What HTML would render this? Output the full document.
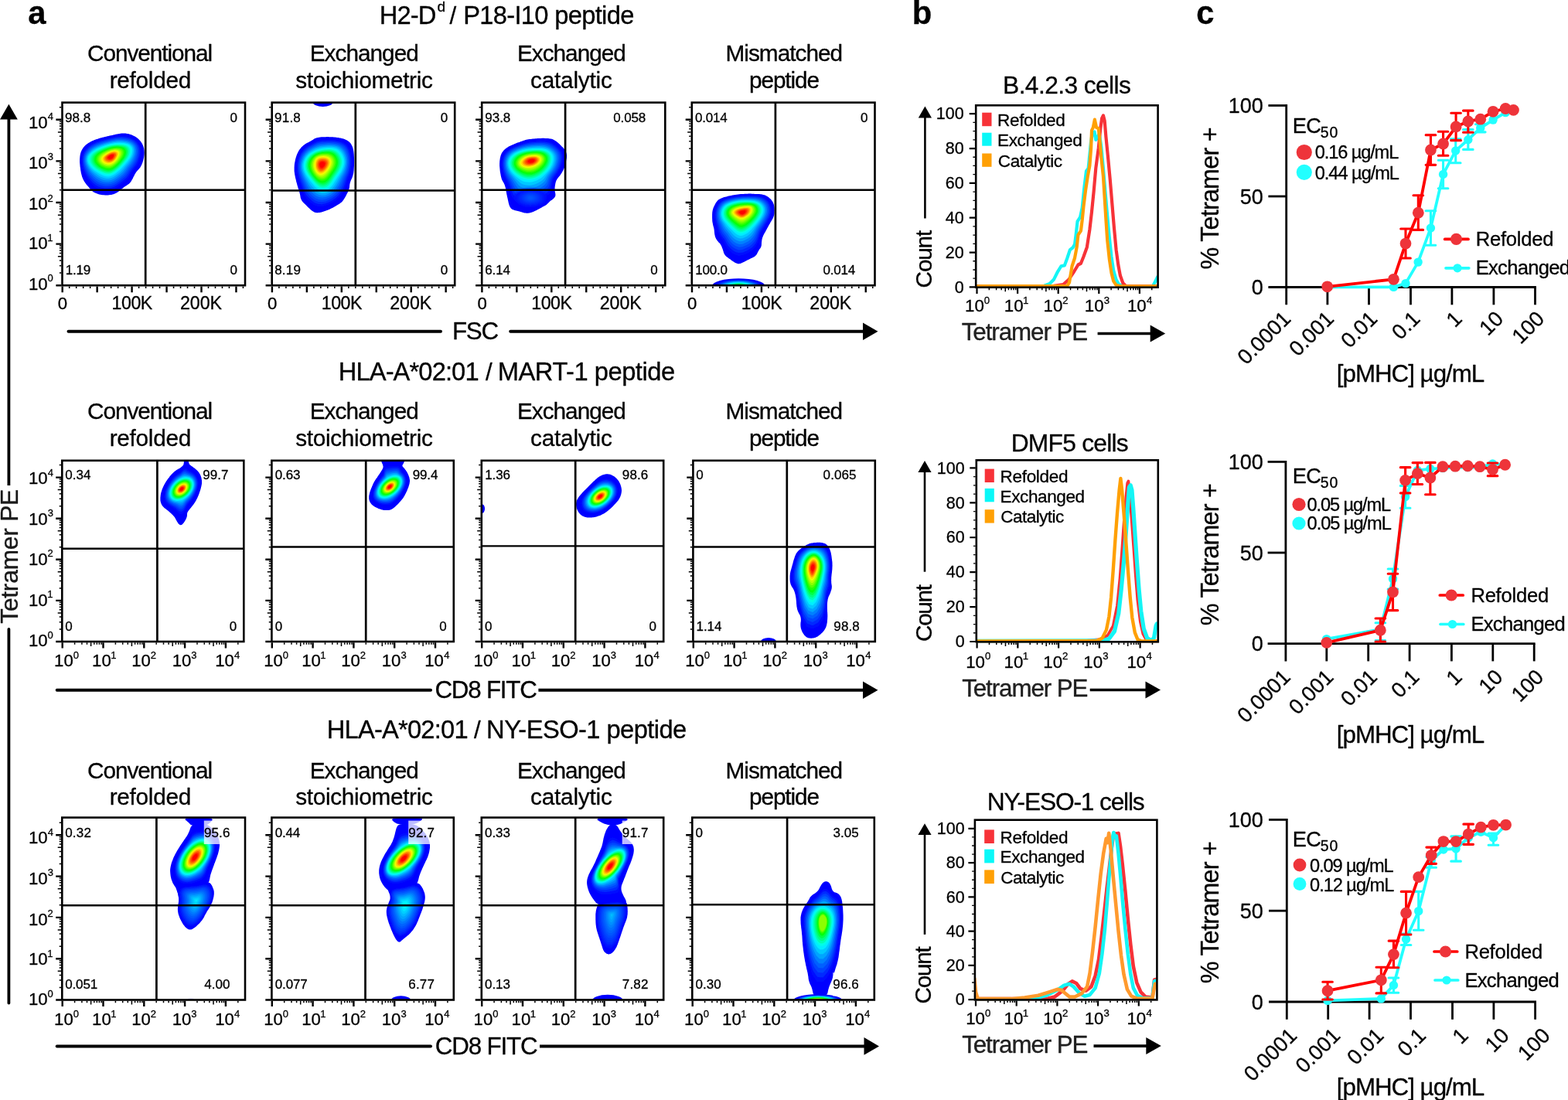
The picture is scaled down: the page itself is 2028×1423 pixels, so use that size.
<!DOCTYPE html>
<html lang="en"><head><meta charset="utf-8"><title>Figure</title>
<style>
html,body{margin:0;padding:0;background:#fff}
body{width:2028px;height:1423px;overflow:hidden}
svg{display:block;font-family:"Liberation Sans",Arial,Helvetica,sans-serif}
svg text{white-space:pre;stroke:#000;stroke-width:.3px;stroke-linejoin:round}
</style></head><body>
<svg width="2028" height="1423" viewBox="0 0 2028 1423" fill="#000">
<defs><filter id="bl" x="-10%" y="-10%" width="120%" height="120%"><feGaussianBlur stdDeviation="0.7"/></filter><filter id="bl2" x="-20%" y="-20%" width="140%" height="140%"><feGaussianBlur stdDeviation="1.6"/></filter></defs>
<g>
<!-- plot a1.1 -->
<clipPath id="cp00"><rect x="80.5" y="132.65" width="236.5" height="236.55"/></clipPath>
<g clip-path="url(#cp00)">
<path d="M161.1 172.5l1.2 0.1 1.1 0.1 1.2 0.2 1.2 0.2 1.2 0.3 1.2 0.4 1.2 0.4 1.2 0.4 1.2 0.6 1.1 0.5 1.1 0.6 1 0.5 1 0.7 0.9 0.6 0.9 0.7 0.9 0.6 0.8 0.8 0.7 0.7 0.7 0.8 0.7 0.8 0.6 0.8 0.6 0.9 0.6 0.9 0.5 0.9 0.5 0.9 0.4 1 0.4 0.9 0.3 1 0.3 1 0.3 1 0.2 1 0.1 1 0.2 1.1 0 1 0.1 1.1 0 1.1 -0.1 1.1 0 1.1 -0.2 1.1 -0.1 1.2 -0.2 1.2 -0.3 1.2 -0.2 1.1 -0.3 1.2 -0.4 1.1 -0.3 1.2 -0.4 1.1 -0.5 1.1 -0.4 1.1 -0.5 1.1 -0.6 1 -0.5 1 -0.6 0.9 -0.7 0.8 -0.6 0.8 -0.7 0.8 -0.7 0.7 -0.7 0.7 -0.6 0.8 -0.7 0.8 -0.6 0.9 -0.5 0.8 -0.6 0.9 -0.5 0.9 -0.4 1 -0.5 0.9 -0.5 0.9 -0.5 1 -0.4 0.9 -0.5 0.9 -0.5 0.9 -0.5 0.8 -0.4 0.9 -0.6 0.8 -0.6 0.9 -0.7 0.7 -0.7 0.8 -0.8 0.7 -0.9 0.7 -1 0.7 -1 0.6 -1 0.6 -1 0.7 -0.9 0.6 -0.9 0.7 -0.9 0.7 -0.9 0.7 -0.8 0.7 -0.8 0.7 -0.8 0.7 -0.8 0.7 -0.9 0.6 -0.9 0.7 -1 0.6 -0.9 0.6 -1 0.5 -1.1 0.6 -1.1 0.5 -1.2 0.4 -1.3 0.4 -1.4 0.3 -1.4 0.2 -1.6 0.2 -1.6 0.1 -1.8 0 -1.7 0 -1.6 -0.1 -1.6 -0.1 -1.6 -0.2 -1.4 -0.3 -1.5 -0.3 -1.4 -0.4 -1.3 -0.4 -1.3 -0.5 -1.2 -0.5 -1.1 -0.6 -1 -0.6 -1 -0.7 -0.8 -0.7 -0.8 -0.7 -0.7 -0.8 -0.8 -0.8 -0.7 -0.8 -0.7 -0.9 -0.8 -0.9 -0.7 -0.8 -0.8 -1 -0.8 -0.9 -0.8 -0.9 -0.7 -1 -0.7 -1 -0.7 -0.9 -0.6 -1 -0.6 -1 -0.5 -1 -0.5 -1 -0.4 -1.1 -0.4 -1 -0.4 -1.1 -0.3 -1.1 -0.3 -1.1 -0.3 -1.1 -0.3 -1.2 -0.2 -1.1 -0.2 -1.2 -0.2 -1.2 -0.2 -1.2 -0.1 -1.2 -0.2 -1.2 -0.2 -1.1 -0.1 -1.2 -0.1 -1.2 -0.1 -1.2 -0.1 -1.2 -0.1 -1.2 0 -1.2 0 -1.1 0 -1.2 0.1 -1.2 0.1 -1.2 0.1 -1.2 0.1 -1.1 0.2 -1.1 0.2 -1.1 0.3 -1 0.3 -1 0.3 -1 0.4 -0.9 0.4 -0.9 0.4 -0.8 0.5 -0.8 0.5 -0.8 0.6 -0.8 0.5 -0.8 0.7 -0.8 0.6 -0.7 0.8 -0.7 0.7 -0.7 0.8 -0.7 0.8 -0.6 0.9 -0.6 0.9 -0.7 1 -0.6 0.9 -0.5 1.1 -0.6 1 -0.5 1.1 -0.5 1.2 -0.5 1.2 -0.5 1.2 -0.5 1.3 -0.5 1.3 -0.4 1.3 -0.5 1.4 -0.4 1.4 -0.4 1.4 -0.4 1.5 -0.4 1.5 -0.4 1.5 -0.4 1.6 -0.3 1.5 -0.4 1.6 -0.4 1.6 -0.3 1.6 -0.4 1.6 -0.3 1.5 -0.4 1.6 -0.3 1.6 -0.4 1.6 -0.3 1.5 -0.3 1.5 -0.3 1.4 -0.2 1.4 -0.1 1.4 -0.1 1.2 0z" fill="#0000ff"/>
<g filter="url(#bl)">
<path d="M181.8 202.6l-1 3.6 -1.3 3.5 -1.6 3.3 -2 2.9 -2.2 2.7 -2 2.7 -1.8 2.8 -1.7 3 -2 3 -2.4 2.7 -2.8 2.3 -3 2.2 -3.1 2.4 -3.4 2.5 -3.8 2 -4.1 1.3 -4.2 0.6 -4.4 -0.1 -4.3 -0.8 -4.2 -1.3 -3.8 -2.2 -3.3 -2.9 -3 -3.1 -2.7 -3.2 -2.3 -3.5 -1.8 -3.6 -1.4 -3.9 -1.1 -3.8 -0.8 -3.8 -0.5 -3.8 0 -3.8 0.4 -3.7 0.9 -3.6 1.6 -3.4 2.1 -3 2.5 -2.6 2.7 -2.2 2.9 -1.8 2.8 -1.4 2.8 -1.2 2.6 -1 2.5 -0.8 2.4 -0.7 2.4 -0.7 2.3 -0.6 2.3 -0.5 2.3 -0.6 2.3 -0.5 2.5 -0.6 2.7 -0.5 2.8 -0.6 3.1 -0.4 3.3 -0.2 3.4 0.2 3.6 0.7 3.5 1.1 3.6 1.5 3.3 2.2 2.8 2.7 2.2 3.3 1.3 3.6 0.7 3.9 0 3.9z" fill="#000eff"/>
<path d="M180 202.6l-1 3.5 -1.4 3.2 -1.6 3.1 -1.9 2.8 -2.1 2.5 -1.9 2.5 -1.7 2.7 -1.7 2.8 -1.8 2.7 -2.3 2.5 -2.6 2.2 -2.8 2.1 -3 2.3 -3.2 2.3 -3.5 1.9 -3.9 1.3 -4 0.5 -4.1 -0.1 -4.1 -0.6 -3.9 -1.3 -3.6 -2 -3.2 -2.6 -2.8 -2.9 -2.7 -3 -2.3 -3.2 -1.9 -3.4 -1.5 -3.6 -1.1 -3.6 -0.9 -3.7 -0.6 -3.6 -0.1 -3.7 0.5 -3.6 1 -3.5 1.7 -3.2 2.1 -2.9 2.5 -2.4 2.7 -2.1 2.8 -1.7 2.7 -1.3 2.6 -1.2 2.5 -0.9 2.4 -0.8 2.3 -0.7 2.2 -0.6 2.2 -0.6 2.2 -0.5 2.2 -0.6 2.2 -0.5 2.4 -0.5 2.5 -0.5 2.7 -0.5 3 -0.4 3.1 -0.2 3.3 0.2 3.4 0.6 3.5 1 3.4 1.4 3.3 2 2.7 2.6 2.1 3.1 1.3 3.6 0.5 3.7 -0.1 3.7z" fill="#0029ff"/>
<path d="M178.2 202.6l-1.1 3.3 -1.4 3.1 -1.6 2.8 -1.8 2.6 -1.9 2.5 -1.9 2.3 -1.6 2.4 -1.6 2.6 -1.8 2.6 -2.1 2.3 -2.5 2 -2.6 2 -2.7 2.1 -3 2.2 -3.3 1.8 -3.7 1.3 -3.7 0.5 -3.9 -0.1 -3.8 -0.6 -3.7 -1.2 -3.4 -1.9 -3 -2.3 -2.8 -2.6 -2.6 -2.8 -2.3 -2.9 -1.9 -3.2 -1.6 -3.3 -1.3 -3.4 -1 -3.5 -0.6 -3.5 -0.1 -3.6 0.5 -3.5 1.1 -3.4 1.8 -3.1 2.2 -2.7 2.5 -2.3 2.6 -1.9 2.7 -1.6 2.6 -1.3 2.5 -1 2.3 -0.9 2.3 -0.8 2.2 -0.6 2.1 -0.7 2 -0.5 2.1 -0.5 2.1 -0.5 2.1 -0.5 2.3 -0.5 2.4 -0.5 2.5 -0.5 2.8 -0.3 3 -0.2 3.2 0.2 3.2 0.5 3.4 0.8 3.4 1.3 3.1 1.9 2.7 2.5 2 3 1.2 3.4 0.4 3.6 -0.3 3.6z" fill="#0045ff"/>
<path d="M176.4 202.6l-1.1 3.1 -1.4 2.9 -1.6 2.7 -1.8 2.4 -1.8 2.3 -1.7 2.1 -1.6 2.3 -1.6 2.4 -1.7 2.3 -2 2.1 -2.3 1.9 -2.4 1.9 -2.5 2 -2.8 2 -3.1 1.7 -3.4 1.2 -3.5 0.6 -3.6 -0.1 -3.6 -0.6 -3.4 -1.1 -3.2 -1.7 -2.9 -2.1 -2.7 -2.4 -2.5 -2.4 -2.3 -2.7 -2 -3 -1.7 -3 -1.3 -3.3 -1.1 -3.3 -0.7 -3.4 -0.1 -3.4 0.5 -3.4 1.3 -3.3 1.8 -2.9 2.2 -2.6 2.5 -2.1 2.6 -1.8 2.6 -1.5 2.4 -1.2 2.4 -1 2.2 -0.8 2.2 -0.8 2 -0.6 2 -0.6 2 -0.5 1.9 -0.5 2 -0.5 2 -0.5 2.2 -0.4 2.2 -0.5 2.5 -0.4 2.6 -0.3 2.8 -0.2 3 0.1 3.1 0.5 3.3 0.7 3.3 1.2 3.1 1.7 2.7 2.4 1.9 2.9 1 3.3 0.3 3.4 -0.4 3.5z" fill="#0060ff"/>
<path d="M174.6 202.6l-1.2 2.9 -1.4 2.7 -1.6 2.5 -1.6 2.3 -1.8 2.1 -1.6 2 -1.5 2.1 -1.5 2.1 -1.6 2.1 -1.9 2 -2.1 1.8 -2.2 1.7 -2.4 1.9 -2.6 1.8 -2.8 1.6 -3.2 1.2 -3.2 0.6 -3.4 -0.1 -3.3 -0.5 -3.2 -1.1 -3 -1.5 -2.8 -1.9 -2.6 -2.1 -2.4 -2.2 -2.3 -2.5 -2.1 -2.6 -1.7 -2.9 -1.5 -3 -1.2 -3.1 -0.7 -3.3 -0.2 -3.3 0.6 -3.3 1.4 -3.1 1.9 -2.8 2.3 -2.5 2.5 -2 2.5 -1.6 2.4 -1.4 2.4 -1.1 2.2 -0.9 2.1 -0.8 2 -0.7 2 -0.7 1.8 -0.5 1.9 -0.6 1.8 -0.4 1.9 -0.5 1.9 -0.4 2.1 -0.5 2.1 -0.4 2.3 -0.4 2.5 -0.2 2.6 -0.2 2.9 0.1 3 0.4 3.1 0.6 3.2 1 3.1 1.6 2.6 2.2 1.8 2.8 0.9 3.2 0.2 3.3 -0.5 3.3z" fill="#0080ff"/>
<path d="M172.8 202.6l-1.2 2.7 -1.5 2.5 -1.5 2.3 -1.6 2.1 -1.7 2 -1.5 1.8 -1.4 1.9 -1.5 1.9 -1.5 1.9 -1.8 1.8 -1.9 1.7 -2 1.6 -2.2 1.7 -2.4 1.7 -2.6 1.5 -2.9 1.2 -3 0.5 -3.1 0 -3.1 -0.5 -2.9 -1 -2.8 -1.3 -2.7 -1.7 -2.5 -1.8 -2.4 -2 -2.2 -2.2 -2.1 -2.4 -1.8 -2.6 -1.6 -2.8 -1.3 -3 -0.8 -3.1 -0.2 -3.2 0.6 -3.2 1.5 -3 2 -2.7 2.4 -2.2 2.4 -1.9 2.5 -1.5 2.3 -1.3 2.3 -1 2.1 -0.9 1.9 -0.8 1.9 -0.6 1.8 -0.6 1.8 -0.6 1.7 -0.5 1.8 -0.4 1.7 -0.5 1.8 -0.4 1.9 -0.4 2 -0.4 2.2 -0.3 2.3 -0.3 2.5 -0.1 2.7 0.1 2.9 0.3 3 0.5 3.2 0.9 3 1.4 2.5 2.1 1.7 2.7 0.9 3.1 0 3.2 -0.6 3.1z" fill="#00a4ff"/>
<path d="M171.1 202.6l-1.4 2.5 -1.5 2.4 -1.5 2.1 -1.5 1.9 -1.5 1.8 -1.5 1.7 -1.4 1.7 -1.3 1.7 -1.5 1.7 -1.6 1.6 -1.7 1.5 -1.9 1.5 -2 1.6 -2.1 1.5 -2.4 1.4 -2.7 1.1 -2.7 0.6 -2.9 0 -2.8 -0.5 -2.7 -0.9 -2.6 -1.1 -2.5 -1.5 -2.4 -1.6 -2.4 -1.7 -2.2 -1.9 -2.2 -2.2 -1.9 -2.3 -1.7 -2.6 -1.4 -2.8 -0.8 -3 -0.2 -3.1 0.6 -3.1 1.6 -2.9 2.1 -2.5 2.4 -2.1 2.5 -1.8 2.4 -1.4 2.2 -1.1 2.1 -1 2 -0.8 1.8 -0.7 1.8 -0.6 1.7 -0.6 1.6 -0.5 1.6 -0.5 1.7 -0.4 1.6 -0.5 1.7 -0.3 1.8 -0.4 1.9 -0.4 2 -0.2 2.2 -0.3 2.3 -0.1 2.6 0 2.7 0.3 2.9 0.4 3.1 0.8 3 1.3 2.4 1.9 1.7 2.6 0.7 2.9 -0.1 3.1 -0.7 3z" fill="#00c9ff"/>
<path d="M169.3 202.6l-1.4 2.4 -1.5 2.1 -1.5 1.9 -1.5 1.8 -1.4 1.6 -1.3 1.5 -1.4 1.6 -1.3 1.4 -1.4 1.5 -1.4 1.4 -1.6 1.4 -1.7 1.4 -1.7 1.4 -2 1.4 -2.2 1.3 -2.4 1.1 -2.5 0.6 -2.6 0 -2.6 -0.5 -2.4 -0.7 -2.5 -1.1 -2.3 -1.2 -2.3 -1.3 -2.3 -1.5 -2.2 -1.6 -2.2 -1.9 -2 -2.1 -1.8 -2.4 -1.5 -2.7 -1 -2.8 -0.2 -3 0.7 -3 1.7 -2.8 2.2 -2.4 2.5 -1.9 2.4 -1.6 2.3 -1.3 2.2 -1 2 -0.9 1.8 -0.7 1.7 -0.7 1.7 -0.6 1.5 -0.5 1.6 -0.5 1.5 -0.5 1.5 -0.4 1.5 -0.4 1.6 -0.4 1.7 -0.3 1.8 -0.3 1.8 -0.3 2.1 -0.2 2.1 -0.1 2.4 0 2.6 0.2 2.9 0.3 3 0.6 2.9 1.2 2.3 1.8 1.6 2.4 0.6 2.9 -0.2 2.9 -0.8 2.8z" fill="#00edff"/>
<path d="M167.6 202.6l-1.4 2.2 -1.5 2 -1.4 1.7 -1.4 1.6 -1.3 1.6 -1.2 1.4 -1.3 1.4 -1.2 1.3 -1.3 1.3 -1.4 1.3 -1.4 1.3 -1.5 1.3 -1.7 1.3 -1.8 1.3 -2 1.2 -2.2 1 -2.3 0.5 -2.4 0.1 -2.4 -0.4 -2.3 -0.7 -2.2 -0.9 -2.2 -1.1 -2.2 -1.1 -2.2 -1.4 -2.2 -1.4 -2.1 -1.7 -2 -2 -1.8 -2.2 -1.5 -2.5 -0.9 -2.7 -0.2 -2.9 0.7 -2.8 1.7 -2.6 2.2 -2.3 2.4 -1.8 2.4 -1.4 2.2 -1.2 2 -1 1.9 -0.8 1.7 -0.7 1.6 -0.6 1.5 -0.6 1.4 -0.5 1.5 -0.5 1.4 -0.4 1.4 -0.4 1.4 -0.4 1.5 -0.4 1.6 -0.3 1.7 -0.3 1.7 -0.2 1.9 -0.2 2 -0.1 2.3 0 2.4 0.1 2.7 0.3 2.9 0.5 2.8 1.1 2.2 1.7 1.5 2.4 0.5 2.6 -0.3 2.8 -0.8 2.7z" fill="#00ffe6"/>
<path d="M166 202.6l-1.3 2 -1.4 1.9 -1.3 1.6 -1.3 1.6 -1.2 1.4 -1.2 1.3 -1.1 1.3 -1.2 1.2 -1.2 1.3 -1.3 1.2 -1.3 1.2 -1.4 1.2 -1.6 1.2 -1.7 1.2 -1.8 1.1 -2.1 0.9 -2.1 0.6 -2.3 0 -2.2 -0.3 -2.2 -0.7 -2.1 -0.8 -2.1 -0.9 -2.1 -1.1 -2 -1.2 -2.1 -1.4 -2 -1.6 -1.9 -1.9 -1.6 -2.1 -1.4 -2.3 -0.8 -2.6 -0.1 -2.7 0.7 -2.6 1.6 -2.5 2 -2 2.3 -1.7 2.2 -1.4 2 -1.1 1.9 -0.9 1.8 -0.7 1.6 -0.7 1.4 -0.6 1.4 -0.5 1.4 -0.5 1.3 -0.5 1.4 -0.4 1.3 -0.4 1.3 -0.4 1.4 -0.3 1.5 -0.3 1.6 -0.3 1.6 -0.2 1.8 -0.2 1.9 -0.1 2.1 0 2.3 0.1 2.6 0.2 2.7 0.6 2.5 1 2.1 1.7 1.3 2.1 0.5 2.6 -0.3 2.6 -0.8 2.5z" fill="#00ffb3"/>
<path d="M164.4 202.6l-1.2 1.9 -1.3 1.7 -1.2 1.5 -1.2 1.5 -1.1 1.3 -1.1 1.2 -1 1.2 -1.1 1.2 -1.2 1.1 -1.1 1.2 -1.3 1.1 -1.3 1.1 -1.5 1.1 -1.5 1.1 -1.8 1 -1.9 0.9 -2 0.5 -2.1 0.1 -2 -0.3 -2.1 -0.6 -2 -0.7 -2 -0.9 -1.9 -1 -2 -1.1 -1.9 -1.3 -1.9 -1.5 -1.7 -1.7 -1.6 -2 -1.2 -2.2 -0.7 -2.4 0 -2.5 0.7 -2.5 1.5 -2.3 1.9 -1.9 2.1 -1.6 2 -1.2 1.9 -1.1 1.8 -0.8 1.6 -0.7 1.4 -0.6 1.4 -0.6 1.3 -0.5 1.3 -0.5 1.2 -0.4 1.2 -0.4 1.3 -0.4 1.2 -0.3 1.3 -0.4 1.4 -0.3 1.5 -0.2 1.5 -0.3 1.7 -0.1 1.8 -0.1 2 0 2.1 0 2.4 0.3 2.5 0.5 2.4 1 1.9 1.6 1.1 2 0.4 2.4 -0.2 2.4 -0.7 2.3z" fill="#00ff80"/>
<path d="M162.7 202.6l-1 1.7 -1.2 1.6 -1.1 1.5 -1.1 1.3 -1 1.2 -1 1.1 -1 1.2 -1 1 -1 1.1 -1.1 1.1 -1.2 1 -1.2 1 -1.3 1 -1.5 1 -1.6 1 -1.8 0.8 -1.8 0.4 -2 0.1 -1.9 -0.2 -1.9 -0.5 -1.9 -0.6 -1.8 -0.8 -1.9 -0.9 -1.8 -1.1 -1.8 -1.2 -1.8 -1.4 -1.6 -1.6 -1.4 -1.9 -1.1 -2 -0.6 -2.3 0.1 -2.3 0.7 -2.3 1.4 -2.1 1.8 -1.8 1.9 -1.4 1.9 -1.2 1.7 -0.9 1.6 -0.8 1.4 -0.7 1.4 -0.6 1.3 -0.5 1.2 -0.5 1.1 -0.4 1.2 -0.4 1.1 -0.4 1.1 -0.4 1.2 -0.3 1.2 -0.3 1.3 -0.3 1.4 -0.3 1.4 -0.2 1.6 -0.2 1.7 -0.1 1.8 0 2.1 0.1 2.2 0.3 2.3 0.5 2.1 0.9 1.7 1.5 1.1 1.9 0.3 2.2 -0.3 2.3 -0.6 2.1z" fill="#00ff47"/>
<path d="M161.1 202.6l-0.9 1.6 -1.1 1.5 -1 1.3 -0.9 1.2 -1 1.1 -0.9 1.1 -0.9 1 -0.9 1 -1 1 -1 0.9 -1.1 1 -1.1 0.9 -1.2 0.9 -1.4 1 -1.4 0.8 -1.7 0.7 -1.7 0.5 -1.8 0.1 -1.7 -0.2 -1.8 -0.4 -1.7 -0.6 -1.8 -0.7 -1.7 -0.8 -1.7 -1 -1.7 -1.1 -1.6 -1.3 -1.5 -1.5 -1.3 -1.7 -1 -2 -0.5 -2 0.2 -2.2 0.7 -2.1 1.3 -1.9 1.7 -1.6 1.7 -1.4 1.7 -1 1.6 -0.9 1.4 -0.7 1.3 -0.7 1.3 -0.5 1.1 -0.5 1.1 -0.4 1.1 -0.5 1 -0.3 1.1 -0.4 1 -0.4 1.1 -0.3 1.1 -0.3 1.2 -0.3 1.3 -0.2 1.3 -0.2 1.5 -0.2 1.6 -0.1 1.7 0 1.9 0.1 2 0.2 2.1 0.5 2 0.9 1.5 1.4 0.9 1.8 0.3 2 -0.3 2.1 -0.6 2z" fill="#00ff0e"/>
<path d="M159.5 202.6l-0.8 1.5 -1 1.3 -0.9 1.2 -0.8 1.1 -0.9 1 -0.8 1 -0.8 0.9 -0.9 1 -0.9 0.8 -0.9 0.9 -1 0.9 -1 0.8 -1.1 0.9 -1.3 0.8 -1.3 0.7 -1.5 0.7 -1.5 0.4 -1.7 0.1 -1.6 -0.1 -1.6 -0.3 -1.6 -0.5 -1.6 -0.6 -1.7 -0.8 -1.6 -0.8 -1.5 -1.1 -1.5 -1.2 -1.4 -1.4 -1.1 -1.6 -0.9 -1.8 -0.3 -1.9 0.2 -2 0.7 -1.9 1.3 -1.7 1.5 -1.5 1.5 -1.2 1.5 -1 1.4 -0.8 1.3 -0.6 1.2 -0.6 1.1 -0.5 1.1 -0.5 1 -0.4 0.9 -0.4 1 -0.4 0.9 -0.3 1 -0.3 1 -0.3 1 -0.3 1.1 -0.3 1.2 -0.3 1.2 -0.2 1.4 -0.1 1.5 -0.1 1.6 -0.1 1.7 0.1 1.8 0.3 2 0.5 1.7 0.8 1.4 1.3 0.7 1.7 0.2 1.9 -0.2 1.8 -0.6 1.8z" fill="#26ff00"/>
<path d="M157.9 202.6l-0.8 1.3 -0.8 1.2 -0.8 1.1 -0.7 1 -0.8 0.9 -0.7 0.9 -0.8 0.9 -0.7 0.8 -0.8 0.8 -0.9 0.8 -0.8 0.8 -1 0.7 -1 0.8 -1.1 0.7 -1.2 0.7 -1.4 0.6 -1.4 0.3 -1.4 0.2 -1.5 -0.1 -1.5 -0.3 -1.5 -0.3 -1.5 -0.6 -1.5 -0.6 -1.5 -0.8 -1.4 -0.9 -1.4 -1.2 -1.2 -1.2 -1 -1.5 -0.8 -1.7 -0.2 -1.8 0.2 -1.8 0.8 -1.7 1.2 -1.6 1.3 -1.3 1.4 -1 1.4 -0.9 1.2 -0.7 1.2 -0.7 1 -0.5 1 -0.5 0.9 -0.4 0.9 -0.4 0.9 -0.3 0.9 -0.4 0.8 -0.3 0.9 -0.3 0.9 -0.3 0.9 -0.3 1 -0.3 1.1 -0.2 1.2 -0.2 1.2 -0.2 1.3 -0.1 1.5 0 1.6 0.1 1.7 0.2 1.7 0.5 1.6 0.8 1.1 1.3 0.7 1.5 0.1 1.7 -0.3 1.7 -0.5 1.6z" fill="#59ff00"/>
<path d="M156.3 202.6l-0.7 1.2 -0.7 1 -0.7 1 -0.6 0.9 -0.7 0.8 -0.6 0.8 -0.7 0.8 -0.7 0.8 -0.7 0.7 -0.7 0.7 -0.8 0.7 -0.9 0.6 -0.9 0.7 -1 0.6 -1.1 0.6 -1.2 0.5 -1.2 0.4 -1.3 0.1 -1.4 0 -1.3 -0.2 -1.4 -0.3 -1.4 -0.4 -1.3 -0.6 -1.4 -0.7 -1.3 -0.8 -1.3 -1 -1.1 -1.2 -0.9 -1.4 -0.6 -1.5 -0.1 -1.6 0.3 -1.7 0.8 -1.5 1.1 -1.4 1.2 -1.1 1.2 -1 1.2 -0.8 1.1 -0.6 1 -0.6 0.9 -0.5 0.9 -0.4 0.8 -0.4 0.8 -0.3 0.8 -0.4 0.7 -0.3 0.8 -0.3 0.8 -0.3 0.8 -0.3 0.8 -0.3 0.9 -0.2 1 -0.2 1.1 -0.3 1.1 -0.1 1.2 -0.1 1.4 -0.1 1.4 0.1 1.5 0.3 1.6 0.5 1.3 0.8 1 1.1 0.5 1.4 0.1 1.5 -0.3 1.5 -0.5 1.5z" fill="#8cff00"/>
<path d="M154.7 202.6l-0.6 1 -0.6 0.9 -0.5 0.9 -0.6 0.8 -0.6 0.7 -0.5 0.8 -0.6 0.6 -0.6 0.7 -0.7 0.6 -0.6 0.7 -0.7 0.6 -0.8 0.6 -0.8 0.5 -0.9 0.6 -0.9 0.5 -1.1 0.4 -1.1 0.3 -1.1 0.2 -1.2 0 -1.3 -0.1 -1.2 -0.2 -1.2 -0.4 -1.3 -0.4 -1.2 -0.6 -1.2 -0.8 -1.1 -0.9 -1 -1.1 -0.8 -1.2 -0.5 -1.4 0 -1.5 0.4 -1.5 0.8 -1.3 1 -1.2 1.1 -1 1 -0.8 1 -0.7 1 -0.6 0.8 -0.5 0.8 -0.4 0.7 -0.4 0.8 -0.4 0.6 -0.3 0.7 -0.3 0.7 -0.3 0.7 -0.3 0.7 -0.3 0.7 -0.3 0.7 -0.2 0.9 -0.3 0.8 -0.2 1 -0.2 1 -0.2 1.1 -0.1 1.2 0 1.3 0.1 1.4 0.2 1.3 0.5 1.1 0.8 0.9 1 0.3 1.3 0 1.3 -0.2 1.4 -0.5 1.2z" fill="#bfff00"/>
<path d="M153.1 202.6l-0.5 0.9 -0.5 0.8 -0.4 0.7 -0.5 0.7 -0.5 0.7 -0.5 0.6 -0.5 0.6 -0.5 0.6 -0.5 0.5 -0.6 0.5 -0.6 0.6 -0.7 0.5 -0.7 0.4 -0.7 0.5 -0.9 0.4 -0.9 0.4 -0.9 0.2 -1 0.2 -1.1 0.1 -1.1 0 -1.1 -0.2 -1.1 -0.2 -1.1 -0.4 -1.2 -0.5 -1 -0.7 -1 -0.8 -0.9 -1 -0.6 -1.1 -0.3 -1.2 0 -1.4 0.5 -1.3 0.8 -1.1 0.9 -1 1 -0.9 0.9 -0.7 0.8 -0.6 0.7 -0.5 0.7 -0.4 0.7 -0.4 0.6 -0.3 0.6 -0.4 0.6 -0.3 0.6 -0.3 0.6 -0.2 0.5 -0.3 0.6 -0.3 0.7 -0.2 0.6 -0.3 0.8 -0.2 0.7 -0.2 0.9 -0.2 0.9 -0.2 1 -0.1 1.1 0 1.1 0.1 1.2 0.2 1.1 0.4 1 0.8 0.6 0.9 0.3 1.2 -0.1 1.2 -0.3 1.1 -0.3 1.1z" fill="#f2ff00"/>
<path d="M151.9 202.6l-0.4 0.7 -0.4 0.7 -0.4 0.7 -0.5 0.6 -0.4 0.6 -0.4 0.5 -0.4 0.6 -0.5 0.5 -0.4 0.5 -0.5 0.4 -0.6 0.5 -0.6 0.4 -0.6 0.4 -0.7 0.4 -0.7 0.4 -0.8 0.3 -0.8 0.2 -0.9 0.2 -0.9 0.1 -1 0 -1 -0.1 -1 -0.2 -1 -0.3 -1 -0.5 -1 -0.5 -0.9 -0.8 -0.7 -0.9 -0.6 -1 -0.2 -1.1 0.1 -1.1 0.5 -1.2 0.8 -1 0.8 -0.9 0.8 -0.7 0.8 -0.6 0.7 -0.5 0.6 -0.5 0.6 -0.4 0.6 -0.3 0.5 -0.3 0.5 -0.3 0.5 -0.3 0.5 -0.3 0.5 -0.2 0.6 -0.3 0.5 -0.2 0.6 -0.2 0.5 -0.3 0.7 -0.2 0.7 -0.2 0.7 -0.2 0.8 -0.1 1 -0.2 0.9 0 1 0.1 1.1 0.2 1 0.5 0.8 0.6 0.5 0.9 0.2 1 -0.1 1.1 -0.3 1 -0.3 0.9z" fill="#ffd600"/>
<path d="M150.6 202.6l-0.4 0.6 -0.3 0.6 -0.4 0.6 -0.3 0.5 -0.3 0.5 -0.4 0.4 -0.3 0.5 -0.4 0.4 -0.4 0.4 -0.5 0.4 -0.4 0.4 -0.5 0.4 -0.5 0.3 -0.6 0.3 -0.6 0.3 -0.7 0.3 -0.7 0.2 -0.7 0.1 -0.8 0.1 -0.8 0 -0.8 0 -0.9 -0.2 -0.9 -0.3 -0.8 -0.4 -0.8 -0.5 -0.8 -0.6 -0.6 -0.7 -0.4 -0.9 -0.3 -0.9 0.1 -1 0.5 -1 0.6 -0.8 0.7 -0.8 0.7 -0.6 0.6 -0.5 0.6 -0.4 0.6 -0.4 0.5 -0.3 0.4 -0.3 0.5 -0.3 0.4 -0.2 0.5 -0.3 0.4 -0.2 0.4 -0.2 0.4 -0.2 0.5 -0.2 0.4 -0.2 0.5 -0.2 0.6 -0.2 0.6 -0.1 0.6 -0.2 0.7 -0.1 0.8 -0.1 0.8 -0.1 0.8 0.1 0.9 0.2 0.8 0.4 0.7 0.5 0.4 0.8 0.2 0.8 -0.1 0.9 -0.2 0.9 -0.3 0.8z" fill="#ff9700"/>
<path d="M149.3 202.6l-0.3 0.5 -0.3 0.5 -0.3 0.4 -0.2 0.4 -0.3 0.4 -0.3 0.4 -0.3 0.4 -0.3 0.3 -0.3 0.4 -0.4 0.3 -0.3 0.3 -0.4 0.3 -0.5 0.3 -0.4 0.2 -0.5 0.3 -0.6 0.2 -0.5 0.1 -0.6 0.2 -0.7 0.1 -0.6 0 -0.7 -0.1 -0.7 -0.2 -0.7 -0.2 -0.7 -0.3 -0.7 -0.4 -0.6 -0.5 -0.5 -0.6 -0.3 -0.7 -0.2 -0.7 0.1 -0.8 0.3 -0.8 0.5 -0.7 0.6 -0.6 0.6 -0.5 0.5 -0.4 0.5 -0.4 0.4 -0.3 0.4 -0.3 0.4 -0.2 0.4 -0.2 0.3 -0.2 0.4 -0.2 0.3 -0.2 0.3 -0.2 0.4 -0.1 0.4 -0.2 0.3 -0.1 0.4 -0.2 0.5 -0.1 0.5 -0.2 0.5 -0.1 0.5 -0.1 0.6 -0.1 0.7 0 0.7 0 0.7 0.2 0.7 0.3 0.5 0.4 0.4 0.6 0.1 0.7 0 0.8 -0.2 0.7 -0.3 0.6z" fill="#ff5e00"/>
<path d="M148 202.6l-0.2 0.4 -0.3 0.4 -0.2 0.3 -0.2 0.3 -0.2 0.3 -0.2 0.3 -0.2 0.3 -0.3 0.3 -0.2 0.2 -0.3 0.3 -0.3 0.2 -0.3 0.2 -0.3 0.2 -0.4 0.2 -0.3 0.2 -0.5 0.2 -0.4 0.1 -0.5 0.1 -0.5 0.1 -0.5 0 -0.5 -0.1 -0.5 -0.1 -0.6 -0.2 -0.5 -0.2 -0.5 -0.3 -0.5 -0.4 -0.3 -0.4 -0.3 -0.6 -0.2 -0.6 0.1 -0.6 0.3 -0.6 0.4 -0.5 0.4 -0.5 0.4 -0.4 0.4 -0.3 0.4 -0.3 0.3 -0.2 0.3 -0.2 0.3 -0.2 0.3 -0.1 0.3 -0.2 0.3 -0.1 0.2 -0.2 0.3 -0.1 0.3 -0.1 0.2 -0.2 0.3 -0.1 0.3 -0.1 0.4 -0.1 0.3 -0.1 0.4 -0.1 0.5 -0.1 0.4 -0.1 0.6 0 0.5 0.1 0.5 0.1 0.6 0.2 0.4 0.3 0.2 0.5 0.1 0.5 0 0.6 -0.1 0.5 -0.2 0.5z" fill="#ff2f00"/>
<path d="M146.7 202.6l-0.2 0.3 -0.1 0.2 -0.2 0.3 -0.1 0.2 -0.2 0.2 -0.1 0.2 -0.2 0.2 -0.2 0.2 -0.1 0.2 -0.2 0.1 -0.2 0.2 -0.2 0.2 -0.3 0.1 -0.2 0.1 -0.3 0.2 -0.3 0.1 -0.3 0.1 -0.3 0.1 -0.3 0 -0.4 0 -0.4 0 -0.3 -0.1 -0.4 -0.1 -0.4 -0.2 -0.3 -0.2 -0.4 -0.3 -0.2 -0.3 -0.2 -0.4 -0.1 -0.4 0 -0.4 0.2 -0.4 0.3 -0.4 0.3 -0.3 0.3 -0.3 0.3 -0.2 0.2 -0.2 0.3 -0.2 0.2 -0.1 0.2 -0.2 0.2 -0.1 0.2 -0.1 0.2 -0.1 0.1 -0.1 0.2 -0.1 0.2 -0.1 0.2 -0.1 0.2 0 0.2 -0.1 0.3 -0.1 0.2 -0.1 0.3 -0.1 0.3 0 0.3 -0.1 0.4 0 0.4 0.1 0.4 0.1 0.3 0.1 0.3 0.3 0.2 0.3 0.1 0.4 -0.1 0.3 -0.1 0.4 -0.1 0.4z" fill="#ff0000"/>
</g>
</g>
<line x1="188.2" y1="132.65" x2="188.2" y2="369.2" stroke="#000" stroke-width="2.7"/>
<line x1="80.5" y1="245.8" x2="317" y2="245.8" stroke="#000" stroke-width="2.4"/>
<rect x="80.5" y="132.65" width="236.5" height="236.55" fill="none" stroke="#000" stroke-width="2.6"/>
<path d="M72.4 369.2L79.3 369.2M72.4 315.6L79.3 315.6M72.4 262L79.3 262M72.4 208.4L79.3 208.4M72.4 154.8L79.3 154.8" stroke="#000" stroke-width="2.4" fill="none"/>
<path d="M74.9 331.74L79.3 331.74M74.9 278.14L79.3 278.14M74.9 224.54L79.3 224.54M74.9 170.94L79.3 170.94" stroke="#000" stroke-width="1.5" fill="none"/>
<path d="M76.9 353.06L79.3 353.06M76.9 343.63L79.3 343.63M76.9 336.93L79.3 336.93M76.9 327.49L79.3 327.49M76.9 323.9L79.3 323.9M76.9 320.79L79.3 320.79M76.9 318.05L79.3 318.05M76.9 299.46L79.3 299.46M76.9 290.03L79.3 290.03M76.9 283.33L79.3 283.33M76.9 273.89L79.3 273.89M76.9 270.3L79.3 270.3M76.9 267.19L79.3 267.19M76.9 264.45L79.3 264.45M76.9 245.86L79.3 245.86M76.9 236.43L79.3 236.43M76.9 229.73L79.3 229.73M76.9 220.29L79.3 220.29M76.9 216.7L79.3 216.7M76.9 213.59L79.3 213.59M76.9 210.85L79.3 210.85M76.9 192.26L79.3 192.26M76.9 182.83L79.3 182.83M76.9 176.13L79.3 176.13M76.9 166.69L79.3 166.69M76.9 163.1L79.3 163.1M76.9 159.99L79.3 159.99M76.9 157.25L79.3 157.25M76.9 138.66L79.3 138.66" stroke="#000" stroke-width="1.5" fill="none"/>
<path d="M80.7 370.4L80.7 378.2M125.65 370.4L125.65 378.2M170.6 370.4L170.6 378.2M215.55 370.4L215.55 378.2M260.5 370.4L260.5 378.2M305.45 370.4L305.45 378.2" stroke="#000" stroke-width="2.4" fill="none"/>
<path d="M89.69 370.4L89.69 373M98.68 370.4L98.68 373M107.67 370.4L107.67 373M116.66 370.4L116.66 373M134.64 370.4L134.64 373M143.63 370.4L143.63 373M152.62 370.4L152.62 373M161.61 370.4L161.61 373M179.59 370.4L179.59 373M188.58 370.4L188.58 373M197.57 370.4L197.57 373M206.56 370.4L206.56 373M224.54 370.4L224.54 373M233.53 370.4L233.53 373M242.52 370.4L242.52 373M251.51 370.4L251.51 373M269.49 370.4L269.49 373M278.48 370.4L278.48 373M287.47 370.4L287.47 373M296.46 370.4L296.46 373M314.44 370.4L314.44 373" stroke="#000" stroke-width="1.6" fill="none"/>
<text x="74.71" y="400.4" font-size="22.2">0</text>
<text x="144.56" y="400.4" font-size="23.2" textLength="52.74" lengthAdjust="spacing">100K</text>
<text x="233.04" y="400.4" font-size="23.2" textLength="53.96" lengthAdjust="spacing">200K</text>
<text x="36.94" y="375" font-size="22.2" textLength="24.69" lengthAdjust="spacing">10</text>
<text x="61.62" y="364.45" font-size="13">0</text>
<text x="36.94" y="322.4" font-size="22.2" textLength="24.69" lengthAdjust="spacing">10</text>
<text x="61.17" y="311.85" font-size="13">1</text>
<text x="36.94" y="271.3" font-size="22.2" textLength="24.69" lengthAdjust="spacing">10</text>
<text x="61.49" y="260.75" font-size="13">2</text>
<text x="36.94" y="218" font-size="22.2" textLength="24.69" lengthAdjust="spacing">10</text>
<text x="61.66" y="207.46" font-size="13">3</text>
<text x="36.94" y="165.7" font-size="22.2" textLength="24.69" lengthAdjust="spacing">10</text>
<text x="61.85" y="155.16" font-size="13">4</text>
<text x="84.09" y="158.1" font-size="17" textLength="33.15" lengthAdjust="spacing">98.8</text>
<text x="297.52" y="158.1" font-size="17">0</text>
<text x="84.72" y="354.8" font-size="17" textLength="32.56" lengthAdjust="spacing">1.19</text>
<text x="297.52" y="354.8" font-size="17">0</text>
<!-- plot a1.2 -->
<clipPath id="cp01"><rect x="351.7" y="132.65" width="236.5" height="236.55"/></clipPath>
<g clip-path="url(#cp01)">
<ellipse cx="417.57" cy="132.17" rx="12.91" ry="5.74" fill="#0000ff"/>
<path d="M415.7 177.3l1.8 0 1.8 -0.1 1.7 0 1.7 -0.1 1.6 0 1.6 0.1 1.6 0 1.5 0.1 1.5 0 1.5 0.1 1.4 0.2 1.5 0.1 1.4 0.2 1.4 0.2 1.4 0.3 1.3 0.2 1.4 0.3 1.3 0.4 1.2 0.3 1.2 0.5 1.1 0.4 1.1 0.5 1 0.5 0.9 0.6 0.9 0.6 0.9 0.6 0.7 0.7 0.8 0.8 0.6 0.8 0.7 0.9 0.5 0.9 0.5 1 0.5 1.1 0.4 1.1 0.4 1.2 0.3 1.3 0.3 1.3 0.2 1.4 0.2 1.5 0.2 1.6 0.1 1.6 0.1 1.7 0.1 1.7 0 1.7 0.1 1.7 0 1.7 0 1.8 -0.1 1.7 0 1.8 -0.1 1.7 -0.1 1.6 -0.1 1.6 -0.1 1.4 -0.2 1.3 -0.1 1.2 -0.2 1.2 -0.3 1 -0.2 1 -0.3 1.1 -0.3 0.9 -0.3 1 -0.4 1 -0.4 0.9 -0.4 0.9 -0.5 0.9 -0.4 0.9 -0.3 1 -0.3 0.9 -0.3 1 -0.2 1 -0.2 1 -0.1 1 -0.1 1.1 -0.1 1 -0.2 1 -0.2 1.1 -0.3 1 -0.4 1.1 -0.4 1 -0.5 1.1 -0.5 1 -0.5 1.1 -0.6 1 -0.5 1.1 -0.6 1 -0.5 1.1 -0.6 1 -0.6 1 -0.6 1.1 -0.7 1 -0.7 1 -0.8 0.9 -0.9 0.9 -1 0.9 -1.1 0.8 -1.1 0.8 -1.2 0.7 -1.2 0.7 -1.2 0.8 -1.3 0.7 -1.2 0.7 -1.3 0.7 -1.3 0.7 -1.4 0.7 -1.3 0.7 -1.4 0.6 -1.4 0.6 -1.4 0.6 -1.4 0.5 -1.4 0.5 -1.5 0.5 -1.4 0.4 -1.5 0.4 -1.4 0.3 -1.3 0.3 -1.3 0.1 -1.1 0.1 -1 0 -0.9 -0.1 -0.9 -0.2 -0.7 -0.2 -0.8 -0.3 -0.8 -0.4 -0.8 -0.5 -0.8 -0.5 -0.8 -0.6 -0.9 -0.7 -0.9 -0.8 -0.9 -0.8 -0.9 -0.8 -0.9 -0.9 -1 -0.9 -0.9 -1 -1 -0.9 -1 -1 -1.1 -1 -1 -1.1 -1 -1 -0.8 -1.1 -0.7 -1 -0.6 -1.1 -0.5 -1 -0.3 -1.1 -0.3 -1 -0.1 -1 -0.2 -1.1 -0.2 -1 -0.2 -1 -0.2 -0.9 -0.3 -1 -0.2 -0.9 -0.3 -0.9 -0.3 -0.9 -0.3 -1 -0.3 -1 -0.4 -1.1 -0.3 -1.1 -0.4 -1.2 -0.3 -1.2 -0.4 -1.3 -0.3 -1.3 -0.4 -1.4 -0.4 -1.4 -0.3 -1.4 -0.3 -1.4 -0.4 -1.4 -0.3 -1.5 -0.3 -1.5 -0.3 -1.5 -0.2 -1.5 -0.2 -1.5 -0.2 -1.6 0 -1.5 0 -1.6 0 -1.6 0.1 -1.6 0.1 -1.7 0.2 -1.6 0.3 -1.6 0.3 -1.6 0.3 -1.6 0.4 -1.5 0.4 -1.5 0.5 -1.6 0.5 -1.5 0.6 -1.4 0.6 -1.4 0.7 -1.3 0.7 -1.3 0.7 -1.2 0.8 -1.1 0.9 -1.1 0.9 -1.1 0.9 -1 1 -0.9 1 -0.9 1 -0.8 1.1 -0.8 1.1 -0.7 1.2 -0.6 1.2 -0.6 1.1 -0.6 1.2 -0.6 1 -0.6 1.1 -0.6 1 -0.6 1 -0.6 0.9 -0.6 0.9 -0.6 1 -0.6 1.1 -0.4 1.3 -0.4 1.3 -0.4 1.5 -0.2 1.5 -0.2z" fill="#0000ff"/>
<g filter="url(#bl)">
<path d="M454.7 212.8l-0.4 3.8 -0.5 3.6 -0.8 3.7 -1.2 3.5 -1.4 3.5 -1.3 3.6 -1.1 4.1 -1.5 4.2 -1.9 4.1 -2.4 4.2 -3.1 3.9 -3.6 3.3 -4.2 2.9 -4.6 2.5 -4.9 2 -5.2 1.3 -5.3 0.1 -5.1 -1.8 -4.5 -3.3 -3.9 -3.8 -3.3 -4 -2.4 -4.7 -1.6 -4.8 -1.4 -4.3 -1.3 -3.9 -1.2 -3.6 -1 -3.5 -0.8 -3.4 -0.7 -3.3 -0.3 -3.3 -0.1 -3.3 0.2 -3.3 0.5 -3.1 0.7 -3.1 0.9 -3 1.2 -2.9 1.4 -2.8 1.8 -2.6 2 -2.4 2.2 -2.1 2.5 -1.8 2.6 -1.5 2.6 -1.4 2.6 -1.5 2.7 -1.4 2.9 -1.1 3 -0.7 3.1 -0.3 3.2 -0.2 3.2 -0.1 3.3 0 3.5 0.1 3.7 0.3 3.9 0.6 3.8 1 3.8 1.6 3.3 2.4 2.6 3.1 1.7 3.7 1.1 3.9 0.6 3.9 0.4 3.9 0.1 3.8z" fill="#000eff"/>
<path d="M453.3 212.8l-0.4 3.6 -0.6 3.5 -0.9 3.5 -1.2 3.4 -1.4 3.3 -1.3 3.4 -1.2 3.7 -1.4 4 -1.9 3.8 -2.3 4 -2.8 3.7 -3.4 3.3 -4 2.7 -4.3 2.5 -4.6 1.8 -5 1.2 -5 -0.1 -4.8 -1.8 -4.2 -3.2 -3.7 -3.6 -3.1 -3.8 -2.3 -4.3 -1.6 -4.4 -1.4 -4 -1.4 -3.6 -1.1 -3.4 -1 -3.3 -0.9 -3.2 -0.7 -3.2 -0.4 -3.2 -0.1 -3.1 0.2 -3.2 0.5 -3 0.7 -3 0.9 -2.9 1.2 -2.7 1.4 -2.7 1.7 -2.4 1.9 -2.3 2.2 -2 2.4 -1.7 2.5 -1.4 2.5 -1.4 2.5 -1.3 2.6 -1.3 2.7 -1.1 2.9 -0.6 2.9 -0.4 3 -0.2 3.1 -0.1 3.2 -0.1 3.4 0.1 3.5 0.3 3.6 0.6 3.8 0.9 3.6 1.6 3.1 2.3 2.5 2.9 1.7 3.5 1.2 3.7 0.7 3.7 0.3 3.7 0.1 3.7z" fill="#0029ff"/>
<path d="M451.9 212.8l-0.5 3.5 -0.6 3.3 -0.9 3.3 -1.2 3.2 -1.4 3.1 -1.4 3.2 -1.2 3.5 -1.4 3.6 -1.8 3.7 -2.2 3.7 -2.6 3.5 -3.2 3.2 -3.7 2.7 -4.1 2.3 -4.4 1.8 -4.7 0.9 -4.7 -0.2 -4.5 -1.8 -4 -3.1 -3.4 -3.4 -2.9 -3.5 -2.2 -4 -1.6 -4 -1.4 -3.7 -1.4 -3.3 -1.2 -3.2 -1 -3.1 -0.9 -3.1 -0.7 -3 -0.4 -3 -0.1 -3.1 0.1 -3 0.5 -2.9 0.7 -2.8 0.9 -2.8 1.2 -2.7 1.4 -2.5 1.6 -2.3 1.9 -2.1 2.1 -1.9 2.3 -1.6 2.3 -1.4 2.4 -1.2 2.4 -1.3 2.5 -1.2 2.6 -1 2.7 -0.6 2.8 -0.4 2.9 -0.2 2.9 -0.2 3.1 0 3.2 0 3.3 0.3 3.5 0.5 3.6 0.9 3.4 1.5 3.1 2.2 2.4 2.8 1.7 3.3 1.1 3.5 0.8 3.5 0.4 3.6 0.1 3.6z" fill="#0045ff"/>
<path d="M450.5 212.8l-0.5 3.3 -0.7 3.2 -1 3.2 -1.2 3 -1.4 2.9 -1.3 3 -1.3 3.2 -1.4 3.3 -1.7 3.4 -2.1 3.4 -2.4 3.4 -3 3.1 -3.4 2.7 -3.9 2.2 -4.2 1.6 -4.4 0.8 -4.4 -0.4 -4.2 -1.8 -3.7 -2.9 -3.1 -3.2 -2.8 -3.3 -2.1 -3.7 -1.6 -3.7 -1.4 -3.3 -1.4 -3.1 -1.2 -2.9 -1.1 -2.9 -0.9 -2.9 -0.7 -2.9 -0.4 -2.9 -0.2 -2.9 0.2 -2.9 0.4 -2.8 0.7 -2.7 0.9 -2.6 1.2 -2.6 1.3 -2.3 1.7 -2.2 1.8 -2 2 -1.8 2.2 -1.5 2.2 -1.3 2.3 -1.2 2.3 -1.2 2.3 -1.1 2.5 -0.9 2.6 -0.6 2.6 -0.3 2.7 -0.3 2.8 -0.2 2.9 -0.1 3.1 0.1 3.2 0.2 3.3 0.5 3.4 0.8 3.3 1.5 2.9 2 2.3 2.7 1.7 3.1 1.2 3.3 0.8 3.4 0.4 3.4 0.1 3.4z" fill="#0060ff"/>
<path d="M449.1 212.8l-0.5 3.2 -0.8 3 -1 3 -1.2 2.8 -1.4 2.8 -1.4 2.7 -1.3 3 -1.4 3 -1.7 3.1 -1.9 3.2 -2.3 3.2 -2.7 3 -3.2 2.6 -3.6 2.2 -3.9 1.5 -4.2 0.5 -4.1 -0.5 -3.9 -1.9 -3.4 -2.7 -2.9 -3 -2.6 -3.1 -2 -3.3 -1.6 -3.3 -1.4 -3 -1.4 -2.8 -1.2 -2.7 -1.1 -2.8 -0.9 -2.7 -0.8 -2.7 -0.5 -2.7 -0.1 -2.8 0.1 -2.8 0.4 -2.7 0.7 -2.6 0.9 -2.5 1.1 -2.4 1.4 -2.2 1.6 -2.1 1.8 -1.8 1.9 -1.7 2.1 -1.4 2.1 -1.2 2.2 -1.1 2.1 -1.1 2.3 -1 2.3 -0.9 2.4 -0.5 2.5 -0.4 2.6 -0.3 2.6 -0.2 2.8 -0.1 2.9 0 3.1 0.2 3.1 0.4 3.3 0.8 3.1 1.4 2.7 2 2.2 2.5 1.7 2.9 1.2 3.1 0.9 3.2 0.5 3.3 0.1 3.2z" fill="#0080ff"/>
<path d="M447.7 212.8l-0.6 3 -0.8 2.9 -1.1 2.8 -1.2 2.7 -1.4 2.5 -1.4 2.6 -1.3 2.7 -1.4 2.7 -1.6 2.9 -1.8 2.9 -2.1 3 -2.5 2.9 -2.9 2.6 -3.4 2.1 -3.7 1.3 -3.9 0.4 -3.9 -0.7 -3.5 -1.9 -3.1 -2.6 -2.7 -2.8 -2.4 -2.8 -1.9 -2.9 -1.6 -3 -1.5 -2.7 -1.3 -2.5 -1.3 -2.6 -1.1 -2.5 -0.9 -2.5 -0.8 -2.6 -0.5 -2.6 -0.2 -2.6 0.1 -2.7 0.4 -2.5 0.7 -2.5 0.9 -2.4 1.1 -2.3 1.4 -2.1 1.5 -1.9 1.7 -1.7 1.9 -1.6 2 -1.3 2 -1.2 2 -1 2.1 -1 2.1 -0.9 2.2 -0.7 2.3 -0.6 2.3 -0.4 2.4 -0.3 2.5 -0.2 2.6 -0.1 2.8 -0.1 2.9 0.2 3 0.4 3.1 0.7 2.9 1.3 2.6 1.9 2.2 2.3 1.6 2.8 1.3 2.9 0.9 3 0.5 3.1 0.1 3.2z" fill="#00a4ff"/>
<path d="M446.4 212.8l-0.7 2.9 -0.9 2.7 -1.1 2.7 -1.3 2.4 -1.4 2.4 -1.4 2.3 -1.3 2.4 -1.4 2.5 -1.5 2.6 -1.7 2.7 -1.9 2.9 -2.3 2.7 -2.7 2.5 -3.1 2.1 -3.4 1.2 -3.7 0.2 -3.6 -0.9 -3.2 -1.9 -2.9 -2.4 -2.4 -2.7 -2.2 -2.5 -1.8 -2.6 -1.6 -2.6 -1.5 -2.4 -1.4 -2.3 -1.2 -2.3 -1.1 -2.3 -1 -2.3 -0.8 -2.5 -0.5 -2.4 -0.2 -2.5 0 -2.6 0.4 -2.4 0.7 -2.4 0.9 -2.3 1.1 -2.1 1.4 -2 1.5 -1.7 1.6 -1.7 1.8 -1.4 1.9 -1.2 1.9 -1.1 1.9 -1 1.9 -0.9 2 -0.8 2.1 -0.6 2.1 -0.6 2.2 -0.4 2.3 -0.3 2.3 -0.2 2.5 -0.2 2.6 -0.1 2.8 0.1 2.8 0.4 2.9 0.7 2.8 1.3 2.4 1.7 2.1 2.2 1.6 2.5 1.3 2.8 1 2.8 0.5 3 0.2 3z" fill="#00c9ff"/>
<path d="M445 212.8l-0.8 2.8 -0.9 2.5 -1.2 2.5 -1.2 2.3 -1.4 2.2 -1.4 2.1 -1.4 2.1 -1.4 2.2 -1.5 2.3 -1.5 2.5 -1.7 2.7 -2.1 2.6 -2.4 2.5 -2.9 2 -3.2 1 -3.4 0 -3.3 -1 -2.9 -1.9 -2.6 -2.3 -2.2 -2.4 -2 -2.4 -1.7 -2.2 -1.6 -2.2 -1.5 -2.1 -1.4 -2 -1.3 -2.1 -1.1 -2.1 -1 -2.2 -0.8 -2.3 -0.5 -2.3 -0.3 -2.4 0.1 -2.4 0.3 -2.3 0.7 -2.3 0.9 -2.1 1.1 -2 1.3 -1.8 1.5 -1.7 1.6 -1.5 1.7 -1.3 1.8 -1.1 1.7 -1 1.9 -0.9 1.8 -0.8 1.9 -0.7 1.9 -0.6 2 -0.5 2 -0.4 2.1 -0.4 2.2 -0.2 2.3 -0.2 2.5 -0.1 2.6 0 2.7 0.4 2.8 0.6 2.5 1.2 2.4 1.6 1.9 2.1 1.7 2.3 1.3 2.6 1 2.7 0.6 2.8 0.1 2.8z" fill="#00edff"/>
<path d="M443.4 212.8l-0.7 2.6 -1 2.4 -1.1 2.3 -1.3 2.2 -1.3 2 -1.4 1.9 -1.3 2 -1.4 2 -1.4 2.1 -1.4 2.3 -1.6 2.4 -1.8 2.5 -2.3 2.4 -2.6 1.9 -3 1 -3.2 -0.1 -3 -1.1 -2.8 -1.8 -2.3 -2.1 -2.1 -2.3 -1.8 -2.1 -1.6 -2 -1.6 -1.9 -1.4 -1.9 -1.4 -1.9 -1.2 -1.9 -1.1 -2 -1 -2 -0.8 -2.2 -0.5 -2.2 -0.3 -2.2 0.1 -2.3 0.3 -2.2 0.7 -2.1 0.8 -2 1.1 -1.9 1.2 -1.7 1.4 -1.6 1.6 -1.4 1.6 -1.2 1.6 -1.1 1.7 -0.9 1.7 -0.9 1.8 -0.7 1.7 -0.7 1.8 -0.5 1.9 -0.5 1.9 -0.4 2 -0.3 2.1 -0.3 2.2 -0.2 2.3 -0.1 2.4 0.1 2.6 0.3 2.6 0.7 2.4 1.1 2.2 1.5 1.8 1.9 1.6 2.2 1.3 2.4 1 2.5 0.6 2.7 0.1 2.7z" fill="#00ffe6"/>
<path d="M441.7 212.8l-0.7 2.4 -0.9 2.3 -1.1 2.1 -1.1 2.1 -1.3 1.9 -1.2 1.8 -1.3 1.8 -1.3 1.8 -1.3 2 -1.3 2.1 -1.5 2.3 -1.8 2.3 -2.1 2.2 -2.5 1.8 -2.8 0.9 -2.9 0 -2.8 -0.9 -2.6 -1.6 -2.3 -2 -1.9 -2 -1.7 -2 -1.6 -1.9 -1.4 -1.9 -1.4 -1.7 -1.3 -1.8 -1.1 -1.8 -1 -1.9 -0.9 -2 -0.7 -2 -0.5 -2 -0.3 -2.1 0.1 -2.2 0.3 -2 0.6 -2 0.8 -1.9 0.9 -1.8 1.2 -1.7 1.3 -1.5 1.4 -1.3 1.5 -1.2 1.6 -1 1.5 -0.9 1.7 -0.8 1.6 -0.7 1.7 -0.6 1.7 -0.5 1.8 -0.5 1.8 -0.3 1.9 -0.3 2 -0.3 2 -0.1 2.2 -0.1 2.3 0 2.4 0.4 2.4 0.6 2.3 1 2 1.5 1.8 1.8 1.5 2.1 1.1 2.2 0.9 2.4 0.6 2.5 0 2.5z" fill="#00ffb3"/>
<path d="M440 212.8l-0.7 2.3 -0.9 2.1 -0.9 2 -1.1 1.8 -1.1 1.8 -1.2 1.7 -1.2 1.7 -1.2 1.7 -1.2 1.9 -1.3 1.9 -1.4 2.1 -1.6 2.2 -2 2 -2.3 1.6 -2.6 0.9 -2.7 0 -2.6 -0.8 -2.5 -1.4 -2.1 -1.7 -1.8 -1.9 -1.7 -1.9 -1.4 -1.8 -1.4 -1.7 -1.3 -1.7 -1.2 -1.7 -1 -1.7 -1 -1.8 -0.8 -1.8 -0.6 -1.9 -0.4 -1.9 -0.3 -2 0.1 -2 0.3 -1.9 0.5 -1.9 0.7 -1.8 0.9 -1.7 1 -1.5 1.2 -1.4 1.3 -1.3 1.4 -1.1 1.5 -1 1.5 -0.9 1.5 -0.8 1.6 -0.7 1.6 -0.5 1.6 -0.5 1.7 -0.4 1.7 -0.3 1.8 -0.3 1.8 -0.2 2 -0.1 2 -0.1 2.2 0.1 2.3 0.3 2.2 0.6 2.1 1 1.9 1.4 1.7 1.7 1.3 2 1.1 2.1 0.8 2.2 0.5 2.3 0 2.4z" fill="#00ff80"/>
<path d="M438.2 212.8l-0.6 2.1 -0.8 2 -0.9 1.8 -1 1.7 -1 1.7 -1.1 1.6 -1.1 1.5 -1.1 1.6 -1.1 1.7 -1.2 1.8 -1.3 1.9 -1.6 2 -1.8 1.8 -2.1 1.5 -2.4 0.9 -2.5 0.1 -2.4 -0.7 -2.3 -1.2 -2 -1.6 -1.8 -1.7 -1.5 -1.7 -1.4 -1.7 -1.3 -1.6 -1.2 -1.6 -1 -1.6 -1 -1.6 -0.9 -1.7 -0.7 -1.7 -0.6 -1.8 -0.4 -1.8 -0.2 -1.8 0.1 -1.9 0.2 -1.8 0.5 -1.7 0.6 -1.7 0.8 -1.6 1 -1.4 1.1 -1.4 1.2 -1.2 1.3 -1.1 1.3 -1 1.4 -0.8 1.5 -0.8 1.4 -0.6 1.6 -0.5 1.5 -0.4 1.6 -0.4 1.6 -0.3 1.7 -0.2 1.7 -0.2 1.9 -0.1 1.9 -0.1 2 0.1 2.1 0.4 2.1 0.6 2 0.9 1.7 1.3 1.5 1.6 1.3 1.8 1 2 0.7 2.1 0.4 2.2 0 2.2z" fill="#00ff47"/>
<path d="M436.5 212.8l-0.6 1.9 -0.7 1.8 -0.8 1.7 -0.9 1.6 -1 1.5 -1 1.5 -1 1.4 -1 1.5 -1.1 1.5 -1.1 1.7 -1.2 1.7 -1.4 1.8 -1.7 1.7 -1.9 1.3 -2.2 0.9 -2.3 0.1 -2.3 -0.5 -2.1 -1 -1.8 -1.4 -1.7 -1.6 -1.4 -1.5 -1.4 -1.6 -1.1 -1.5 -1.1 -1.5 -1 -1.5 -0.9 -1.6 -0.8 -1.5 -0.6 -1.6 -0.5 -1.7 -0.4 -1.7 -0.2 -1.7 0.1 -1.7 0.2 -1.6 0.4 -1.7 0.6 -1.5 0.7 -1.5 0.9 -1.4 0.9 -1.3 1.1 -1.1 1.2 -1.1 1.3 -0.9 1.3 -0.8 1.3 -0.7 1.4 -0.6 1.4 -0.5 1.5 -0.4 1.5 -0.3 1.5 -0.3 1.6 -0.2 1.6 -0.1 1.7 -0.1 1.8 0 1.9 0.1 1.9 0.3 2 0.6 1.8 0.9 1.6 1.2 1.4 1.5 1.1 1.7 0.9 1.9 0.6 1.9 0.3 2 0 2.1z" fill="#00ff0e"/>
<path d="M434.8 212.8l-0.6 1.8 -0.6 1.6 -0.8 1.6 -0.8 1.4 -0.9 1.4 -0.9 1.3 -0.9 1.4 -0.9 1.3 -1 1.4 -1 1.5 -1.1 1.5 -1.3 1.6 -1.5 1.5 -1.8 1.2 -2 0.8 -2.1 0.2 -2.1 -0.3 -1.9 -0.9 -1.8 -1.2 -1.5 -1.3 -1.4 -1.5 -1.2 -1.4 -1.1 -1.4 -1 -1.4 -0.9 -1.5 -0.8 -1.4 -0.7 -1.5 -0.6 -1.5 -0.4 -1.5 -0.3 -1.5 -0.2 -1.6 0.1 -1.6 0.2 -1.5 0.3 -1.5 0.5 -1.4 0.6 -1.4 0.8 -1.3 0.9 -1.2 1 -1.1 1 -1 1.2 -0.9 1.2 -0.8 1.3 -0.7 1.3 -0.5 1.3 -0.5 1.4 -0.3 1.4 -0.3 1.4 -0.3 1.5 -0.1 1.5 -0.2 1.6 0 1.6 0 1.8 0.1 1.8 0.4 1.7 0.5 1.7 0.9 1.5 1.1 1.3 1.4 1 1.6 0.8 1.7 0.5 1.8 0.2 1.9 0 1.8z" fill="#26ff00"/>
<path d="M433 212.8l-0.5 1.6 -0.6 1.5 -0.6 1.4 -0.8 1.3 -0.7 1.3 -0.9 1.2 -0.8 1.2 -0.8 1.2 -0.9 1.2 -1 1.3 -1 1.4 -1.2 1.4 -1.3 1.3 -1.6 1.2 -1.8 0.7 -1.9 0.3 -1.9 -0.2 -1.8 -0.7 -1.6 -1 -1.5 -1.2 -1.2 -1.3 -1.2 -1.3 -1 -1.4 -0.9 -1.3 -0.8 -1.3 -0.7 -1.3 -0.6 -1.4 -0.5 -1.4 -0.4 -1.4 -0.2 -1.4 -0.2 -1.4 0.1 -1.5 0.1 -1.4 0.3 -1.3 0.5 -1.4 0.5 -1.2 0.7 -1.3 0.7 -1.1 0.9 -1 1 -1 1 -0.8 1.1 -0.8 1.2 -0.6 1.2 -0.5 1.3 -0.5 1.3 -0.3 1.3 -0.3 1.3 -0.2 1.4 -0.1 1.4 -0.1 1.4 0 1.6 0 1.6 0.2 1.6 0.3 1.6 0.5 1.5 0.8 1.4 1.1 1.1 1.3 0.9 1.5 0.7 1.5 0.5 1.7 0.1 1.7 0 1.7z" fill="#59ff00"/>
<path d="M431.3 212.8l-0.4 1.4 -0.6 1.4 -0.6 1.2 -0.6 1.2 -0.7 1.1 -0.7 1.1 -0.8 1.1 -0.8 1.1 -0.8 1.1 -0.8 1.1 -1 1.2 -1 1.2 -1.2 1.2 -1.4 1 -1.6 0.7 -1.7 0.3 -1.7 -0.1 -1.6 -0.5 -1.5 -0.8 -1.4 -1 -1.2 -1.1 -1 -1.2 -0.9 -1.3 -0.9 -1.2 -0.7 -1.2 -0.6 -1.3 -0.5 -1.2 -0.4 -1.3 -0.3 -1.3 -0.3 -1.3 -0.1 -1.3 0 -1.3 0.2 -1.2 0.2 -1.3 0.4 -1.2 0.5 -1.2 0.5 -1.1 0.7 -1.1 0.8 -0.9 0.8 -1 1 -0.8 1 -0.7 1.1 -0.6 1.1 -0.5 1.2 -0.3 1.2 -0.3 1.2 -0.3 1.2 -0.1 1.3 -0.2 1.3 0 1.3 0 1.4 0.1 1.4 0.1 1.5 0.4 1.5 0.5 1.3 0.7 1.3 1 1 1.2 0.8 1.3 0.6 1.5 0.3 1.5 0.1 1.5 -0.1 1.6z" fill="#8cff00"/>
<path d="M429.6 212.8l-0.4 1.3 -0.5 1.1 -0.5 1.1 -0.6 1.1 -0.6 1 -0.6 1 -0.7 0.9 -0.7 1 -0.7 0.9 -0.8 1 -0.8 1 -1 1 -1 1 -1.3 0.9 -1.3 0.7 -1.5 0.4 -1.5 0 -1.5 -0.3 -1.4 -0.6 -1.2 -0.9 -1.1 -1 -1 -1.1 -0.8 -1.1 -0.7 -1.1 -0.7 -1.2 -0.5 -1.1 -0.4 -1.2 -0.4 -1.1 -0.2 -1.2 -0.2 -1.1 -0.1 -1.2 0 -1.2 0.2 -1.1 0.1 -1.1 0.3 -1.1 0.4 -1.1 0.5 -1 0.5 -1 0.7 -1 0.7 -0.8 0.9 -0.8 0.9 -0.7 1 -0.5 1.1 -0.5 1.1 -0.3 1.1 -0.3 1.1 -0.2 1.1 -0.1 1.2 -0.1 1.2 0 1.2 0 1.2 0.1 1.3 0.2 1.3 0.3 1.3 0.5 1.3 0.7 1 0.9 0.9 1.1 0.7 1.2 0.5 1.3 0.3 1.4 0 1.4 -0.1 1.3z" fill="#bfff00"/>
<path d="M427.9 212.8l-0.4 1.1 -0.4 1 -0.5 1 -0.5 0.9 -0.5 0.9 -0.5 0.8 -0.6 0.8 -0.6 0.9 -0.6 0.8 -0.7 0.8 -0.8 0.8 -0.8 0.8 -0.9 0.9 -1.1 0.7 -1.1 0.7 -1.3 0.4 -1.3 0.2 -1.3 -0.1 -1.3 -0.5 -1.1 -0.6 -1.1 -0.9 -0.8 -1 -0.8 -1 -0.6 -1 -0.5 -1.1 -0.5 -1 -0.3 -1.1 -0.3 -1.1 -0.2 -1 -0.1 -1 -0.1 -1 0 -1.1 0.1 -1 0.2 -1 0.2 -0.9 0.3 -1 0.3 -1 0.5 -0.9 0.5 -0.9 0.7 -0.8 0.7 -0.7 0.9 -0.7 0.9 -0.5 0.9 -0.4 1 -0.3 1 -0.2 1.1 -0.2 1 -0.1 1.1 -0.1 1 0 1.1 0.1 1.2 0.1 1.1 0.2 1.2 0.4 1.1 0.4 1.1 0.7 0.9 0.8 0.8 1 0.6 1.1 0.4 1.2 0.2 1.2 -0.1 1.2 -0.1 1.2z" fill="#f2ff00"/>
<path d="M426.5 212.8l-0.4 1 -0.3 0.9 -0.4 0.8 -0.4 0.8 -0.5 0.8 -0.4 0.7 -0.5 0.7 -0.6 0.8 -0.5 0.7 -0.7 0.7 -0.6 0.7 -0.8 0.7 -0.8 0.7 -0.9 0.6 -1 0.6 -1.1 0.5 -1.2 0.2 -1.1 0 -1.2 -0.3 -1 -0.6 -0.9 -0.8 -0.8 -0.8 -0.7 -1 -0.5 -0.9 -0.5 -1 -0.4 -0.9 -0.3 -1 -0.2 -0.9 -0.1 -0.9 -0.1 -1 -0.1 -0.9 0 -0.9 0.1 -0.8 0.1 -0.9 0.2 -0.9 0.2 -0.9 0.3 -0.8 0.4 -0.9 0.4 -0.8 0.6 -0.8 0.7 -0.7 0.7 -0.5 0.8 -0.5 0.9 -0.4 0.9 -0.3 0.9 -0.2 1 -0.1 0.9 -0.1 1 0 0.9 0 1 0.1 1 0.1 1.1 0.2 1 0.3 1 0.5 0.9 0.5 0.9 0.8 0.6 0.8 0.5 1 0.4 1.1 0.1 1.1 -0.1 1.1 -0.1 1z" fill="#ffd600"/>
<path d="M424.9 212.8l-0.3 0.8 -0.3 0.8 -0.3 0.7 -0.4 0.7 -0.3 0.6 -0.4 0.6 -0.4 0.6 -0.5 0.6 -0.5 0.6 -0.5 0.6 -0.6 0.6 -0.6 0.6 -0.7 0.6 -0.7 0.5 -0.9 0.5 -0.9 0.4 -1 0.2 -1 0 -0.9 -0.3 -0.9 -0.4 -0.8 -0.7 -0.6 -0.7 -0.6 -0.8 -0.5 -0.8 -0.4 -0.8 -0.3 -0.8 -0.2 -0.8 -0.2 -0.8 -0.1 -0.8 -0.1 -0.7 0 -0.8 0 -0.8 0 -0.7 0.1 -0.7 0.1 -0.8 0.2 -0.7 0.3 -0.8 0.3 -0.7 0.4 -0.6 0.5 -0.7 0.5 -0.6 0.7 -0.5 0.7 -0.4 0.7 -0.3 0.8 -0.2 0.7 -0.2 0.8 -0.1 0.8 -0.1 0.8 0 0.8 0 0.9 0.1 0.8 0.1 0.9 0.2 0.8 0.2 0.9 0.4 0.8 0.5 0.7 0.6 0.6 0.7 0.4 0.9 0.2 0.9 0.1 0.9 0 0.9 -0.1 0.9z" fill="#ff9700"/>
<path d="M423.4 212.8l-0.3 0.7 -0.2 0.6 -0.3 0.6 -0.3 0.5 -0.3 0.5 -0.3 0.5 -0.3 0.5 -0.4 0.5 -0.4 0.5 -0.4 0.5 -0.5 0.5 -0.5 0.5 -0.5 0.4 -0.6 0.5 -0.7 0.4 -0.8 0.3 -0.8 0.2 -0.8 -0.1 -0.8 -0.2 -0.7 -0.4 -0.6 -0.5 -0.6 -0.6 -0.4 -0.6 -0.4 -0.7 -0.3 -0.6 -0.3 -0.7 -0.2 -0.6 -0.1 -0.7 -0.1 -0.6 -0.1 -0.6 0 -0.6 0 -0.7 0 -0.6 0.1 -0.6 0.1 -0.6 0.2 -0.6 0.2 -0.6 0.3 -0.5 0.3 -0.6 0.4 -0.5 0.4 -0.5 0.5 -0.4 0.6 -0.3 0.6 -0.3 0.6 -0.2 0.6 -0.1 0.7 -0.1 0.6 0 0.7 -0.1 0.6 0 0.7 0.1 0.7 0.1 0.7 0.1 0.7 0.2 0.7 0.3 0.6 0.4 0.6 0.5 0.5 0.6 0.3 0.7 0.2 0.7 0.1 0.8 0 0.7 -0.1 0.8z" fill="#ff5e00"/>
<path d="M421.8 212.8l-0.2 0.5 -0.2 0.5 -0.2 0.4 -0.2 0.5 -0.2 0.4 -0.3 0.4 -0.2 0.3 -0.3 0.4 -0.3 0.4 -0.3 0.4 -0.4 0.3 -0.4 0.4 -0.4 0.4 -0.5 0.3 -0.5 0.3 -0.6 0.3 -0.6 0.1 -0.6 0 -0.6 -0.2 -0.6 -0.3 -0.5 -0.4 -0.4 -0.4 -0.3 -0.5 -0.3 -0.5 -0.3 -0.5 -0.2 -0.5 -0.1 -0.5 -0.1 -0.5 -0.1 -0.5 -0.1 -0.5 0 -0.5 0 -0.5 0.1 -0.4 0 -0.5 0.1 -0.5 0.1 -0.4 0.2 -0.5 0.2 -0.4 0.2 -0.4 0.3 -0.4 0.4 -0.4 0.4 -0.3 0.4 -0.3 0.5 -0.2 0.4 -0.1 0.5 -0.1 0.5 -0.1 0.5 0 0.5 0 0.5 0 0.5 0 0.6 0.1 0.5 0.1 0.6 0.1 0.5 0.3 0.5 0.3 0.4 0.4 0.4 0.4 0.2 0.6 0.2 0.5 0.1 0.6 -0.1 0.6 0 0.5z" fill="#ff2f00"/>
<path d="M420.2 212.8l-0.1 0.4 -0.1 0.3 -0.2 0.3 -0.1 0.3 -0.2 0.3 -0.1 0.3 -0.2 0.2 -0.2 0.3 -0.2 0.3 -0.3 0.2 -0.2 0.3 -0.3 0.2 -0.3 0.3 -0.3 0.2 -0.4 0.3 -0.4 0.1 -0.4 0.1 -0.5 0 -0.4 -0.1 -0.4 -0.2 -0.3 -0.3 -0.3 -0.3 -0.2 -0.4 -0.2 -0.3 -0.2 -0.4 -0.1 -0.3 -0.2 -0.4 0 -0.3 -0.1 -0.4 0 -0.3 0 -0.3 0 -0.4 0 -0.3 0 -0.3 0.1 -0.3 0.1 -0.4 0.1 -0.3 0.1 -0.3 0.2 -0.3 0.2 -0.3 0.2 -0.2 0.3 -0.2 0.3 -0.2 0.3 -0.1 0.4 -0.2 0.3 0 0.4 -0.1 0.3 0 0.4 0 0.3 0 0.4 0 0.4 0.1 0.3 0 0.4 0.2 0.4 0.1 0.3 0.2 0.3 0.3 0.3 0.3 0.2 0.4 0.1 0.4 0 0.4 0 0.4 -0.1 0.4z" fill="#ff0000"/>
</g>
</g>
<line x1="459.8" y1="132.65" x2="459.8" y2="369.2" stroke="#000" stroke-width="2.7"/>
<line x1="351.7" y1="246.5" x2="588.2" y2="246.5" stroke="#000" stroke-width="2.4"/>
<rect x="351.7" y="132.65" width="236.5" height="236.55" fill="none" stroke="#000" stroke-width="2.6"/>
<path d="M343.6 369.2L350.5 369.2M343.6 315.6L350.5 315.6M343.6 262L350.5 262M343.6 208.4L350.5 208.4M343.6 154.8L350.5 154.8" stroke="#000" stroke-width="2.4" fill="none"/>
<path d="M346.1 331.74L350.5 331.74M346.1 278.14L350.5 278.14M346.1 224.54L350.5 224.54M346.1 170.94L350.5 170.94" stroke="#000" stroke-width="1.5" fill="none"/>
<path d="M348.1 353.06L350.5 353.06M348.1 343.63L350.5 343.63M348.1 336.93L350.5 336.93M348.1 327.49L350.5 327.49M348.1 323.9L350.5 323.9M348.1 320.79L350.5 320.79M348.1 318.05L350.5 318.05M348.1 299.46L350.5 299.46M348.1 290.03L350.5 290.03M348.1 283.33L350.5 283.33M348.1 273.89L350.5 273.89M348.1 270.3L350.5 270.3M348.1 267.19L350.5 267.19M348.1 264.45L350.5 264.45M348.1 245.86L350.5 245.86M348.1 236.43L350.5 236.43M348.1 229.73L350.5 229.73M348.1 220.29L350.5 220.29M348.1 216.7L350.5 216.7M348.1 213.59L350.5 213.59M348.1 210.85L350.5 210.85M348.1 192.26L350.5 192.26M348.1 182.83L350.5 182.83M348.1 176.13L350.5 176.13M348.1 166.69L350.5 166.69M348.1 163.1L350.5 163.1M348.1 159.99L350.5 159.99M348.1 157.25L350.5 157.25M348.1 138.66L350.5 138.66" stroke="#000" stroke-width="1.5" fill="none"/>
<path d="M351.9 370.4L351.9 378.2M396.85 370.4L396.85 378.2M441.8 370.4L441.8 378.2M486.75 370.4L486.75 378.2M531.7 370.4L531.7 378.2M576.65 370.4L576.65 378.2" stroke="#000" stroke-width="2.4" fill="none"/>
<path d="M360.89 370.4L360.89 373M369.88 370.4L369.88 373M378.87 370.4L378.87 373M387.86 370.4L387.86 373M405.84 370.4L405.84 373M414.83 370.4L414.83 373M423.82 370.4L423.82 373M432.81 370.4L432.81 373M450.79 370.4L450.79 373M459.78 370.4L459.78 373M468.77 370.4L468.77 373M477.76 370.4L477.76 373M495.74 370.4L495.74 373M504.73 370.4L504.73 373M513.72 370.4L513.72 373M522.71 370.4L522.71 373M540.69 370.4L540.69 373M549.68 370.4L549.68 373M558.67 370.4L558.67 373M567.66 370.4L567.66 373M585.64 370.4L585.64 373" stroke="#000" stroke-width="1.6" fill="none"/>
<text x="345.91" y="400.4" font-size="22.2">0</text>
<text x="415.76" y="400.4" font-size="23.2" textLength="52.74" lengthAdjust="spacing">100K</text>
<text x="504.24" y="400.4" font-size="23.2" textLength="53.96" lengthAdjust="spacing">200K</text>
<text x="355.09" y="158.1" font-size="17" textLength="33.75" lengthAdjust="spacing">91.8</text>
<text x="569.82" y="158.1" font-size="17">0</text>
<text x="355.18" y="354.8" font-size="17" textLength="33.71" lengthAdjust="spacing">8.19</text>
<text x="569.82" y="354.8" font-size="17">0</text>
<!-- plot a1.3 -->
<clipPath id="cp02"><rect x="623.2" y="132.65" width="237.1" height="236.55"/></clipPath>
<g clip-path="url(#cp02)">
<path d="M686.3 179.9l1.6 -0.2 1.5 -0.1 1.6 -0.2 1.5 -0.1 1.5 -0.1 1.4 -0.1 1.5 -0.1 1.4 -0.1 1.3 0 1.4 -0.1 1.3 0 1.4 0 1.3 0.1 1.3 0 1.3 0.1 1.2 0.1 1.3 0.1 1.2 0.2 1.1 0.2 1.1 0.2 1 0.3 1 0.4 0.9 0.4 0.9 0.5 0.8 0.5 0.8 0.5 0.7 0.6 0.8 0.6 0.7 0.6 0.8 0.6 0.7 0.6 0.7 0.7 0.7 0.7 0.6 0.7 0.7 0.6 0.6 0.7 0.7 0.6 0.6 0.6 0.6 0.6 0.6 0.6 0.5 0.6 0.6 0.6 0.5 0.6 0.5 0.7 0.4 0.8 0.5 0.8 0.4 0.8 0.3 0.9 0.4 0.9 0.2 0.9 0.2 0.9 0.2 1 0 1 0 0.9 -0.1 1 -0.1 1.1 -0.3 1 -0.2 1 -0.2 1 -0.2 1.1 -0.3 1 -0.2 1 -0.2 1.1 -0.3 1 -0.2 1 -0.3 1 -0.3 1.1 -0.3 1 -0.4 1 -0.5 1 -0.5 1.1 -0.5 1 -0.6 1 -0.5 1 -0.6 1 -0.7 0.9 -0.6 1 -0.6 0.8 -0.7 0.9 -0.7 0.8 -0.6 0.8 -0.7 0.8 -0.5 0.8 -0.6 0.7 -0.4 0.8 -0.4 0.7 -0.4 0.7 -0.2 0.7 -0.3 0.7 -0.2 0.7 -0.2 0.8 -0.2 0.8 -0.1 0.9 -0.2 0.9 -0.1 0.9 -0.2 1 -0.1 1 0 1 -0.1 1 0 1 0.1 1 0.1 1 0.1 0.9 0.2 0.9 0.2 0.9 0.2 0.9 0 0.8 0 0.8 -0.1 0.8 -0.2 0.7 -0.3 0.6 -0.3 0.6 -0.5 0.6 -0.5 0.5 -0.5 0.6 -0.5 0.4 -0.5 0.5 -0.5 0.4 -0.5 0.4 -0.6 0.4 -0.6 0.3 -0.5 0.4 -0.6 0.4 -0.5 0.4 -0.5 0.5 -0.5 0.5 -0.5 0.5 -0.5 0.5 -0.4 0.6 -0.6 0.6 -0.6 0.5 -0.6 0.6 -0.8 0.5 -0.8 0.6 -0.9 0.5 -0.9 0.5 -1.1 0.5 -1 0.5 -1 0.6 -1 0.5 -0.9 0.5 -1 0.5 -0.9 0.5 -0.9 0.5 -1 0.5 -0.9 0.5 -0.9 0.5 -0.9 0.4 -0.9 0.5 -0.9 0.4 -0.9 0.4 -1 0.3 -0.9 0.4 -0.9 0.3 -0.9 0.2 -0.8 0.2 -0.9 0.1 -0.8 0.1 -0.9 0.1 -0.8 0 -0.8 -0.1 -0.8 -0.1 -0.8 -0.1 -0.8 -0.1 -0.8 -0.2 -0.8 -0.2 -0.8 -0.2 -0.8 -0.3 -0.8 -0.3 -0.8 -0.2 -0.9 -0.3 -0.9 -0.3 -1 -0.2 -1 -0.3 -1.1 -0.2 -1.1 -0.3 -1.1 -0.2 -1.1 -0.3 -0.9 -0.3 -0.9 -0.3 -0.8 -0.4 -0.7 -0.5 -0.6 -0.5 -0.6 -0.5 -0.4 -0.6 -0.5 -0.6 -0.4 -0.7 -0.3 -0.7 -0.4 -0.8 -0.3 -0.9 -0.3 -0.9 -0.2 -1 -0.3 -1 -0.2 -1 -0.2 -1 -0.3 -1.1 -0.2 -1 -0.2 -1 -0.2 -1.1 -0.3 -1 -0.2 -1 -0.2 -1.1 -0.3 -1.1 -0.2 -1.1 -0.2 -1.2 -0.2 -1.3 -0.3 -1.3 -0.2 -1.3 -0.2 -1.4 -0.3 -1.3 -0.3 -1.2 -0.4 -1.2 -0.4 -1.2 -0.4 -1.1 -0.5 -1 -0.5 -1 -0.6 -0.9 -0.5 -0.9 -0.5 -1 -0.5 -1 -0.4 -1 -0.3 -1.1 -0.3 -1.1 -0.3 -1.1 -0.2 -1.1 -0.2 -1.2 -0.2 -1.1 -0.2 -1.1 -0.2 -1.2 -0.2 -1.1 -0.1 -1.2 -0.1 -1.1 -0.1 -1.2 -0.1 -1.1 -0.1 -1.1 -0.1 -1.1 0 -1.1 0 -1 0 -1.1 0.1 -1 0 -1.1 0.1 -1 0.1 -1 0.2 -1.1 0.1 -1 0.2 -1 0.3 -1 0.2 -1.1 0.3 -1 0.4 -1 0.4 -1 0.4 -0.9 0.6 -0.9 0.6 -0.9 0.7 -0.9 0.7 -0.8 0.8 -0.8 0.8 -0.8 0.9 -0.7 1 -0.7 0.9 -0.7 1 -0.7 1.1 -0.6 1.1 -0.6 1.1 -0.6 1.2 -0.5 1.1 -0.5 1.2 -0.5 1.1 -0.5 1.1 -0.5 1.2 -0.4 1.1 -0.5 1.2 -0.4 1.1 -0.3 1.1 -0.4 1 -0.4 1.1 -0.4 1 -0.3 0.9 -0.4 1 -0.4 0.9 -0.3 1 -0.3 1.1 -0.3 1.1 -0.3 1.3 -0.3 1.3 -0.2 1.5 -0.2z" fill="#0000ff"/>
<g filter="url(#bl)">
<path d="M727.9 207.9l-0.9 3.9 -1.2 3.7 -1.5 3.6 -1.9 3.3 -2.1 3 -2.2 3 -1.8 3.1 -1.3 3.8 -0.7 5.2 -1.1 5.8 -2.7 4.5 -3.9 3.3 -4.1 3 -4.6 2.7 -5 2.4 -5.4 2 -5.6 0.6 -5.6 -0.7 -5.4 -1.4 -4.9 -2.7 -3.7 -4.9 -2.2 -6.1 -1.7 -5.6 -1.5 -4.9 -1.8 -4 -1.9 -3.7 -1.6 -3.7 -1.1 -3.8 -0.8 -3.9 -0.5 -3.9 -0.1 -3.8 0.2 -3.8 0.8 -3.7 1.3 -3.5 2 -3.1 2.6 -2.7 2.9 -2.3 3.1 -1.7 3 -1.5 2.9 -1.1 2.7 -1 2.6 -0.9 2.4 -0.8 2.4 -0.8 2.3 -0.6 2.4 -0.5 2.4 -0.4 2.4 -0.3 2.5 -0.2 2.6 -0.2 2.7 -0.2 2.9 -0.2 3.1 0 3.3 0.1 3.6 0.4 3.6 0.9 3.4 1.6 3.1 2.1 3 2.5 2.9 2.9 2.4 3.4 1.4 3.8 0.4 4z" fill="#000eff"/>
<path d="M726.1 207.9l-0.8 3.7 -1.1 3.6 -1.5 3.4 -1.8 3.1 -2 3 -2.1 2.7 -1.9 3 -1.3 3.5 -0.9 4.7 -1.2 5.2 -2.6 4.1 -3.6 3 -3.9 2.8 -4.3 2.4 -4.6 2.2 -5 1.8 -5.2 0.6 -5.1 -0.6 -5.1 -1.3 -4.6 -2.5 -3.5 -4.3 -2.3 -5.5 -1.7 -5.1 -1.6 -4.3 -1.8 -3.8 -2 -3.4 -1.6 -3.5 -1.2 -3.7 -0.9 -3.7 -0.5 -3.7 -0.2 -3.7 0.3 -3.7 0.9 -3.5 1.3 -3.4 2.1 -3 2.5 -2.6 2.9 -2.1 2.9 -1.7 2.9 -1.3 2.8 -1.1 2.6 -0.9 2.5 -0.9 2.3 -0.7 2.3 -0.7 2.2 -0.6 2.3 -0.5 2.2 -0.3 2.3 -0.3 2.4 -0.2 2.4 -0.2 2.6 -0.2 2.7 -0.1 2.9 0 3.2 0.1 3.4 0.3 3.5 0.9 3.2 1.4 3.1 2 2.9 2.4 2.8 2.7 2.3 3.2 1.4 3.6 0.3 3.9z" fill="#0029ff"/>
<path d="M724.4 207.9l-0.8 3.6 -1.1 3.4 -1.4 3.2 -1.8 3 -1.9 2.8 -2 2.6 -1.8 2.8 -1.5 3.2 -0.9 4.2 -1.3 4.7 -2.5 3.6 -3.4 2.7 -3.6 2.5 -4 2.2 -4.3 2 -4.6 1.6 -4.8 0.5 -4.7 -0.5 -4.7 -1.2 -4.3 -2.1 -3.3 -3.9 -2.3 -4.7 -1.8 -4.6 -1.7 -3.9 -1.9 -3.4 -2 -3.2 -1.6 -3.4 -1.3 -3.4 -0.9 -3.6 -0.6 -3.5 -0.2 -3.6 0.3 -3.6 0.9 -3.4 1.5 -3.2 2 -2.9 2.5 -2.5 2.8 -1.9 2.9 -1.6 2.8 -1.3 2.6 -1 2.5 -0.9 2.3 -0.7 2.3 -0.7 2.1 -0.6 2.2 -0.6 2.1 -0.4 2.2 -0.3 2.1 -0.3 2.2 -0.2 2.3 -0.1 2.4 -0.2 2.6 -0.1 2.8 0 3 0.1 3.2 0.3 3.3 0.8 3.2 1.3 2.9 1.8 2.9 2.2 2.7 2.6 2.1 3 1.4 3.5 0.3 3.6z" fill="#0045ff"/>
<path d="M722.6 207.9l-0.8 3.4 -1 3.2 -1.4 3.1 -1.6 2.8 -1.9 2.7 -1.9 2.5 -1.8 2.6 -1.5 2.9 -1.1 3.7 -1.4 4.1 -2.4 3.2 -3.1 2.4 -3.4 2.3 -3.6 2 -4 1.7 -4.2 1.4 -4.3 0.4 -4.4 -0.4 -4.3 -1 -4 -1.9 -3.2 -3.3 -2.3 -4.1 -1.9 -4 -1.8 -3.5 -1.9 -3.1 -2 -3 -1.7 -3.1 -1.3 -3.3 -1 -3.3 -0.6 -3.5 -0.2 -3.4 0.3 -3.5 1 -3.3 1.5 -3.1 2 -2.7 2.5 -2.3 2.7 -1.9 2.8 -1.5 2.7 -1.1 2.5 -1 2.4 -0.8 2.2 -0.7 2.2 -0.6 2 -0.6 2 -0.4 2.1 -0.4 2 -0.3 2 -0.2 2.1 -0.2 2.2 -0.2 2.2 -0.1 2.5 -0.1 2.6 -0.1 2.8 0.1 3 0.3 3.1 0.7 3.1 1.2 2.9 1.6 2.8 2.1 2.6 2.4 2 2.9 1.3 3.3 0.3 3.5z" fill="#0060ff"/>
<path d="M720.9 207.9l-0.8 3.2 -1 3.1 -1.3 2.9 -1.6 2.7 -1.8 2.5 -1.8 2.4 -1.7 2.4 -1.6 2.6 -1.2 3.2 -1.5 3.5 -2.3 2.8 -2.9 2.2 -3.1 2 -3.4 1.7 -3.6 1.5 -3.8 1.1 -3.9 0.5 -4 -0.4 -3.9 -0.8 -3.7 -1.6 -3 -2.8 -2.3 -3.5 -2 -3.4 -1.9 -3.1 -2 -2.8 -1.9 -2.7 -1.8 -2.9 -1.4 -3.1 -1 -3.2 -0.7 -3.3 -0.2 -3.4 0.3 -3.3 1 -3.2 1.6 -2.9 2.1 -2.6 2.4 -2.2 2.7 -1.7 2.7 -1.4 2.5 -1.1 2.4 -0.9 2.3 -0.7 2.1 -0.7 2.1 -0.5 1.9 -0.5 1.9 -0.4 1.9 -0.4 1.9 -0.2 1.9 -0.2 2 -0.2 2 -0.1 2.1 -0.2 2.3 -0.1 2.4 0 2.7 0.1 2.8 0.3 3 0.6 2.9 1 2.8 1.5 2.8 1.9 2.4 2.3 2 2.7 1.2 3.2 0.3 3.3z" fill="#0080ff"/>
<path d="M719.1 207.9l-0.7 3.1 -0.9 2.9 -1.3 2.7 -1.5 2.6 -1.7 2.3 -1.8 2.2 -1.7 2.3 -1.6 2.3 -1.4 2.7 -1.6 2.9 -2.2 2.4 -2.6 1.9 -2.9 1.7 -3 1.5 -3.2 1.3 -3.5 0.9 -3.5 0.4 -3.6 -0.3 -3.5 -0.7 -3.4 -1.3 -2.8 -2.3 -2.3 -2.8 -2.1 -2.8 -2 -2.7 -2 -2.5 -2 -2.5 -1.8 -2.7 -1.5 -2.9 -1.1 -3 -0.7 -3.2 -0.2 -3.2 0.3 -3.2 1.1 -3.1 1.6 -2.8 2.1 -2.4 2.4 -2 2.6 -1.7 2.6 -1.2 2.4 -1.1 2.3 -0.8 2.2 -0.6 2 -0.6 1.9 -0.5 1.9 -0.4 1.8 -0.4 1.8 -0.3 1.7 -0.2 1.8 -0.2 1.8 -0.2 1.9 -0.1 2 -0.1 2.1 -0.1 2.3 0 2.5 0.1 2.6 0.2 2.8 0.5 2.8 1 2.8 1.3 2.6 1.7 2.4 2.2 1.9 2.6 1.1 2.9 0.3 3.2z" fill="#00a4ff"/>
<path d="M717.4 207.9l-0.7 2.9 -0.9 2.7 -1.2 2.6 -1.5 2.4 -1.6 2.2 -1.7 2.1 -1.6 2 -1.7 2.1 -1.5 2.3 -1.7 2.3 -2.1 1.9 -2.4 1.6 -2.6 1.5 -2.7 1.2 -2.9 1.1 -3.1 0.7 -3.1 0.3 -3.2 -0.2 -3.1 -0.5 -3 -1.1 -2.7 -1.7 -2.4 -2.2 -2.1 -2.2 -2.1 -2.2 -2.1 -2.2 -2 -2.3 -1.8 -2.5 -1.5 -2.7 -1.2 -2.9 -0.8 -3 -0.2 -3.1 0.3 -3.1 1.1 -2.9 1.7 -2.7 2.1 -2.3 2.4 -1.9 2.6 -1.5 2.4 -1.2 2.4 -0.9 2.2 -0.8 2 -0.6 1.9 -0.5 1.8 -0.4 1.8 -0.4 1.7 -0.3 1.6 -0.2 1.7 -0.2 1.6 -0.2 1.7 -0.1 1.8 -0.1 1.8 -0.1 1.9 -0.1 2.2 0 2.2 0 2.5 0.3 2.6 0.4 2.7 0.8 2.7 1.1 2.6 1.6 2.3 2 1.8 2.5 1 2.8 0.3 2.9z" fill="#00c9ff"/>
<path d="M715.6 207.9l-0.6 2.7 -0.9 2.6 -1.2 2.4 -1.3 2.3 -1.6 2 -1.6 2 -1.6 1.8 -1.7 1.8 -1.7 1.8 -1.8 1.7 -2 1.5 -2.2 1.3 -2.2 1.2 -2.5 1 -2.5 0.8 -2.7 0.6 -2.7 0.3 -2.8 -0.1 -2.7 -0.4 -2.7 -0.8 -2.6 -1.2 -2.3 -1.5 -2.3 -1.7 -2.2 -1.8 -2.1 -1.9 -2 -2.1 -1.9 -2.2 -1.5 -2.5 -1.3 -2.8 -0.8 -2.8 -0.3 -3 0.4 -3 1.2 -2.8 1.7 -2.5 2.2 -2.2 2.4 -1.8 2.4 -1.3 2.4 -1.1 2.2 -0.9 2.1 -0.6 1.9 -0.6 1.8 -0.4 1.7 -0.4 1.6 -0.3 1.6 -0.3 1.6 -0.2 1.5 -0.1 1.5 -0.2 1.6 -0.1 1.6 -0.1 1.7 -0.1 1.8 0 1.9 0 2.1 0 2.3 0.2 2.5 0.4 2.6 0.6 2.6 1 2.5 1.4 2.2 1.9 1.7 2.3 0.9 2.6 0.3 2.8z" fill="#00edff"/>
<path d="M713.9 207.9l-0.5 2.6 -0.9 2.4 -1.1 2.2 -1.4 2.1 -1.4 2 -1.5 1.8 -1.6 1.7 -1.6 1.5 -1.8 1.5 -1.8 1.4 -1.9 1.2 -1.9 1.2 -2.1 1 -2.2 0.9 -2.3 0.6 -2.4 0.5 -2.4 0.2 -2.5 -0.1 -2.5 -0.3 -2.4 -0.6 -2.4 -0.9 -2.3 -1.1 -2.3 -1.3 -2.1 -1.5 -2.1 -1.7 -2 -1.9 -1.9 -2.1 -1.6 -2.3 -1.2 -2.6 -0.8 -2.7 -0.3 -2.8 0.4 -2.9 1.2 -2.7 1.7 -2.4 2.1 -2 2.3 -1.6 2.4 -1.3 2.2 -1 2.1 -0.8 2 -0.6 1.8 -0.5 1.7 -0.4 1.6 -0.4 1.6 -0.2 1.4 -0.2 1.5 -0.2 1.4 -0.1 1.4 -0.2 1.5 -0.1 1.5 -0.1 1.5 0 1.7 -0.1 1.8 0 2 0 2.1 0.2 2.3 0.3 2.5 0.6 2.5 0.9 2.4 1.3 2.1 1.7 1.6 2.2 0.9 2.5 0.3 2.6z" fill="#00ffe6"/>
<path d="M712.3 207.9l-0.5 2.4 -0.9 2.3 -1.1 2.1 -1.2 1.9 -1.4 1.8 -1.4 1.7 -1.5 1.6 -1.6 1.4 -1.6 1.4 -1.7 1.2 -1.7 1.2 -1.9 1 -1.9 1 -2 0.8 -2.2 0.6 -2.2 0.4 -2.2 0.2 -2.3 0 -2.4 -0.3 -2.3 -0.5 -2.2 -0.8 -2.2 -1 -2.1 -1.2 -2.1 -1.4 -2 -1.5 -1.9 -1.7 -1.8 -2 -1.5 -2.2 -1.2 -2.4 -0.8 -2.6 -0.2 -2.7 0.4 -2.7 1.2 -2.5 1.6 -2.3 2.1 -1.9 2.1 -1.5 2.2 -1.2 2.1 -0.9 2 -0.8 1.8 -0.6 1.7 -0.4 1.6 -0.4 1.6 -0.3 1.4 -0.3 1.4 -0.2 1.4 -0.1 1.3 -0.2 1.3 -0.1 1.4 -0.1 1.4 -0.1 1.5 -0.1 1.5 0 1.7 0 1.9 0 2 0.2 2.2 0.3 2.3 0.5 2.3 0.8 2.3 1.3 2 1.6 1.5 2.1 0.8 2.3 0.3 2.4z" fill="#00ffb3"/>
<path d="M710.7 207.9l-0.5 2.2 -0.9 2.2 -1 1.9 -1.2 1.8 -1.3 1.7 -1.3 1.5 -1.4 1.5 -1.5 1.3 -1.5 1.2 -1.6 1.2 -1.6 1 -1.7 1 -1.8 0.8 -1.9 0.8 -1.9 0.5 -2.1 0.4 -2.1 0.2 -2.1 0 -2.1 -0.2 -2.2 -0.5 -2.1 -0.7 -2 -0.9 -2 -1 -2 -1.2 -2 -1.4 -1.8 -1.6 -1.7 -1.8 -1.5 -2.1 -1.2 -2.3 -0.7 -2.4 -0.2 -2.6 0.5 -2.5 1.2 -2.4 1.6 -2.1 1.9 -1.7 2 -1.5 2 -1.1 2 -0.9 1.9 -0.7 1.7 -0.5 1.6 -0.5 1.5 -0.3 1.4 -0.3 1.4 -0.2 1.3 -0.2 1.2 -0.2 1.3 -0.1 1.2 -0.1 1.3 -0.1 1.3 -0.1 1.4 -0.1 1.5 0 1.6 0 1.7 0 1.9 0.2 2 0.2 2.2 0.5 2.2 0.8 2.1 1.2 1.9 1.5 1.4 1.9 0.8 2.2 0.2 2.3z" fill="#00ff80"/>
<path d="M709.1 207.9l-0.5 2.1 -0.8 1.9 -1 1.9 -1.1 1.6 -1.3 1.5 -1.2 1.5 -1.4 1.3 -1.3 1.2 -1.4 1.1 -1.5 1 -1.5 1 -1.6 0.8 -1.6 0.8 -1.7 0.7 -1.8 0.5 -1.9 0.3 -1.9 0.2 -1.9 0.1 -2 -0.2 -2 -0.4 -1.9 -0.6 -2 -0.8 -1.9 -0.9 -1.9 -1.1 -1.8 -1.3 -1.8 -1.4 -1.7 -1.7 -1.4 -1.9 -1.1 -2.1 -0.7 -2.3 -0.1 -2.4 0.5 -2.4 1.1 -2.2 1.6 -2 1.8 -1.6 1.9 -1.3 1.9 -1.1 1.8 -0.8 1.7 -0.7 1.6 -0.5 1.5 -0.4 1.4 -0.3 1.3 -0.3 1.3 -0.2 1.2 -0.2 1.2 -0.1 1.2 -0.2 1.1 -0.1 1.2 -0.1 1.2 0 1.3 -0.1 1.4 0 1.5 -0.1 1.6 0.1 1.7 0.1 1.9 0.3 2.1 0.5 2 0.7 2 1 1.8 1.5 1.3 1.8 0.7 2 0.2 2.2z" fill="#00ff47"/>
<path d="M707.6 207.9l-0.6 1.9 -0.8 1.8 -0.9 1.7 -1.1 1.5 -1.2 1.4 -1.2 1.3 -1.2 1.2 -1.2 1 -1.3 1 -1.4 1 -1.4 0.8 -1.4 0.8 -1.5 0.7 -1.6 0.6 -1.6 0.4 -1.7 0.4 -1.7 0.2 -1.8 0 -1.8 -0.1 -1.8 -0.4 -1.8 -0.5 -1.8 -0.6 -1.8 -0.8 -1.8 -1 -1.8 -1.1 -1.7 -1.3 -1.6 -1.5 -1.4 -1.8 -1 -1.9 -0.7 -2.2 0 -2.3 0.5 -2.2 1.1 -2 1.5 -1.9 1.7 -1.5 1.8 -1.2 1.7 -1 1.7 -0.8 1.6 -0.6 1.5 -0.4 1.4 -0.4 1.3 -0.3 1.2 -0.3 1.1 -0.2 1.2 -0.1 1.1 -0.2 1 -0.1 1.1 -0.1 1.1 -0.1 1.2 -0.1 1.2 0 1.2 -0.1 1.4 0 1.5 0.1 1.6 0.1 1.8 0.3 1.9 0.4 1.9 0.7 1.8 0.9 1.6 1.4 1.2 1.6 0.7 1.9 0.2 2z" fill="#00ff0e"/>
<path d="M706 207.9l-0.6 1.8 -0.8 1.6 -0.9 1.5 -1 1.4 -1.1 1.3 -1.1 1.1 -1.1 1 -1.2 1 -1.2 0.9 -1.2 0.8 -1.2 0.8 -1.3 0.6 -1.4 0.7 -1.4 0.5 -1.5 0.4 -1.5 0.3 -1.5 0.2 -1.6 0 -1.7 -0.1 -1.6 -0.2 -1.7 -0.4 -1.7 -0.5 -1.6 -0.7 -1.7 -0.8 -1.7 -1 -1.7 -1.1 -1.5 -1.4 -1.4 -1.6 -1 -1.9 -0.6 -2 0 -2.1 0.6 -2.1 1.1 -1.9 1.4 -1.6 1.6 -1.4 1.6 -1.2 1.7 -0.9 1.5 -0.7 1.5 -0.5 1.3 -0.5 1.3 -0.3 1.2 -0.3 1.1 -0.3 1.1 -0.1 1 -0.2 1 -0.1 1 -0.1 1 -0.1 1 -0.1 1.1 -0.1 1.1 0 1.2 -0.1 1.2 0 1.4 0.1 1.5 0.1 1.6 0.2 1.8 0.4 1.7 0.6 1.7 0.9 1.5 1.3 1.1 1.5 0.7 1.7 0.1 1.9z" fill="#26ff00"/>
<path d="M704.4 207.9l-0.6 1.6 -0.7 1.5 -0.9 1.4 -0.9 1.2 -1 1.1 -1.1 1 -1 0.9 -1.1 0.9 -1.1 0.8 -1.1 0.7 -1.1 0.6 -1.2 0.6 -1.2 0.5 -1.2 0.5 -1.3 0.3 -1.4 0.3 -1.4 0.2 -1.4 0.1 -1.5 -0.1 -1.4 -0.1 -1.6 -0.3 -1.5 -0.5 -1.6 -0.5 -1.6 -0.7 -1.6 -0.8 -1.6 -1 -1.5 -1.3 -1.3 -1.4 -0.9 -1.7 -0.5 -1.9 0 -2 0.6 -1.9 1.1 -1.7 1.3 -1.5 1.5 -1.3 1.5 -1 1.5 -0.9 1.4 -0.6 1.3 -0.5 1.3 -0.4 1.1 -0.4 1.1 -0.2 1.1 -0.2 0.9 -0.2 1 -0.1 0.9 -0.2 0.9 -0.1 0.9 -0.1 1 0 0.9 -0.1 1 -0.1 1.1 0 1.2 0 1.2 0 1.4 0.1 1.5 0.3 1.6 0.3 1.6 0.6 1.5 0.8 1.4 1.1 1 1.4 0.6 1.6 0.1 1.7z" fill="#59ff00"/>
<path d="M702.8 207.9l-0.6 1.5 -0.7 1.3 -0.8 1.2 -0.9 1.1 -0.9 1 -1 0.8 -1 0.8 -0.9 0.8 -1 0.6 -1 0.6 -1 0.6 -1 0.5 -1.1 0.4 -1.1 0.4 -1.1 0.3 -1.2 0.2 -1.2 0.2 -1.2 0.1 -1.3 0 -1.4 -0.1 -1.3 -0.2 -1.5 -0.3 -1.4 -0.4 -1.5 -0.5 -1.5 -0.7 -1.6 -0.9 -1.4 -1.1 -1.2 -1.3 -1 -1.6 -0.4 -1.7 0.1 -1.8 0.6 -1.8 1.1 -1.6 1.3 -1.3 1.3 -1.2 1.4 -0.9 1.3 -0.8 1.3 -0.6 1.2 -0.4 1.1 -0.4 1.1 -0.3 1 -0.2 0.9 -0.2 0.9 -0.2 0.8 -0.1 0.9 -0.1 0.8 -0.1 0.8 -0.1 0.9 -0.1 0.8 0 1 -0.1 0.9 0 1.1 0 1.1 0 1.3 0.1 1.3 0.2 1.5 0.3 1.4 0.6 1.5 0.7 1.2 1 0.9 1.3 0.6 1.4 0 1.6z" fill="#8cff00"/>
<path d="M701.2 207.9l-0.6 1.3 -0.6 1.2 -0.8 1 -0.9 1 -0.8 0.8 -0.9 0.8 -0.9 0.6 -0.8 0.6 -0.9 0.6 -0.9 0.5 -0.9 0.4 -0.9 0.4 -0.9 0.4 -0.9 0.3 -1 0.2 -1 0.3 -1 0.1 -1.1 0.1 -1.1 0.1 -1.2 0 -1.2 -0.1 -1.3 -0.2 -1.3 -0.3 -1.5 -0.4 -1.4 -0.5 -1.5 -0.8 -1.3 -0.9 -1.2 -1.2 -0.9 -1.4 -0.4 -1.6 0.1 -1.7 0.7 -1.6 1.1 -1.4 1.2 -1.2 1.2 -1.1 1.3 -0.8 1.2 -0.7 1.1 -0.5 1.1 -0.4 1 -0.3 0.9 -0.3 0.9 -0.2 0.8 -0.2 0.8 -0.1 0.8 -0.2 0.7 -0.1 0.8 0 0.7 -0.1 0.8 -0.1 0.8 0 0.8 -0.1 0.9 0 0.9 0 1 0 1.2 0.1 1.2 0.2 1.3 0.3 1.3 0.4 1.3 0.7 1.1 0.9 0.8 1.1 0.5 1.4 0.1 1.3z" fill="#bfff00"/>
<path d="M699.6 207.9l-0.6 1.1 -0.6 1.1 -0.8 0.9 -0.7 0.8 -0.8 0.7 -0.8 0.6 -0.8 0.5 -0.8 0.5 -0.7 0.4 -0.8 0.4 -0.7 0.4 -0.8 0.3 -0.8 0.2 -0.7 0.3 -0.8 0.2 -0.9 0.2 -0.8 0.1 -0.9 0.2 -1 0.1 -1 0 -1.1 0 -1.1 0 -1.3 -0.2 -1.3 -0.3 -1.4 -0.4 -1.4 -0.5 -1.3 -0.9 -1.1 -1 -0.8 -1.3 -0.4 -1.4 0.2 -1.5 0.7 -1.5 1.1 -1.3 1.1 -1 1.1 -0.9 1.1 -0.8 1.1 -0.6 1 -0.4 0.9 -0.4 0.9 -0.3 0.9 -0.2 0.7 -0.2 0.8 -0.2 0.7 -0.1 0.7 -0.1 0.6 -0.1 0.7 -0.1 0.6 -0.1 0.7 0 0.7 -0.1 0.7 0 0.8 0 0.8 0 1 0 0.9 0.1 1.1 0.1 1.2 0.3 1.1 0.4 1.2 0.6 1 0.8 0.7 1 0.4 1.2 0.1 1.2z" fill="#f2ff00"/>
<path d="M698.2 207.9l-0.5 1 -0.6 0.9 -0.7 0.8 -0.7 0.7 -0.7 0.6 -0.7 0.5 -0.7 0.5 -0.7 0.4 -0.7 0.3 -0.7 0.3 -0.6 0.3 -0.7 0.2 -0.6 0.3 -0.7 0.2 -0.7 0.1 -0.7 0.2 -0.7 0.2 -0.8 0.1 -0.8 0.1 -0.9 0.1 -1 0 -1 0 -1.1 -0.1 -1.2 -0.1 -1.3 -0.4 -1.3 -0.4 -1.2 -0.7 -1 -1 -0.8 -1.1 -0.3 -1.3 0.2 -1.4 0.7 -1.3 1 -1.1 1 -1 1 -0.8 1 -0.6 1 -0.5 0.8 -0.5 0.9 -0.3 0.8 -0.3 0.7 -0.2 0.7 -0.1 0.6 -0.2 0.7 -0.1 0.6 -0.1 0.6 -0.1 0.5 0 0.6 -0.1 0.6 -0.1 0.6 0 0.7 0 0.7 -0.1 0.7 0 0.8 0.1 0.9 0 1 0.2 1 0.2 1 0.4 1 0.5 0.9 0.7 0.7 0.9 0.4 1 0 1.1z" fill="#ffd600"/>
<path d="M696.5 207.9l-0.4 0.9 -0.5 0.7 -0.6 0.7 -0.6 0.6 -0.6 0.5 -0.6 0.4 -0.6 0.4 -0.6 0.3 -0.5 0.3 -0.6 0.3 -0.5 0.2 -0.6 0.2 -0.5 0.2 -0.6 0.2 -0.6 0.1 -0.6 0.2 -0.6 0.1 -0.6 0.1 -0.7 0.1 -0.8 0.1 -0.8 0 -0.9 0 -0.9 -0.1 -1 -0.1 -1.1 -0.3 -1.1 -0.4 -1 -0.6 -0.9 -0.8 -0.6 -0.9 -0.3 -1.1 0.2 -1.2 0.6 -1.1 0.8 -0.9 0.9 -0.8 0.8 -0.7 0.9 -0.6 0.7 -0.4 0.8 -0.4 0.7 -0.2 0.7 -0.3 0.6 -0.1 0.6 -0.2 0.5 -0.1 0.5 -0.1 0.5 -0.1 0.5 0 0.5 -0.1 0.5 -0.1 0.5 0 0.6 0 0.5 -0.1 0.6 0 0.6 0 0.7 0 0.7 0.1 0.8 0.1 0.9 0.2 0.9 0.3 0.8 0.5 0.8 0.6 0.6 0.7 0.3 0.9 0 0.9z" fill="#ff9700"/>
<path d="M694.8 207.9l-0.3 0.7 -0.4 0.6 -0.5 0.6 -0.5 0.4 -0.5 0.4 -0.5 0.4 -0.4 0.3 -0.5 0.3 -0.5 0.2 -0.4 0.2 -0.5 0.2 -0.4 0.2 -0.5 0.1 -0.4 0.2 -0.5 0.1 -0.5 0.1 -0.5 0.1 -0.5 0.1 -0.6 0.1 -0.6 0 -0.6 0.1 -0.7 0 -0.8 -0.1 -0.8 -0.1 -0.9 -0.2 -0.9 -0.4 -0.8 -0.4 -0.7 -0.7 -0.6 -0.8 -0.2 -0.9 0.2 -0.9 0.4 -0.9 0.7 -0.8 0.7 -0.6 0.7 -0.6 0.7 -0.4 0.6 -0.4 0.6 -0.3 0.6 -0.2 0.6 -0.2 0.5 -0.1 0.4 -0.1 0.5 -0.1 0.4 -0.1 0.4 -0.1 0.4 0 0.4 -0.1 0.4 0 0.4 0 0.5 -0.1 0.4 0 0.5 0 0.5 0 0.5 0 0.6 0 0.7 0.1 0.7 0.2 0.7 0.2 0.7 0.4 0.6 0.5 0.5 0.6 0.2 0.7 0 0.8z" fill="#ff5e00"/>
<path d="M693.1 207.9l-0.2 0.5 -0.3 0.5 -0.4 0.4 -0.4 0.4 -0.3 0.3 -0.4 0.3 -0.4 0.2 -0.4 0.2 -0.3 0.2 -0.4 0.2 -0.3 0.1 -0.3 0.2 -0.4 0.1 -0.3 0.1 -0.4 0.1 -0.4 0.1 -0.4 0 -0.4 0.1 -0.4 0.1 -0.5 0 -0.5 0 -0.5 0 -0.6 0 -0.6 -0.1 -0.7 -0.2 -0.7 -0.2 -0.6 -0.4 -0.6 -0.5 -0.4 -0.6 -0.2 -0.7 0.2 -0.7 0.3 -0.7 0.5 -0.6 0.6 -0.5 0.5 -0.4 0.6 -0.3 0.4 -0.3 0.5 -0.2 0.4 -0.2 0.5 -0.2 0.4 -0.1 0.3 -0.1 0.4 0 0.3 -0.1 0.3 0 0.3 -0.1 0.3 0 0.3 -0.1 0.3 0 0.4 0 0.3 0 0.4 0 0.4 0 0.4 0 0.5 0 0.5 0.1 0.5 0.1 0.5 0.2 0.6 0.3 0.4 0.4 0.4 0.4 0.2 0.6 0 0.5z" fill="#ff2f00"/>
<path d="M691.5 207.9l-0.2 0.4 -0.2 0.3 -0.3 0.3 -0.3 0.3 -0.2 0.2 -0.3 0.2 -0.2 0.1 -0.3 0.2 -0.2 0.1 -0.3 0.1 -0.2 0.1 -0.3 0.1 -0.2 0.1 -0.3 0.1 -0.2 0 -0.3 0.1 -0.2 0.1 -0.3 0 -0.3 0 -0.4 0.1 -0.3 0 -0.4 0 -0.4 0 -0.4 -0.1 -0.5 -0.1 -0.5 -0.2 -0.4 -0.3 -0.4 -0.3 -0.3 -0.4 -0.1 -0.5 0 -0.5 0.3 -0.5 0.4 -0.4 0.4 -0.4 0.3 -0.2 0.4 -0.3 0.3 -0.2 0.4 -0.1 0.3 -0.2 0.3 -0.1 0.2 0 0.3 -0.1 0.2 0 0.3 -0.1 0.2 0 0.2 -0.1 0.2 0 0.2 0 0.3 0 0.2 0 0.2 -0.1 0.3 0 0.2 0 0.3 0 0.4 0.1 0.3 0 0.4 0.1 0.4 0.1 0.4 0.2 0.3 0.3 0.2 0.3 0.2 0.4 0 0.4z" fill="#ff0000"/>
</g>
<g filter="url(#bl2)">
<ellipse cx="686.16" cy="255.88" rx="21.02" ry="12.13" fill="#000cff"/>
<ellipse cx="686.16" cy="255.88" rx="18.29" ry="10.55" fill="#0018ff"/>
<ellipse cx="686.16" cy="255.88" rx="15.56" ry="8.98" fill="#0024ff"/>
<ellipse cx="686.16" cy="255.88" rx="12.83" ry="7.4" fill="#0030ff"/>
<ellipse cx="686.16" cy="255.88" rx="10.1" ry="5.82" fill="#003cff"/>
<ellipse cx="686.16" cy="255.88" rx="7.36" ry="4.25" fill="#0048ff"/>
<ellipse cx="686.16" cy="255.88" rx="4.63" ry="2.67" fill="#0054ff"/>
<ellipse cx="686.16" cy="255.88" rx="1.9" ry="1.1" fill="#0060ff"/>
</g>
</g>
<line x1="731.1" y1="132.65" x2="731.1" y2="369.2" stroke="#000" stroke-width="2.7"/>
<line x1="623.2" y1="245.8" x2="860.3" y2="245.8" stroke="#000" stroke-width="2.4"/>
<rect x="623.2" y="132.65" width="237.1" height="236.55" fill="none" stroke="#000" stroke-width="2.6"/>
<path d="M615.1 369.2L622 369.2M615.1 315.6L622 315.6M615.1 262L622 262M615.1 208.4L622 208.4M615.1 154.8L622 154.8" stroke="#000" stroke-width="2.4" fill="none"/>
<path d="M617.6 331.74L622 331.74M617.6 278.14L622 278.14M617.6 224.54L622 224.54M617.6 170.94L622 170.94" stroke="#000" stroke-width="1.5" fill="none"/>
<path d="M619.6 353.06L622 353.06M619.6 343.63L622 343.63M619.6 336.93L622 336.93M619.6 327.49L622 327.49M619.6 323.9L622 323.9M619.6 320.79L622 320.79M619.6 318.05L622 318.05M619.6 299.46L622 299.46M619.6 290.03L622 290.03M619.6 283.33L622 283.33M619.6 273.89L622 273.89M619.6 270.3L622 270.3M619.6 267.19L622 267.19M619.6 264.45L622 264.45M619.6 245.86L622 245.86M619.6 236.43L622 236.43M619.6 229.73L622 229.73M619.6 220.29L622 220.29M619.6 216.7L622 216.7M619.6 213.59L622 213.59M619.6 210.85L622 210.85M619.6 192.26L622 192.26M619.6 182.83L622 182.83M619.6 176.13L622 176.13M619.6 166.69L622 166.69M619.6 163.1L622 163.1M619.6 159.99L622 159.99M619.6 157.25L622 157.25M619.6 138.66L622 138.66" stroke="#000" stroke-width="1.5" fill="none"/>
<path d="M623.4 370.4L623.4 378.2M668.35 370.4L668.35 378.2M713.3 370.4L713.3 378.2M758.25 370.4L758.25 378.2M803.2 370.4L803.2 378.2M848.15 370.4L848.15 378.2" stroke="#000" stroke-width="2.4" fill="none"/>
<path d="M632.39 370.4L632.39 373M641.38 370.4L641.38 373M650.37 370.4L650.37 373M659.36 370.4L659.36 373M677.34 370.4L677.34 373M686.33 370.4L686.33 373M695.32 370.4L695.32 373M704.31 370.4L704.31 373M722.29 370.4L722.29 373M731.28 370.4L731.28 373M740.27 370.4L740.27 373M749.26 370.4L749.26 373M767.24 370.4L767.24 373M776.23 370.4L776.23 373M785.22 370.4L785.22 373M794.21 370.4L794.21 373M812.19 370.4L812.19 373M821.18 370.4L821.18 373M830.17 370.4L830.17 373M839.16 370.4L839.16 373M857.14 370.4L857.14 373" stroke="#000" stroke-width="1.6" fill="none"/>
<text x="617.41" y="400.4" font-size="22.2">0</text>
<text x="687.26" y="400.4" font-size="23.2" textLength="52.74" lengthAdjust="spacing">100K</text>
<text x="775.74" y="400.4" font-size="23.2" textLength="53.96" lengthAdjust="spacing">200K</text>
<text x="627.19" y="158.1" font-size="17" textLength="33.15" lengthAdjust="spacing">93.8</text>
<text x="793.22" y="158.1" font-size="17" textLength="42.1" lengthAdjust="spacing">0.058</text>
<text x="627.15" y="354.8" font-size="17" textLength="32.94" lengthAdjust="spacing">6.14</text>
<text x="841.32" y="354.8" font-size="17">0</text>
<!-- plot a1.4 -->
<clipPath id="cp03"><rect x="894.8" y="132.65" width="236.7" height="236.55"/></clipPath>
<g clip-path="url(#cp03)">
<path d="M972.4 250.7l1.3 0 1.2 0.1 1.3 0.1 1.2 0 1.2 0.1 1.2 0 1.1 0.1 1.2 0 1.1 0.1 1.1 0.1 1.1 0.2 1.1 0.2 1 0.2 1 0.3 1 0.4 0.9 0.4 0.9 0.5 0.9 0.5 0.9 0.5 0.8 0.6 0.8 0.6 0.8 0.7 0.7 0.7 0.7 0.7 0.7 0.8 0.6 0.9 0.6 0.8 0.5 0.8 0.5 0.9 0.4 0.9 0.3 0.8 0.3 0.9 0.2 1 0.2 0.9 0.2 1.1 0.1 1 0.1 1.2 0 1.2 0.1 1.2 -0.1 1.3 0 1.4 -0.1 1.3 -0.2 1.3 -0.3 1.3 -0.4 1.2 -0.4 1.1 -0.5 1.1 -0.5 1.1 -0.6 1 -0.7 1.1 -0.6 1.1 -0.7 1.1 -0.6 1.1 -0.7 1.2 -0.7 1.2 -0.6 1.2 -0.7 1.3 -0.7 1.2 -0.7 1.2 -0.6 1.2 -0.6 1.1 -0.6 1.1 -0.6 1.1 -0.6 1.1 -0.6 1 -0.5 1 -0.5 1 -0.4 0.9 -0.4 0.9 -0.3 0.9 -0.3 0.9 -0.2 0.8 -0.2 0.8 -0.1 0.8 -0.1 0.8 -0.1 0.8 -0.1 0.8 -0.1 0.8 0 0.8 -0.1 0.8 0 0.8 0 0.8 -0.2 0.8 -0.1 0.7 -0.3 0.8 -0.3 0.7 -0.4 0.7 -0.5 0.7 -0.5 0.7 -0.5 0.7 -0.4 0.7 -0.5 0.7 -0.4 0.8 -0.4 0.7 -0.4 0.8 -0.4 0.8 -0.3 0.8 -0.4 0.7 -0.5 0.7 -0.6 0.7 -0.6 0.6 -0.7 0.6 -0.8 0.6 -0.8 0.5 -0.9 0.4 -0.9 0.5 -1 0.4 -0.9 0.5 -0.9 0.5 -0.9 0.4 -0.9 0.5 -0.9 0.4 -0.9 0.5 -0.9 0.4 -1 0.5 -0.9 0.5 -0.9 0.4 -0.9 0.5 -0.9 0.4 -0.9 0.5 -0.9 0.4 -0.9 0.4 -0.9 0.3 -0.8 0.2 -0.8 0.1 -0.8 0 -0.7 0 -0.7 -0.2 -0.7 -0.2 -0.7 -0.3 -0.7 -0.3 -0.8 -0.3 -0.7 -0.4 -0.8 -0.5 -0.7 -0.5 -0.8 -0.5 -0.8 -0.6 -0.8 -0.5 -0.9 -0.6 -0.8 -0.7 -0.9 -0.6 -0.8 -0.6 -0.9 -0.7 -0.9 -0.7 -0.9 -0.6 -0.9 -0.7 -0.7 -0.8 -0.7 -0.7 -0.5 -0.7 -0.5 -0.8 -0.4 -0.8 -0.3 -0.7 -0.3 -0.8 -0.2 -0.8 -0.3 -0.9 -0.2 -0.8 -0.3 -0.9 -0.3 -0.8 -0.3 -0.9 -0.4 -0.9 -0.3 -0.9 -0.4 -0.9 -0.4 -0.9 -0.5 -0.8 -0.5 -0.8 -0.5 -0.8 -0.6 -0.7 -0.7 -0.7 -0.7 -0.7 -0.6 -0.7 -0.6 -0.7 -0.6 -0.8 -0.5 -0.7 -0.5 -0.8 -0.4 -0.7 -0.4 -0.8 -0.3 -0.8 -0.3 -0.8 -0.3 -0.9 -0.2 -0.9 -0.2 -0.9 -0.2 -0.9 -0.1 -1 -0.1 -1 -0.1 -1 -0.1 -1.1 -0.1 -1 -0.1 -0.9 -0.2 -1 -0.2 -1 -0.2 -0.9 -0.3 -0.9 -0.3 -1 -0.2 -0.9 -0.2 -1 -0.2 -1 -0.2 -1 -0.2 -1 -0.1 -1.1 -0.1 -1.1 0 -1.2 -0.1 -1.1 0 -1.1 0 -1.1 0 -1.1 0 -1.1 0 -1 0.1 -1.1 0 -1 0.2 -1 0.1 -1.1 0.2 -1 0.3 -1 0.3 -1 0.3 -1.1 0.4 -1 0.5 -1 0.5 -1 0.5 -1 0.5 -0.9 0.5 -0.9 0.5 -0.8 0.5 -0.8 0.6 -0.8 0.6 -0.8 0.6 -0.7 0.8 -0.6 0.8 -0.6 0.9 -0.6 1 -0.5 1.1 -0.5 1.2 -0.5 1.2 -0.4 1.3 -0.4 1.4 -0.3 1.4 -0.4 1.5 -0.4 1.6 -0.4 1.6 -0.3 1.6 -0.4 1.7 -0.3 1.8 -0.3 1.7 -0.3 1.7 -0.3 1.8 -0.2 1.8 -0.2 1.8 -0.2 1.8 -0.1 1.8 -0.1 1.8 -0.1 1.7 -0.1 1.6 0 1.5 -0.1 1.5 0 1.4 0z" fill="#0000ff"/>
<g filter="url(#bl)">
<path d="M997.8 274.7l-0.7 3.6 -1.4 3.4 -1.7 3.2 -1.7 3 -1.8 3 -1.7 2.9 -1.7 2.9 -1.8 3.1 -1.6 3.5 -1.3 4.5 -1.6 5.3 -2.6 4.9 -3.5 4.3 -4.3 3.3 -4.9 2.6 -5.2 2.1 -5.6 0.5 -5.2 -1.9 -4.7 -3.2 -3.9 -4.2 -3 -5 -2.4 -4.7 -2.6 -3.7 -2.4 -3.6 -1.8 -3.9 -1 -4.1 -1 -3.9 -1.1 -3.6 -0.8 -3.6 -0.4 -3.6 -0.1 -3.6 0.2 -3.5 0.6 -3.5 1.2 -3.3 1.7 -3 2 -2.7 2.5 -2.3 3 -1.7 3.2 -1.2 3 -0.8 2.8 -0.7 2.6 -0.6 2.4 -0.4 2.2 -0.4 2.2 -0.3 2.2 -0.3 2.1 -0.2 2.1 -0.1 2.1 -0.2 2.2 -0.1 2.3 0 2.4 0 2.6 0 2.8 0.2 3.2 0.1 3.5 0.4 3.7 0.7 3.5 1.5 3.1 2.1 2.7 2.7 1.9 3.2 1.2 3.5 0.4 3.7z" fill="#000eff"/>
<path d="M996.3 274.7l-0.8 3.5 -1.3 3.2 -1.6 3.1 -1.7 2.9 -1.7 2.7 -1.7 2.8 -1.7 2.8 -1.7 2.8 -1.6 3.3 -1.3 4.2 -1.7 4.7 -2.4 4.5 -3.3 4 -4.1 3 -4.5 2.5 -4.9 2 -5.2 0.4 -4.9 -1.7 -4.4 -3.1 -3.7 -3.8 -2.8 -4.6 -2.4 -4.3 -2.5 -3.4 -2.3 -3.3 -1.7 -3.7 -1.2 -3.8 -1 -3.6 -1.1 -3.4 -0.9 -3.4 -0.5 -3.4 -0.2 -3.5 0.2 -3.4 0.7 -3.3 1.2 -3.2 1.6 -2.9 2 -2.6 2.5 -2.2 2.9 -1.6 3 -1.1 2.9 -0.9 2.7 -0.6 2.4 -0.5 2.3 -0.5 2.2 -0.4 2.1 -0.3 2 -0.2 2.1 -0.2 2 -0.1 2 -0.2 2.1 0 2.2 -0.1 2.3 0 2.5 0.1 2.7 0.1 3 0.1 3.4 0.4 3.5 0.7 3.4 1.4 3 2 2.6 2.5 1.9 3.1 1.1 3.4 0.5 3.5z" fill="#0029ff"/>
<path d="M994.8 274.7l-0.8 3.3 -1.3 3.1 -1.6 3 -1.6 2.7 -1.7 2.6 -1.6 2.6 -1.6 2.6 -1.7 2.7 -1.6 3 -1.4 3.8 -1.6 4.3 -2.4 4.1 -3.1 3.6 -3.7 2.8 -4.3 2.2 -4.5 1.9 -4.8 0.4 -4.6 -1.6 -4.1 -2.8 -3.4 -3.5 -2.7 -4.1 -2.3 -3.9 -2.4 -3.2 -2.2 -3.1 -1.7 -3.4 -1.3 -3.4 -1.1 -3.4 -1.2 -3.1 -0.9 -3.3 -0.6 -3.3 -0.2 -3.3 0.2 -3.3 0.6 -3.2 1.2 -3.1 1.6 -2.8 2 -2.5 2.4 -2 2.8 -1.5 2.9 -1.1 2.8 -0.8 2.5 -0.6 2.4 -0.5 2.2 -0.5 2 -0.3 2.1 -0.3 1.9 -0.2 1.9 -0.2 2 -0.2 1.9 -0.1 2 0 2.1 -0.1 2.2 0 2.4 0.1 2.6 0.1 2.9 0.2 3.2 0.3 3.3 0.7 3.3 1.3 2.9 1.9 2.5 2.4 1.9 2.9 1.1 3.3 0.4 3.4z" fill="#0045ff"/>
<path d="M993.3 274.7l-0.8 3.2 -1.3 2.9 -1.5 2.8 -1.6 2.6 -1.6 2.5 -1.6 2.5 -1.6 2.4 -1.6 2.5 -1.6 2.8 -1.4 3.3 -1.7 3.9 -2.2 3.6 -2.9 3.2 -3.5 2.6 -3.9 2.1 -4.2 1.7 -4.5 0.4 -4.2 -1.5 -3.8 -2.5 -3.2 -3.2 -2.6 -3.7 -2.2 -3.5 -2.2 -2.9 -2.2 -2.9 -1.7 -3 -1.3 -3.2 -1.2 -3.1 -1.3 -2.9 -1 -3.1 -0.6 -3.2 -0.2 -3.1 0.1 -3.2 0.6 -3.1 1.2 -2.9 1.6 -2.7 2 -2.4 2.4 -1.9 2.7 -1.4 2.8 -1.1 2.6 -0.7 2.4 -0.6 2.2 -0.5 2.1 -0.4 2 -0.4 1.9 -0.2 1.9 -0.2 1.8 -0.2 1.9 -0.2 1.8 -0.1 2 0 2 -0.1 2.1 0 2.2 0.1 2.5 0.1 2.7 0.2 3 0.3 3.2 0.7 3.1 1.2 2.9 1.8 2.4 2.3 1.8 2.8 1.1 3.1 0.4 3.2z" fill="#0060ff"/>
<path d="M991.8 274.7l-0.9 3 -1.2 2.8 -1.5 2.7 -1.5 2.4 -1.5 2.4 -1.6 2.3 -1.6 2.3 -1.5 2.3 -1.6 2.5 -1.5 3 -1.6 3.3 -2.2 3.2 -2.7 2.9 -3.2 2.4 -3.5 1.9 -3.9 1.6 -4.1 0.3 -3.9 -1.3 -3.5 -2.3 -3 -2.9 -2.4 -3.3 -2.1 -3.1 -2.2 -2.6 -2 -2.6 -1.7 -2.8 -1.4 -2.9 -1.3 -2.8 -1.3 -2.7 -1.1 -2.9 -0.7 -3 -0.2 -3.1 0.1 -3 0.6 -3 1.1 -2.8 1.6 -2.5 2 -2.3 2.3 -1.8 2.6 -1.3 2.7 -1 2.5 -0.7 2.2 -0.6 2.2 -0.5 2 -0.4 1.9 -0.3 1.8 -0.3 1.8 -0.2 1.7 -0.1 1.8 -0.2 1.7 -0.1 1.9 0 1.9 0 2 0 2.1 0 2.4 0.1 2.6 0.2 2.8 0.4 3 0.6 3 1.1 2.8 1.7 2.3 2.2 1.8 2.6 1.1 2.9 0.3 3.2z" fill="#0080ff"/>
<path d="M990.2 274.7l-0.8 2.9 -1.2 2.6 -1.4 2.5 -1.5 2.4 -1.5 2.2 -1.5 2.1 -1.5 2.1 -1.6 2.1 -1.5 2.3 -1.5 2.6 -1.7 2.9 -2 2.8 -2.5 2.5 -2.9 2.1 -3.3 1.8 -3.5 1.4 -3.7 0.3 -3.6 -1.2 -3.2 -2 -2.7 -2.6 -2.3 -2.8 -2.1 -2.7 -2 -2.4 -1.9 -2.4 -1.7 -2.5 -1.5 -2.5 -1.4 -2.6 -1.4 -2.5 -1.1 -2.7 -0.7 -2.9 -0.4 -2.9 0.1 -2.9 0.6 -2.9 1.1 -2.6 1.6 -2.5 2 -2.1 2.3 -1.7 2.5 -1.2 2.5 -1 2.3 -0.6 2.2 -0.6 2 -0.5 1.9 -0.3 1.8 -0.3 1.7 -0.3 1.7 -0.2 1.7 -0.1 1.7 -0.2 1.7 0 1.7 -0.1 1.8 0 1.9 0 2 0 2.3 0.2 2.4 0.1 2.7 0.4 2.8 0.6 2.9 1 2.7 1.6 2.2 2 1.7 2.5 1.1 2.8 0.4 3z" fill="#00a4ff"/>
<path d="M988.7 274.7l-0.8 2.7 -1.2 2.5 -1.4 2.4 -1.4 2.2 -1.4 2.1 -1.5 1.9 -1.5 2 -1.5 1.9 -1.5 2 -1.5 2.3 -1.7 2.4 -2 2.3 -2.3 2.2 -2.6 1.9 -2.9 1.6 -3.2 1.2 -3.4 0.3 -3.2 -1 -2.9 -1.8 -2.5 -2.2 -2.2 -2.5 -1.9 -2.3 -2 -2.1 -1.8 -2.2 -1.7 -2.1 -1.5 -2.3 -1.5 -2.3 -1.5 -2.3 -1.1 -2.6 -0.8 -2.6 -0.4 -2.8 0.1 -2.8 0.5 -2.7 1.1 -2.6 1.6 -2.3 2 -2 2.2 -1.6 2.4 -1.1 2.4 -0.9 2.2 -0.7 2.1 -0.5 1.9 -0.4 1.8 -0.4 1.7 -0.3 1.6 -0.2 1.6 -0.2 1.6 -0.2 1.6 -0.1 1.6 0 1.6 -0.1 1.7 0 1.8 0 1.9 0.1 2.1 0.1 2.3 0.2 2.6 0.3 2.7 0.6 2.7 0.9 2.5 1.5 2.2 1.9 1.7 2.4 1.1 2.6 0.3 2.9z" fill="#00c9ff"/>
<path d="M987.2 274.7l-0.9 2.6 -1.1 2.3 -1.3 2.2 -1.4 2.1 -1.4 1.9 -1.4 1.9 -1.4 1.8 -1.5 1.7 -1.5 1.8 -1.6 1.8 -1.6 1.9 -1.9 1.9 -2.1 1.9 -2.4 1.7 -2.6 1.4 -2.8 1.1 -3 0.2 -2.9 -0.9 -2.5 -1.6 -2.3 -1.8 -2.1 -2 -1.9 -2 -1.8 -1.9 -1.7 -1.8 -1.7 -1.9 -1.6 -2 -1.6 -2 -1.5 -2.1 -1.3 -2.4 -0.8 -2.5 -0.4 -2.6 0 -2.7 0.6 -2.6 1.1 -2.5 1.5 -2.1 2 -1.9 2.2 -1.4 2.3 -1.1 2.2 -0.9 2.1 -0.6 1.9 -0.5 1.8 -0.4 1.7 -0.4 1.6 -0.2 1.6 -0.3 1.5 -0.1 1.5 -0.2 1.5 -0.1 1.5 0 1.5 -0.1 1.6 0 1.7 0 1.9 0.1 1.9 0.1 2.2 0.2 2.3 0.3 2.6 0.6 2.6 0.9 2.4 1.3 2.1 1.8 1.7 2.2 1 2.5 0.3 2.7z" fill="#00edff"/>
<path d="M985.7 274.7l-0.9 2.4 -1.1 2.2 -1.3 2.1 -1.2 1.9 -1.4 1.8 -1.4 1.7 -1.3 1.7 -1.5 1.6 -1.4 1.5 -1.5 1.6 -1.7 1.6 -1.7 1.7 -1.9 1.6 -2.2 1.5 -2.3 1.3 -2.6 0.9 -2.7 0.2 -2.6 -0.8 -2.4 -1.3 -2.1 -1.7 -1.9 -1.7 -1.8 -1.6 -1.7 -1.7 -1.6 -1.7 -1.7 -1.7 -1.6 -1.7 -1.6 -1.8 -1.5 -2 -1.2 -2.2 -0.9 -2.4 -0.5 -2.5 0 -2.5 0.6 -2.5 1.1 -2.3 1.5 -2.1 1.9 -1.7 2.1 -1.3 2.2 -1.1 2.1 -0.7 2 -0.6 1.8 -0.5 1.7 -0.4 1.5 -0.3 1.6 -0.3 1.4 -0.2 1.5 -0.2 1.4 -0.1 1.4 -0.1 1.4 -0.1 1.5 0 1.5 0 1.6 0 1.7 0 1.9 0.1 2 0.2 2.2 0.3 2.4 0.6 2.5 0.8 2.3 1.2 2 1.7 1.6 2.1 0.9 2.4 0.3 2.5z" fill="#00ffe6"/>
<path d="M984.2 274.7l-0.9 2.3 -1.1 2.1 -1.2 1.9 -1.2 1.8 -1.3 1.7 -1.3 1.5 -1.3 1.5 -1.3 1.5 -1.4 1.5 -1.4 1.4 -1.5 1.5 -1.7 1.5 -1.8 1.4 -1.9 1.4 -2.2 1.2 -2.4 0.9 -2.5 0.1 -2.4 -0.6 -2.2 -1.3 -2 -1.5 -1.8 -1.5 -1.7 -1.5 -1.6 -1.6 -1.5 -1.5 -1.6 -1.6 -1.5 -1.6 -1.5 -1.7 -1.5 -1.8 -1.2 -2 -0.9 -2.3 -0.4 -2.3 0 -2.4 0.5 -2.4 1 -2.1 1.5 -2 1.8 -1.6 2 -1.2 2.1 -1 1.9 -0.7 1.9 -0.6 1.7 -0.4 1.6 -0.4 1.5 -0.3 1.4 -0.3 1.4 -0.2 1.3 -0.2 1.3 -0.1 1.4 -0.1 1.3 -0.1 1.4 0 1.4 0 1.6 0 1.6 0 1.8 0.1 1.9 0.2 2.1 0.2 2.3 0.5 2.4 0.8 2.2 1.2 1.8 1.6 1.4 2 0.9 2.3 0.2 2.4z" fill="#00ffb3"/>
<path d="M982.6 274.7l-0.8 2.1 -1.1 2 -1.1 1.8 -1.1 1.6 -1.2 1.6 -1.3 1.4 -1.2 1.4 -1.3 1.4 -1.2 1.3 -1.4 1.3 -1.4 1.4 -1.5 1.3 -1.7 1.3 -1.8 1.3 -2 1.1 -2.2 0.8 -2.3 0.1 -2.2 -0.6 -2.1 -1.1 -1.8 -1.3 -1.7 -1.4 -1.6 -1.4 -1.5 -1.4 -1.4 -1.4 -1.5 -1.5 -1.4 -1.4 -1.5 -1.6 -1.3 -1.7 -1.2 -1.9 -0.9 -2.1 -0.5 -2.2 0 -2.2 0.5 -2.2 1 -2.1 1.4 -1.8 1.7 -1.5 1.9 -1.1 1.9 -0.9 1.9 -0.7 1.7 -0.6 1.6 -0.4 1.5 -0.3 1.4 -0.3 1.3 -0.3 1.3 -0.2 1.3 -0.1 1.2 -0.1 1.3 -0.1 1.2 -0.1 1.3 -0.1 1.4 0 1.4 0 1.6 0 1.7 0.1 1.8 0.1 2 0.2 2.2 0.5 2.2 0.7 2.1 1.2 1.7 1.5 1.2 2 0.8 2.1 0.1 2.3z" fill="#00ff80"/>
<path d="M981.1 274.7l-0.8 2 -1 1.8 -1.1 1.6 -1.1 1.6 -1.1 1.4 -1.2 1.3 -1.1 1.3 -1.2 1.2 -1.2 1.2 -1.2 1.2 -1.4 1.2 -1.4 1.3 -1.5 1.1 -1.7 1.2 -1.8 0.9 -2 0.7 -2.1 0.2 -2 -0.6 -1.9 -0.9 -1.7 -1.2 -1.6 -1.2 -1.4 -1.3 -1.4 -1.3 -1.4 -1.2 -1.4 -1.3 -1.3 -1.4 -1.4 -1.4 -1.3 -1.6 -1.2 -1.7 -0.8 -2 -0.5 -2 -0.1 -2.1 0.5 -2.1 1 -1.9 1.3 -1.7 1.7 -1.4 1.7 -1.1 1.8 -0.8 1.8 -0.6 1.6 -0.5 1.4 -0.4 1.4 -0.3 1.3 -0.3 1.3 -0.2 1.2 -0.2 1.1 -0.2 1.2 -0.1 1.2 -0.1 1.2 -0.1 1.2 -0.1 1.2 0 1.4 0 1.5 0 1.5 0 1.8 0.1 1.9 0.2 2.1 0.4 2.1 0.7 1.9 1.1 1.6 1.5 1.1 1.9 0.6 2 0.1 2.1z" fill="#00ff47"/>
<path d="M979.5 274.7l-0.8 1.8 -0.9 1.7 -1 1.5 -1 1.4 -1.1 1.3 -1.1 1.2 -1.1 1.2 -1 1.1 -1.2 1.1 -1.1 1 -1.2 1.1 -1.3 1.1 -1.4 1 -1.5 1 -1.7 0.9 -1.8 0.6 -1.9 0.1 -1.8 -0.4 -1.7 -0.9 -1.6 -1 -1.4 -1.1 -1.4 -1.1 -1.3 -1.1 -1.3 -1.2 -1.3 -1.1 -1.2 -1.2 -1.3 -1.3 -1.3 -1.5 -1.1 -1.6 -0.9 -1.7 -0.5 -1.9 -0.1 -2 0.5 -1.9 0.9 -1.8 1.4 -1.6 1.5 -1.2 1.6 -1.1 1.7 -0.7 1.6 -0.6 1.5 -0.5 1.4 -0.3 1.3 -0.4 1.2 -0.2 1.1 -0.2 1.1 -0.2 1.1 -0.2 1.1 -0.1 1.1 -0.1 1.1 -0.1 1.1 0 1.2 -0.1 1.3 0 1.3 -0.1 1.5 0.1 1.7 0 1.8 0.2 2 0.4 2 0.7 1.8 1 1.4 1.5 0.9 1.7 0.5 1.9 0 2z" fill="#00ff0e"/>
<path d="M978 274.7l-0.8 1.7 -0.8 1.5 -1 1.4 -1 1.3 -1 1.1 -1 1.1 -1 1 -1 1 -1 1 -1.1 0.9 -1.1 1 -1.2 0.9 -1.2 0.9 -1.4 0.9 -1.5 0.7 -1.6 0.6 -1.7 0.1 -1.7 -0.4 -1.5 -0.7 -1.4 -0.9 -1.3 -0.9 -1.3 -1 -1.2 -1 -1.2 -1 -1.2 -1 -1.2 -1.1 -1.2 -1.2 -1.2 -1.3 -1 -1.4 -0.9 -1.6 -0.6 -1.8 -0.1 -1.8 0.5 -1.8 0.9 -1.6 1.3 -1.5 1.4 -1.1 1.6 -1 1.5 -0.7 1.5 -0.5 1.3 -0.4 1.3 -0.4 1.2 -0.3 1.1 -0.2 1.1 -0.2 1 -0.2 1 -0.1 1 -0.2 1 -0.1 1 0 1 -0.1 1.2 -0.1 1.1 0 1.3 -0.1 1.4 0 1.6 0.1 1.7 0.1 1.9 0.4 1.9 0.6 1.6 1 1.3 1.4 0.8 1.6 0.3 1.8 0 1.8z" fill="#26ff00"/>
<path d="M976.4 274.7l-0.7 1.5 -0.8 1.4 -0.9 1.3 -0.9 1.1 -0.9 1 -1 1 -0.9 0.9 -0.9 0.9 -1 0.8 -1 0.8 -1 0.8 -1 0.8 -1.1 0.8 -1.3 0.8 -1.3 0.6 -1.4 0.4 -1.5 0.1 -1.5 -0.3 -1.3 -0.5 -1.3 -0.7 -1.2 -0.8 -1.2 -0.8 -1.1 -0.9 -1.1 -0.9 -1.1 -0.9 -1.1 -1 -1.1 -1 -1.1 -1.2 -1.1 -1.3 -0.8 -1.4 -0.6 -1.6 -0.1 -1.7 0.4 -1.7 0.9 -1.5 1.2 -1.3 1.3 -1 1.5 -0.9 1.4 -0.6 1.3 -0.5 1.3 -0.4 1.1 -0.3 1.1 -0.3 1 -0.2 1 -0.2 0.9 -0.2 0.9 -0.1 1 -0.1 0.9 -0.1 0.9 -0.1 1 -0.1 1 -0.1 1.1 0 1.2 -0.1 1.3 0 1.5 0 1.6 0.1 1.8 0.3 1.7 0.6 1.5 0.9 1.1 1.4 0.7 1.5 0.3 1.7 -0.1 1.7z" fill="#59ff00"/>
<path d="M974.9 274.7l-0.7 1.4 -0.8 1.2 -0.8 1.1 -0.8 1 -0.9 1 -0.9 0.8 -0.8 0.8 -0.9 0.7 -0.9 0.7 -0.8 0.7 -0.9 0.7 -1 0.7 -1 0.6 -1 0.6 -1.2 0.5 -1.2 0.4 -1.3 0.1 -1.3 -0.2 -1.2 -0.5 -1.1 -0.5 -1.1 -0.6 -1 -0.7 -1 -0.7 -1 -0.8 -1.1 -0.8 -1 -0.8 -1.1 -0.9 -1 -1 -1 -1.2 -0.9 -1.3 -0.6 -1.5 -0.1 -1.5 0.4 -1.5 0.8 -1.4 1.2 -1.2 1.3 -0.9 1.3 -0.8 1.3 -0.6 1.2 -0.4 1.1 -0.4 1.1 -0.3 0.9 -0.2 1 -0.2 0.8 -0.2 0.9 -0.1 0.8 -0.2 0.8 -0.1 0.9 -0.1 0.8 -0.1 0.9 -0.1 1 -0.1 1 -0.1 1.1 0 1.2 -0.1 1.4 0 1.5 0.1 1.7 0.3 1.6 0.5 1.4 0.9 0.9 1.3 0.6 1.4 0.1 1.6 -0.2 1.5z" fill="#8cff00"/>
<path d="M973.3 274.7l-0.6 1.2 -0.7 1.1 -0.8 1 -0.8 0.9 -0.8 0.8 -0.8 0.7 -0.8 0.7 -0.7 0.6 -0.8 0.6 -0.8 0.5 -0.8 0.6 -0.8 0.5 -0.9 0.5 -0.9 0.5 -1 0.4 -1 0.3 -1.1 0 -1.1 -0.1 -1 -0.3 -1 -0.4 -1 -0.5 -0.9 -0.5 -0.9 -0.6 -0.9 -0.6 -1 -0.7 -0.9 -0.7 -1 -0.8 -1 -0.8 -0.9 -1.1 -0.9 -1.1 -0.6 -1.3 -0.2 -1.4 0.4 -1.4 0.8 -1.2 1.1 -1.1 1.2 -0.8 1.2 -0.7 1.2 -0.5 1 -0.4 1.1 -0.3 0.9 -0.3 0.9 -0.2 0.8 -0.2 0.8 -0.2 0.7 -0.1 0.8 -0.1 0.7 -0.2 0.8 -0.1 0.7 -0.1 0.9 -0.1 0.8 -0.1 0.9 -0.1 1.1 0 1.1 -0.1 1.3 0 1.4 0 1.6 0.2 1.5 0.5 1.2 0.9 0.8 1.2 0.4 1.3 0 1.5 -0.2 1.4z" fill="#bfff00"/>
<path d="M971.8 274.7l-0.6 1.1 -0.7 0.9 -0.7 0.9 -0.7 0.7 -0.8 0.7 -0.7 0.6 -0.7 0.5 -0.7 0.5 -0.7 0.5 -0.7 0.4 -0.7 0.4 -0.7 0.4 -0.7 0.4 -0.8 0.4 -0.8 0.2 -0.8 0.2 -0.9 0.1 -0.9 -0.1 -0.9 -0.1 -0.8 -0.3 -0.9 -0.3 -0.8 -0.4 -0.8 -0.4 -0.8 -0.5 -0.9 -0.5 -0.8 -0.6 -0.9 -0.7 -1 -0.7 -0.9 -0.9 -0.8 -1 -0.7 -1.2 -0.2 -1.2 0.4 -1.3 0.8 -1.1 1 -0.9 1.1 -0.7 1.1 -0.6 1 -0.4 1 -0.4 0.9 -0.3 0.8 -0.2 0.8 -0.2 0.7 -0.2 0.7 -0.1 0.7 -0.2 0.6 -0.1 0.7 -0.1 0.7 -0.1 0.7 -0.1 0.7 -0.1 0.8 -0.2 0.8 -0.1 1 -0.1 1 -0.1 1.2 0 1.3 0 1.5 0.2 1.4 0.4 1 0.9 0.7 1.1 0.2 1.2 -0.1 1.4 -0.3 1.2z" fill="#f2ff00"/>
<path d="M970.5 274.7l-0.6 0.9 -0.6 0.9 -0.6 0.7 -0.7 0.7 -0.7 0.6 -0.6 0.5 -0.7 0.4 -0.6 0.4 -0.6 0.4 -0.6 0.4 -0.6 0.3 -0.6 0.3 -0.7 0.3 -0.6 0.3 -0.7 0.2 -0.7 0.1 -0.8 0.1 -0.7 0 -0.8 -0.1 -0.7 -0.2 -0.8 -0.2 -0.7 -0.3 -0.7 -0.4 -0.8 -0.4 -0.7 -0.4 -0.8 -0.5 -0.8 -0.6 -0.9 -0.6 -0.8 -0.8 -0.8 -0.9 -0.7 -1 -0.2 -1.1 0.4 -1.1 0.7 -1 1 -0.8 1 -0.7 1 -0.5 0.9 -0.4 0.8 -0.3 0.8 -0.3 0.8 -0.2 0.6 -0.1 0.7 -0.2 0.6 -0.1 0.6 -0.2 0.6 -0.1 0.6 -0.1 0.6 -0.1 0.6 -0.1 0.6 -0.1 0.7 -0.1 0.8 -0.1 0.9 -0.1 0.9 -0.1 1.1 -0.1 1.2 0 1.4 0.2 1.2 0.4 1 0.7 0.5 1.1 0.2 1.1 -0.2 1.2 -0.3 1.1z" fill="#ffd600"/>
<path d="M968.8 274.7l-0.4 0.8 -0.5 0.7 -0.6 0.6 -0.5 0.6 -0.6 0.5 -0.5 0.4 -0.6 0.4 -0.5 0.3 -0.5 0.3 -0.5 0.3 -0.5 0.3 -0.6 0.3 -0.5 0.2 -0.5 0.3 -0.6 0.1 -0.6 0.2 -0.7 0 -0.6 0 -0.6 -0.1 -0.6 -0.1 -0.7 -0.2 -0.6 -0.3 -0.6 -0.3 -0.6 -0.3 -0.7 -0.4 -0.6 -0.4 -0.7 -0.5 -0.7 -0.5 -0.7 -0.7 -0.7 -0.7 -0.6 -0.9 -0.1 -0.9 0.2 -0.9 0.7 -0.9 0.8 -0.7 0.8 -0.5 0.9 -0.4 0.7 -0.4 0.8 -0.2 0.6 -0.3 0.6 -0.1 0.6 -0.2 0.6 -0.1 0.5 -0.1 0.5 -0.1 0.5 -0.1 0.5 -0.1 0.5 -0.1 0.5 -0.1 0.5 -0.1 0.6 -0.1 0.7 -0.1 0.7 -0.1 0.8 0 0.9 -0.1 1.1 0 1.1 0.1 1 0.4 0.8 0.6 0.5 0.9 0.1 1 -0.1 1 -0.3 0.9z" fill="#ff9700"/>
<path d="M967.2 274.7l-0.3 0.6 -0.4 0.6 -0.5 0.5 -0.4 0.5 -0.5 0.4 -0.5 0.3 -0.4 0.3 -0.4 0.3 -0.4 0.3 -0.4 0.2 -0.5 0.2 -0.4 0.3 -0.4 0.2 -0.5 0.1 -0.4 0.2 -0.5 0.1 -0.5 0 -0.5 0 -0.6 -0.1 -0.5 -0.1 -0.5 -0.1 -0.5 -0.2 -0.5 -0.3 -0.5 -0.3 -0.5 -0.3 -0.5 -0.3 -0.6 -0.4 -0.6 -0.4 -0.6 -0.5 -0.5 -0.6 -0.5 -0.7 -0.1 -0.8 0.2 -0.8 0.6 -0.6 0.6 -0.6 0.7 -0.4 0.7 -0.4 0.6 -0.3 0.6 -0.2 0.5 -0.2 0.5 -0.1 0.5 -0.1 0.4 -0.1 0.4 -0.1 0.5 -0.1 0.4 -0.1 0.4 -0.1 0.4 0 0.4 -0.1 0.4 -0.1 0.5 -0.1 0.5 0 0.6 -0.1 0.7 -0.1 0.7 0 0.9 0 0.9 0.1 0.8 0.3 0.7 0.5 0.4 0.7 0.1 0.8 -0.1 0.8 -0.3 0.8z" fill="#ff5e00"/>
<path d="M965.6 274.7l-0.3 0.5 -0.3 0.4 -0.3 0.4 -0.4 0.4 -0.3 0.3 -0.4 0.2 -0.3 0.3 -0.3 0.2 -0.3 0.2 -0.4 0.2 -0.3 0.2 -0.3 0.1 -0.3 0.2 -0.4 0.1 -0.4 0.1 -0.3 0.1 -0.4 0 -0.4 0 -0.4 0 -0.4 -0.1 -0.4 -0.1 -0.4 -0.2 -0.4 -0.2 -0.3 -0.2 -0.4 -0.2 -0.5 -0.3 -0.4 -0.3 -0.4 -0.3 -0.5 -0.4 -0.4 -0.5 -0.3 -0.5 -0.2 -0.6 0.2 -0.6 0.4 -0.5 0.5 -0.4 0.6 -0.4 0.5 -0.2 0.5 -0.3 0.4 -0.1 0.4 -0.2 0.4 -0.1 0.4 -0.1 0.3 0 0.3 -0.1 0.3 -0.1 0.3 0 0.4 -0.1 0.3 -0.1 0.3 0 0.3 -0.1 0.4 0 0.4 -0.1 0.5 0 0.5 -0.1 0.5 0 0.7 0 0.7 0.1 0.6 0.2 0.5 0.4 0.3 0.5 0.1 0.6 -0.1 0.6 -0.1 0.6z" fill="#ff2f00"/>
<path d="M964 274.7l-0.2 0.3 -0.2 0.4 -0.2 0.2 -0.3 0.3 -0.2 0.2 -0.3 0.2 -0.2 0.1 -0.2 0.2 -0.3 0.1 -0.2 0.2 -0.2 0.1 -0.2 0.1 -0.3 0.1 -0.2 0.1 -0.3 0.1 -0.2 0 -0.3 0.1 -0.3 -0.1 -0.3 0 -0.2 -0.1 -0.3 0 -0.3 -0.2 -0.2 -0.1 -0.3 -0.1 -0.3 -0.2 -0.3 -0.2 -0.3 -0.2 -0.3 -0.2 -0.3 -0.3 -0.3 -0.3 -0.2 -0.4 -0.1 -0.4 0.1 -0.4 0.3 -0.4 0.3 -0.3 0.4 -0.2 0.4 -0.2 0.3 -0.2 0.3 -0.1 0.3 -0.1 0.3 0 0.2 -0.1 0.3 -0.1 0.2 0 0.2 -0.1 0.2 0 0.3 0 0.2 -0.1 0.2 0 0.2 -0.1 0.3 0 0.3 0 0.3 -0.1 0.3 0 0.4 0 0.5 0 0.5 0 0.4 0.2 0.4 0.2 0.2 0.4 0.1 0.5 -0.1 0.4 -0.1 0.4z" fill="#ff0000"/>
</g>
<ellipse cx="955.25" cy="369.43" rx="33.99" ry="9.14" fill="#0000ff"/>
<g filter="url(#bl)">
<ellipse cx="955.25" cy="369.43" rx="31.38" ry="8.44" fill="#0000ff"/>
<ellipse cx="955.25" cy="369.43" rx="28.77" ry="7.73" fill="#0015ff"/>
<ellipse cx="955.25" cy="369.43" rx="26.17" ry="7.03" fill="#003aff"/>
<ellipse cx="955.25" cy="369.43" rx="23.56" ry="6.33" fill="#0060ff"/>
<ellipse cx="955.25" cy="369.43" rx="20.96" ry="5.63" fill="#008eff"/>
<ellipse cx="955.25" cy="369.43" rx="18.35" ry="4.93" fill="#00c0ff"/>
<ellipse cx="955.25" cy="369.43" rx="15.75" ry="4.23" fill="#00f1ff"/>
<ellipse cx="955.25" cy="369.43" rx="13.14" ry="3.53" fill="#00ffcc"/>
<ellipse cx="955.25" cy="369.43" rx="10.54" ry="2.83" fill="#00ff86"/>
<ellipse cx="955.25" cy="369.43" rx="7.93" ry="2.13" fill="#00ff39"/>
<ellipse cx="955.25" cy="369.43" rx="5.32" ry="1.43" fill="#13ff00"/>
<ellipse cx="955.25" cy="369.43" rx="2.72" ry="0.73" fill="#59ff00"/>
</g>
</g>
<line x1="1002.9" y1="132.65" x2="1002.9" y2="369.2" stroke="#000" stroke-width="2.7"/>
<line x1="894.8" y1="245.8" x2="1131.5" y2="245.8" stroke="#000" stroke-width="2.4"/>
<rect x="894.8" y="132.65" width="236.7" height="236.55" fill="none" stroke="#000" stroke-width="2.6"/>
<path d="M886.7 369.2L893.6 369.2M886.7 315.6L893.6 315.6M886.7 262L893.6 262M886.7 208.4L893.6 208.4M886.7 154.8L893.6 154.8" stroke="#000" stroke-width="2.4" fill="none"/>
<path d="M889.2 331.74L893.6 331.74M889.2 278.14L893.6 278.14M889.2 224.54L893.6 224.54M889.2 170.94L893.6 170.94" stroke="#000" stroke-width="1.5" fill="none"/>
<path d="M891.2 353.06L893.6 353.06M891.2 343.63L893.6 343.63M891.2 336.93L893.6 336.93M891.2 327.49L893.6 327.49M891.2 323.9L893.6 323.9M891.2 320.79L893.6 320.79M891.2 318.05L893.6 318.05M891.2 299.46L893.6 299.46M891.2 290.03L893.6 290.03M891.2 283.33L893.6 283.33M891.2 273.89L893.6 273.89M891.2 270.3L893.6 270.3M891.2 267.19L893.6 267.19M891.2 264.45L893.6 264.45M891.2 245.86L893.6 245.86M891.2 236.43L893.6 236.43M891.2 229.73L893.6 229.73M891.2 220.29L893.6 220.29M891.2 216.7L893.6 216.7M891.2 213.59L893.6 213.59M891.2 210.85L893.6 210.85M891.2 192.26L893.6 192.26M891.2 182.83L893.6 182.83M891.2 176.13L893.6 176.13M891.2 166.69L893.6 166.69M891.2 163.1L893.6 163.1M891.2 159.99L893.6 159.99M891.2 157.25L893.6 157.25M891.2 138.66L893.6 138.66" stroke="#000" stroke-width="1.5" fill="none"/>
<path d="M895 370.4L895 378.2M939.95 370.4L939.95 378.2M984.9 370.4L984.9 378.2M1029.85 370.4L1029.85 378.2M1074.8 370.4L1074.8 378.2M1119.75 370.4L1119.75 378.2" stroke="#000" stroke-width="2.4" fill="none"/>
<path d="M903.99 370.4L903.99 373M912.98 370.4L912.98 373M921.97 370.4L921.97 373M930.96 370.4L930.96 373M948.94 370.4L948.94 373M957.93 370.4L957.93 373M966.92 370.4L966.92 373M975.91 370.4L975.91 373M993.89 370.4L993.89 373M1002.88 370.4L1002.88 373M1011.87 370.4L1011.87 373M1020.86 370.4L1020.86 373M1038.84 370.4L1038.84 373M1047.83 370.4L1047.83 373M1056.82 370.4L1056.82 373M1065.81 370.4L1065.81 373M1083.79 370.4L1083.79 373M1092.78 370.4L1092.78 373M1101.77 370.4L1101.77 373M1110.76 370.4L1110.76 373M1128.74 370.4L1128.74 373" stroke="#000" stroke-width="1.6" fill="none"/>
<text x="889.01" y="400.4" font-size="22.2">0</text>
<text x="958.86" y="400.4" font-size="23.2" textLength="52.74" lengthAdjust="spacing">100K</text>
<text x="1047.34" y="400.4" font-size="23.2" textLength="53.96" lengthAdjust="spacing">200K</text>
<text x="898.92" y="158.1" font-size="17" textLength="41.85" lengthAdjust="spacing">0.014</text>
<text x="1112.92" y="158.1" font-size="17">0</text>
<text x="899.33" y="354.8" font-size="17" textLength="41.61" lengthAdjust="spacing">100.0</text>
<text x="1064.42" y="354.8" font-size="17" textLength="41.85" lengthAdjust="spacing">0.014</text>
<text x="113.11" y="79.3" font-size="29.78" textLength="161.9" lengthAdjust="spacing">Conventional</text>
<text x="141.66" y="113.8" font-size="29.78" textLength="105.64" lengthAdjust="spacing">refolded</text>
<text x="400.74" y="79.3" font-size="29.78" textLength="141.06" lengthAdjust="spacing">Exchanged</text>
<text x="382.18" y="113.8" font-size="29.78" textLength="177.65" lengthAdjust="spacing">stoichiometric</text>
<text x="668.94" y="79.3" font-size="29.78" textLength="140.96" lengthAdjust="spacing">Exchanged</text>
<text x="686.03" y="113.8" font-size="29.78" textLength="105.78" lengthAdjust="spacing">catalytic</text>
<text x="938.54" y="79.3" font-size="29.78" textLength="151.54" lengthAdjust="spacing">Mismatched</text>
<text x="969.06" y="113.8" font-size="29.78" textLength="90.93" lengthAdjust="spacing">peptide</text>
<!-- plot a2.1 -->
<clipPath id="cp10"><rect x="80.3" y="595.8" width="235" height="234.2"/></clipPath>
<g clip-path="url(#cp10)">
<path d="M240.6 596.3l0.7 0 0.7 0.1 0.6 0.1 0.6 0.2 0.4 0.3 0.3 0.3 0.2 0.4 0.2 0.5 0 0.5 0.1 0.5 0.2 0.5 0.2 0.4 0.2 0.5 0.4 0.4 0.3 0.4 0.5 0.4 0.4 0.3 0.5 0.4 0.6 0.4 0.5 0.3 0.5 0.4 0.6 0.4 0.6 0.5 0.6 0.4 0.6 0.4 0.6 0.5 0.6 0.4 0.6 0.5 0.5 0.5 0.6 0.5 0.6 0.5 0.5 0.5 0.5 0.5 0.5 0.6 0.5 0.6 0.5 0.6 0.4 0.6 0.4 0.6 0.4 0.7 0.4 0.6 0.3 0.7 0.4 0.8 0.3 0.7 0.2 0.8 0.3 0.8 0.2 0.8 0.2 0.8 0.1 0.9 0.2 0.9 0.1 0.8 0 0.9 0.1 0.8 0 0.9 -0.1 0.8 0 0.8 -0.1 0.8 -0.2 0.8 -0.1 0.8 -0.2 0.8 -0.2 0.8 -0.2 0.9 -0.2 0.8 -0.2 0.9 -0.2 0.8 -0.3 0.9 -0.3 0.9 -0.3 0.9 -0.3 0.8 -0.3 0.9 -0.3 0.9 -0.3 0.9 -0.4 0.9 -0.3 0.8 -0.4 0.9 -0.4 0.9 -0.3 0.8 -0.4 0.8 -0.4 0.9 -0.5 0.8 -0.4 0.8 -0.4 0.8 -0.5 0.7 -0.4 0.8 -0.5 0.8 -0.5 0.7 -0.5 0.8 -0.5 0.7 -0.5 0.7 -0.5 0.7 -0.6 0.7 -0.5 0.7 -0.5 0.6 -0.5 0.7 -0.6 0.6 -0.5 0.7 -0.5 0.6 -0.5 0.6 -0.5 0.6 -0.5 0.6 -0.4 0.5 -0.3 0.5 -0.3 0.4 -0.3 0.4 -0.2 0.4 -0.2 0.4 -0.1 0.3 -0.2 0.4 -0.1 0.4 -0.1 0.5 0 0.4 -0.1 0.5 0 0.5 0 0.6 0 0.5 -0.1 0.5 -0.1 0.6 -0.1 0.6 -0.2 0.6 -0.2 0.6 -0.2 0.6 -0.3 0.6 -0.3 0.6 -0.2 0.6 -0.3 0.6 -0.3 0.5 -0.4 0.6 -0.3 0.5 -0.3 0.6 -0.4 0.5 -0.3 0.5 -0.4 0.5 -0.3 0.4 -0.4 0.4 -0.3 0.4 -0.4 0.4 -0.3 0.3 -0.4 0.3 -0.3 0.3 -0.4 0.2 -0.4 0.1 -0.3 0.1 -0.4 0 -0.3 0 -0.4 -0.1 -0.3 -0.1 -0.4 -0.2 -0.3 -0.2 -0.4 -0.3 -0.3 -0.3 -0.4 -0.4 -0.3 -0.4 -0.4 -0.5 -0.3 -0.5 -0.4 -0.6 -0.3 -0.5 -0.4 -0.6 -0.3 -0.7 -0.4 -0.6 -0.3 -0.6 -0.4 -0.7 -0.3 -0.7 -0.4 -0.7 -0.4 -0.7 -0.4 -0.6 -0.5 -0.6 -0.4 -0.6 -0.5 -0.6 -0.5 -0.5 -0.5 -0.6 -0.6 -0.5 -0.6 -0.6 -0.5 -0.5 -0.7 -0.6 -0.6 -0.6 -0.7 -0.6 -0.6 -0.6 -0.7 -0.6 -0.7 -0.6 -0.7 -0.6 -0.7 -0.6 -0.7 -0.5 -0.8 -0.6 -0.7 -0.5 -0.7 -0.6 -0.7 -0.5 -0.6 -0.5 -0.6 -0.6 -0.6 -0.6 -0.5 -0.6 -0.5 -0.7 -0.5 -0.6 -0.4 -0.7 -0.3 -0.7 -0.3 -0.7 -0.3 -0.7 -0.2 -0.8 -0.2 -0.7 -0.2 -0.8 -0.1 -0.8 -0.1 -0.7 0 -0.8 0 -0.8 0 -0.9 0 -0.8 0.1 -0.9 0.1 -0.9 0.1 -0.9 0.1 -1 0.2 -0.9 0.2 -1 0.2 -1 0.3 -0.9 0.3 -1 0.3 -1 0.3 -0.9 0.4 -1 0.4 -1 0.4 -0.9 0.4 -1 0.5 -0.9 0.4 -0.9 0.5 -0.9 0.5 -0.9 0.5 -0.9 0.6 -0.9 0.5 -0.9 0.5 -0.8 0.6 -0.9 0.6 -0.8 0.6 -0.8 0.5 -0.8 0.7 -0.8 0.6 -0.8 0.6 -0.8 0.6 -0.8 0.7 -0.7 0.6 -0.8 0.7 -0.7 0.7 -0.7 0.7 -0.8 0.7 -0.7 0.7 -0.6 0.8 -0.7 0.7 -0.6 0.8 -0.6 0.8 -0.6 0.9 -0.5 0.8 -0.5 0.9 -0.5 0.8 -0.5 0.8 -0.4 0.7 -0.5 0.7 -0.4 0.6 -0.5 0.5 -0.4 0.5 -0.4 0.4 -0.4 0.4 -0.4 0.4 -0.3 0.3 -0.4 0.3 -0.4 0.2 -0.4 0.2 -0.3 0.1 -0.4 0.1 -0.3 0.1 -0.4 0 -0.3 0.1 -0.4 0 -0.3 0.1 -0.4 0 -0.3 0 -0.4 0 -0.3 0.1 -0.4 0.2 -0.2 0.3 -0.2 0.4 -0.2 0.5 -0.1 0.6 -0.1z" fill="#0000ff"/>
<g filter="url(#bl)">
<path d="M255.3 632.5l-0.7 2 -0.7 1.8 -0.7 1.7 -0.8 1.7 -0.8 1.7 -0.9 1.6 -1 1.6 -1.1 1.6 -1.1 1.5 -1.3 1.6 -1.4 1.6 -1.5 1.7 -1.5 2.3 -1.7 3.6 -2.2 4 -2.9 2.5 -3.2 -0.5 -2.7 -2.5 -2.3 -2.4 -2.3 -1.8 -2.2 -1.5 -2.2 -1.5 -2.2 -1.5 -2 -1.7 -1.6 -2.1 -1.1 -2.4 -0.7 -2.6 -0.1 -2.6 0.2 -2.6 0.4 -2.4 0.6 -2.3 0.8 -2.1 0.8 -1.9 0.9 -1.8 0.9 -1.7 1 -1.6 1 -1.5 1 -1.5 1.1 -1.4 1.1 -1.4 1.2 -1.3 1.3 -1.3 1.3 -1.3 1.5 -1.3 1.7 -1.2 1.7 -1.1 2 -1.1 2.1 -2.1 2.6 -2.7 2.7 -0.7 2.4 1.3 2.2 1.6 2.2 1.3 2.2 1.3 2 1.5 1.8 1.8 1.4 2.1 1.1 2.3 0.7 2.3 0.3 2.5 0 2.4 -0.3 2.3 -0.4 2.2z" fill="#000eff"/>
<path d="M254.2 632.5l-0.6 1.8 -0.7 1.8 -0.8 1.6 -0.7 1.6 -0.8 1.5 -0.9 1.5 -1 1.5 -1 1.5 -1.1 1.4 -1.2 1.4 -1.3 1.5 -1.4 1.5 -1.5 2.1 -1.5 3.1 -2 3.4 -2.7 2.1 -2.9 -0.3 -2.5 -2 -2.2 -2 -2.2 -1.4 -2.1 -1.3 -2.1 -1.3 -2.1 -1.4 -1.9 -1.6 -1.5 -2 -1.1 -2.2 -0.6 -2.5 -0.1 -2.5 0.1 -2.4 0.4 -2.3 0.6 -2.1 0.7 -2 0.8 -1.8 0.8 -1.7 0.9 -1.6 0.9 -1.5 1 -1.5 1 -1.3 1 -1.3 1.1 -1.3 1.1 -1.2 1.2 -1.3 1.3 -1.2 1.4 -1.2 1.5 -1.1 1.7 -1 1.8 -1.1 2 -1.8 2.4 -2.3 2.5 -0.7 2.3 1.1 2.1 1.3 2.1 1.1 2.1 1.2 1.9 1.4 1.7 1.7 1.4 1.9 1 2.2 0.7 2.2 0.3 2.3 0 2.3 -0.3 2.2 -0.4 2.1z" fill="#0029ff"/>
<path d="M253.2 632.5l-0.6 1.8 -0.7 1.6 -0.7 1.5 -0.8 1.5 -0.8 1.5 -0.8 1.3 -0.9 1.4 -1 1.3 -1.1 1.4 -1.1 1.3 -1.2 1.3 -1.4 1.4 -1.3 1.8 -1.5 2.7 -1.9 2.9 -2.4 1.8 -2.6 -0.2 -2.3 -1.5 -2.2 -1.6 -2 -1.2 -2.1 -1.1 -2 -1.1 -2 -1.3 -1.8 -1.5 -1.4 -1.9 -1.1 -2.1 -0.5 -2.3 -0.2 -2.3 0.2 -2.3 0.3 -2.2 0.6 -2 0.6 -1.9 0.8 -1.7 0.8 -1.6 0.8 -1.6 0.9 -1.4 0.9 -1.3 0.9 -1.3 1 -1.2 1 -1.2 1.1 -1.2 1.2 -1.1 1.2 -1.1 1.3 -1.1 1.5 -1 1.5 -1 1.7 -1 1.9 -1.6 2.2 -2 2.4 -0.6 2.1 0.9 2 1 2.1 1 1.9 1 1.9 1.3 1.7 1.5 1.3 1.9 1 2 0.6 2.1 0.3 2.2 0 2.2 -0.3 2.1 -0.4 2z" fill="#0045ff"/>
<path d="M252.3 632.5l-0.6 1.7 -0.7 1.5 -0.7 1.5 -0.7 1.4 -0.8 1.3 -0.8 1.3 -0.9 1.3 -1 1.2 -1 1.2 -1.1 1.2 -1.1 1.2 -1.3 1.2 -1.3 1.6 -1.4 2.3 -1.7 2.4 -2.2 1.6 -2.4 0 -2.1 -1.2 -2 -1.2 -2 -1 -2 -0.9 -2 -1 -1.8 -1.2 -1.7 -1.4 -1.4 -1.7 -1 -2 -0.6 -2.2 -0.1 -2.2 0.1 -2.1 0.3 -2.1 0.5 -1.9 0.7 -1.8 0.7 -1.6 0.7 -1.6 0.8 -1.4 0.9 -1.3 0.9 -1.3 0.9 -1.2 0.9 -1.2 1 -1.1 1 -1.1 1.1 -1 1.2 -1.1 1.2 -1 1.4 -0.9 1.4 -0.9 1.6 -0.9 1.8 -1.4 2 -1.7 2.2 -0.6 2 0.7 2 0.8 1.9 0.8 2 0.9 1.8 1.2 1.6 1.4 1.3 1.7 0.9 2 0.6 2 0.3 2.1 0 2.1 -0.3 2 -0.4 1.9z" fill="#0060ff"/>
<path d="M251.5 632.5l-0.6 1.6 -0.7 1.4 -0.7 1.4 -0.7 1.3 -0.8 1.3 -0.8 1.2 -0.9 1.1 -0.9 1.2 -0.9 1.1 -1.1 1.1 -1.1 1.1 -1.2 1.1 -1.2 1.3 -1.3 1.9 -1.6 2 -2 1.3 -2.1 0.1 -2 -0.8 -1.9 -0.9 -1.9 -0.7 -2 -0.7 -1.8 -0.8 -1.8 -1.1 -1.7 -1.3 -1.3 -1.7 -0.9 -1.9 -0.6 -2 -0.1 -2.1 0.1 -2 0.3 -2 0.5 -1.8 0.6 -1.7 0.6 -1.6 0.8 -1.4 0.7 -1.4 0.8 -1.2 0.9 -1.2 0.8 -1.2 0.9 -1 1 -1.1 1 -1 1 -1 1.1 -0.9 1.2 -1 1.3 -0.9 1.4 -0.8 1.4 -0.8 1.7 -1.2 1.9 -1.4 2 -0.5 1.9 0.4 1.9 0.6 1.9 0.6 1.8 0.9 1.8 1 1.5 1.4 1.3 1.6 0.9 1.8 0.5 2 0.3 2 0 1.9 -0.3 1.9 -0.4 1.8z" fill="#0080ff"/>
<path d="M250.7 632.5l-0.6 1.5 -0.7 1.4 -0.7 1.3 -0.7 1.2 -0.7 1.2 -0.8 1.1 -0.9 1.1 -0.8 1 -1 1 -1 1 -1 1 -1.1 1 -1.2 1.1 -1.3 1.5 -1.5 1.6 -1.7 1.1 -1.9 0.2 -1.9 -0.5 -1.8 -0.5 -1.8 -0.5 -1.9 -0.5 -1.8 -0.8 -1.7 -0.9 -1.5 -1.3 -1.3 -1.5 -0.9 -1.8 -0.5 -1.9 -0.2 -2 0.1 -1.9 0.3 -1.8 0.4 -1.8 0.6 -1.6 0.7 -1.5 0.7 -1.4 0.7 -1.2 0.8 -1.2 0.8 -1.2 0.8 -1 0.9 -1 0.8 -1 1 -1 1 -0.9 1 -0.9 1.1 -0.8 1.2 -0.8 1.3 -0.8 1.4 -0.8 1.6 -1 1.7 -1.1 1.9 -0.5 1.8 0.3 1.8 0.4 1.8 0.5 1.8 0.7 1.7 0.9 1.5 1.3 1.2 1.5 0.9 1.8 0.5 1.8 0.3 1.9 -0.1 1.9 -0.2 1.8 -0.4 1.7z" fill="#00a4ff"/>
<path d="M249.9 632.5l-0.6 1.4 -0.6 1.3 -0.7 1.3 -0.7 1.1 -0.8 1.1 -0.7 1 -0.8 1 -0.9 1 -0.9 0.9 -0.9 0.9 -1 0.8 -1.1 0.9 -1.1 0.9 -1.2 1.2 -1.4 1.2 -1.5 0.8 -1.7 0.3 -1.7 -0.1 -1.7 -0.2 -1.8 -0.2 -1.8 -0.4 -1.7 -0.6 -1.7 -0.9 -1.4 -1.2 -1.2 -1.4 -0.9 -1.7 -0.5 -1.8 -0.2 -1.8 0.1 -1.9 0.3 -1.7 0.4 -1.7 0.5 -1.5 0.6 -1.4 0.7 -1.3 0.7 -1.2 0.8 -1.1 0.7 -1.1 0.8 -1 0.8 -1 0.9 -0.9 0.9 -0.8 0.9 -0.9 1 -0.8 1.1 -0.8 1.1 -0.8 1.2 -0.7 1.3 -0.7 1.5 -0.8 1.6 -0.8 1.7 -0.5 1.7 0.1 1.7 0.2 1.8 0.3 1.8 0.6 1.6 0.9 1.4 1.2 1.2 1.4 0.8 1.7 0.6 1.7 0.2 1.8 -0.1 1.8 -0.2 1.8 -0.4 1.6z" fill="#00c9ff"/>
<path d="M249.1 632.5l-0.5 1.4 -0.7 1.2 -0.6 1.1 -0.7 1.1 -0.8 1 -0.7 1 -0.8 0.9 -0.8 0.8 -0.9 0.9 -0.9 0.7 -0.9 0.8 -1 0.8 -1.1 0.7 -1.1 0.8 -1.2 0.8 -1.4 0.7 -1.5 0.4 -1.6 0.2 -1.6 0.1 -1.7 0 -1.7 -0.3 -1.7 -0.5 -1.6 -0.7 -1.4 -1.1 -1.1 -1.4 -0.8 -1.6 -0.5 -1.7 -0.2 -1.7 0 -1.7 0.3 -1.7 0.4 -1.5 0.5 -1.5 0.6 -1.3 0.6 -1.3 0.7 -1.1 0.7 -1.1 0.7 -1 0.8 -0.9 0.8 -0.9 0.8 -0.8 0.9 -0.9 0.9 -0.7 0.9 -0.8 1 -0.7 1.1 -0.7 1.1 -0.7 1.2 -0.6 1.4 -0.6 1.4 -0.6 1.6 -0.4 1.6 -0.2 1.7 0 1.7 0.3 1.7 0.4 1.6 0.8 1.4 1.1 1.1 1.4 0.8 1.5 0.5 1.7 0.2 1.8 0 1.7 -0.3 1.6 -0.4 1.6z" fill="#00edff"/>
<path d="M248.4 632.5l-0.6 1.3 -0.6 1.1 -0.6 1.1 -0.7 1 -0.7 1 -0.7 0.9 -0.8 0.8 -0.8 0.8 -0.8 0.7 -0.8 0.8 -0.9 0.7 -0.9 0.6 -1 0.7 -1.1 0.6 -1.2 0.6 -1.2 0.5 -1.4 0.5 -1.4 0.4 -1.6 0.2 -1.6 0.1 -1.6 -0.2 -1.6 -0.4 -1.5 -0.7 -1.4 -1.1 -1 -1.2 -0.8 -1.5 -0.5 -1.6 -0.2 -1.7 0.1 -1.6 0.2 -1.5 0.4 -1.5 0.5 -1.4 0.5 -1.2 0.6 -1.2 0.7 -1.1 0.7 -1 0.7 -0.9 0.7 -0.9 0.7 -0.9 0.8 -0.8 0.8 -0.7 0.9 -0.7 0.8 -0.7 1 -0.7 1 -0.7 1.1 -0.6 1.1 -0.6 1.3 -0.5 1.3 -0.5 1.5 -0.3 1.5 -0.3 1.6 0 1.7 0.1 1.6 0.5 1.5 0.7 1.3 1 1.1 1.3 0.8 1.4 0.4 1.6 0.2 1.7 0 1.6 -0.3 1.6 -0.3 1.4z" fill="#00ffe6"/>
<path d="M247.6 632.5l-0.6 1.2 -0.5 1.1 -0.6 1 -0.7 1 -0.6 0.8 -0.7 0.9 -0.7 0.8 -0.7 0.7 -0.8 0.7 -0.8 0.7 -0.8 0.7 -0.9 0.6 -1 0.6 -1 0.6 -1.1 0.5 -1.1 0.5 -1.3 0.5 -1.4 0.3 -1.4 0.3 -1.5 0 -1.6 -0.1 -1.5 -0.4 -1.4 -0.7 -1.3 -1 -1 -1.2 -0.7 -1.4 -0.4 -1.5 -0.2 -1.5 0 -1.5 0.3 -1.5 0.3 -1.4 0.5 -1.3 0.5 -1.2 0.6 -1.1 0.6 -1 0.6 -0.9 0.7 -0.9 0.7 -0.8 0.7 -0.8 0.7 -0.8 0.7 -0.7 0.8 -0.7 0.9 -0.6 0.9 -0.7 0.9 -0.6 1 -0.6 1.1 -0.5 1.2 -0.5 1.2 -0.4 1.4 -0.4 1.5 -0.2 1.5 -0.1 1.5 0.2 1.5 0.4 1.5 0.6 1.2 1 1 1.2 0.7 1.4 0.5 1.5 0.2 1.5 -0.1 1.6 -0.2 1.4 -0.4 1.4z" fill="#00ffb3"/>
<path d="M246.8 632.5l-0.5 1.1 -0.6 1.1 -0.5 0.9 -0.6 0.9 -0.6 0.8 -0.7 0.8 -0.6 0.7 -0.7 0.7 -0.7 0.7 -0.8 0.6 -0.8 0.6 -0.8 0.6 -0.9 0.6 -0.9 0.6 -1 0.5 -1.1 0.4 -1.2 0.5 -1.3 0.3 -1.3 0.2 -1.5 0.1 -1.4 -0.2 -1.4 -0.3 -1.4 -0.7 -1.1 -0.9 -1 -1.1 -0.7 -1.3 -0.4 -1.4 -0.1 -1.5 0 -1.4 0.2 -1.4 0.4 -1.3 0.4 -1.2 0.5 -1.1 0.5 -1 0.6 -1 0.6 -0.9 0.6 -0.8 0.6 -0.8 0.7 -0.7 0.7 -0.7 0.7 -0.7 0.7 -0.6 0.8 -0.6 0.8 -0.6 0.9 -0.6 1 -0.5 1 -0.5 1.1 -0.5 1.2 -0.4 1.2 -0.4 1.4 -0.2 1.4 0 1.5 0.1 1.4 0.4 1.3 0.6 1.2 0.9 0.9 1.1 0.7 1.3 0.4 1.4 0.2 1.5 -0.1 1.4 -0.2 1.4 -0.3 1.3z" fill="#00ff80"/>
<path d="M246 632.5l-0.5 1.1 -0.5 0.9 -0.5 0.9 -0.6 0.8 -0.6 0.8 -0.6 0.7 -0.6 0.7 -0.6 0.6 -0.7 0.7 -0.7 0.6 -0.7 0.5 -0.8 0.6 -0.8 0.5 -0.9 0.5 -0.9 0.5 -1 0.5 -1.1 0.3 -1.2 0.3 -1.3 0.3 -1.3 0 -1.4 -0.1 -1.3 -0.3 -1.3 -0.6 -1 -0.9 -0.9 -1 -0.7 -1.2 -0.3 -1.4 -0.2 -1.3 0.1 -1.4 0.2 -1.3 0.3 -1.2 0.4 -1.1 0.4 -1 0.6 -1 0.5 -0.9 0.5 -0.8 0.6 -0.8 0.6 -0.7 0.6 -0.7 0.7 -0.6 0.6 -0.6 0.7 -0.6 0.7 -0.6 0.8 -0.6 0.8 -0.5 0.9 -0.5 1 -0.5 1 -0.4 1.1 -0.4 1.2 -0.3 1.2 -0.2 1.4 -0.1 1.3 0.1 1.4 0.4 1.2 0.6 1.1 0.8 0.9 1.1 0.6 1.2 0.4 1.3 0.1 1.4 0 1.3 -0.2 1.3 -0.3 1.2z" fill="#00ff47"/>
<path d="M245.2 632.5l-0.5 1 -0.4 0.9 -0.5 0.8 -0.5 0.7 -0.6 0.8 -0.5 0.6 -0.6 0.7 -0.6 0.6 -0.6 0.5 -0.6 0.6 -0.7 0.5 -0.7 0.5 -0.8 0.5 -0.8 0.5 -0.9 0.4 -0.9 0.5 -1 0.3 -1.2 0.3 -1.1 0.2 -1.3 0.1 -1.2 -0.1 -1.3 -0.4 -1.1 -0.5 -1 -0.8 -0.9 -0.9 -0.5 -1.2 -0.4 -1.2 -0.1 -1.3 0 -1.2 0.2 -1.2 0.3 -1.1 0.4 -1.1 0.4 -0.9 0.5 -0.9 0.5 -0.9 0.5 -0.7 0.5 -0.7 0.6 -0.7 0.5 -0.6 0.6 -0.6 0.6 -0.6 0.7 -0.6 0.7 -0.5 0.7 -0.5 0.7 -0.5 0.8 -0.5 0.9 -0.4 1 -0.4 1 -0.4 1.1 -0.3 1.2 -0.2 1.2 0 1.3 0.1 1.2 0.3 1.2 0.5 1 0.8 0.8 1 0.6 1.1 0.3 1.3 0.2 1.2 -0.1 1.3 -0.2 1.2 -0.3 1.1z" fill="#00ff0e"/>
<path d="M244.4 632.5l-0.4 0.9 -0.5 0.8 -0.4 0.8 -0.5 0.7 -0.5 0.6 -0.5 0.6 -0.5 0.6 -0.6 0.6 -0.5 0.5 -0.6 0.5 -0.6 0.5 -0.7 0.5 -0.7 0.4 -0.7 0.5 -0.9 0.4 -0.8 0.4 -1 0.3 -1 0.3 -1.1 0.2 -1.1 0 -1.2 -0.1 -1.1 -0.3 -1.1 -0.5 -0.9 -0.7 -0.8 -0.9 -0.5 -1 -0.4 -1.2 -0.1 -1.1 0.1 -1.2 0.2 -1.1 0.2 -1 0.4 -1 0.4 -0.9 0.4 -0.8 0.5 -0.7 0.5 -0.7 0.4 -0.7 0.6 -0.6 0.5 -0.6 0.5 -0.5 0.6 -0.6 0.6 -0.5 0.6 -0.5 0.6 -0.4 0.7 -0.5 0.8 -0.4 0.8 -0.5 0.9 -0.3 0.9 -0.4 1 -0.2 1.1 -0.2 1.2 -0.1 1.1 0.1 1.2 0.3 1 0.5 1 0.7 0.7 0.9 0.6 1.1 0.3 1.1 0.1 1.2 0 1.1 -0.2 1.1 -0.3 1.1z" fill="#26ff00"/>
<path d="M243.6 632.5l-0.4 0.8 -0.4 0.8 -0.4 0.7 -0.5 0.6 -0.4 0.6 -0.5 0.6 -0.5 0.5 -0.5 0.5 -0.5 0.5 -0.5 0.4 -0.6 0.5 -0.6 0.4 -0.6 0.4 -0.7 0.4 -0.7 0.4 -0.8 0.4 -0.9 0.3 -0.9 0.2 -1 0.2 -1.1 0.1 -1 -0.1 -1.1 -0.3 -1 -0.4 -0.8 -0.7 -0.7 -0.8 -0.5 -1 -0.3 -1 -0.1 -1.1 0 -1.1 0.2 -1 0.3 -0.9 0.3 -0.9 0.4 -0.8 0.4 -0.7 0.4 -0.7 0.4 -0.7 0.5 -0.6 0.4 -0.5 0.5 -0.6 0.5 -0.5 0.5 -0.4 0.6 -0.5 0.5 -0.5 0.6 -0.4 0.7 -0.4 0.6 -0.4 0.8 -0.4 0.8 -0.3 0.8 -0.4 1 -0.2 1 -0.2 1 0 1.1 0 1 0.3 1 0.5 0.9 0.6 0.7 0.8 0.5 1 0.3 1.1 0.1 1 -0.1 1.1 -0.2 1 -0.2 0.9z" fill="#59ff00"/>
<path d="M242.8 632.5l-0.4 0.7 -0.3 0.7 -0.4 0.6 -0.4 0.6 -0.4 0.6 -0.5 0.5 -0.4 0.5 -0.4 0.4 -0.5 0.4 -0.5 0.5 -0.5 0.4 -0.5 0.4 -0.6 0.3 -0.6 0.4 -0.7 0.4 -0.7 0.3 -0.8 0.3 -0.9 0.2 -0.9 0.2 -0.9 0 -1 0 -0.9 -0.3 -0.9 -0.4 -0.8 -0.6 -0.7 -0.7 -0.4 -0.9 -0.3 -1 -0.1 -1 0.1 -0.9 0.2 -0.9 0.2 -0.9 0.3 -0.8 0.3 -0.7 0.4 -0.7 0.4 -0.6 0.4 -0.6 0.4 -0.5 0.4 -0.5 0.4 -0.5 0.5 -0.5 0.4 -0.4 0.5 -0.4 0.5 -0.4 0.6 -0.4 0.6 -0.4 0.6 -0.4 0.7 -0.3 0.7 -0.3 0.8 -0.3 0.8 -0.3 0.9 -0.1 1 -0.1 0.9 0.1 1 0.2 0.9 0.4 0.8 0.6 0.6 0.8 0.5 0.8 0.2 1 0.1 1 0 0.9 -0.2 1 -0.3 0.8z" fill="#8cff00"/>
<path d="M241.9 632.5l-0.3 0.7 -0.3 0.6 -0.3 0.5 -0.4 0.6 -0.4 0.4 -0.3 0.5 -0.4 0.4 -0.4 0.4 -0.4 0.4 -0.5 0.4 -0.4 0.4 -0.5 0.3 -0.5 0.4 -0.6 0.3 -0.6 0.3 -0.6 0.3 -0.7 0.2 -0.8 0.3 -0.8 0.1 -0.9 0.1 -0.8 -0.1 -0.9 -0.2 -0.8 -0.3 -0.7 -0.6 -0.6 -0.7 -0.4 -0.8 -0.2 -0.8 -0.1 -0.9 0.1 -0.9 0.1 -0.8 0.2 -0.8 0.3 -0.7 0.3 -0.6 0.3 -0.6 0.4 -0.6 0.3 -0.5 0.4 -0.5 0.4 -0.5 0.4 -0.4 0.4 -0.4 0.4 -0.4 0.4 -0.4 0.5 -0.3 0.5 -0.4 0.5 -0.3 0.5 -0.4 0.6 -0.3 0.7 -0.3 0.7 -0.2 0.7 -0.2 0.9 -0.2 0.8 0 0.9 0 0.9 0.2 0.8 0.4 0.7 0.5 0.5 0.7 0.4 0.8 0.3 0.9 0 0.8 0 0.9 -0.2 0.8 -0.2 0.8z" fill="#bfff00"/>
<path d="M241.1 632.5l-0.2 0.6 -0.3 0.5 -0.3 0.5 -0.3 0.5 -0.4 0.4 -0.3 0.4 -0.3 0.4 -0.4 0.3 -0.4 0.4 -0.3 0.3 -0.5 0.3 -0.4 0.4 -0.4 0.3 -0.5 0.3 -0.6 0.2 -0.5 0.3 -0.6 0.2 -0.7 0.2 -0.7 0.2 -0.8 0 -0.8 0 -0.8 -0.2 -0.7 -0.3 -0.6 -0.5 -0.5 -0.6 -0.4 -0.7 -0.2 -0.8 0 -0.8 0 -0.7 0.2 -0.8 0.2 -0.7 0.2 -0.6 0.3 -0.6 0.3 -0.5 0.3 -0.5 0.3 -0.4 0.3 -0.5 0.4 -0.4 0.3 -0.3 0.3 -0.4 0.4 -0.4 0.4 -0.3 0.4 -0.3 0.4 -0.3 0.5 -0.3 0.5 -0.3 0.5 -0.3 0.6 -0.3 0.6 -0.2 0.7 -0.2 0.7 -0.1 0.8 -0.1 0.7 0 0.8 0.2 0.7 0.3 0.7 0.5 0.5 0.6 0.3 0.7 0.2 0.8 0.1 0.8 -0.1 0.8 -0.1 0.7 -0.2 0.7z" fill="#f2ff00"/>
<path d="M240.5 632.5l-0.3 0.5 -0.3 0.5 -0.2 0.4 -0.3 0.4 -0.3 0.4 -0.3 0.4 -0.3 0.3 -0.3 0.3 -0.3 0.3 -0.4 0.3 -0.3 0.3 -0.4 0.3 -0.4 0.3 -0.4 0.2 -0.5 0.3 -0.5 0.2 -0.6 0.2 -0.6 0.2 -0.6 0.1 -0.7 0.1 -0.7 0 -0.7 -0.2 -0.6 -0.3 -0.6 -0.4 -0.5 -0.5 -0.3 -0.7 -0.1 -0.7 -0.1 -0.7 0.1 -0.7 0.1 -0.6 0.2 -0.6 0.2 -0.6 0.2 -0.5 0.3 -0.5 0.3 -0.4 0.3 -0.4 0.2 -0.4 0.3 -0.3 0.3 -0.4 0.4 -0.3 0.3 -0.3 0.3 -0.3 0.4 -0.3 0.4 -0.3 0.4 -0.2 0.4 -0.3 0.5 -0.2 0.5 -0.3 0.5 -0.2 0.6 -0.2 0.7 -0.1 0.6 -0.1 0.7 0.1 0.7 0.1 0.7 0.3 0.6 0.4 0.4 0.6 0.3 0.6 0.2 0.7 0 0.7 0 0.7 -0.1 0.6 -0.2 0.7z" fill="#ffd600"/>
<path d="M239.6 632.5l-0.2 0.5 -0.2 0.3 -0.3 0.4 -0.2 0.4 -0.2 0.3 -0.3 0.3 -0.3 0.3 -0.2 0.2 -0.3 0.3 -0.3 0.2 -0.3 0.3 -0.3 0.2 -0.3 0.2 -0.4 0.3 -0.4 0.2 -0.4 0.2 -0.5 0.1 -0.5 0.2 -0.5 0.1 -0.6 0 -0.6 0 -0.6 -0.1 -0.5 -0.3 -0.5 -0.3 -0.4 -0.5 -0.2 -0.5 -0.2 -0.6 0 -0.6 0 -0.5 0.1 -0.6 0.2 -0.5 0.2 -0.5 0.2 -0.4 0.2 -0.4 0.2 -0.4 0.3 -0.3 0.2 -0.3 0.2 -0.3 0.3 -0.3 0.3 -0.3 0.2 -0.2 0.3 -0.3 0.3 -0.2 0.3 -0.3 0.4 -0.2 0.4 -0.2 0.3 -0.2 0.5 -0.2 0.4 -0.2 0.5 -0.2 0.6 -0.1 0.6 0 0.5 0 0.6 0.1 0.6 0.3 0.5 0.3 0.3 0.5 0.3 0.5 0.1 0.6 0.1 0.6 -0.1 0.6 -0.1 0.5 -0.1 0.5z" fill="#ff9700"/>
<path d="M238.7 632.5l-0.1 0.4 -0.2 0.3 -0.2 0.3 -0.2 0.3 -0.2 0.2 -0.2 0.3 -0.2 0.2 -0.2 0.2 -0.2 0.2 -0.3 0.2 -0.2 0.2 -0.3 0.2 -0.3 0.2 -0.3 0.2 -0.3 0.1 -0.3 0.2 -0.4 0.2 -0.4 0.1 -0.5 0.1 -0.4 0 -0.5 0 -0.5 -0.1 -0.4 -0.2 -0.4 -0.3 -0.3 -0.4 -0.2 -0.4 -0.1 -0.5 -0.1 -0.5 0.1 -0.4 0 -0.5 0.2 -0.4 0.1 -0.4 0.2 -0.3 0.2 -0.4 0.2 -0.3 0.2 -0.2 0.2 -0.3 0.2 -0.2 0.2 -0.3 0.2 -0.2 0.2 -0.2 0.2 -0.2 0.3 -0.2 0.2 -0.2 0.3 -0.2 0.3 -0.1 0.3 -0.2 0.4 -0.2 0.4 -0.1 0.4 -0.1 0.4 -0.1 0.5 -0.1 0.4 0.1 0.5 0.1 0.5 0.2 0.4 0.2 0.3 0.4 0.2 0.4 0.1 0.5 0 0.5 0 0.5 -0.1 0.4 -0.1 0.4z" fill="#ff5e00"/>
<path d="M237.9 632.5l-0.2 0.3 -0.1 0.2 -0.2 0.3 -0.1 0.2 -0.2 0.2 -0.1 0.2 -0.2 0.1 -0.1 0.2 -0.2 0.2 -0.2 0.1 -0.2 0.2 -0.2 0.1 -0.2 0.2 -0.2 0.1 -0.3 0.1 -0.2 0.2 -0.3 0.1 -0.3 0.1 -0.4 0 -0.3 0.1 -0.4 -0.1 -0.4 0 -0.3 -0.2 -0.3 -0.2 -0.2 -0.3 -0.2 -0.3 -0.1 -0.4 0 -0.4 0 -0.3 0.1 -0.4 0.1 -0.3 0.1 -0.3 0.1 -0.3 0.2 -0.2 0.1 -0.2 0.2 -0.2 0.1 -0.2 0.2 -0.2 0.1 -0.2 0.2 -0.2 0.2 -0.1 0.1 -0.2 0.2 -0.1 0.2 -0.2 0.2 -0.1 0.3 -0.2 0.2 -0.1 0.3 -0.1 0.3 -0.1 0.3 -0.1 0.3 -0.1 0.4 0 0.3 0 0.4 0.1 0.4 0.1 0.2 0.2 0.3 0.3 0.1 0.4 0.1 0.3 0.1 0.4 -0.1 0.4 0 0.3 -0.1 0.3z" fill="#ff2f00"/>
<path d="M237 632.5l-0.1 0.2 -0.1 0.2 -0.1 0.1 -0.1 0.2 -0.1 0.1 -0.1 0.2 -0.1 0.1 -0.1 0.1 -0.2 0.1 -0.1 0.1 -0.1 0.1 -0.2 0.1 -0.1 0.1 -0.2 0.1 -0.1 0.1 -0.2 0.1 -0.2 0.1 -0.2 0 -0.3 0.1 -0.2 0 -0.3 0 -0.2 -0.1 -0.3 -0.1 -0.2 -0.1 -0.2 -0.2 -0.1 -0.2 0 -0.3 -0.1 -0.3 0.1 -0.2 0 -0.3 0.1 -0.2 0.1 -0.2 0 -0.2 0.1 -0.1 0.1 -0.2 0.1 -0.2 0.2 -0.1 0.1 -0.1 0.1 -0.2 0.1 -0.1 0.1 -0.1 0.1 -0.1 0.2 -0.1 0.1 -0.1 0.2 -0.1 0.1 -0.1 0.2 -0.1 0.2 -0.1 0.2 -0.1 0.2 0 0.2 -0.1 0.3 0 0.2 0 0.3 0.1 0.2 0.1 0.2 0.1 0.2 0.2 0.1 0.3 0.1 0.2 0 0.3 0 0.2 -0.1 0.3 0 0.2z" fill="#ff0000"/>
</g>
</g>
<line x1="203.4" y1="595.8" x2="203.4" y2="830" stroke="#000" stroke-width="2.7"/>
<line x1="80.3" y1="709.8" x2="315.3" y2="709.8" stroke="#000" stroke-width="2.4"/>
<rect x="80.3" y="595.8" width="235" height="234.2" fill="none" stroke="#000" stroke-width="2.6"/>
<path d="M72.2 830L79.1 830M72.2 776.9L79.1 776.9M72.2 723.8L79.1 723.8M72.2 670.7L79.1 670.7M72.2 617.6L79.1 617.6" stroke="#000" stroke-width="2.4" fill="none"/>
<path d="M74.7 792.88L79.1 792.88M74.7 739.78L79.1 739.78M74.7 686.68L79.1 686.68M74.7 633.58L79.1 633.58" stroke="#000" stroke-width="1.5" fill="none"/>
<path d="M76.7 814.02L79.1 814.02M76.7 804.66L79.1 804.66M76.7 798.03L79.1 798.03M76.7 788.68L79.1 788.68M76.7 785.13L79.1 785.13M76.7 782.05L79.1 782.05M76.7 779.33L79.1 779.33M76.7 760.92L79.1 760.92M76.7 751.56L79.1 751.56M76.7 744.93L79.1 744.93M76.7 735.58L79.1 735.58M76.7 732.03L79.1 732.03M76.7 728.95L79.1 728.95M76.7 726.23L79.1 726.23M76.7 707.82L79.1 707.82M76.7 698.46L79.1 698.46M76.7 691.83L79.1 691.83M76.7 682.48L79.1 682.48M76.7 678.93L79.1 678.93M76.7 675.85L79.1 675.85M76.7 673.13L79.1 673.13M76.7 654.72L79.1 654.72M76.7 645.36L79.1 645.36M76.7 638.73L79.1 638.73M76.7 629.38L79.1 629.38M76.7 625.83L79.1 625.83M76.7 622.75L79.1 622.75M76.7 620.03L79.1 620.03M76.7 601.62L79.1 601.62" stroke="#000" stroke-width="1.5" fill="none"/>
<path d="M80.7 831.2L80.7 838.4M133.5 831.2L133.5 838.4M186.3 831.2L186.3 838.4M239.1 831.2L239.1 838.4M291.9 831.2L291.9 838.4" stroke="#000" stroke-width="2.4" fill="none"/>
<path d="M117.61 831.2L117.61 836M170.41 831.2L170.41 836M223.21 831.2L223.21 836M276.01 831.2L276.01 836" stroke="#000" stroke-width="1.5" fill="none"/>
<path d="M96.59 831.2L96.59 833.8M105.89 831.2L105.89 833.8M112.49 831.2L112.49 833.8M121.79 831.2L121.79 833.8M125.32 831.2L125.32 833.8M128.38 831.2L128.38 833.8M131.08 831.2L131.08 833.8M149.39 831.2L149.39 833.8M158.69 831.2L158.69 833.8M165.29 831.2L165.29 833.8M174.59 831.2L174.59 833.8M178.12 831.2L178.12 833.8M181.18 831.2L181.18 833.8M183.88 831.2L183.88 833.8M202.19 831.2L202.19 833.8M211.49 831.2L211.49 833.8M218.09 831.2L218.09 833.8M227.39 831.2L227.39 833.8M230.92 831.2L230.92 833.8M233.98 831.2L233.98 833.8M236.68 831.2L236.68 833.8M254.99 831.2L254.99 833.8M264.29 831.2L264.29 833.8M270.89 831.2L270.89 833.8M280.19 831.2L280.19 833.8M283.72 831.2L283.72 833.8M286.78 831.2L286.78 833.8M289.48 831.2L289.48 833.8M307.79 831.2L307.79 833.8" stroke="#000" stroke-width="1.5" fill="none"/>
<text x="70.03" y="862.4" font-size="22.2" textLength="24.69" lengthAdjust="spacing">10</text>
<text x="94.72" y="851.86" font-size="13">0</text>
<text x="119.03" y="862.4" font-size="22.2" textLength="24.69" lengthAdjust="spacing">10</text>
<text x="143.27" y="851.86" font-size="13">1</text>
<text x="170.14" y="862.4" font-size="22.2" textLength="24.69" lengthAdjust="spacing">10</text>
<text x="194.69" y="851.86" font-size="13">2</text>
<text x="222.64" y="862.4" font-size="22.2" textLength="24.69" lengthAdjust="spacing">10</text>
<text x="247.36" y="851.86" font-size="13">3</text>
<text x="278.13" y="862.4" font-size="22.2" textLength="24.69" lengthAdjust="spacing">10</text>
<text x="303.05" y="851.86" font-size="13">4</text>
<text x="36.94" y="836.3" font-size="22.2" textLength="24.69" lengthAdjust="spacing">10</text>
<text x="61.62" y="825.75" font-size="13">0</text>
<text x="36.94" y="784" font-size="22.2" textLength="24.69" lengthAdjust="spacing">10</text>
<text x="61.17" y="773.46" font-size="13">1</text>
<text x="36.94" y="731" font-size="22.2" textLength="24.69" lengthAdjust="spacing">10</text>
<text x="61.49" y="720.46" font-size="13">2</text>
<text x="36.94" y="678.8" font-size="22.2" textLength="24.69" lengthAdjust="spacing">10</text>
<text x="61.66" y="668.25" font-size="13">3</text>
<text x="36.94" y="626.2" font-size="22.2" textLength="24.69" lengthAdjust="spacing">10</text>
<text x="61.85" y="615.66" font-size="13">4</text>
<text x="84.22" y="620.2" font-size="17" textLength="33.27" lengthAdjust="spacing">0.34</text>
<text x="262.19" y="620.2" font-size="17" textLength="33.38" lengthAdjust="spacing">99.7</text>
<text x="84.22" y="815.8" font-size="17">0</text>
<text x="296.72" y="815.8" font-size="17">0</text>
<!-- plot a2.2 -->
<clipPath id="cp11"><rect x="351.4" y="595.8" width="235.4" height="234.2"/></clipPath>
<g clip-path="url(#cp11)">
<path d="M506.6 594.2l3.8 0 3.4 0.1 2.8 0.2 2.3 0.2 1.8 0.4 1.3 0.4 0.8 0.6 0.2 0.6 -0.2 0.7 -0.3 0.6 -0.3 0.7 -0.2 0.5 -0.3 0.6 -0.3 0.4 -0.2 0.5 -0.3 0.4 -0.2 0.3 -0.2 0.4 -0.1 0.4 0 0.3 0.1 0.4 0.2 0.4 0.2 0.5 0.4 0.4 0.4 0.4 0.4 0.5 0.5 0.5 0.4 0.5 0.5 0.5 0.4 0.6 0.4 0.5 0.5 0.6 0.4 0.6 0.4 0.7 0.5 0.6 0.3 0.6 0.4 0.7 0.4 0.7 0.3 0.7 0.3 0.6 0.3 0.7 0.3 0.7 0.3 0.8 0.2 0.7 0.3 0.7 0.2 0.7 0.1 0.7 0.2 0.7 0.1 0.7 0.1 0.7 0.1 0.7 0 0.7 0 0.8 -0.1 0.7 -0.1 0.8 -0.1 0.8 -0.2 0.8 -0.2 0.8 -0.2 0.8 -0.3 0.8 -0.2 0.9 -0.3 0.8 -0.3 0.9 -0.4 0.8 -0.3 0.9 -0.4 0.9 -0.3 0.9 -0.4 0.8 -0.4 0.9 -0.4 0.9 -0.5 0.9 -0.4 0.9 -0.4 0.8 -0.5 0.9 -0.5 0.9 -0.5 0.8 -0.5 0.8 -0.5 0.9 -0.6 0.8 -0.6 0.8 -0.6 0.8 -0.6 0.7 -0.7 0.8 -0.6 0.8 -0.7 0.7 -0.7 0.8 -0.6 0.7 -0.7 0.7 -0.7 0.7 -0.7 0.7 -0.7 0.6 -0.7 0.7 -0.6 0.6 -0.7 0.6 -0.6 0.5 -0.6 0.6 -0.7 0.5 -0.6 0.5 -0.6 0.4 -0.6 0.4 -0.6 0.4 -0.6 0.3 -0.7 0.3 -0.6 0.2 -0.6 0.2 -0.6 0.1 -0.7 0.1 -0.7 0.1 -0.8 0.1 -0.8 0 -0.8 0 -0.8 0 -0.9 0 -0.9 -0.1 -0.8 -0.1 -0.9 -0.2 -0.9 -0.1 -0.9 -0.2 -0.9 -0.3 -0.8 -0.3 -0.9 -0.3 -0.9 -0.3 -0.8 -0.3 -0.9 -0.4 -0.8 -0.4 -0.8 -0.3 -0.9 -0.5 -0.8 -0.4 -0.7 -0.4 -0.8 -0.5 -0.7 -0.5 -0.7 -0.5 -0.6 -0.5 -0.6 -0.5 -0.6 -0.6 -0.5 -0.6 -0.5 -0.6 -0.4 -0.6 -0.4 -0.7 -0.4 -0.6 -0.3 -0.7 -0.2 -0.7 -0.3 -0.6 -0.1 -0.7 -0.2 -0.7 -0.1 -0.8 0 -0.7 0 -0.8 0 -0.8 0 -0.8 0.1 -0.8 0.2 -0.9 0.2 -0.8 0.2 -0.9 0.2 -0.9 0.2 -0.9 0.3 -0.9 0.3 -0.8 0.3 -0.9 0.3 -0.9 0.4 -0.9 0.3 -0.8 0.4 -0.9 0.3 -0.8 0.4 -0.9 0.3 -0.8 0.4 -0.8 0.3 -0.8 0.4 -0.8 0.3 -0.8 0.5 -0.8 0.4 -0.8 0.5 -0.9 0.5 -0.8 0.6 -0.9 0.5 -0.8 0.7 -0.9 0.6 -0.9 0.6 -0.8 0.5 -0.9 0.6 -0.8 0.6 -0.9 0.5 -0.8 0.6 -0.8 0.5 -0.8 0.5 -0.7 0.5 -0.8 0.4 -0.7 0.5 -0.7 0.4 -0.7 0.4 -0.6 0.4 -0.7 0.3 -0.6 0.3 -0.6 0.2 -0.6 0.2 -0.5 0.2 -0.5 0 -0.5 0.1 -0.5 -0.1 -0.5 -0.1 -0.4 -0.1 -0.5 -0.1 -0.4 -0.1 -0.4 -0.2 -0.5 -0.1 -0.4 -0.2 -0.5 -0.2 -0.4 -0.3 -0.4 -0.1 -0.5 -0.2 -0.4 -0.2 -0.5 -0.1 -0.4 -0.1 -0.4 -0.1 -0.5 -0.1 -0.4 0 -0.4 0.4 -0.4 1 -0.4 1.4 -0.2 1.9 -0.3 2.4 -0.1 2.9 -0.1z" fill="#0000ff"/>
<g filter="url(#bl)">
<path d="M524.1 629.7l-0.8 1.9 -0.8 1.8 -0.9 1.6 -0.8 1.6 -0.9 1.5 -1 1.5 -1 1.4 -1.1 1.4 -1.2 1.3 -1.2 1.3 -1.4 1.4 -1.4 1.3 -1.6 1.4 -1.7 1.4 -2 1.3 -2.2 0.9 -2.3 0.5 -2.4 0.2 -2.4 -0.1 -2.5 -0.4 -2.4 -0.6 -2.5 -0.9 -2.3 -1.2 -2.1 -1.6 -1.7 -2 -1.1 -2.4 -0.5 -2.6 0.1 -2.7 0.4 -2.6 0.7 -2.4 0.9 -2.2 0.8 -2 0.9 -1.8 0.8 -1.7 0.9 -1.6 1 -1.4 0.9 -1.4 1 -1.3 1 -1.3 1 -1.3 1 -1.4 1.1 -1.4 1.1 -1.5 0.7 -3 0.8 -4.2 2 -2.3 2.6 -0.5 2.5 -0.3 2.7 -0.2 2.7 -0.2 2.8 -0.1 2.9 0.2 2.3 1.7 1.3 3.1 1.3 2.4 1.7 1.8 1.5 2 1.1 2.2 0.7 2.3 0.5 2.3 0.1 2.4 -0.3 2.3 -0.6 2.2z" fill="#000eff"/>
<path d="M523 629.7l-0.8 1.8 -0.8 1.6 -0.8 1.6 -0.9 1.5 -0.8 1.4 -1 1.3 -0.9 1.3 -1.1 1.3 -1.1 1.2 -1.1 1.3 -1.3 1.2 -1.3 1.2 -1.5 1.3 -1.6 1.3 -1.9 1.1 -2 0.9 -2.1 0.5 -2.2 0.2 -2.3 0 -2.4 -0.3 -2.3 -0.5 -2.3 -0.7 -2.3 -1.1 -2 -1.5 -1.6 -1.9 -1.1 -2.2 -0.5 -2.5 0.1 -2.6 0.4 -2.4 0.7 -2.3 0.8 -2.1 0.8 -1.9 0.8 -1.7 0.9 -1.6 0.8 -1.5 0.9 -1.4 1 -1.3 0.9 -1.2 1 -1.2 0.9 -1.2 1 -1.3 1 -1.2 1.1 -1.4 0.7 -2.6 0.9 -3.7 1.8 -2 2.3 -0.4 2.3 -0.4 2.4 -0.3 2.5 -0.2 2.6 -0.1 2.7 0.1 2.3 1.3 1.3 2.7 1.4 2.1 1.7 1.6 1.4 1.9 1.1 2.1 0.7 2.2 0.4 2.2 0 2.3 -0.3 2.2 -0.6 2.1z" fill="#0029ff"/>
<path d="M522 629.7l-0.8 1.7 -0.7 1.6 -0.9 1.4 -0.8 1.4 -0.8 1.3 -0.9 1.3 -1 1.2 -0.9 1.1 -1.1 1.2 -1.1 1.1 -1.2 1.1 -1.2 1.1 -1.4 1.2 -1.5 1.1 -1.7 1.1 -1.9 0.8 -2 0.5 -2 0.3 -2.2 0 -2.2 -0.1 -2.2 -0.4 -2.3 -0.7 -2.1 -1 -1.9 -1.3 -1.6 -1.8 -1 -2.1 -0.5 -2.4 0 -2.4 0.4 -2.3 0.7 -2.2 0.7 -2 0.8 -1.8 0.8 -1.6 0.8 -1.5 0.9 -1.4 0.8 -1.3 0.9 -1.3 0.9 -1.1 0.9 -1.1 1 -1.2 0.9 -1.1 1 -1.2 1 -1.2 0.8 -2.3 0.9 -3.1 1.6 -1.7 2.1 -0.5 2.1 -0.4 2.2 -0.3 2.3 -0.3 2.4 -0.2 2.6 0 2.1 1.2 1.4 2.1 1.5 1.9 1.6 1.5 1.4 1.8 1 1.9 0.7 2.1 0.3 2.2 0 2.2 -0.3 2.1 -0.6 2z" fill="#0045ff"/>
<path d="M521.1 629.7l-0.8 1.6 -0.7 1.5 -0.8 1.3 -0.8 1.3 -0.9 1.3 -0.8 1.1 -0.9 1.1 -1 1.1 -1 1.1 -1 1 -1.1 1 -1.2 1 -1.3 1.1 -1.4 1 -1.5 1 -1.8 0.7 -1.8 0.5 -2 0.4 -2 0.1 -2.1 -0.1 -2.1 -0.3 -2.2 -0.5 -2 -0.9 -1.9 -1.3 -1.4 -1.7 -1.1 -2 -0.4 -2.2 0 -2.3 0.4 -2.2 0.5 -2.1 0.8 -1.9 0.7 -1.7 0.8 -1.6 0.8 -1.4 0.8 -1.3 0.9 -1.2 0.8 -1.2 0.9 -1.1 0.9 -1 0.9 -1.1 0.9 -1 0.9 -1.1 1 -1.1 0.8 -1.9 0.9 -2.6 1.5 -1.5 1.9 -0.5 1.9 -0.5 2 -0.3 2.2 -0.4 2.2 -0.2 2.3 0 2.1 0.8 1.5 1.8 1.5 1.6 1.7 1.4 1.3 1.6 1 1.9 0.6 2.1 0.3 2.1 -0.1 2.1 -0.3 2 -0.6 1.9z" fill="#0060ff"/>
<path d="M520.2 629.7l-0.7 1.5 -0.8 1.4 -0.8 1.3 -0.8 1.2 -0.8 1.1 -0.8 1.1 -0.8 1 -0.9 1 -1 1 -1 0.9 -1 1 -1.1 0.9 -1.2 0.9 -1.3 1 -1.5 0.8 -1.6 0.7 -1.7 0.6 -1.8 0.3 -1.9 0.2 -2 0 -2 -0.2 -2.1 -0.4 -2 -0.8 -1.8 -1.2 -1.4 -1.6 -0.9 -1.9 -0.5 -2.1 0 -2.2 0.3 -2.1 0.6 -2 0.7 -1.8 0.7 -1.6 0.8 -1.5 0.7 -1.3 0.8 -1.3 0.9 -1.1 0.8 -1.1 0.8 -1 0.9 -1 0.8 -1 0.9 -0.9 0.9 -1 1 -1 0.8 -1.6 0.9 -2.1 1.4 -1.3 1.7 -0.6 1.7 -0.4 1.9 -0.5 1.9 -0.3 2.1 -0.3 2.2 -0.1 2 0.7 1.5 1.4 1.6 1.3 1.6 1.2 1.3 1.6 1 1.8 0.6 2 0.2 2 -0.1 2 -0.4 2 -0.6 1.8z" fill="#0080ff"/>
<path d="M519.4 629.7l-0.7 1.4 -0.8 1.3 -0.7 1.3 -0.8 1.1 -0.8 1 -0.8 1 -0.8 1 -0.9 0.9 -0.9 0.9 -0.9 0.8 -1 0.9 -1 0.8 -1.2 0.8 -1.2 0.9 -1.3 0.8 -1.5 0.6 -1.5 0.6 -1.7 0.4 -1.8 0.2 -1.9 0.1 -2 -0.1 -2 -0.4 -1.9 -0.7 -1.7 -1.1 -1.3 -1.5 -1 -1.8 -0.4 -2 0 -2 0.3 -2 0.5 -1.9 0.6 -1.7 0.7 -1.6 0.8 -1.4 0.7 -1.3 0.8 -1.2 0.8 -1.1 0.8 -1 0.8 -0.9 0.9 -0.9 0.8 -0.9 0.8 -0.9 0.9 -0.9 0.9 -0.9 0.9 -1.3 0.9 -1.7 1.3 -1.1 1.5 -0.5 1.5 -0.5 1.7 -0.5 1.8 -0.4 1.9 -0.3 2 -0.1 1.9 0.4 1.7 1 1.6 1.1 1.6 1.2 1.3 1.4 0.9 1.8 0.5 1.9 0.2 1.9 -0.1 2 -0.4 1.8 -0.6 1.7z" fill="#00a4ff"/>
<path d="M518.6 629.7l-0.7 1.4 -0.7 1.2 -0.8 1.1 -0.8 1.1 -0.7 1 -0.8 0.9 -0.8 0.8 -0.8 0.9 -0.9 0.8 -0.8 0.7 -1 0.8 -0.9 0.8 -1.1 0.7 -1.1 0.7 -1.2 0.7 -1.4 0.7 -1.4 0.5 -1.6 0.5 -1.7 0.3 -1.8 0.1 -1.9 0 -1.9 -0.3 -1.8 -0.6 -1.6 -1 -1.3 -1.4 -0.9 -1.7 -0.5 -1.9 0 -2 0.2 -1.9 0.5 -1.8 0.6 -1.6 0.7 -1.5 0.8 -1.3 0.7 -1.3 0.8 -1.1 0.8 -1 0.7 -1 0.8 -0.9 0.8 -0.8 0.8 -0.8 0.8 -0.8 0.9 -0.8 0.9 -0.8 0.8 -1 0.9 -1.3 1.2 -0.9 1.3 -0.5 1.4 -0.5 1.5 -0.5 1.7 -0.5 1.7 -0.3 1.9 -0.2 1.9 0.2 1.7 0.7 1.6 0.8 1.6 1.1 1.3 1.3 0.8 1.7 0.5 1.8 0.2 1.9 -0.2 1.9 -0.4 1.8 -0.6 1.6z" fill="#00c9ff"/>
<path d="M517.9 629.7l-0.7 1.3 -0.8 1.2 -0.7 1 -0.8 1 -0.7 0.9 -0.8 0.8 -0.7 0.8 -0.8 0.8 -0.8 0.7 -0.8 0.7 -0.9 0.7 -0.9 0.6 -1 0.7 -1 0.7 -1.1 0.6 -1.3 0.6 -1.3 0.5 -1.5 0.5 -1.6 0.4 -1.7 0.2 -1.8 0.1 -1.8 -0.3 -1.7 -0.5 -1.6 -0.9 -1.3 -1.3 -0.8 -1.7 -0.5 -1.7 0 -1.9 0.2 -1.8 0.5 -1.7 0.6 -1.6 0.6 -1.4 0.7 -1.3 0.8 -1.1 0.7 -1.1 0.8 -1 0.7 -0.8 0.8 -0.9 0.7 -0.8 0.8 -0.7 0.8 -0.7 0.8 -0.7 0.9 -0.7 0.8 -0.8 1 -0.8 1 -0.7 1.2 -0.6 1.2 -0.6 1.4 -0.5 1.5 -0.5 1.6 -0.3 1.7 -0.3 1.8 0 1.8 0.4 1.7 0.6 1.5 0.9 1.3 1.3 0.8 1.6 0.5 1.8 0.1 1.8 -0.3 1.8 -0.4 1.7 -0.6 1.6z" fill="#00edff"/>
<path d="M517.1 629.7l-0.7 1.2 -0.7 1.1 -0.7 1 -0.7 0.9 -0.7 0.9 -0.7 0.7 -0.8 0.8 -0.7 0.7 -0.8 0.6 -0.7 0.7 -0.9 0.6 -0.8 0.6 -0.9 0.6 -1 0.6 -1 0.6 -1.2 0.5 -1.2 0.6 -1.4 0.4 -1.5 0.4 -1.6 0.3 -1.7 0.1 -1.7 -0.2 -1.7 -0.5 -1.5 -0.9 -1.2 -1.2 -0.8 -1.5 -0.4 -1.7 -0.1 -1.7 0.2 -1.8 0.4 -1.6 0.6 -1.5 0.6 -1.3 0.7 -1.2 0.7 -1.1 0.8 -1 0.7 -0.9 0.7 -0.8 0.7 -0.8 0.7 -0.8 0.8 -0.7 0.7 -0.6 0.8 -0.7 0.8 -0.6 0.9 -0.6 0.9 -0.6 0.9 -0.6 1.1 -0.6 1.1 -0.5 1.3 -0.5 1.3 -0.5 1.5 -0.4 1.6 -0.3 1.7 -0.1 1.8 0.2 1.7 0.5 1.5 0.9 1.2 1.2 0.8 1.5 0.4 1.7 0.1 1.8 -0.3 1.7 -0.4 1.6 -0.5 1.5z" fill="#00ffe6"/>
<path d="M516.3 629.7l-0.6 1.1 -0.7 1.1 -0.6 0.9 -0.7 0.9 -0.7 0.7 -0.7 0.8 -0.7 0.7 -0.6 0.6 -0.8 0.7 -0.7 0.6 -0.8 0.5 -0.8 0.6 -0.8 0.6 -0.9 0.5 -1 0.6 -1.1 0.5 -1.1 0.5 -1.3 0.4 -1.4 0.4 -1.5 0.3 -1.6 0 -1.7 -0.1 -1.5 -0.5 -1.4 -0.8 -1.2 -1.2 -0.7 -1.4 -0.4 -1.6 -0.1 -1.6 0.2 -1.6 0.4 -1.5 0.5 -1.4 0.6 -1.3 0.7 -1.1 0.6 -1.1 0.7 -0.9 0.7 -0.9 0.7 -0.7 0.6 -0.8 0.7 -0.7 0.7 -0.6 0.7 -0.6 0.8 -0.6 0.7 -0.6 0.8 -0.6 0.9 -0.6 0.9 -0.5 1 -0.6 1 -0.5 1.2 -0.5 1.3 -0.4 1.4 -0.4 1.5 -0.3 1.6 0 1.6 0.1 1.6 0.5 1.4 0.8 1.1 1.2 0.8 1.4 0.4 1.6 0.1 1.6 -0.2 1.6 -0.4 1.6 -0.6 1.3z" fill="#00ffb3"/>
<path d="M515.5 629.7l-0.6 1.1 -0.6 0.9 -0.6 0.9 -0.6 0.8 -0.7 0.7 -0.6 0.7 -0.6 0.7 -0.7 0.6 -0.7 0.6 -0.6 0.5 -0.7 0.6 -0.8 0.5 -0.8 0.5 -0.8 0.6 -1 0.5 -1 0.5 -1.1 0.4 -1.2 0.4 -1.3 0.4 -1.4 0.2 -1.5 0.1 -1.5 -0.2 -1.5 -0.4 -1.3 -0.8 -1.1 -1 -0.7 -1.4 -0.3 -1.5 -0.1 -1.5 0.2 -1.5 0.4 -1.4 0.5 -1.3 0.5 -1.2 0.6 -1.1 0.6 -0.9 0.7 -0.9 0.6 -0.8 0.6 -0.7 0.7 -0.7 0.6 -0.7 0.7 -0.6 0.6 -0.6 0.7 -0.5 0.7 -0.6 0.8 -0.5 0.8 -0.5 0.8 -0.6 0.9 -0.5 1 -0.5 1.1 -0.4 1.2 -0.4 1.3 -0.4 1.5 -0.2 1.4 -0.1 1.6 0.2 1.4 0.4 1.4 0.8 1 1 0.7 1.4 0.4 1.5 0.1 1.5 -0.2 1.5 -0.4 1.4 -0.5 1.3z" fill="#00ff80"/>
<path d="M514.8 629.7l-0.6 1 -0.6 0.9 -0.6 0.8 -0.5 0.8 -0.6 0.6 -0.6 0.7 -0.6 0.6 -0.6 0.5 -0.6 0.6 -0.7 0.5 -0.6 0.5 -0.7 0.5 -0.8 0.5 -0.8 0.5 -0.8 0.5 -1 0.4 -1 0.5 -1.1 0.3 -1.2 0.4 -1.3 0.2 -1.4 0.1 -1.5 -0.2 -1.3 -0.4 -1.3 -0.7 -0.9 -1 -0.7 -1.3 -0.4 -1.3 0 -1.5 0.2 -1.4 0.3 -1.3 0.5 -1.2 0.5 -1.1 0.6 -1 0.5 -0.9 0.6 -0.8 0.6 -0.7 0.6 -0.7 0.6 -0.7 0.6 -0.6 0.6 -0.5 0.6 -0.6 0.6 -0.5 0.7 -0.5 0.7 -0.5 0.7 -0.5 0.8 -0.5 0.9 -0.5 0.9 -0.4 1.1 -0.4 1.1 -0.4 1.2 -0.4 1.3 -0.2 1.4 0 1.4 0.1 1.4 0.4 1.2 0.7 1 1 0.7 1.3 0.3 1.3 0.1 1.5 -0.2 1.4 -0.4 1.3 -0.4 1.2z" fill="#00ff47"/>
<path d="M514 629.7l-0.5 0.9 -0.6 0.9 -0.5 0.7 -0.6 0.7 -0.5 0.6 -0.6 0.6 -0.5 0.6 -0.6 0.5 -0.5 0.5 -0.6 0.5 -0.6 0.5 -0.7 0.4 -0.7 0.5 -0.7 0.4 -0.8 0.5 -0.9 0.4 -0.9 0.4 -1 0.4 -1.2 0.3 -1.2 0.2 -1.3 0 -1.3 -0.1 -1.3 -0.4 -1.1 -0.7 -0.9 -0.9 -0.6 -1.1 -0.4 -1.3 0 -1.3 0.2 -1.3 0.3 -1.3 0.4 -1.1 0.5 -1 0.5 -0.9 0.5 -0.8 0.6 -0.8 0.5 -0.7 0.6 -0.6 0.5 -0.6 0.6 -0.6 0.5 -0.5 0.6 -0.5 0.6 -0.5 0.6 -0.5 0.7 -0.4 0.6 -0.5 0.8 -0.4 0.8 -0.5 0.8 -0.4 1 -0.4 1 -0.3 1.1 -0.3 1.3 -0.2 1.3 -0.1 1.3 0.1 1.2 0.4 1.2 0.7 0.9 0.9 0.6 1.1 0.3 1.3 0.1 1.3 -0.2 1.3 -0.3 1.3 -0.4 1.1z" fill="#00ff0e"/>
<path d="M513.2 629.7l-0.5 0.8 -0.5 0.8 -0.5 0.7 -0.5 0.6 -0.5 0.6 -0.5 0.6 -0.5 0.5 -0.5 0.5 -0.5 0.4 -0.6 0.5 -0.5 0.4 -0.6 0.4 -0.7 0.5 -0.6 0.4 -0.8 0.4 -0.8 0.4 -0.8 0.3 -1 0.4 -1 0.2 -1.2 0.2 -1.1 0.1 -1.2 -0.1 -1.2 -0.4 -1.1 -0.6 -0.8 -0.9 -0.6 -1 -0.3 -1.2 0 -1.2 0.1 -1.2 0.3 -1.1 0.4 -1.1 0.5 -0.9 0.5 -0.8 0.4 -0.8 0.5 -0.7 0.5 -0.6 0.5 -0.6 0.5 -0.6 0.6 -0.5 0.5 -0.5 0.5 -0.4 0.5 -0.5 0.6 -0.4 0.6 -0.4 0.6 -0.5 0.7 -0.4 0.7 -0.4 0.8 -0.4 0.9 -0.3 1 -0.3 1 -0.3 1.1 -0.2 1.2 -0.1 1.2 0.2 1.2 0.3 1 0.6 0.9 0.9 0.5 1 0.3 1.2 0.1 1.2 -0.2 1.2 -0.3 1.1 -0.4 1.1z" fill="#26ff00"/>
<path d="M512.4 629.7l-0.4 0.8 -0.5 0.7 -0.4 0.6 -0.5 0.6 -0.4 0.5 -0.5 0.5 -0.5 0.5 -0.4 0.4 -0.5 0.5 -0.5 0.4 -0.5 0.4 -0.6 0.4 -0.6 0.3 -0.6 0.4 -0.6 0.4 -0.8 0.3 -0.8 0.4 -0.8 0.3 -1 0.2 -1 0.2 -1.1 0 -1.1 -0.1 -1.1 -0.3 -0.9 -0.6 -0.8 -0.7 -0.5 -1 -0.3 -1.1 0 -1.1 0.1 -1.1 0.3 -1 0.4 -0.9 0.4 -0.9 0.4 -0.8 0.4 -0.7 0.5 -0.6 0.5 -0.6 0.4 -0.5 0.5 -0.5 0.4 -0.5 0.5 -0.4 0.5 -0.4 0.5 -0.5 0.5 -0.4 0.5 -0.3 0.6 -0.4 0.6 -0.4 0.7 -0.4 0.7 -0.3 0.8 -0.4 0.9 -0.3 0.9 -0.2 1.1 -0.2 1.1 0 1.1 0.1 1 0.3 1 0.6 0.7 0.7 0.6 1 0.2 1.1 0.1 1.1 -0.2 1.1 -0.2 1 -0.4 1z" fill="#59ff00"/>
<path d="M511.6 629.7l-0.4 0.7 -0.4 0.6 -0.4 0.6 -0.4 0.5 -0.4 0.5 -0.4 0.5 -0.5 0.4 -0.4 0.4 -0.4 0.4 -0.5 0.3 -0.4 0.4 -0.5 0.4 -0.5 0.3 -0.6 0.3 -0.6 0.4 -0.7 0.3 -0.7 0.3 -0.8 0.3 -0.8 0.2 -1 0.1 -0.9 0.1 -1 -0.1 -1 -0.3 -0.9 -0.5 -0.6 -0.7 -0.5 -0.9 -0.3 -1 0 -1 0.1 -0.9 0.3 -1 0.3 -0.8 0.3 -0.8 0.4 -0.7 0.4 -0.6 0.5 -0.6 0.4 -0.5 0.4 -0.5 0.4 -0.5 0.4 -0.4 0.4 -0.4 0.5 -0.4 0.4 -0.3 0.5 -0.4 0.5 -0.3 0.5 -0.4 0.6 -0.3 0.6 -0.4 0.6 -0.3 0.8 -0.3 0.7 -0.3 0.9 -0.2 0.9 -0.1 1 -0.1 1 0.1 1 0.3 0.8 0.5 0.7 0.7 0.5 0.9 0.2 1 0.1 1 -0.2 1 -0.2 0.9 -0.3 0.8z" fill="#8cff00"/>
<path d="M510.8 629.7l-0.3 0.6 -0.4 0.6 -0.4 0.5 -0.3 0.5 -0.4 0.4 -0.4 0.4 -0.3 0.4 -0.4 0.4 -0.4 0.3 -0.4 0.3 -0.4 0.4 -0.5 0.3 -0.4 0.3 -0.5 0.3 -0.6 0.3 -0.6 0.3 -0.6 0.2 -0.7 0.3 -0.8 0.2 -0.8 0.1 -0.9 0.1 -0.9 -0.1 -0.8 -0.3 -0.8 -0.5 -0.6 -0.6 -0.5 -0.8 -0.2 -0.8 0 -0.9 0.1 -0.9 0.2 -0.8 0.3 -0.8 0.3 -0.7 0.4 -0.6 0.3 -0.6 0.4 -0.5 0.4 -0.5 0.4 -0.4 0.3 -0.4 0.4 -0.4 0.4 -0.3 0.4 -0.4 0.4 -0.3 0.4 -0.3 0.4 -0.4 0.5 -0.3 0.5 -0.3 0.5 -0.3 0.6 -0.3 0.7 -0.2 0.7 -0.3 0.7 -0.2 0.9 -0.1 0.9 0 0.8 0.1 0.9 0.2 0.8 0.5 0.6 0.6 0.4 0.8 0.2 0.8 0.1 0.9 -0.1 0.9 -0.3 0.9 -0.2 0.7z" fill="#bfff00"/>
<path d="M510 629.7l-0.3 0.6 -0.3 0.5 -0.3 0.4 -0.3 0.4 -0.4 0.4 -0.3 0.4 -0.3 0.3 -0.4 0.3 -0.3 0.3 -0.4 0.3 -0.3 0.3 -0.4 0.3 -0.4 0.2 -0.5 0.3 -0.4 0.3 -0.6 0.2 -0.5 0.3 -0.7 0.2 -0.6 0.2 -0.8 0.1 -0.7 0 -0.8 -0.1 -0.8 -0.2 -0.7 -0.4 -0.5 -0.6 -0.4 -0.6 -0.2 -0.8 0 -0.8 0.1 -0.8 0.2 -0.7 0.2 -0.7 0.3 -0.6 0.3 -0.5 0.3 -0.5 0.4 -0.5 0.3 -0.4 0.3 -0.4 0.4 -0.4 0.3 -0.3 0.3 -0.3 0.4 -0.3 0.3 -0.3 0.4 -0.3 0.4 -0.3 0.4 -0.2 0.4 -0.3 0.5 -0.3 0.5 -0.2 0.6 -0.3 0.6 -0.2 0.7 -0.1 0.7 -0.2 0.8 0 0.8 0.1 0.7 0.2 0.7 0.4 0.6 0.6 0.3 0.7 0.2 0.7 0.1 0.8 -0.1 0.8 -0.2 0.7 -0.3 0.7z" fill="#f2ff00"/>
<path d="M509.4 629.7l-0.3 0.5 -0.3 0.4 -0.3 0.4 -0.3 0.4 -0.2 0.3 -0.3 0.4 -0.3 0.3 -0.3 0.2 -0.3 0.3 -0.4 0.3 -0.3 0.2 -0.3 0.3 -0.4 0.2 -0.4 0.2 -0.4 0.3 -0.5 0.2 -0.5 0.2 -0.5 0.2 -0.6 0.2 -0.7 0.1 -0.7 0 -0.7 -0.1 -0.6 -0.2 -0.6 -0.3 -0.5 -0.5 -0.3 -0.6 -0.2 -0.7 0 -0.7 0 -0.7 0.2 -0.7 0.2 -0.6 0.3 -0.5 0.3 -0.5 0.2 -0.4 0.3 -0.4 0.3 -0.4 0.3 -0.3 0.3 -0.4 0.3 -0.2 0.3 -0.3 0.3 -0.3 0.3 -0.3 0.3 -0.2 0.4 -0.3 0.4 -0.2 0.3 -0.2 0.5 -0.3 0.4 -0.2 0.5 -0.2 0.6 -0.2 0.6 -0.2 0.6 -0.1 0.7 0 0.7 0.1 0.7 0.2 0.6 0.3 0.5 0.5 0.3 0.6 0.2 0.7 0 0.7 -0.1 0.7 -0.1 0.7 -0.3 0.6z" fill="#ffd600"/>
<path d="M508.5 629.7l-0.2 0.4 -0.2 0.4 -0.3 0.3 -0.2 0.3 -0.3 0.3 -0.2 0.3 -0.2 0.2 -0.3 0.3 -0.3 0.2 -0.2 0.2 -0.3 0.2 -0.3 0.2 -0.3 0.2 -0.3 0.2 -0.4 0.2 -0.4 0.2 -0.4 0.2 -0.5 0.2 -0.5 0.1 -0.5 0.1 -0.6 0 -0.6 -0.1 -0.5 -0.1 -0.5 -0.3 -0.5 -0.4 -0.2 -0.5 -0.2 -0.6 0 -0.6 0.1 -0.6 0.1 -0.5 0.2 -0.5 0.2 -0.5 0.2 -0.4 0.3 -0.4 0.2 -0.3 0.3 -0.3 0.2 -0.3 0.3 -0.3 0.2 -0.2 0.3 -0.3 0.2 -0.2 0.3 -0.2 0.3 -0.2 0.2 -0.2 0.4 -0.2 0.3 -0.2 0.3 -0.2 0.4 -0.2 0.5 -0.2 0.4 -0.2 0.5 -0.1 0.6 -0.1 0.5 0 0.6 0.1 0.6 0.1 0.5 0.3 0.4 0.4 0.3 0.6 0.1 0.5 0.1 0.6 -0.1 0.6 -0.1 0.5 -0.2 0.5z" fill="#ff9700"/>
<path d="M507.7 629.7l-0.2 0.3 -0.2 0.3 -0.2 0.3 -0.2 0.3 -0.2 0.2 -0.2 0.2 -0.2 0.2 -0.2 0.2 -0.2 0.2 -0.2 0.2 -0.2 0.1 -0.2 0.2 -0.3 0.2 -0.3 0.1 -0.3 0.2 -0.3 0.2 -0.3 0.1 -0.4 0.1 -0.4 0.1 -0.4 0.1 -0.5 0 -0.5 0 -0.4 -0.2 -0.5 -0.2 -0.3 -0.3 -0.2 -0.5 -0.1 -0.4 -0.1 -0.5 0.1 -0.5 0.1 -0.4 0.2 -0.4 0.1 -0.4 0.2 -0.3 0.2 -0.3 0.2 -0.3 0.2 -0.3 0.2 -0.2 0.2 -0.2 0.2 -0.2 0.2 -0.2 0.2 -0.2 0.2 -0.2 0.3 -0.1 0.2 -0.2 0.3 -0.2 0.2 -0.1 0.3 -0.2 0.3 -0.1 0.4 -0.2 0.4 -0.1 0.4 -0.1 0.4 -0.1 0.5 0 0.5 0 0.4 0.2 0.4 0.2 0.4 0.3 0.2 0.5 0.1 0.4 0 0.5 0 0.5 -0.2 0.4 -0.1 0.4z" fill="#ff5e00"/>
<path d="M506.9 629.7l-0.2 0.3 -0.1 0.2 -0.2 0.2 -0.1 0.2 -0.2 0.2 -0.1 0.1 -0.2 0.2 -0.1 0.2 -0.2 0.1 -0.1 0.1 -0.2 0.2 -0.2 0.1 -0.2 0.1 -0.2 0.1 -0.2 0.2 -0.3 0.1 -0.2 0.1 -0.3 0.1 -0.3 0.1 -0.4 0 -0.3 0 -0.4 0 -0.4 -0.1 -0.3 -0.2 -0.2 -0.2 -0.2 -0.4 -0.1 -0.3 0 -0.4 0 -0.4 0.1 -0.3 0.1 -0.3 0.2 -0.3 0.1 -0.3 0.2 -0.2 0.1 -0.2 0.2 -0.2 0.1 -0.2 0.2 -0.1 0.1 -0.2 0.2 -0.1 0.1 -0.2 0.2 -0.1 0.2 -0.2 0.2 -0.1 0.2 -0.1 0.2 -0.1 0.2 -0.2 0.2 -0.1 0.3 -0.1 0.3 -0.1 0.3 -0.1 0.3 0 0.4 0 0.4 0 0.3 0.1 0.3 0.2 0.3 0.3 0.2 0.3 0.1 0.3 0 0.4 -0.1 0.4 -0.1 0.3 -0.1 0.3z" fill="#ff2f00"/>
<path d="M506.1 629.7l-0.1 0.2 -0.1 0.1 -0.1 0.2 -0.2 0.1 -0.1 0.2 -0.1 0.1 -0.1 0.1 -0.1 0.1 -0.1 0.1 -0.1 0.1 -0.1 0.1 -0.2 0.1 -0.1 0.1 -0.1 0 -0.2 0.1 -0.2 0.1 -0.2 0.1 -0.2 0.1 -0.2 0 -0.2 0.1 -0.3 0 -0.2 -0.1 -0.3 0 -0.2 -0.2 -0.2 -0.1 -0.1 -0.3 -0.1 -0.2 0 -0.3 0.1 -0.2 0 -0.3 0.1 -0.2 0.1 -0.2 0.1 -0.2 0.1 -0.1 0.1 -0.2 0.1 -0.1 0.1 -0.1 0.1 -0.2 0.1 -0.1 0.2 -0.1 0.1 -0.1 0.1 -0.1 0.1 -0.1 0.1 -0.1 0.2 0 0.1 -0.1 0.2 -0.1 0.1 -0.1 0.2 -0.1 0.2 0 0.2 -0.1 0.3 0 0.2 -0.1 0.3 0.1 0.2 0 0.3 0.2 0.1 0.2 0.2 0.2 0 0.2 0 0.3 0 0.2 -0.1 0.3 0 0.2z" fill="#ff0000"/>
</g>
</g>
<line x1="473.2" y1="595.8" x2="473.2" y2="830" stroke="#000" stroke-width="2.7"/>
<line x1="351.4" y1="707.5" x2="586.8" y2="707.5" stroke="#000" stroke-width="2.4"/>
<rect x="351.4" y="595.8" width="235.4" height="234.2" fill="none" stroke="#000" stroke-width="2.6"/>
<path d="M343.3 830L350.2 830M343.3 776.9L350.2 776.9M343.3 723.8L350.2 723.8M343.3 670.7L350.2 670.7M343.3 617.6L350.2 617.6" stroke="#000" stroke-width="2.4" fill="none"/>
<path d="M345.8 792.88L350.2 792.88M345.8 739.78L350.2 739.78M345.8 686.68L350.2 686.68M345.8 633.58L350.2 633.58" stroke="#000" stroke-width="1.5" fill="none"/>
<path d="M347.8 814.02L350.2 814.02M347.8 804.66L350.2 804.66M347.8 798.03L350.2 798.03M347.8 788.68L350.2 788.68M347.8 785.13L350.2 785.13M347.8 782.05L350.2 782.05M347.8 779.33L350.2 779.33M347.8 760.92L350.2 760.92M347.8 751.56L350.2 751.56M347.8 744.93L350.2 744.93M347.8 735.58L350.2 735.58M347.8 732.03L350.2 732.03M347.8 728.95L350.2 728.95M347.8 726.23L350.2 726.23M347.8 707.82L350.2 707.82M347.8 698.46L350.2 698.46M347.8 691.83L350.2 691.83M347.8 682.48L350.2 682.48M347.8 678.93L350.2 678.93M347.8 675.85L350.2 675.85M347.8 673.13L350.2 673.13M347.8 654.72L350.2 654.72M347.8 645.36L350.2 645.36M347.8 638.73L350.2 638.73M347.8 629.38L350.2 629.38M347.8 625.83L350.2 625.83M347.8 622.75L350.2 622.75M347.8 620.03L350.2 620.03M347.8 601.62L350.2 601.62" stroke="#000" stroke-width="1.5" fill="none"/>
<path d="M351.8 831.2L351.8 838.4M404.6 831.2L404.6 838.4M457.4 831.2L457.4 838.4M510.2 831.2L510.2 838.4M563 831.2L563 838.4" stroke="#000" stroke-width="2.4" fill="none"/>
<path d="M388.71 831.2L388.71 836M441.51 831.2L441.51 836M494.31 831.2L494.31 836M547.11 831.2L547.11 836" stroke="#000" stroke-width="1.5" fill="none"/>
<path d="M367.69 831.2L367.69 833.8M376.99 831.2L376.99 833.8M383.59 831.2L383.59 833.8M392.89 831.2L392.89 833.8M396.42 831.2L396.42 833.8M399.48 831.2L399.48 833.8M402.18 831.2L402.18 833.8M420.49 831.2L420.49 833.8M429.79 831.2L429.79 833.8M436.39 831.2L436.39 833.8M445.69 831.2L445.69 833.8M449.22 831.2L449.22 833.8M452.28 831.2L452.28 833.8M454.98 831.2L454.98 833.8M473.29 831.2L473.29 833.8M482.59 831.2L482.59 833.8M489.19 831.2L489.19 833.8M498.49 831.2L498.49 833.8M502.02 831.2L502.02 833.8M505.08 831.2L505.08 833.8M507.78 831.2L507.78 833.8M526.09 831.2L526.09 833.8M535.39 831.2L535.39 833.8M541.99 831.2L541.99 833.8M551.29 831.2L551.29 833.8M554.82 831.2L554.82 833.8M557.88 831.2L557.88 833.8M560.58 831.2L560.58 833.8M578.89 831.2L578.89 833.8" stroke="#000" stroke-width="1.5" fill="none"/>
<text x="341.13" y="862.4" font-size="22.2" textLength="24.69" lengthAdjust="spacing">10</text>
<text x="365.82" y="851.86" font-size="13">0</text>
<text x="390.13" y="862.4" font-size="22.2" textLength="24.69" lengthAdjust="spacing">10</text>
<text x="414.37" y="851.86" font-size="13">1</text>
<text x="441.23" y="862.4" font-size="22.2" textLength="24.69" lengthAdjust="spacing">10</text>
<text x="465.79" y="851.86" font-size="13">2</text>
<text x="493.73" y="862.4" font-size="22.2" textLength="24.69" lengthAdjust="spacing">10</text>
<text x="518.46" y="851.86" font-size="13">3</text>
<text x="549.24" y="862.4" font-size="22.2" textLength="24.69" lengthAdjust="spacing">10</text>
<text x="574.15" y="851.86" font-size="13">4</text>
<text x="355.72" y="620.2" font-size="17" textLength="32.83" lengthAdjust="spacing">0.63</text>
<text x="533.69" y="620.2" font-size="17" textLength="32.7" lengthAdjust="spacing">99.4</text>
<text x="355.72" y="815.8" font-size="17">0</text>
<text x="568.22" y="815.8" font-size="17">0</text>
<!-- plot a2.3 -->
<clipPath id="cp12"><rect x="622.8" y="595.8" width="235.4" height="234.2"/></clipPath>
<g clip-path="url(#cp12)">
<path d="M788.1 613.5l1 0.3 0.9 0.3 1 0.4 0.9 0.4 1 0.5 0.9 0.5 0.9 0.7 0.8 0.6 0.9 0.8 0.8 0.8 0.8 0.8 0.7 0.8 0.7 0.8 0.6 0.9 0.6 1 0.5 0.9 0.5 1 0.5 1 0.4 1 0.3 1 0.3 1 0.3 0.9 0.2 1 0.2 1 0.1 1 0.1 1 0 1 -0.1 1.1 -0.1 1 -0.2 1.1 -0.2 1 -0.3 1.1 -0.4 1.1 -0.4 1.1 -0.5 1.1 -0.5 1 -0.6 1 -0.6 0.9 -0.6 1 -0.7 0.8 -0.7 0.9 -0.8 0.9 -0.8 0.8 -0.7 0.9 -0.9 0.9 -0.8 0.8 -0.8 0.9 -0.8 0.9 -0.9 0.8 -0.9 0.9 -0.9 0.8 -0.9 0.8 -0.9 0.8 -1 0.8 -0.9 0.8 -1 0.7 -1 0.8 -1 0.7 -1 0.6 -1.1 0.7 -1.1 0.6 -1.2 0.6 -1.1 0.6 -1.2 0.5 -1.3 0.5 -1.2 0.4 -1.2 0.4 -1.3 0.4 -1.2 0.3 -1.2 0.2 -1.3 0.3 -1.2 0.1 -1.2 0.2 -1.2 0 -1.2 0.1 -1.1 -0.1 -1.2 0 -1 -0.1 -1.1 -0.2 -1 -0.2 -1 -0.2 -0.9 -0.3 -0.9 -0.4 -0.9 -0.3 -0.8 -0.5 -0.7 -0.5 -0.7 -0.5 -0.7 -0.5 -0.6 -0.7 -0.6 -0.6 -0.5 -0.7 -0.6 -0.7 -0.5 -0.7 -0.4 -0.8 -0.5 -0.8 -0.4 -0.8 -0.3 -0.9 -0.4 -0.9 -0.2 -0.8 -0.3 -0.9 -0.2 -0.9 -0.1 -0.8 -0.1 -0.9 -0.1 -0.8 0 -0.9 0 -0.9 0.1 -0.8 0.1 -0.8 0.2 -0.8 0.2 -0.8 0.3 -0.8 0.4 -0.7 0.4 -0.8 0.4 -0.7 0.4 -0.7 0.5 -0.8 0.5 -0.7 0.5 -0.8 0.6 -0.7 0.6 -0.7 0.6 -0.8 0.7 -0.7 0.7 -0.8 0.7 -0.9 0.8 -0.8 0.9 -0.9 0.9 -1 0.9 -0.9 1 -1 1 -1 1 -1 1 -1 0.9 -0.9 1 -1 1 -1 1 -1 1 -1 1 -0.9 0.9 -1 1 -0.9 0.9 -0.8 0.9 -0.9 0.9 -0.8 0.9 -0.7 0.8 -0.8 0.9 -0.7 0.9 -0.6 1 -0.6 1 -0.6 1 -0.5 1.1 -0.4 1 -0.5 1.1 -0.3 1.1 -0.3 1.1 -0.2 1.1 -0.2 1 0 1.1 0 1 0.1z" fill="#0000ff"/>
<g filter="url(#bl)">
<path d="M797.3 642.3l-1 1.9 -1.1 1.8 -1.2 1.6 -1.3 1.5 -1.2 1.3 -1.2 1.3 -1.2 1.1 -1.2 1.2 -1.2 1.1 -1.2 1 -1.3 1 -1.4 1.1 -1.4 0.9 -1.6 1 -1.7 0.9 -1.9 0.8 -2 0.8 -2.1 0.6 -2.4 0.5 -2.5 0.4 -2.6 0 -2.8 -0.3 -2.6 -0.7 -2.5 -1.3 -2 -1.9 -1.5 -2.2 -1.1 -2.5 -0.6 -2.7 0 -2.7 0.5 -2.7 1.1 -2.6 1.4 -2.2 1.4 -2 1.5 -1.8 1.4 -1.5 1.3 -1.4 1.2 -1.3 1.2 -1.2 1.2 -1.1 1.1 -1.2 1.2 -1 1.1 -1.1 1.3 -1.2 1.3 -1.1 1.4 -1.2 1.5 -1.2 1.7 -1.3 1.9 -1.1 2.2 -1 2.3 -0.7 2.4 -0.3 2.5 0 2.5 0.5 2.3 1 2.2 1.3 1.9 1.6 1.6 1.9 1.3 2.2 0.9 2.4 0.5 2.4 0.2 2.5 -0.3 2.4 -0.6 2.3z" fill="#000eff"/>
<path d="M796.1 642.3l-1 1.8 -1 1.7 -1.2 1.5 -1.2 1.4 -1.1 1.2 -1.1 1.2 -1.2 1.1 -1.1 1.1 -1.1 1 -1.2 0.9 -1.2 1 -1.3 0.9 -1.4 1 -1.4 0.8 -1.6 0.9 -1.8 0.7 -1.8 0.8 -2.1 0.6 -2.2 0.5 -2.3 0.3 -2.5 0.1 -2.6 -0.3 -2.5 -0.7 -2.3 -1.2 -1.9 -1.7 -1.4 -2.2 -1 -2.3 -0.5 -2.5 0 -2.6 0.5 -2.5 1 -2.4 1.2 -2.1 1.4 -1.9 1.3 -1.7 1.3 -1.4 1.2 -1.3 1.2 -1.2 1.1 -1.2 1.1 -1 1.1 -1.1 1.1 -1 1.1 -1 1.2 -1.1 1.2 -1 1.3 -1.1 1.4 -1.1 1.6 -1.1 1.8 -1.1 2 -0.8 2.2 -0.7 2.3 -0.4 2.3 0 2.3 0.5 2.3 0.7 2 1.2 1.9 1.5 1.6 1.8 1.2 2 0.9 2.3 0.4 2.3 0.1 2.4 -0.3 2.3 -0.5 2.1z" fill="#0029ff"/>
<path d="M794.9 642.3l-0.9 1.7 -1 1.6 -1.1 1.4 -1.1 1.3 -1.1 1.2 -1 1.1 -1.1 1 -1 1 -1.1 1 -1.1 0.9 -1.2 0.9 -1.2 0.8 -1.3 0.9 -1.3 0.8 -1.5 0.8 -1.7 0.7 -1.7 0.7 -1.9 0.6 -2.1 0.4 -2.2 0.4 -2.4 0 -2.4 -0.2 -2.3 -0.7 -2.2 -1.1 -1.8 -1.6 -1.4 -2 -0.9 -2.2 -0.4 -2.4 0 -2.4 0.5 -2.4 0.9 -2.2 1.2 -2 1.2 -1.8 1.2 -1.6 1.2 -1.3 1.2 -1.3 1.1 -1.1 1 -1.1 1.1 -1 1 -1 1 -0.9 1.1 -1 1.1 -0.9 1.2 -1 1.2 -1 1.4 -1 1.5 -1 1.6 -1 1.9 -0.8 2 -0.6 2.1 -0.4 2.2 0 2.2 0.3 2.2 0.7 2 1 1.8 1.4 1.6 1.7 1.1 1.9 0.8 2.1 0.4 2.3 0.1 2.2 -0.3 2.2 -0.6 2.1z" fill="#0045ff"/>
<path d="M793.9 642.3l-0.9 1.6 -1 1.5 -1 1.3 -1 1.3 -1 1.1 -1 1 -1 1 -1 0.9 -1 0.9 -1.1 0.8 -1.1 0.9 -1.1 0.8 -1.2 0.8 -1.3 0.7 -1.4 0.8 -1.6 0.7 -1.6 0.6 -1.8 0.6 -1.9 0.4 -2.1 0.3 -2.2 0.1 -2.3 -0.2 -2.3 -0.6 -2 -1.1 -1.7 -1.5 -1.3 -1.9 -0.8 -2.1 -0.4 -2.3 0.1 -2.2 0.4 -2.3 0.9 -2.1 1 -1.8 1.2 -1.7 1.1 -1.5 1.1 -1.3 1.1 -1.2 1 -1 1 -1 1 -1 1 -0.9 1 -0.9 1 -0.9 1 -0.9 1.1 -0.9 1.2 -0.9 1.3 -0.9 1.4 -0.9 1.5 -0.8 1.8 -0.8 1.8 -0.6 2 -0.3 2.1 -0.1 2.1 0.2 2.1 0.6 1.9 0.9 1.8 1.2 1.5 1.6 1.1 1.8 0.8 2 0.3 2.2 0 2.1 -0.3 2.1 -0.6 2z" fill="#0060ff"/>
<path d="M792.9 642.3l-0.9 1.5 -0.9 1.4 -0.9 1.3 -1 1.1 -1 1.1 -0.9 1 -0.9 0.9 -1 0.8 -1 0.9 -0.9 0.8 -1.1 0.7 -1.1 0.8 -1.1 0.7 -1.2 0.7 -1.3 0.7 -1.5 0.7 -1.5 0.6 -1.7 0.5 -1.8 0.4 -2 0.3 -2.1 0.1 -2.1 -0.2 -2.1 -0.5 -2 -1 -1.6 -1.5 -1.2 -1.7 -0.7 -2 -0.4 -2.2 0.1 -2.1 0.5 -2.1 0.7 -2 1 -1.7 1.1 -1.6 1 -1.4 1 -1.2 1 -1.1 1 -1.1 0.9 -0.9 1 -0.9 0.9 -0.9 0.9 -0.8 1 -0.8 1 -0.8 1 -0.9 1.2 -0.8 1.2 -0.8 1.3 -0.8 1.4 -0.8 1.6 -0.7 1.8 -0.5 1.9 -0.4 1.9 -0.1 2 0.1 2 0.5 1.9 0.8 1.7 1.1 1.5 1.4 1.1 1.8 0.7 1.9 0.3 2.1 -0.1 2 -0.3 2 -0.6 1.9z" fill="#0080ff"/>
<path d="M791.9 642.3l-0.8 1.4 -0.8 1.4 -0.9 1.1 -1 1.1 -0.9 1 -0.8 0.9 -0.9 0.9 -0.9 0.8 -0.9 0.8 -1 0.7 -0.9 0.7 -1.1 0.7 -1 0.7 -1.2 0.7 -1.2 0.6 -1.4 0.6 -1.4 0.6 -1.6 0.5 -1.7 0.4 -1.9 0.3 -1.9 0.1 -2 -0.2 -2 -0.5 -1.9 -0.9 -1.5 -1.4 -1.1 -1.6 -0.7 -1.9 -0.3 -2.1 0.1 -2 0.4 -2 0.8 -1.8 0.8 -1.6 1 -1.5 1 -1.3 0.9 -1.2 0.9 -1 0.9 -1 0.9 -0.9 0.9 -0.9 0.9 -0.8 0.9 -0.8 0.9 -0.7 1 -0.8 0.9 -0.7 1.1 -0.7 1.1 -0.8 1.3 -0.7 1.3 -0.7 1.5 -0.6 1.7 -0.6 1.7 -0.3 1.8 -0.2 1.9 0.1 2 0.3 1.8 0.7 1.7 1 1.4 1.4 1.1 1.6 0.6 1.9 0.3 1.9 -0.1 2 -0.4 1.9 -0.5 1.8z" fill="#00a4ff"/>
<path d="M791 642.3l-0.7 1.3 -0.9 1.3 -0.8 1.1 -0.9 1 -0.8 1 -0.9 0.8 -0.8 0.8 -0.8 0.8 -0.9 0.7 -0.9 0.7 -0.9 0.7 -1 0.6 -1 0.7 -1.1 0.6 -1.1 0.6 -1.3 0.5 -1.3 0.6 -1.5 0.4 -1.6 0.4 -1.7 0.3 -1.9 0.1 -1.9 -0.2 -1.9 -0.4 -1.7 -0.9 -1.4 -1.2 -1.1 -1.6 -0.7 -1.8 -0.2 -1.9 0.1 -1.9 0.5 -1.9 0.6 -1.7 0.8 -1.5 0.9 -1.4 0.9 -1.3 0.8 -1.1 0.9 -1 0.9 -0.9 0.8 -0.8 0.8 -0.8 0.9 -0.8 0.8 -0.7 0.9 -0.7 0.9 -0.7 0.9 -0.7 1 -0.7 1.1 -0.6 1.2 -0.7 1.2 -0.6 1.4 -0.6 1.5 -0.4 1.7 -0.4 1.7 -0.2 1.8 0 1.8 0.3 1.8 0.5 1.7 0.9 1.4 1.3 1 1.6 0.6 1.7 0.2 1.9 -0.1 1.9 -0.4 1.8 -0.6 1.6z" fill="#00c9ff"/>
<path d="M790.2 642.3l-0.8 1.3 -0.8 1.1 -0.8 1.1 -0.8 0.9 -0.8 0.9 -0.8 0.8 -0.7 0.8 -0.8 0.7 -0.9 0.7 -0.8 0.6 -0.9 0.6 -0.9 0.6 -0.9 0.6 -1 0.6 -1.1 0.5 -1.2 0.6 -1.2 0.5 -1.4 0.4 -1.5 0.4 -1.7 0.3 -1.7 0.1 -1.8 -0.2 -1.8 -0.4 -1.6 -0.8 -1.3 -1.2 -1 -1.5 -0.6 -1.7 -0.2 -1.8 0.1 -1.8 0.5 -1.7 0.6 -1.6 0.7 -1.4 0.8 -1.3 0.8 -1.2 0.8 -1 0.8 -1 0.8 -0.9 0.8 -0.8 0.7 -0.7 0.8 -0.7 0.9 -0.7 0.8 -0.6 0.8 -0.7 0.9 -0.6 1 -0.6 1 -0.6 1.1 -0.5 1.1 -0.6 1.3 -0.5 1.4 -0.5 1.5 -0.3 1.7 -0.3 1.7 0 1.8 0.1 1.7 0.5 1.6 0.8 1.3 1.2 1 1.5 0.6 1.7 0.2 1.7 -0.2 1.8 -0.4 1.7 -0.6 1.6z" fill="#00edff"/>
<path d="M789.4 642.3l-0.7 1.2 -0.8 1.1 -0.7 1 -0.8 0.9 -0.7 0.8 -0.8 0.8 -0.7 0.7 -0.8 0.6 -0.8 0.7 -0.7 0.6 -0.9 0.6 -0.8 0.5 -0.9 0.6 -0.9 0.5 -1.1 0.5 -1.1 0.5 -1.2 0.5 -1.3 0.4 -1.4 0.4 -1.5 0.2 -1.6 0.1 -1.7 -0.1 -1.7 -0.4 -1.6 -0.7 -1.2 -1.1 -1 -1.4 -0.5 -1.6 -0.2 -1.7 0.2 -1.8 0.4 -1.6 0.5 -1.5 0.7 -1.3 0.7 -1.3 0.8 -1.1 0.7 -0.9 0.8 -0.9 0.7 -0.9 0.8 -0.7 0.7 -0.7 0.8 -0.7 0.7 -0.6 0.8 -0.6 0.8 -0.6 0.9 -0.6 0.9 -0.5 0.9 -0.6 1 -0.5 1.1 -0.5 1.2 -0.5 1.3 -0.4 1.5 -0.3 1.5 -0.3 1.6 -0.1 1.7 0.1 1.7 0.4 1.5 0.8 1.3 1.1 1 1.4 0.5 1.6 0.2 1.7 -0.2 1.7 -0.4 1.6 -0.6 1.5z" fill="#00ffe6"/>
<path d="M788.6 642.3l-0.6 1.1 -0.7 1.1 -0.7 0.9 -0.8 0.8 -0.7 0.8 -0.7 0.7 -0.7 0.7 -0.7 0.6 -0.7 0.6 -0.8 0.6 -0.7 0.6 -0.8 0.5 -0.9 0.5 -0.9 0.5 -0.9 0.5 -1.1 0.5 -1.1 0.4 -1.2 0.4 -1.4 0.4 -1.4 0.2 -1.6 0.1 -1.6 -0.1 -1.5 -0.4 -1.5 -0.7 -1.2 -1 -0.9 -1.3 -0.5 -1.6 -0.2 -1.6 0.2 -1.6 0.4 -1.5 0.5 -1.4 0.6 -1.3 0.7 -1.2 0.7 -1 0.7 -1 0.7 -0.8 0.7 -0.8 0.8 -0.7 0.7 -0.7 0.7 -0.6 0.7 -0.6 0.7 -0.6 0.8 -0.5 0.8 -0.5 0.8 -0.6 0.9 -0.5 1 -0.5 1 -0.4 1.2 -0.5 1.2 -0.4 1.3 -0.3 1.5 -0.3 1.5 -0.1 1.6 0.1 1.6 0.4 1.5 0.7 1.2 1.1 0.9 1.3 0.5 1.5 0.1 1.6 -0.1 1.6 -0.4 1.6 -0.5 1.4z" fill="#00ffb3"/>
<path d="M787.9 642.3l-0.6 1.1 -0.7 0.9 -0.6 0.9 -0.7 0.8 -0.7 0.7 -0.6 0.7 -0.7 0.6 -0.7 0.6 -0.7 0.6 -0.7 0.5 -0.7 0.6 -0.7 0.5 -0.8 0.4 -0.9 0.5 -0.9 0.5 -1 0.4 -1 0.4 -1.2 0.4 -1.2 0.4 -1.4 0.2 -1.5 0.1 -1.5 -0.1 -1.5 -0.4 -1.3 -0.7 -1.2 -0.9 -0.8 -1.3 -0.5 -1.4 -0.1 -1.5 0.1 -1.5 0.4 -1.5 0.5 -1.3 0.6 -1.2 0.6 -1.1 0.7 -1 0.6 -0.9 0.7 -0.8 0.7 -0.7 0.6 -0.7 0.7 -0.6 0.7 -0.6 0.7 -0.6 0.7 -0.5 0.7 -0.5 0.7 -0.5 0.8 -0.5 0.9 -0.5 0.9 -0.4 0.9 -0.5 1.1 -0.4 1.2 -0.4 1.2 -0.3 1.4 -0.2 1.5 -0.1 1.5 0.1 1.4 0.3 1.4 0.7 1.2 1 0.8 1.2 0.5 1.4 0.1 1.6 -0.1 1.5 -0.4 1.4 -0.5 1.4z" fill="#00ff80"/>
<path d="M787.2 642.3l-0.6 1 -0.6 0.9 -0.7 0.8 -0.6 0.8 -0.6 0.7 -0.6 0.6 -0.7 0.6 -0.6 0.5 -0.6 0.6 -0.7 0.5 -0.7 0.5 -0.7 0.4 -0.7 0.5 -0.8 0.4 -0.8 0.5 -1 0.4 -1 0.4 -1 0.3 -1.2 0.3 -1.3 0.3 -1.4 0 -1.4 -0.1 -1.4 -0.3 -1.3 -0.6 -1.1 -0.9 -0.7 -1.2 -0.5 -1.3 -0.1 -1.5 0.1 -1.4 0.4 -1.3 0.4 -1.3 0.6 -1.1 0.6 -1.1 0.6 -0.9 0.6 -0.8 0.7 -0.7 0.6 -0.7 0.6 -0.7 0.6 -0.5 0.7 -0.6 0.6 -0.5 0.7 -0.5 0.6 -0.5 0.7 -0.5 0.8 -0.4 0.8 -0.5 0.8 -0.4 0.9 -0.4 1 -0.4 1.1 -0.4 1.2 -0.3 1.3 -0.2 1.4 -0.1 1.4 0.1 1.4 0.3 1.3 0.6 1 1 0.8 1.1 0.5 1.4 0.1 1.4 -0.1 1.4 -0.4 1.4 -0.5 1.2z" fill="#00ff47"/>
<path d="M786.5 642.3l-0.6 0.9 -0.6 0.9 -0.6 0.7 -0.6 0.7 -0.5 0.7 -0.6 0.6 -0.6 0.5 -0.6 0.5 -0.6 0.5 -0.6 0.5 -0.6 0.4 -0.7 0.5 -0.7 0.4 -0.7 0.4 -0.8 0.4 -0.9 0.4 -0.9 0.4 -1 0.3 -1.1 0.3 -1.2 0.2 -1.3 0.1 -1.3 -0.1 -1.3 -0.3 -1.2 -0.6 -1 -0.8 -0.8 -1.1 -0.4 -1.3 -0.1 -1.3 0.1 -1.3 0.4 -1.3 0.4 -1.2 0.5 -1 0.6 -1 0.6 -0.8 0.5 -0.8 0.6 -0.7 0.6 -0.6 0.6 -0.6 0.6 -0.6 0.6 -0.5 0.6 -0.5 0.6 -0.5 0.6 -0.4 0.7 -0.5 0.7 -0.4 0.7 -0.4 0.8 -0.4 0.8 -0.4 1 -0.4 1 -0.3 1.1 -0.3 1.2 -0.2 1.3 -0.1 1.3 0.1 1.3 0.3 1.2 0.6 1 0.9 0.8 1 0.4 1.3 0.1 1.3 -0.1 1.4 -0.4 1.2 -0.4 1.2z" fill="#00ff0e"/>
<path d="M785.7 642.3l-0.5 0.9 -0.5 0.7 -0.6 0.8 -0.5 0.6 -0.6 0.6 -0.5 0.5 -0.5 0.6 -0.6 0.4 -0.5 0.5 -0.6 0.4 -0.6 0.4 -0.6 0.5 -0.6 0.4 -0.7 0.3 -0.8 0.4 -0.8 0.4 -0.8 0.3 -1 0.3 -1 0.3 -1.1 0.2 -1.2 0.1 -1.2 -0.1 -1.2 -0.3 -1.2 -0.5 -0.9 -0.8 -0.7 -1 -0.4 -1.2 -0.1 -1.2 0.1 -1.3 0.3 -1.2 0.5 -1 0.5 -1 0.5 -0.9 0.5 -0.8 0.6 -0.7 0.5 -0.7 0.5 -0.6 0.6 -0.5 0.5 -0.5 0.6 -0.5 0.5 -0.5 0.6 -0.4 0.6 -0.4 0.6 -0.4 0.6 -0.4 0.7 -0.4 0.7 -0.4 0.8 -0.3 0.9 -0.4 0.9 -0.3 1.1 -0.3 1.1 -0.2 1.2 0 1.2 0 1.2 0.3 1.1 0.6 1 0.8 0.7 1 0.4 1.1 0.1 1.3 -0.2 1.2 -0.3 1.2 -0.4 1.1z" fill="#26ff00"/>
<path d="M785 642.3l-0.5 0.8 -0.5 0.7 -0.5 0.7 -0.5 0.6 -0.5 0.5 -0.5 0.5 -0.5 0.5 -0.5 0.4 -0.5 0.5 -0.5 0.4 -0.6 0.3 -0.5 0.4 -0.6 0.4 -0.6 0.3 -0.7 0.4 -0.8 0.3 -0.8 0.4 -0.8 0.2 -1 0.3 -1 0.2 -1.1 0 -1.1 0 -1.2 -0.3 -1 -0.5 -0.9 -0.7 -0.6 -1 -0.4 -1 -0.1 -1.2 0.2 -1.1 0.2 -1.1 0.4 -1 0.5 -0.9 0.5 -0.8 0.5 -0.8 0.5 -0.6 0.5 -0.6 0.5 -0.6 0.5 -0.5 0.5 -0.5 0.5 -0.4 0.5 -0.4 0.5 -0.4 0.5 -0.4 0.6 -0.4 0.6 -0.4 0.6 -0.3 0.7 -0.4 0.7 -0.3 0.8 -0.3 0.9 -0.3 1 -0.3 1 -0.1 1.1 -0.1 1.1 0.1 1.2 0.2 1 0.5 0.9 0.7 0.6 1 0.3 1.1 0.1 1.1 -0.1 1.2 -0.3 1.1 -0.3 1z" fill="#59ff00"/>
<path d="M784.3 642.3l-0.5 0.7 -0.4 0.7 -0.5 0.6 -0.5 0.5 -0.4 0.5 -0.5 0.5 -0.4 0.4 -0.5 0.4 -0.5 0.4 -0.4 0.4 -0.5 0.3 -0.5 0.4 -0.6 0.3 -0.6 0.4 -0.6 0.3 -0.7 0.3 -0.7 0.3 -0.8 0.2 -0.9 0.3 -0.9 0.1 -1 0.1 -1.1 0 -1 -0.3 -0.9 -0.4 -0.8 -0.7 -0.6 -0.9 -0.4 -1 0 -1 0.1 -1.1 0.2 -1 0.4 -0.9 0.4 -0.8 0.5 -0.8 0.4 -0.7 0.5 -0.6 0.4 -0.5 0.5 -0.5 0.5 -0.5 0.4 -0.4 0.5 -0.4 0.4 -0.4 0.5 -0.4 0.5 -0.3 0.5 -0.4 0.6 -0.3 0.6 -0.3 0.6 -0.3 0.6 -0.3 0.8 -0.3 0.8 -0.3 0.8 -0.2 1 -0.2 1 -0.1 1 0.1 1.1 0.2 0.9 0.5 0.8 0.6 0.6 0.9 0.3 1 0.1 1.1 -0.1 1 -0.2 1 -0.4 0.9z" fill="#8cff00"/>
<path d="M783.6 642.3l-0.5 0.6 -0.4 0.7 -0.4 0.5 -0.4 0.5 -0.4 0.5 -0.5 0.4 -0.4 0.4 -0.4 0.3 -0.4 0.4 -0.4 0.3 -0.5 0.3 -0.5 0.4 -0.5 0.3 -0.5 0.3 -0.5 0.3 -0.7 0.2 -0.6 0.3 -0.7 0.3 -0.8 0.2 -0.9 0.1 -0.9 0.1 -1 -0.1 -0.9 -0.2 -0.9 -0.4 -0.7 -0.6 -0.5 -0.8 -0.3 -0.9 -0.1 -1 0.1 -0.9 0.2 -0.9 0.4 -0.9 0.3 -0.7 0.4 -0.7 0.5 -0.6 0.4 -0.6 0.4 -0.5 0.4 -0.4 0.4 -0.4 0.5 -0.4 0.4 -0.4 0.4 -0.4 0.4 -0.3 0.5 -0.3 0.5 -0.3 0.4 -0.3 0.6 -0.3 0.5 -0.3 0.6 -0.3 0.7 -0.3 0.7 -0.2 0.8 -0.2 0.9 -0.2 0.9 0 1 0 0.9 0.2 0.9 0.4 0.7 0.6 0.5 0.8 0.3 0.9 0.1 1 -0.1 1 -0.2 0.9 -0.4 0.8z" fill="#bfff00"/>
<path d="M782.8 642.3l-0.3 0.6 -0.4 0.5 -0.4 0.5 -0.4 0.5 -0.4 0.4 -0.3 0.4 -0.4 0.3 -0.4 0.3 -0.4 0.4 -0.4 0.3 -0.4 0.2 -0.4 0.3 -0.4 0.3 -0.5 0.3 -0.5 0.2 -0.6 0.3 -0.6 0.2 -0.6 0.3 -0.7 0.1 -0.8 0.2 -0.8 0 -0.9 0 -0.8 -0.2 -0.8 -0.4 -0.7 -0.5 -0.5 -0.7 -0.2 -0.8 -0.1 -0.9 0.1 -0.9 0.2 -0.8 0.3 -0.7 0.4 -0.7 0.3 -0.6 0.4 -0.6 0.4 -0.5 0.4 -0.4 0.3 -0.4 0.4 -0.4 0.4 -0.4 0.4 -0.3 0.4 -0.3 0.3 -0.3 0.5 -0.3 0.4 -0.3 0.4 -0.3 0.5 -0.2 0.5 -0.3 0.5 -0.3 0.6 -0.2 0.7 -0.2 0.7 -0.2 0.8 -0.1 0.8 -0.1 0.9 0 0.8 0.2 0.8 0.4 0.7 0.5 0.5 0.8 0.2 0.8 0.1 0.8 -0.1 0.9 -0.2 0.8 -0.3 0.8z" fill="#f2ff00"/>
<path d="M782.1 642.3l-0.3 0.5 -0.3 0.5 -0.4 0.5 -0.3 0.4 -0.3 0.3 -0.4 0.4 -0.3 0.3 -0.4 0.3 -0.3 0.3 -0.4 0.2 -0.3 0.3 -0.4 0.2 -0.4 0.3 -0.4 0.2 -0.5 0.3 -0.5 0.2 -0.5 0.2 -0.6 0.2 -0.6 0.2 -0.7 0.1 -0.8 0.1 -0.7 -0.1 -0.8 -0.1 -0.7 -0.4 -0.6 -0.5 -0.4 -0.6 -0.3 -0.7 0 -0.8 0.1 -0.8 0.2 -0.7 0.2 -0.7 0.3 -0.6 0.4 -0.6 0.3 -0.5 0.4 -0.4 0.3 -0.4 0.3 -0.4 0.4 -0.3 0.3 -0.3 0.3 -0.3 0.4 -0.3 0.3 -0.3 0.4 -0.2 0.4 -0.3 0.4 -0.2 0.4 -0.3 0.5 -0.2 0.4 -0.3 0.6 -0.2 0.6 -0.2 0.6 -0.1 0.7 -0.2 0.7 0 0.8 0 0.8 0.2 0.7 0.3 0.6 0.5 0.4 0.6 0.3 0.8 0 0.8 -0.1 0.7 -0.2 0.8 -0.2 0.7z" fill="#ffd600"/>
<path d="M781.2 642.3l-0.3 0.4 -0.3 0.4 -0.2 0.4 -0.3 0.4 -0.3 0.3 -0.3 0.2 -0.3 0.3 -0.3 0.3 -0.3 0.2 -0.2 0.2 -0.4 0.2 -0.3 0.3 -0.3 0.2 -0.4 0.2 -0.3 0.2 -0.5 0.2 -0.4 0.1 -0.5 0.2 -0.5 0.2 -0.6 0.1 -0.7 0 -0.6 0 -0.7 -0.2 -0.6 -0.2 -0.5 -0.5 -0.3 -0.5 -0.2 -0.6 -0.1 -0.7 0.1 -0.6 0.2 -0.6 0.2 -0.6 0.3 -0.5 0.2 -0.5 0.3 -0.4 0.3 -0.4 0.3 -0.3 0.3 -0.3 0.3 -0.3 0.3 -0.3 0.2 -0.2 0.3 -0.3 0.3 -0.2 0.3 -0.2 0.4 -0.2 0.3 -0.2 0.3 -0.2 0.4 -0.2 0.4 -0.2 0.5 -0.2 0.5 -0.2 0.5 -0.1 0.6 -0.1 0.6 -0.1 0.7 0.1 0.6 0.1 0.6 0.3 0.5 0.4 0.4 0.5 0.2 0.6 0 0.7 0 0.7 -0.2 0.6 -0.2 0.6z" fill="#ff9700"/>
<path d="M780.3 642.3l-0.2 0.3 -0.3 0.4 -0.2 0.3 -0.2 0.3 -0.3 0.2 -0.2 0.2 -0.2 0.3 -0.3 0.2 -0.2 0.2 -0.2 0.1 -0.3 0.2 -0.2 0.2 -0.3 0.2 -0.3 0.1 -0.3 0.2 -0.4 0.1 -0.3 0.2 -0.4 0.1 -0.5 0.1 -0.4 0.1 -0.6 0.1 -0.5 -0.1 -0.5 -0.1 -0.5 -0.2 -0.4 -0.3 -0.3 -0.5 -0.2 -0.5 0 -0.5 0.1 -0.5 0.1 -0.5 0.2 -0.5 0.2 -0.4 0.2 -0.4 0.3 -0.3 0.2 -0.3 0.2 -0.3 0.3 -0.3 0.2 -0.2 0.2 -0.2 0.3 -0.2 0.2 -0.2 0.2 -0.2 0.3 -0.2 0.2 -0.2 0.3 -0.1 0.3 -0.2 0.3 -0.1 0.3 -0.2 0.4 -0.2 0.4 -0.1 0.4 -0.1 0.5 -0.1 0.5 0 0.6 0 0.5 0.1 0.5 0.2 0.4 0.4 0.3 0.4 0.1 0.5 0.1 0.5 -0.1 0.6 -0.1 0.5 -0.2 0.4z" fill="#ff5e00"/>
<path d="M779.4 642.3l-0.2 0.3 -0.2 0.2 -0.2 0.2 -0.2 0.3 -0.1 0.2 -0.2 0.1 -0.2 0.2 -0.2 0.2 -0.2 0.1 -0.1 0.1 -0.2 0.2 -0.2 0.1 -0.2 0.1 -0.3 0.2 -0.2 0.1 -0.3 0.1 -0.2 0.1 -0.3 0.1 -0.4 0.1 -0.4 0.1 -0.3 0 -0.5 0 -0.4 -0.1 -0.3 -0.2 -0.3 -0.2 -0.3 -0.4 -0.1 -0.3 0 -0.5 0 -0.4 0.1 -0.4 0.2 -0.3 0.1 -0.3 0.2 -0.3 0.2 -0.3 0.2 -0.2 0.1 -0.2 0.2 -0.2 0.2 -0.2 0.2 -0.2 0.2 -0.1 0.1 -0.2 0.2 -0.1 0.2 -0.1 0.2 -0.2 0.2 -0.1 0.2 -0.1 0.3 -0.2 0.2 -0.1 0.3 -0.1 0.3 -0.1 0.4 -0.1 0.3 -0.1 0.4 0 0.4 0 0.4 0.1 0.4 0.2 0.3 0.3 0.3 0.3 0.1 0.4 0 0.4 0 0.4 -0.1 0.4 -0.2 0.3z" fill="#ff2f00"/>
<path d="M778.4 642.3l-0.1 0.2 -0.1 0.2 -0.2 0.1 -0.1 0.2 -0.1 0.1 -0.1 0.1 -0.2 0.1 -0.1 0.1 -0.1 0.2 -0.1 0.1 -0.2 0 -0.1 0.1 -0.2 0.1 -0.1 0.1 -0.2 0.1 -0.2 0.1 -0.2 0.1 -0.2 0 -0.2 0.1 -0.3 0.1 -0.2 0 -0.3 0 -0.3 -0.1 -0.3 -0.1 -0.2 -0.2 -0.1 -0.2 -0.1 -0.3 -0.1 -0.3 0.1 -0.3 0.1 -0.3 0.1 -0.2 0.1 -0.2 0.1 -0.2 0.1 -0.2 0.1 -0.2 0.2 -0.1 0.1 -0.2 0.1 -0.1 0.1 -0.1 0.2 -0.1 0.1 -0.1 0.1 -0.1 0.2 -0.1 0.1 -0.1 0.1 -0.1 0.2 -0.1 0.2 -0.1 0.1 -0.1 0.2 0 0.3 -0.1 0.2 -0.1 0.2 0 0.3 0 0.3 0 0.3 0 0.3 0.2 0.2 0.1 0.1 0.3 0.1 0.2 0 0.3 0 0.3 -0.1 0.3 -0.1 0.2z" fill="#ff0000"/>
</g>
<ellipse cx="623.48" cy="658.05" rx="3.55" ry="5.92" fill="#0000ff"/>
</g>
<line x1="744.2" y1="595.8" x2="744.2" y2="830" stroke="#000" stroke-width="2.7"/>
<line x1="622.8" y1="706.4" x2="858.2" y2="706.4" stroke="#000" stroke-width="2.4"/>
<rect x="622.8" y="595.8" width="235.4" height="234.2" fill="none" stroke="#000" stroke-width="2.6"/>
<path d="M614.7 830L621.6 830M614.7 776.9L621.6 776.9M614.7 723.8L621.6 723.8M614.7 670.7L621.6 670.7M614.7 617.6L621.6 617.6" stroke="#000" stroke-width="2.4" fill="none"/>
<path d="M617.2 792.88L621.6 792.88M617.2 739.78L621.6 739.78M617.2 686.68L621.6 686.68M617.2 633.58L621.6 633.58" stroke="#000" stroke-width="1.5" fill="none"/>
<path d="M619.2 814.02L621.6 814.02M619.2 804.66L621.6 804.66M619.2 798.03L621.6 798.03M619.2 788.68L621.6 788.68M619.2 785.13L621.6 785.13M619.2 782.05L621.6 782.05M619.2 779.33L621.6 779.33M619.2 760.92L621.6 760.92M619.2 751.56L621.6 751.56M619.2 744.93L621.6 744.93M619.2 735.58L621.6 735.58M619.2 732.03L621.6 732.03M619.2 728.95L621.6 728.95M619.2 726.23L621.6 726.23M619.2 707.82L621.6 707.82M619.2 698.46L621.6 698.46M619.2 691.83L621.6 691.83M619.2 682.48L621.6 682.48M619.2 678.93L621.6 678.93M619.2 675.85L621.6 675.85M619.2 673.13L621.6 673.13M619.2 654.72L621.6 654.72M619.2 645.36L621.6 645.36M619.2 638.73L621.6 638.73M619.2 629.38L621.6 629.38M619.2 625.83L621.6 625.83M619.2 622.75L621.6 622.75M619.2 620.03L621.6 620.03M619.2 601.62L621.6 601.62" stroke="#000" stroke-width="1.5" fill="none"/>
<path d="M623.2 831.2L623.2 838.4M676 831.2L676 838.4M728.8 831.2L728.8 838.4M781.6 831.2L781.6 838.4M834.4 831.2L834.4 838.4" stroke="#000" stroke-width="2.4" fill="none"/>
<path d="M660.11 831.2L660.11 836M712.91 831.2L712.91 836M765.71 831.2L765.71 836M818.51 831.2L818.51 836" stroke="#000" stroke-width="1.5" fill="none"/>
<path d="M639.09 831.2L639.09 833.8M648.39 831.2L648.39 833.8M654.99 831.2L654.99 833.8M664.29 831.2L664.29 833.8M667.82 831.2L667.82 833.8M670.88 831.2L670.88 833.8M673.58 831.2L673.58 833.8M691.89 831.2L691.89 833.8M701.19 831.2L701.19 833.8M707.79 831.2L707.79 833.8M717.09 831.2L717.09 833.8M720.62 831.2L720.62 833.8M723.68 831.2L723.68 833.8M726.38 831.2L726.38 833.8M744.69 831.2L744.69 833.8M753.99 831.2L753.99 833.8M760.59 831.2L760.59 833.8M769.89 831.2L769.89 833.8M773.42 831.2L773.42 833.8M776.48 831.2L776.48 833.8M779.18 831.2L779.18 833.8M797.49 831.2L797.49 833.8M806.79 831.2L806.79 833.8M813.39 831.2L813.39 833.8M822.69 831.2L822.69 833.8M826.22 831.2L826.22 833.8M829.28 831.2L829.28 833.8M831.98 831.2L831.98 833.8M850.29 831.2L850.29 833.8" stroke="#000" stroke-width="1.5" fill="none"/>
<text x="612.53" y="862.4" font-size="22.2" textLength="24.69" lengthAdjust="spacing">10</text>
<text x="637.22" y="851.86" font-size="13">0</text>
<text x="661.53" y="862.4" font-size="22.2" textLength="24.69" lengthAdjust="spacing">10</text>
<text x="685.77" y="851.86" font-size="13">1</text>
<text x="712.63" y="862.4" font-size="22.2" textLength="24.69" lengthAdjust="spacing">10</text>
<text x="737.19" y="851.86" font-size="13">2</text>
<text x="765.13" y="862.4" font-size="22.2" textLength="24.69" lengthAdjust="spacing">10</text>
<text x="789.86" y="851.86" font-size="13">3</text>
<text x="820.63" y="862.4" font-size="22.2" textLength="24.69" lengthAdjust="spacing">10</text>
<text x="845.55" y="851.86" font-size="13">4</text>
<text x="627.23" y="620.2" font-size="17" textLength="32.72" lengthAdjust="spacing">1.36</text>
<text x="804.79" y="620.2" font-size="17" textLength="33.55" lengthAdjust="spacing">98.6</text>
<text x="627.12" y="815.8" font-size="17">0</text>
<text x="839.52" y="815.8" font-size="17">0</text>
<!-- plot a2.4 -->
<clipPath id="cp13"><rect x="896.4" y="595.8" width="235.4" height="234.2"/></clipPath>
<g clip-path="url(#cp13)">
<path d="M1060.9 701.8l1.1 0.1 1 0.1 0.9 0.2 0.9 0.2 0.9 0.3 0.8 0.3 0.8 0.3 0.7 0.4 0.6 0.5 0.7 0.5 0.5 0.5 0.6 0.6 0.5 0.7 0.5 0.6 0.5 0.7 0.4 0.8 0.4 0.8 0.4 0.8 0.3 0.9 0.3 0.8 0.3 1 0.3 0.9 0.3 1 0.2 1 0.2 1.1 0.2 1.1 0.2 1 0.1 1.1 0.2 1.2 0.1 1.1 0.2 1.2 0.1 1.1 0.2 1.2 0.1 1.2 0.1 1.1 0 1.2 0 1.1 0.1 1.1 -0.1 1.1 0 1 -0.1 1.1 0 1.1 -0.1 1 -0.1 1.1 -0.1 1 -0.1 1.1 -0.1 1 -0.2 1.1 -0.1 1 -0.1 1.1 -0.1 1 -0.1 1 -0.1 1 0 1 0 0.9 -0.1 1 0 0.9 0.1 0.9 0 0.8 0 0.8 0.1 0.8 0.1 0.8 0.1 0.7 0.1 0.7 0.1 0.7 0.1 0.7 0.1 0.7 -0.1 0.7 0 0.8 -0.1 0.9 -0.2 0.8 -0.2 0.9 -0.3 0.9 -0.3 0.9 -0.3 0.9 -0.3 0.9 -0.3 0.9 -0.3 0.8 -0.4 0.8 -0.4 0.8 -0.4 0.8 -0.3 0.8 -0.4 0.8 -0.3 0.9 -0.2 0.8 -0.3 0.9 -0.2 0.9 -0.1 0.9 -0.2 0.9 -0.1 1 -0.1 0.9 -0.1 0.9 0 0.9 -0.1 0.9 0 1 0 0.9 0 0.9 0 0.9 0 1 0 1 0.1 1 0 1 0 1 0.1 1 0.1 1.1 0 1.1 0.1 1 0 1.1 0 1.2 0 1.1 -0.1 1.2 0 1.1 -0.1 1.2 -0.1 1.2 -0.1 1.1 -0.1 1.1 -0.2 1 -0.2 1 -0.2 1 -0.2 1 -0.3 0.9 -0.3 0.9 -0.4 0.9 -0.4 0.9 -0.5 0.8 -0.5 0.9 -0.5 0.8 -0.6 0.8 -0.7 0.8 -0.7 0.8 -0.7 0.7 -0.7 0.7 -0.7 0.7 -0.7 0.7 -0.8 0.6 -0.8 0.6 -0.8 0.6 -0.8 0.6 -0.7 0.5 -0.8 0.4 -0.8 0.4 -0.8 0.4 -0.8 0.3 -0.8 0.2 -0.8 0.2 -0.8 0.2 -0.8 0.1 -0.8 0 -0.7 0.1 -0.8 0 -0.8 -0.1 -0.8 -0.1 -0.8 -0.1 -0.8 -0.2 -0.7 -0.2 -0.7 -0.3 -0.6 -0.3 -0.7 -0.4 -0.6 -0.4 -0.5 -0.5 -0.5 -0.5 -0.6 -0.6 -0.5 -0.6 -0.4 -0.6 -0.5 -0.7 -0.4 -0.7 -0.5 -0.7 -0.4 -0.7 -0.4 -0.8 -0.3 -0.8 -0.4 -0.8 -0.3 -0.8 -0.2 -0.8 -0.3 -0.8 -0.2 -0.8 -0.1 -0.8 -0.2 -0.8 0 -0.8 -0.1 -0.7 0 -0.8 0 -0.8 0 -0.8 0.1 -0.8 0 -0.8 0.2 -0.8 0.1 -0.8 0 -0.7 0.1 -0.8 0 -0.7 -0.1 -0.7 0 -0.7 -0.1 -0.7 -0.2 -0.6 -0.1 -0.7 -0.2 -0.6 -0.2 -0.7 -0.3 -0.7 -0.3 -0.6 -0.3 -0.7 -0.4 -0.6 -0.4 -0.7 -0.4 -0.7 -0.3 -0.7 -0.3 -0.7 -0.3 -0.7 -0.3 -0.7 -0.2 -0.8 -0.3 -0.8 -0.2 -0.8 -0.1 -0.8 -0.2 -0.8 -0.2 -0.9 -0.1 -0.9 -0.1 -1 -0.1 -1 -0.1 -1 -0.1 -1.1 0 -1 -0.1 -1 -0.1 -1 -0.1 -1 -0.1 -1 -0.1 -0.9 -0.1 -1 -0.2 -0.9 -0.1 -0.9 -0.2 -0.9 -0.2 -0.9 -0.2 -0.8 -0.2 -0.9 -0.2 -0.8 -0.3 -0.8 -0.2 -0.8 -0.3 -0.8 -0.3 -0.8 -0.4 -0.8 -0.4 -0.8 -0.4 -0.7 -0.5 -0.8 -0.5 -0.8 -0.5 -0.8 -0.5 -0.8 -0.4 -0.8 -0.4 -0.9 -0.3 -0.8 -0.3 -0.9 -0.2 -0.9 -0.2 -0.9 -0.2 -0.9 -0.1 -1 0 -0.9 -0.1 -1 0 -1 0 -1 0 -1 0 -1.1 0.1 -1 0.1 -1.1 0.1 -1 0.2 -1.1 0.2 -1 0.2 -1.1 0.3 -1 0.3 -1.1 0.3 -1 0.3 -1.1 0.3 -1.1 0.3 -1 0.3 -1.1 0.3 -1 0.3 -1.1 0.3 -1 0.2 -1.1 0.3 -1 0.3 -1.1 0.3 -1 0.4 -1.1 0.3 -1 0.4 -1.1 0.3 -1.1 0.4 -1 0.5 -1 0.4 -1 0.5 -0.9 0.5 -0.8 0.6 -0.8 0.6 -0.8 0.6 -0.7 0.7 -0.7 0.7 -0.6 0.6 -0.6 0.8 -0.6 0.7 -0.6 0.7 -0.6 0.8 -0.6 0.8 -0.5 0.7 -0.5 0.8 -0.6 0.8 -0.4 0.8 -0.5 0.8 -0.5 0.8 -0.4 0.8 -0.5 0.8 -0.4 0.8 -0.4 0.8 -0.3 0.9 -0.4 0.9 -0.3 1 -0.2 1.1 -0.2 1.1 -0.2 1.1 -0.2 1.2 -0.1 1.1 -0.1 1.2 -0.1 1.1 -0.1 1.2 0 1.1 0 1 0z" fill="#0000ff"/>
<g filter="url(#bl)">
<path d="M1074 734.3l-0.2 2.2 -0.2 2.3 -0.2 2.2 -0.3 2.4 -0.2 2.5 -0.1 2.9 0.1 3.3 0 3.9 -0.6 4.1 -1.3 4 -1.4 4.7 -0.9 7.8 -1 12.3 -3.2 12.4 -5.9 8.6 -7.5 3.6 -7.5 -2.6 -5.8 -9.8 -3.2 -12.5 -1.9 -9.9 -1.2 -7.6 -1 -5.9 -1.2 -4.3 -1.4 -3.4 -1.3 -3.1 -1 -3.1 -0.4 -3.2 -0.1 -3.1 0.2 -2.9 0.4 -2.8 0.5 -2.6 0.6 -2.4 0.6 -2.4 0.6 -2.2 0.6 -2.3 0.6 -2.2 0.7 -2.2 0.9 -2.3 1.1 -2.2 1.3 -2.2 1.6 -1.9 1.8 -1.8 2 -1.7 2.2 -1.5 2.3 -1.5 2.5 -1.2 2.7 -1 2.8 -0.6 2.9 -0.3 3 0 3 0.3 2.9 0.6 2.8 1.3 2.3 2 1.8 2.5 1.4 2.7 0.9 2.9 0.6 2.7 0.5 2.7 0.4 2.5 0.2 2.4 0.2 2.3 0 2.3z" fill="#000eff"/>
<path d="M1073 734.3l-0.2 2.1 -0.1 2.2 -0.3 2.1 -0.2 2.3 -0.3 2.4 -0.1 2.7 0 3.2 -0.1 3.6 -0.5 3.8 -1.2 3.8 -1.4 4.5 -0.9 7.3 -1 11.2 -3.1 11.6 -5.5 8.3 -7 3.8 -7.1 -2.5 -5.5 -9.2 -3 -11.6 -1.9 -9.4 -1.2 -7.2 -1 -5.6 -1.1 -4.1 -1.3 -3.3 -1.1 -2.9 -0.9 -3 -0.4 -3 0 -3 0.1 -2.7 0.3 -2.6 0.5 -2.5 0.6 -2.3 0.5 -2.2 0.5 -2.2 0.6 -2.1 0.6 -2.2 0.7 -2.1 0.8 -2.2 1 -2.1 1.2 -2 1.5 -1.9 1.8 -1.8 1.9 -1.6 2 -1.5 2.2 -1.4 2.4 -1.3 2.6 -0.9 2.7 -0.6 2.8 -0.2 2.8 0 2.9 0.3 2.8 0.8 2.6 1.3 2.2 1.9 1.7 2.3 1.3 2.6 0.9 2.7 0.6 2.6 0.5 2.5 0.3 2.4 0.3 2.3 0.2 2.2 0 2.2z" fill="#0029ff"/>
<path d="M1071.9 734.3l-0.1 2 -0.1 2.1 -0.3 2 -0.2 2.2 -0.3 2.3 -0.1 2.5 -0.1 3 -0.1 3.4 -0.6 3.5 -1 3.7 -1.3 4.3 -0.9 6.7 -1.1 10.2 -2.9 10.7 -5.1 8.1 -6.6 3.9 -6.7 -2.3 -5.1 -8.8 -3 -10.7 -1.8 -8.8 -1.2 -6.7 -0.9 -5.3 -1.1 -3.9 -1.1 -3.2 -1 -2.9 -0.8 -2.9 -0.3 -2.8 -0.1 -2.7 0.1 -2.6 0.3 -2.5 0.4 -2.3 0.5 -2.2 0.5 -2.1 0.5 -2.1 0.5 -2 0.5 -2 0.7 -2.1 0.7 -2 1 -2 1.1 -2 1.5 -1.8 1.6 -1.7 1.8 -1.6 1.9 -1.5 2.1 -1.4 2.3 -1.2 2.5 -0.9 2.6 -0.5 2.7 -0.3 2.7 0.1 2.7 0.4 2.6 0.8 2.4 1.3 2.1 1.8 1.6 2.3 1.3 2.4 0.9 2.5 0.6 2.5 0.5 2.4 0.3 2.2 0.3 2.2 0.1 2.1 0.1 2.1z" fill="#0045ff"/>
<path d="M1070.9 734.3l-0.1 1.9 -0.1 2 -0.2 1.9 -0.3 2.1 -0.2 2.2 -0.2 2.3 -0.1 2.8 -0.2 3.2 -0.6 3.3 -1 3.4 -1.2 4.1 -0.9 6.2 -1.1 9.2 -2.8 9.8 -4.7 7.9 -6.1 4 -6.3 -2.2 -4.8 -8.2 -2.8 -9.9 -1.8 -8.1 -1.2 -6.3 -0.9 -5 -0.9 -3.8 -1 -3.1 -0.9 -2.8 -0.7 -2.7 -0.3 -2.7 -0.1 -2.5 0.1 -2.5 0.2 -2.3 0.4 -2.2 0.4 -2 0.4 -2 0.5 -1.9 0.4 -2 0.6 -1.9 0.6 -1.9 0.7 -2 0.9 -1.9 1.1 -1.9 1.3 -1.7 1.5 -1.7 1.7 -1.6 1.8 -1.4 2.1 -1.4 2.2 -1.2 2.3 -0.8 2.5 -0.5 2.6 -0.2 2.5 0.2 2.6 0.4 2.5 0.9 2.2 1.3 2 1.7 1.5 2.1 1.2 2.3 0.8 2.4 0.7 2.3 0.5 2.2 0.3 2.1 0.3 2.1 0.1 2 0.1 2z" fill="#0060ff"/>
<path d="M1069.9 734.3l-0.1 1.8 -0.1 1.9 -0.2 1.8 -0.3 2 -0.2 2 -0.2 2.3 -0.2 2.5 -0.2 2.9 -0.6 3.1 -0.9 3.3 -1.1 3.9 -1 5.6 -1.1 8.2 -2.6 8.9 -4.3 7.6 -5.7 4.2 -5.9 -2 -4.5 -7.7 -2.7 -9.1 -1.7 -7.5 -1.1 -5.9 -0.9 -4.7 -0.9 -3.6 -0.8 -3 -0.8 -2.7 -0.6 -2.5 -0.3 -2.5 0 -2.4 0 -2.3 0.2 -2.1 0.3 -2.1 0.3 -1.9 0.4 -1.9 0.4 -1.8 0.4 -1.8 0.5 -1.9 0.6 -1.8 0.7 -1.8 0.8 -1.8 1 -1.8 1.2 -1.7 1.4 -1.7 1.6 -1.5 1.7 -1.5 2 -1.3 2.1 -1.1 2.2 -0.8 2.4 -0.5 2.5 -0.1 2.4 0.2 2.4 0.5 2.3 0.9 2.1 1.3 1.8 1.7 1.5 2 1.1 2.1 0.8 2.2 0.7 2.1 0.4 2.1 0.4 2.1 0.2 1.9 0.2 1.9 0 1.9z" fill="#0080ff"/>
<path d="M1068.9 734.3l-0.1 1.7 -0.1 1.8 -0.2 1.8 -0.2 1.8 -0.3 1.9 -0.3 2.1 -0.2 2.3 -0.3 2.7 -0.5 2.9 -0.8 3.1 -1 3.6 -1 5.1 -1.3 7.2 -2.3 8 -3.9 7.4 -5.3 4.3 -5.5 -1.9 -4.2 -7.1 -2.5 -8.3 -1.7 -6.9 -1.1 -5.4 -0.9 -4.4 -0.7 -3.4 -0.8 -2.9 -0.6 -2.6 -0.5 -2.5 -0.2 -2.3 -0.1 -2.2 0 -2.1 0.1 -2 0.3 -1.9 0.2 -1.8 0.4 -1.8 0.3 -1.7 0.4 -1.7 0.4 -1.7 0.6 -1.7 0.6 -1.8 0.8 -1.7 0.9 -1.7 1.2 -1.6 1.3 -1.6 1.4 -1.5 1.7 -1.5 1.8 -1.3 2 -1 2.1 -0.8 2.3 -0.5 2.3 -0.1 2.4 0.3 2.2 0.6 2.2 1 1.9 1.3 1.6 1.6 1.4 1.8 1.1 2 0.8 2 0.6 2 0.5 2 0.4 1.9 0.2 1.8 0.2 1.8 0 1.8z" fill="#00a4ff"/>
<path d="M1067.9 734.3l-0.1 1.6 -0.1 1.7 -0.2 1.7 -0.2 1.7 -0.3 1.8 -0.3 1.9 -0.2 2.2 -0.4 2.4 -0.5 2.6 -0.8 2.9 -0.9 3.5 -1 4.5 -1.3 6.2 -2.2 7.1 -3.5 7.2 -4.8 4.4 -5.1 -1.8 -3.8 -6.6 -2.5 -7.4 -1.6 -6.2 -1.1 -5 -0.8 -4.1 -0.7 -3.3 -0.6 -2.8 -0.5 -2.5 -0.4 -2.3 -0.2 -2.2 -0.1 -2 0 -1.9 0.1 -1.9 0.1 -1.7 0.3 -1.7 0.2 -1.7 0.3 -1.6 0.4 -1.6 0.4 -1.6 0.5 -1.6 0.6 -1.6 0.7 -1.7 0.9 -1.6 1 -1.5 1.2 -1.6 1.3 -1.5 1.6 -1.4 1.7 -1.2 1.9 -1.1 2 -0.7 2.2 -0.5 2.2 0 2.2 0.3 2.1 0.7 2 1 1.8 1.3 1.5 1.5 1.3 1.8 1 1.8 0.8 1.9 0.6 1.8 0.5 1.8 0.4 1.8 0.2 1.7 0.1 1.7 0.1 1.7z" fill="#00c9ff"/>
<path d="M1066.9 734.3l-0.1 1.5 -0.1 1.6 -0.2 1.6 -0.2 1.6 -0.3 1.7 -0.3 1.7 -0.3 2 -0.4 2.2 -0.5 2.4 -0.7 2.7 -0.8 3.2 -1 4 -1.4 5.2 -2 6.2 -3.1 6.9 -4.4 4.5 -4.7 -1.5 -3.5 -6.1 -2.4 -6.6 -1.5 -5.6 -1.1 -4.6 -0.7 -3.7 -0.7 -3.2 -0.4 -2.7 -0.4 -2.4 -0.3 -2.1 -0.1 -2 -0.1 -1.9 -0.1 -1.8 0 -1.6 0.1 -1.7 0.2 -1.5 0.2 -1.6 0.2 -1.5 0.4 -1.5 0.3 -1.5 0.5 -1.5 0.5 -1.5 0.7 -1.5 0.8 -1.5 0.9 -1.6 1.1 -1.5 1.2 -1.4 1.5 -1.4 1.6 -1.2 1.8 -1 2 -0.7 2 -0.4 2.1 -0.1 2.1 0.4 1.9 0.8 1.8 1 1.6 1.3 1.4 1.5 1.2 1.6 1 1.7 0.8 1.7 0.6 1.7 0.5 1.7 0.3 1.6 0.3 1.7 0.1 1.6 0.1 1.5z" fill="#00edff"/>
<path d="M1066 734.3l-0.1 1.4 -0.1 1.5 -0.2 1.5 -0.2 1.5 -0.3 1.6 -0.3 1.6 -0.4 1.8 -0.4 2 -0.5 2.2 -0.6 2.6 -0.7 3 -1 3.6 -1.4 4.5 -1.9 5.5 -2.8 6.6 -4 4.4 -4.3 -1.4 -3.3 -5.6 -2.2 -5.9 -1.5 -5.1 -1 -4.2 -0.8 -3.5 -0.5 -3 -0.4 -2.6 -0.3 -2.3 -0.2 -2 -0.2 -1.9 -0.1 -1.7 0 -1.6 0 -1.6 0 -1.5 0.1 -1.4 0.2 -1.5 0.2 -1.4 0.3 -1.4 0.4 -1.4 0.4 -1.4 0.5 -1.4 0.6 -1.5 0.7 -1.4 0.9 -1.4 1 -1.5 1.1 -1.4 1.4 -1.3 1.5 -1.2 1.7 -1 1.9 -0.7 1.9 -0.4 2 0 2 0.4 1.8 0.7 1.7 1.1 1.5 1.3 1.3 1.4 1.1 1.5 0.9 1.6 0.7 1.6 0.6 1.6 0.5 1.5 0.3 1.6 0.3 1.5 0.1 1.5 0 1.5z" fill="#00ffe6"/>
<path d="M1065.1 734.3l-0.1 1.3 -0.1 1.4 -0.1 1.4 -0.3 1.4 -0.2 1.5 -0.3 1.6 -0.4 1.6 -0.4 1.9 -0.5 2.1 -0.5 2.3 -0.7 2.8 -1 3.4 -1.2 4.1 -1.8 5.2 -2.6 6 -3.8 4.1 -4 -1.3 -3.1 -5 -2.1 -5.5 -1.4 -4.8 -1 -3.9 -0.7 -3.2 -0.5 -2.8 -0.4 -2.4 -0.3 -2.2 -0.2 -1.9 -0.1 -1.7 -0.1 -1.7 0 -1.5 0 -1.4 0 -1.5 0.1 -1.3 0.2 -1.4 0.2 -1.3 0.2 -1.3 0.4 -1.3 0.4 -1.4 0.4 -1.3 0.6 -1.4 0.7 -1.3 0.8 -1.4 0.9 -1.4 1.1 -1.3 1.2 -1.3 1.5 -1.2 1.6 -1 1.7 -0.7 1.9 -0.4 1.9 0 1.9 0.3 1.8 0.8 1.6 1 1.4 1.3 1.2 1.4 1 1.4 0.9 1.5 0.7 1.5 0.5 1.6 0.4 1.5 0.3 1.4 0.2 1.5 0.1 1.4 0.1 1.4z" fill="#00ffb3"/>
<path d="M1064.2 734.3l0 1.3 -0.1 1.3 -0.2 1.3 -0.2 1.3 -0.3 1.4 -0.3 1.4 -0.3 1.6 -0.4 1.7 -0.4 1.9 -0.6 2.2 -0.7 2.6 -0.9 3.1 -1.1 3.8 -1.7 4.7 -2.4 5.5 -3.5 3.8 -3.7 -1.1 -2.9 -4.6 -1.9 -5 -1.4 -4.4 -0.9 -3.6 -0.7 -3.1 -0.5 -2.5 -0.3 -2.3 -0.3 -2 -0.2 -1.8 -0.1 -1.6 -0.1 -1.5 0 -1.5 0 -1.3 0 -1.3 0.1 -1.3 0.2 -1.3 0.1 -1.2 0.3 -1.3 0.3 -1.2 0.3 -1.3 0.5 -1.2 0.5 -1.3 0.6 -1.3 0.8 -1.3 0.8 -1.3 1 -1.3 1.2 -1.2 1.4 -1.2 1.5 -0.9 1.6 -0.8 1.8 -0.4 1.8 0 1.8 0.3 1.7 0.7 1.5 1.1 1.3 1.2 1.2 1.3 0.9 1.4 0.8 1.5 0.7 1.4 0.5 1.4 0.4 1.5 0.2 1.4 0.2 1.3 0.1 1.4 0 1.3z" fill="#00ff80"/>
<path d="M1063.4 734.3l-0.1 1.2 -0.1 1.2 -0.2 1.2 -0.2 1.2 -0.2 1.3 -0.3 1.4 -0.3 1.4 -0.4 1.6 -0.4 1.7 -0.5 2.1 -0.7 2.3 -0.8 2.9 -1.1 3.4 -1.6 4.3 -2.2 5 -3.2 3.5 -3.4 -0.9 -2.7 -4.1 -1.8 -4.6 -1.2 -4 -0.9 -3.4 -0.7 -2.8 -0.4 -2.3 -0.4 -2.1 -0.2 -1.9 -0.2 -1.7 -0.1 -1.5 -0.1 -1.4 -0.1 -1.3 0.1 -1.3 0 -1.2 0.1 -1.2 0.1 -1.2 0.2 -1.2 0.2 -1.1 0.3 -1.2 0.3 -1.1 0.4 -1.2 0.5 -1.2 0.6 -1.3 0.7 -1.2 0.8 -1.2 0.9 -1.2 1.1 -1.2 1.2 -1.1 1.5 -1 1.5 -0.7 1.7 -0.5 1.7 -0.1 1.8 0.4 1.5 0.7 1.5 1 1.2 1.2 1.1 1.2 0.9 1.4 0.7 1.4 0.6 1.4 0.5 1.3 0.3 1.4 0.2 1.3 0.2 1.3 0.1 1.2 0 1.3z" fill="#00ff47"/>
<path d="M1062.5 734.3l-0.1 1.1 -0.1 1.1 -0.1 1.1 -0.2 1.2 -0.3 1.2 -0.2 1.2 -0.3 1.3 -0.4 1.5 -0.4 1.6 -0.5 1.8 -0.6 2.2 -0.8 2.6 -1 3.1 -1.4 3.8 -2.1 4.5 -2.9 3.2 -3.1 -0.7 -2.5 -3.7 -1.7 -4.1 -1.1 -3.6 -0.9 -3.1 -0.6 -2.6 -0.4 -2.2 -0.3 -1.9 -0.3 -1.7 -0.1 -1.5 -0.1 -1.5 -0.1 -1.3 -0.1 -1.2 0 -1.2 0.1 -1.1 0.1 -1.1 0.1 -1.1 0.1 -1.1 0.2 -1.1 0.3 -1 0.3 -1.1 0.4 -1.1 0.4 -1.2 0.5 -1.1 0.7 -1.2 0.7 -1.1 0.9 -1.2 1 -1.1 1.1 -1.1 1.3 -0.9 1.5 -0.8 1.6 -0.5 1.7 -0.1 1.6 0.3 1.5 0.7 1.3 1 1.2 1.1 1 1.3 0.8 1.3 0.7 1.3 0.5 1.3 0.4 1.3 0.3 1.3 0.2 1.2 0.2 1.2 0 1.2 0 1.1z" fill="#00ff0e"/>
<path d="M1061.7 734.3l-0.1 1 -0.1 1 -0.2 1.1 -0.2 1 -0.2 1.1 -0.3 1.1 -0.3 1.2 -0.3 1.4 -0.4 1.4 -0.4 1.7 -0.6 2 -0.7 2.2 -1 2.8 -1.3 3.4 -1.9 4 -2.6 2.8 -2.8 -0.4 -2.3 -3.2 -1.5 -3.7 -1.1 -3.3 -0.8 -2.7 -0.5 -2.4 -0.5 -2 -0.3 -1.7 -0.2 -1.6 -0.2 -1.4 -0.1 -1.3 0 -1.2 -0.1 -1.2 0 -1.1 0.1 -1 0.1 -1 0.1 -1 0.1 -1 0.2 -1 0.2 -1 0.3 -1 0.3 -1 0.4 -1.1 0.5 -1.1 0.5 -1 0.7 -1.1 0.8 -1.1 0.9 -1.1 1.1 -1.1 1.2 -0.9 1.4 -0.8 1.5 -0.5 1.6 -0.1 1.5 0.3 1.4 0.7 1.3 0.9 1.1 1.1 0.9 1.2 0.8 1.3 0.6 1.2 0.4 1.3 0.4 1.2 0.3 1.2 0.1 1.2 0.1 1.1 0.1 1.1 0 1z" fill="#26ff00"/>
<path d="M1060.8 734.3l-0.1 0.9 -0.1 1 -0.2 0.9 -0.1 1 -0.3 0.9 -0.2 1.1 -0.3 1.1 -0.3 1.2 -0.4 1.3 -0.4 1.5 -0.5 1.7 -0.7 2 -0.9 2.5 -1.2 3 -1.7 3.4 -2.3 2.5 -2.5 -0.3 -2.1 -2.7 -1.4 -3.2 -1 -2.9 -0.7 -2.5 -0.5 -2.1 -0.4 -1.8 -0.3 -1.6 -0.2 -1.4 -0.2 -1.3 -0.1 -1.2 0 -1.1 -0.1 -1.1 0 -0.9 0.1 -1 0 -0.9 0.1 -0.9 0.2 -0.9 0.1 -1 0.2 -0.9 0.2 -0.9 0.3 -0.9 0.4 -1 0.4 -1 0.5 -1 0.6 -1.1 0.8 -1 0.8 -1 1 -1 1.1 -1 1.3 -0.7 1.4 -0.5 1.5 -0.2 1.4 0.3 1.4 0.6 1.2 0.9 1 1.1 0.8 1.2 0.7 1.2 0.5 1.2 0.4 1.1 0.4 1.2 0.2 1.1 0.1 1.1 0.1 1 0.1 1 -0.1 1z" fill="#59ff00"/>
<path d="M1059.9 734.3l0 0.8 -0.2 0.9 -0.1 0.8 -0.2 0.9 -0.2 0.9 -0.2 0.9 -0.3 1 -0.3 1.1 -0.3 1.1 -0.5 1.4 -0.5 1.5 -0.6 1.7 -0.8 2.1 -1.1 2.6 -1.5 2.9 -2 2.2 -2.2 -0.1 -1.9 -2.2 -1.3 -2.8 -0.9 -2.5 -0.7 -2.2 -0.4 -1.9 -0.4 -1.6 -0.3 -1.4 -0.2 -1.3 -0.1 -1.2 -0.1 -1.1 0 -1 -0.1 -0.9 0 -0.9 0.1 -0.9 0 -0.8 0.1 -0.9 0.1 -0.8 0.1 -0.8 0.2 -0.8 0.2 -0.9 0.3 -0.9 0.3 -0.8 0.4 -1 0.4 -0.9 0.6 -1 0.6 -0.9 0.8 -1 0.9 -1 1 -0.9 1.2 -0.8 1.3 -0.5 1.4 -0.2 1.4 0.3 1.2 0.6 1.1 0.9 0.9 1 0.8 1.1 0.6 1.1 0.5 1.2 0.4 1.1 0.2 1.1 0.2 1 0.1 1 0.1 1 0 0.9 0 0.9z" fill="#8cff00"/>
<path d="M1059.1 734.3l-0.1 0.8 -0.1 0.7 -0.2 0.8 -0.2 0.8 -0.1 0.7 -0.3 0.9 -0.2 0.8 -0.3 1 -0.3 1 -0.4 1.1 -0.5 1.3 -0.5 1.5 -0.8 1.8 -0.9 2.1 -1.3 2.4 -1.8 1.9 -1.9 0.1 -1.7 -1.7 -1.1 -2.4 -0.9 -2.1 -0.6 -1.9 -0.4 -1.7 -0.4 -1.4 -0.2 -1.3 -0.2 -1.1 -0.1 -1.1 -0.1 -1 -0.1 -0.9 0 -0.8 0 -0.8 0.1 -0.8 0 -0.7 0.1 -0.8 0.1 -0.7 0.1 -0.7 0.1 -0.8 0.2 -0.8 0.2 -0.8 0.3 -0.8 0.3 -0.8 0.4 -0.9 0.5 -0.9 0.6 -0.9 0.6 -0.9 0.8 -1 1 -0.9 1.1 -0.8 1.2 -0.5 1.3 -0.2 1.3 0.2 1.2 0.6 1 0.9 0.8 1 0.7 1 0.6 1.1 0.4 1.1 0.3 1.1 0.2 1 0.1 0.9 0.1 1 0.1 0.8 0 0.9 -0.1 0.8z" fill="#bfff00"/>
<path d="M1058.2 734.3l-0.1 0.7 -0.1 0.6 -0.1 0.7 -0.2 0.7 -0.2 0.7 -0.2 0.7 -0.2 0.8 -0.3 0.8 -0.3 0.8 -0.4 1 -0.4 1.1 -0.5 1.2 -0.7 1.4 -0.8 1.7 -1.1 1.9 -1.5 1.6 -1.6 0.3 -1.5 -1.3 -1 -1.9 -0.8 -1.8 -0.5 -1.6 -0.4 -1.4 -0.3 -1.2 -0.3 -1.1 -0.1 -1.1 -0.1 -0.9 -0.1 -0.8 -0.1 -0.8 0 -0.8 0 -0.7 0 -0.7 0.1 -0.6 0 -0.7 0.1 -0.6 0.1 -0.7 0.1 -0.7 0.2 -0.7 0.2 -0.7 0.2 -0.7 0.3 -0.8 0.3 -0.8 0.4 -0.8 0.5 -0.8 0.6 -0.9 0.7 -0.9 0.9 -0.9 1 -0.8 1.1 -0.6 1.2 -0.2 1.2 0.2 1.1 0.6 0.9 0.8 0.8 0.9 0.6 1.1 0.5 1 0.4 1 0.2 1 0.2 1 0.1 0.8 0 0.9 0.1 0.8 -0.1 0.7 0 0.8z" fill="#f2ff00"/>
<path d="M1057.5 734.3l-0.1 0.6 -0.2 0.6 -0.1 0.6 -0.1 0.6 -0.2 0.6 -0.2 0.6 -0.2 0.7 -0.3 0.7 -0.2 0.8 -0.4 0.8 -0.4 0.9 -0.4 1.1 -0.6 1.1 -0.8 1.4 -0.9 1.6 -1.3 1.4 -1.4 0.3 -1.3 -1 -0.9 -1.5 -0.7 -1.6 -0.5 -1.4 -0.4 -1.2 -0.2 -1.1 -0.3 -1 -0.1 -0.9 -0.1 -0.8 -0.1 -0.7 0 -0.7 0 -0.7 0 -0.6 0 -0.6 0 -0.6 0.1 -0.6 0 -0.6 0.1 -0.6 0.1 -0.6 0.2 -0.6 0.1 -0.6 0.2 -0.7 0.3 -0.7 0.3 -0.7 0.3 -0.7 0.5 -0.8 0.5 -0.9 0.6 -0.8 0.8 -0.9 0.9 -0.7 1 -0.6 1.1 -0.2 1.1 0.2 1 0.6 0.9 0.7 0.7 0.9 0.5 0.9 0.4 1 0.3 1 0.2 0.9 0.2 0.8 0.1 0.8 0 0.8 0 0.7 0 0.7 -0.1 0.6z" fill="#ffd600"/>
<path d="M1056.5 734.3l-0.1 0.5 -0.1 0.5 -0.1 0.5 -0.2 0.5 -0.1 0.5 -0.2 0.6 -0.2 0.5 -0.2 0.6 -0.2 0.6 -0.3 0.7 -0.3 0.8 -0.4 0.9 -0.5 1 -0.6 1.2 -0.8 1.3 -1.1 1.1 -1.2 0.3 -1 -0.8 -0.8 -1.3 -0.6 -1.3 -0.4 -1.2 -0.3 -1 -0.3 -0.9 -0.2 -0.9 -0.1 -0.7 -0.1 -0.7 0 -0.6 0 -0.6 -0.1 -0.6 0 -0.5 0.1 -0.5 0 -0.5 0 -0.5 0.1 -0.5 0 -0.5 0.1 -0.5 0.1 -0.5 0.2 -0.6 0.1 -0.5 0.2 -0.6 0.3 -0.6 0.3 -0.6 0.4 -0.7 0.4 -0.7 0.5 -0.7 0.7 -0.7 0.7 -0.7 0.9 -0.4 0.9 -0.2 1 0.2 0.8 0.4 0.7 0.7 0.6 0.7 0.5 0.8 0.3 0.8 0.3 0.8 0.2 0.8 0.1 0.7 0 0.7 0.1 0.6 0 0.6 0 0.6 -0.1 0.5z" fill="#ff9700"/>
<path d="M1055.5 734.3l-0.1 0.4 -0.1 0.4 -0.1 0.4 -0.1 0.4 -0.1 0.4 -0.1 0.5 -0.2 0.4 -0.2 0.5 -0.1 0.5 -0.3 0.6 -0.2 0.6 -0.4 0.7 -0.4 0.9 -0.5 0.9 -0.6 1.1 -0.9 0.9 -1 0.2 -0.8 -0.6 -0.7 -1.1 -0.4 -1 -0.4 -1 -0.2 -0.8 -0.2 -0.8 -0.2 -0.6 -0.1 -0.7 0 -0.5 -0.1 -0.5 0 -0.5 0 -0.5 0 -0.4 0 -0.4 0 -0.4 0.1 -0.4 0 -0.4 0.1 -0.4 0 -0.4 0.1 -0.5 0.1 -0.4 0.2 -0.4 0.1 -0.5 0.2 -0.5 0.3 -0.5 0.3 -0.6 0.3 -0.5 0.5 -0.6 0.5 -0.6 0.6 -0.5 0.7 -0.4 0.8 -0.1 0.7 0.1 0.7 0.4 0.6 0.5 0.5 0.6 0.3 0.7 0.3 0.6 0.2 0.7 0.2 0.6 0.1 0.6 0 0.5 0 0.5 0.1 0.5 -0.1 0.5 0 0.4z" fill="#ff5e00"/>
<path d="M1054.5 734.3l-0.1 0.3 -0.1 0.3 0 0.3 -0.1 0.3 -0.1 0.4 -0.1 0.3 -0.1 0.3 -0.1 0.4 -0.2 0.4 -0.2 0.5 -0.2 0.4 -0.2 0.6 -0.3 0.6 -0.4 0.7 -0.5 0.9 -0.7 0.7 -0.7 0.2 -0.7 -0.5 -0.5 -0.9 -0.3 -0.8 -0.3 -0.7 -0.2 -0.7 -0.2 -0.5 -0.1 -0.5 0 -0.5 -0.1 -0.4 0 -0.4 -0.1 -0.4 0 -0.4 0 -0.3 0.1 -0.3 0 -0.3 0 -0.3 0 -0.3 0.1 -0.3 0 -0.4 0.1 -0.3 0.1 -0.3 0.1 -0.4 0.1 -0.3 0.2 -0.4 0.2 -0.4 0.2 -0.4 0.3 -0.5 0.3 -0.4 0.4 -0.4 0.5 -0.4 0.5 -0.3 0.6 -0.2 0.6 0.2 0.5 0.2 0.4 0.4 0.4 0.5 0.3 0.5 0.2 0.5 0.2 0.5 0.1 0.5 0.1 0.4 0 0.5 0 0.4 0 0.3 0 0.4 0 0.3z" fill="#ff2f00"/>
<path d="M1053.4 734.3l0 0.2 0 0.2 -0.1 0.2 0 0.3 -0.1 0.2 -0.1 0.2 0 0.3 -0.1 0.2 -0.1 0.3 -0.2 0.3 -0.1 0.4 -0.2 0.3 -0.2 0.5 -0.3 0.5 -0.3 0.6 -0.5 0.5 -0.5 0.1 -0.5 -0.4 -0.3 -0.5 -0.3 -0.6 -0.2 -0.5 -0.1 -0.5 -0.1 -0.4 -0.1 -0.3 0 -0.4 -0.1 -0.3 0 -0.2 0 -0.3 0 -0.3 0 -0.2 0 -0.2 0 -0.2 0 -0.2 0.1 -0.3 0 -0.2 0 -0.2 0.1 -0.2 0 -0.3 0.1 -0.2 0.1 -0.2 0.1 -0.3 0.1 -0.3 0.2 -0.3 0.2 -0.3 0.2 -0.3 0.3 -0.3 0.3 -0.3 0.4 -0.2 0.4 -0.1 0.4 0.1 0.4 0.2 0.3 0.3 0.3 0.3 0.2 0.4 0.1 0.3 0.1 0.4 0.1 0.3 0.1 0.3 0 0.3 0 0.3 0 0.3 0 0.2 0 0.2z" fill="#ff0000"/>
</g>
<ellipse cx="993.98" cy="830.42" rx="10.12" ry="5.48" fill="#0000ff"/>
</g>
<line x1="1017.8" y1="595.8" x2="1017.8" y2="830" stroke="#000" stroke-width="2.7"/>
<line x1="896.4" y1="707.5" x2="1131.8" y2="707.5" stroke="#000" stroke-width="2.4"/>
<rect x="896.4" y="595.8" width="235.4" height="234.2" fill="none" stroke="#000" stroke-width="2.6"/>
<path d="M888.3 830L895.2 830M888.3 776.9L895.2 776.9M888.3 723.8L895.2 723.8M888.3 670.7L895.2 670.7M888.3 617.6L895.2 617.6" stroke="#000" stroke-width="2.4" fill="none"/>
<path d="M890.8 792.88L895.2 792.88M890.8 739.78L895.2 739.78M890.8 686.68L895.2 686.68M890.8 633.58L895.2 633.58" stroke="#000" stroke-width="1.5" fill="none"/>
<path d="M892.8 814.02L895.2 814.02M892.8 804.66L895.2 804.66M892.8 798.03L895.2 798.03M892.8 788.68L895.2 788.68M892.8 785.13L895.2 785.13M892.8 782.05L895.2 782.05M892.8 779.33L895.2 779.33M892.8 760.92L895.2 760.92M892.8 751.56L895.2 751.56M892.8 744.93L895.2 744.93M892.8 735.58L895.2 735.58M892.8 732.03L895.2 732.03M892.8 728.95L895.2 728.95M892.8 726.23L895.2 726.23M892.8 707.82L895.2 707.82M892.8 698.46L895.2 698.46M892.8 691.83L895.2 691.83M892.8 682.48L895.2 682.48M892.8 678.93L895.2 678.93M892.8 675.85L895.2 675.85M892.8 673.13L895.2 673.13M892.8 654.72L895.2 654.72M892.8 645.36L895.2 645.36M892.8 638.73L895.2 638.73M892.8 629.38L895.2 629.38M892.8 625.83L895.2 625.83M892.8 622.75L895.2 622.75M892.8 620.03L895.2 620.03M892.8 601.62L895.2 601.62" stroke="#000" stroke-width="1.5" fill="none"/>
<path d="M896.8 831.2L896.8 838.4M949.6 831.2L949.6 838.4M1002.4 831.2L1002.4 838.4M1055.2 831.2L1055.2 838.4M1108 831.2L1108 838.4" stroke="#000" stroke-width="2.4" fill="none"/>
<path d="M933.71 831.2L933.71 836M986.51 831.2L986.51 836M1039.31 831.2L1039.31 836M1092.11 831.2L1092.11 836" stroke="#000" stroke-width="1.5" fill="none"/>
<path d="M912.69 831.2L912.69 833.8M921.99 831.2L921.99 833.8M928.59 831.2L928.59 833.8M937.89 831.2L937.89 833.8M941.42 831.2L941.42 833.8M944.48 831.2L944.48 833.8M947.18 831.2L947.18 833.8M965.49 831.2L965.49 833.8M974.79 831.2L974.79 833.8M981.39 831.2L981.39 833.8M990.69 831.2L990.69 833.8M994.22 831.2L994.22 833.8M997.28 831.2L997.28 833.8M999.98 831.2L999.98 833.8M1018.29 831.2L1018.29 833.8M1027.59 831.2L1027.59 833.8M1034.19 831.2L1034.19 833.8M1043.49 831.2L1043.49 833.8M1047.02 831.2L1047.02 833.8M1050.08 831.2L1050.08 833.8M1052.78 831.2L1052.78 833.8M1071.09 831.2L1071.09 833.8M1080.39 831.2L1080.39 833.8M1086.99 831.2L1086.99 833.8M1096.29 831.2L1096.29 833.8M1099.82 831.2L1099.82 833.8M1102.88 831.2L1102.88 833.8M1105.58 831.2L1105.58 833.8M1123.89 831.2L1123.89 833.8" stroke="#000" stroke-width="1.5" fill="none"/>
<text x="886.13" y="862.4" font-size="22.2" textLength="24.69" lengthAdjust="spacing">10</text>
<text x="910.82" y="851.86" font-size="13">0</text>
<text x="935.13" y="862.4" font-size="22.2" textLength="24.69" lengthAdjust="spacing">10</text>
<text x="959.37" y="851.86" font-size="13">1</text>
<text x="986.24" y="862.4" font-size="22.2" textLength="24.69" lengthAdjust="spacing">10</text>
<text x="1010.79" y="851.86" font-size="13">2</text>
<text x="1038.74" y="862.4" font-size="22.2" textLength="24.69" lengthAdjust="spacing">10</text>
<text x="1063.46" y="851.86" font-size="13">3</text>
<text x="1094.24" y="862.4" font-size="22.2" textLength="24.69" lengthAdjust="spacing">10</text>
<text x="1119.15" y="851.86" font-size="13">4</text>
<text x="900.32" y="620.2" font-size="17">0</text>
<text x="1064.62" y="620.2" font-size="17" textLength="42.76" lengthAdjust="spacing">0.065</text>
<text x="900.43" y="815.8" font-size="17" textLength="33.07" lengthAdjust="spacing">1.14</text>
<text x="1078.29" y="815.8" font-size="17" textLength="33.55" lengthAdjust="spacing">98.8</text>
<text x="113.11" y="542.3" font-size="29.78" textLength="161.9" lengthAdjust="spacing">Conventional</text>
<text x="141.66" y="576.8" font-size="29.78" textLength="105.64" lengthAdjust="spacing">refolded</text>
<text x="400.74" y="542.3" font-size="29.78" textLength="141.06" lengthAdjust="spacing">Exchanged</text>
<text x="382.18" y="576.8" font-size="29.78" textLength="177.65" lengthAdjust="spacing">stoichiometric</text>
<text x="668.94" y="542.3" font-size="29.78" textLength="140.96" lengthAdjust="spacing">Exchanged</text>
<text x="686.03" y="576.8" font-size="29.78" textLength="105.78" lengthAdjust="spacing">catalytic</text>
<text x="938.54" y="542.3" font-size="29.78" textLength="151.54" lengthAdjust="spacing">Mismatched</text>
<text x="969.06" y="576.8" font-size="29.78" textLength="90.93" lengthAdjust="spacing">peptide</text>
<!-- plot a3.1 -->
<clipPath id="cp20"><rect x="80.3" y="1057.6" width="236.7" height="235.9"/></clipPath>
<g clip-path="url(#cp20)">
<path d="M251.4 1057.9l10.1 0 7.3 0.4 4.5 0.8 1.7 1.1 -1.1 1.5 -1.2 1.5 -1.4 1.3 -1.6 1.2 -1.8 1.1 -2.4 0.8 -3.1 0.6 -3.7 0.2 -4.4 0 -3.5 -0.2 -2.7 -0.6 -1.7 -0.8 -0.9 -1.1 -1.1 -1.2 -1.5 -1.3 -1.7 -1.5 -1.9 -1.5 1 -1.1 4.1 -0.8z" fill="#0000ff"/>
<path d="M232.3 1136.5l6.2 -0.9 5.9 -0.6 5.7 -0.5 5.5 -0.2 5.3 0 3.9 0.9 2.7 1.8 1.3 2.6 0 3.5 0.2 3.3 0.4 3.1 0.7 2.8 0.9 2.7 -0.9 2.2 -2.6 1.7 -4.4 1.3 -6.2 0.9 -5.6 0.8 -5.1 0.6 -4.6 0.6 -4 0.4 -3.1 -0.2 -2.2 -0.9 -1.3 -1.5 -0.3 -2.2 -0.7 -2.7 -1.1 -3.3 -1.4 -3.9 -1.8 -4.4 0.3 -3.5 2.2 -2.6z" fill="#0000ff"/>
<path d="M238.6 1145.4l3.2 -0.1 3.1 -0.2 2.9 -0.2 2.8 -0.3 2.7 -0.3 2.6 -0.4 2.4 -0.5 2.4 -0.5 2.2 -0.5 1.9 -0.4 1.8 -0.2 1.6 -0.1 1.4 0.2 1.2 0.2 0.9 0.5 0.8 0.6 0.5 0.7 0.5 0.8 0.5 0.9 0.5 0.9 0.4 0.9 0.4 1 0.4 1 0.4 1.1 0.3 1.1 0.3 1.1 0.1 1.3 0 1.4 0 1.4 -0.2 1.5 -0.2 1.6 -0.4 1.7 -0.4 1.7 -0.5 1.7 -0.5 1.7 -0.7 1.6 -0.6 1.5 -0.7 1.5 -0.8 1.4 -0.8 1.4 -0.9 1.3 -0.8 1.3 -0.9 1.3 -0.8 1.3 -0.7 1.4 -0.8 1.3 -0.7 1.3 -0.7 1.3 -0.6 1.3 -0.7 1.3 -0.8 1.3 -0.8 1.2 -0.9 1.2 -1 1.2 -0.9 1.2 -1.1 1.1 -1.1 1.1 -1.1 1 -1 1 -1 0.9 -1 0.8 -1 0.8 -0.9 0.6 -0.9 0.7 -0.9 0.5 -0.9 0.4 -0.8 0.3 -0.9 0.1 -0.9 0 -0.9 -0.1 -0.8 -0.3 -0.9 -0.4 -0.9 -0.5 -0.9 -0.7 -0.9 -0.8 -0.8 -0.9 -0.9 -1.1 -0.9 -1.1 -0.9 -1.3 -0.9 -1.4 -0.8 -1.6 -0.8 -1.5 -0.8 -1.5 -0.7 -1.4 -0.6 -1.5 -0.5 -1.4 -0.5 -1.3 -0.4 -1.4 -0.3 -1.3 -0.2 -1.4 -0.2 -1.4 -0.1 -1.5 0 -1.5 0.1 -1.6 0.2 -1.7 0.2 -1.7 0.3 -1.7 0.3 -1.8 0.1 -1.8 0 -1.9 -0.1 -2 -0.3 -1.9 -0.3 -2 -0.4 -2.1 -0.6 -2 -0.1 -1.9 0.4 -1.6 0.9 -1.3 1.3 -1.1 1.8 -0.9 2.2 -0.6z" fill="#0000ff"/>
<path d="M255.4 1065.8l2.2 0 2 0.1 1.9 0.1 1.7 0.1 1.5 0.3 1.4 0.2 1.2 0.4 1 0.3 0.9 0.5 0.9 0.5 1 0.7 0.9 0.8 1 0.8 1 1 1.1 1.1 1 1.2 1.1 1.4 1.1 1.3 0.9 1.3 0.8 1.3 0.8 1.3 0.7 1.3 0.6 1.4 0.5 1.3 0.5 1.3 0.3 1.3 0.3 1.4 0.2 1.4 0.1 1.4 0 1.5 0 1.5 -0.2 1.5 -0.2 1.5 -0.3 1.6 -0.3 1.6 -0.4 1.6 -0.4 1.6 -0.5 1.7 -0.6 1.7 -0.6 1.8 -0.6 1.7 -0.7 1.8 -0.6 1.7 -0.7 1.8 -0.7 1.7 -0.6 1.8 -0.7 1.8 -0.6 1.7 -0.7 1.8 -0.6 1.7 -0.5 1.6 -0.5 1.6 -0.5 1.5 -0.4 1.5 -0.3 1.5 -0.3 1.3 -0.2 1.3 -0.3 1.3 -0.3 1.2 -0.4 1.2 -0.4 1.1 -0.5 1 -0.6 1 -0.6 0.9 -0.6 0.9 -0.8 0.8 -0.9 0.8 -1 0.7 -1.1 0.7 -1.2 0.6 -1.3 0.5 -1.4 0.5 -1.5 0.5 -1.6 0.4 -1.5 0.4 -1.6 0.3 -1.5 0.3 -1.5 0.3 -1.6 0.3 -1.5 0.3 -1.5 0.2 -1.6 0.2 -1.4 0.1 -1.5 0 -1.4 0 -1.4 0 -1.4 -0.1 -1.3 -0.2 -1.4 -0.2 -1.2 -0.4 -1.3 -0.5 -1.2 -0.6 -1.1 -0.8 -1.1 -0.9 -1.1 -1 -1 -1.2 -1 -1.3 -0.9 -1.4 -0.8 -1.4 -0.8 -1.5 -0.6 -1.6 -0.6 -1.5 -0.5 -1.7 -0.4 -1.7 -0.4 -1.7 -0.2 -1.8 -0.2 -1.6 -0.1 -1.6 -0.1 -1.5 0 -1.5 0.1 -1.4 0.2 -1.4 0.2 -1.3 0.3 -1.4 0.3 -1.3 0.4 -1.4 0.4 -1.5 0.5 -1.4 0.6 -1.5 0.6 -1.5 0.6 -1.6 0.7 -1.5 0.8 -1.6 0.8 -1.6 0.9 -1.7 0.9 -1.7 1 -1.7 1.1 -1.7 1.1 -1.7 1.1 -1.8 1.1 -1.7 1.1 -1.6 1.1 -1.7 1.1 -1.6 1.1 -1.6 1.1 -1.6 1 -1.5 1.1 -1.5 0.9 -1.6 0.8 -1.5 0.8 -1.6 0.7 -1.5 0.6 -1.5 0.5 -1.6 0.5 -1.5 0.6 -1.4 0.9 -1.1 1.1 -1 1.3 -0.7 1.6 -0.6 1.7 -0.4z" fill="#0000ff"/>
<g filter="url(#bl)">
<path d="M275.4 1108.9l-0.9 2.2 -0.9 2 -0.8 2 -0.9 2 -0.9 1.9 -0.9 1.9 -0.9 2 -0.9 2.2 -0.9 2.4 -1 2.8 -1.3 2.9 -1.9 2.5 -2.3 2 -2.8 1.5 -2.9 1.2 -3.1 1.1 -3.3 0.9 -3.5 0.7 -3.7 0.3 -3.7 -0.3 -3.4 -1.2 -3 -2.2 -2.4 -2.8 -1.7 -3.3 -1.1 -3.5 -0.6 -3.6 -0.1 -3.5 0.4 -3.3 0.6 -3.1 0.9 -2.8 0.9 -2.6 1 -2.3 1.1 -2.2 1 -1.9 1 -1.9 1.1 -1.7 1 -1.7 1.1 -1.6 1.1 -1.6 1.1 -1.7 1.2 -1.6 1.2 -1.7 1.4 -1.8 1.5 -2.1 1.7 -2.4 1.8 -3.2 2.4 -3.1 3 -2 3.3 -0.9 3.4 -0.4 3.5 0 3.4 0.6 3.2 1.5 2.8 2 2.4 2.5 1.9 2.9 1.4 3.2 0.9 3.3 0.2 3.3 -0.2 3.3 -0.5 3.1 -0.7 2.8 -0.8 2.6z" fill="#000eff"/>
<path d="M274.2 1108.9l-0.8 2.1 -0.9 1.9 -0.8 1.9 -0.9 1.8 -0.8 1.8 -0.9 1.8 -0.9 1.9 -0.9 1.9 -0.9 2.3 -1 2.5 -1.3 2.5 -1.7 2.3 -2.2 1.9 -2.5 1.4 -2.7 1.2 -2.9 1.1 -3.1 0.9 -3.3 0.8 -3.4 0.4 -3.5 -0.2 -3.4 -1.1 -2.9 -1.9 -2.3 -2.6 -1.7 -3.1 -1.1 -3.3 -0.5 -3.4 -0.1 -3.3 0.4 -3.2 0.6 -3 0.8 -2.7 0.9 -2.4 1 -2.2 0.9 -2.1 1 -1.9 1 -1.7 1 -1.7 1 -1.6 1 -1.5 1.1 -1.5 1.1 -1.6 1.1 -1.5 1.2 -1.6 1.4 -1.7 1.4 -1.9 1.6 -2.2 1.8 -2.8 2.2 -2.8 2.8 -1.9 3 -0.9 3.2 -0.5 3.4 -0.2 3.3 0.5 3.1 1.2 2.7 1.8 2.4 2.4 1.8 2.7 1.4 3 0.7 3.2 0.2 3.3 -0.2 3.1 -0.5 2.9 -0.7 2.7 -0.8 2.5z" fill="#0029ff"/>
<path d="M273.2 1108.9l-0.8 2 -0.9 1.8 -0.8 1.8 -0.8 1.7 -0.9 1.7 -0.8 1.7 -0.9 1.7 -0.9 1.8 -0.9 2 -1 2.3 -1.3 2.3 -1.6 2 -2 1.8 -2.3 1.4 -2.5 1.1 -2.7 1.1 -2.9 1 -3.1 0.8 -3.3 0.5 -3.3 -0.1 -3.2 -0.9 -2.8 -1.7 -2.3 -2.4 -1.7 -2.9 -1 -3.2 -0.5 -3.2 -0.1 -3.2 0.3 -3.1 0.6 -2.8 0.8 -2.6 0.9 -2.3 0.9 -2.1 0.9 -2 1 -1.8 0.9 -1.7 1 -1.6 0.9 -1.5 1 -1.5 1 -1.4 1.1 -1.5 1.1 -1.4 1.2 -1.6 1.2 -1.5 1.4 -1.8 1.5 -2 1.8 -2.5 2.1 -2.5 2.6 -1.7 2.8 -1 3.1 -0.6 3.1 -0.3 3.2 0.4 3 1 2.7 1.6 2.3 2.2 1.8 2.6 1.3 2.9 0.7 3.1 0.2 3.1 -0.3 3 -0.5 2.9 -0.7 2.5 -0.7 2.4z" fill="#0045ff"/>
<path d="M272.3 1108.9l-0.8 1.9 -0.8 1.7 -0.9 1.7 -0.8 1.7 -0.8 1.5 -0.9 1.6 -0.9 1.6 -0.9 1.7 -0.9 1.8 -1 2 -1.2 2.1 -1.5 1.8 -1.9 1.6 -2.1 1.4 -2.3 1.2 -2.5 1.1 -2.7 1 -2.9 0.8 -3.1 0.6 -3.2 0 -3.1 -0.7 -2.8 -1.6 -2.2 -2.2 -1.7 -2.7 -1 -3 -0.5 -3.2 0 -3 0.3 -3 0.6 -2.7 0.7 -2.5 0.8 -2.2 0.9 -2 0.9 -1.9 0.9 -1.7 0.9 -1.7 1 -1.5 0.9 -1.4 0.9 -1.4 1 -1.4 1 -1.4 1.1 -1.4 1.1 -1.4 1.3 -1.5 1.3 -1.6 1.5 -1.9 1.7 -2.2 2 -2.2 2.4 -1.6 2.7 -1 2.8 -0.7 3.1 -0.4 3 0.2 3 0.8 2.6 1.5 2.3 2 1.7 2.5 1.2 2.9 0.7 2.9 0.1 3.1 -0.3 2.8 -0.5 2.7 -0.6 2.5 -0.8 2.3z" fill="#0060ff"/>
<path d="M271.4 1108.9l-0.8 1.8 -0.8 1.7 -0.8 1.6 -0.8 1.5 -0.8 1.5 -0.9 1.5 -0.8 1.5 -0.9 1.5 -1 1.7 -1 1.7 -1.1 1.9 -1.5 1.7 -1.7 1.4 -1.9 1.4 -2.2 1.1 -2.3 1.2 -2.5 1 -2.8 0.9 -3 0.6 -3 0.1 -3 -0.6 -2.7 -1.4 -2.2 -2 -1.6 -2.6 -1 -2.8 -0.5 -3.1 0 -2.9 0.3 -2.8 0.5 -2.6 0.8 -2.4 0.8 -2.2 0.8 -1.9 0.9 -1.8 0.8 -1.7 0.9 -1.5 0.9 -1.5 0.9 -1.4 0.9 -1.4 1 -1.3 0.9 -1.3 1.1 -1.3 1.1 -1.4 1.2 -1.4 1.3 -1.5 1.4 -1.6 1.6 -2 1.9 -2 2.3 -1.5 2.5 -1 2.7 -0.8 2.9 -0.4 3 0 2.8 0.7 2.7 1.3 2.2 1.9 1.7 2.4 1.1 2.7 0.6 2.9 0.1 2.9 -0.3 2.8 -0.5 2.6 -0.6 2.4 -0.8 2.2z" fill="#0080ff"/>
<path d="M270.6 1108.9l-0.7 1.7 -0.8 1.6 -0.8 1.6 -0.8 1.4 -0.9 1.4 -0.8 1.4 -0.9 1.4 -0.9 1.4 -0.9 1.5 -1 1.5 -1.1 1.6 -1.4 1.6 -1.6 1.4 -1.8 1.2 -1.9 1.2 -2.2 1.1 -2.4 1.1 -2.6 0.9 -2.8 0.7 -2.9 0.2 -2.9 -0.5 -2.6 -1.2 -2.2 -1.8 -1.6 -2.5 -1 -2.7 -0.5 -2.9 0 -2.9 0.3 -2.7 0.6 -2.5 0.7 -2.3 0.7 -2.1 0.8 -1.8 0.8 -1.8 0.9 -1.6 0.8 -1.5 0.9 -1.4 0.9 -1.3 0.9 -1.3 0.9 -1.3 0.9 -1.2 1 -1.3 1.1 -1.3 1.2 -1.3 1.2 -1.3 1.4 -1.6 1.6 -1.7 1.8 -1.7 2.1 -1.4 2.4 -1.1 2.5 -0.8 2.8 -0.6 2.9 -0.1 2.8 0.6 2.5 1.1 2.2 1.8 1.7 2.3 1 2.6 0.6 2.9 0.1 2.8 -0.3 2.7 -0.5 2.5 -0.7 2.3 -0.7 2.1z" fill="#00a4ff"/>
<path d="M269.9 1108.9l-0.8 1.6 -0.8 1.6 -0.8 1.4 -0.8 1.4 -0.8 1.3 -0.8 1.3 -0.9 1.3 -0.9 1.3 -0.9 1.3 -1 1.4 -1.1 1.4 -1.3 1.4 -1.4 1.3 -1.7 1.2 -1.8 1.2 -2 1.1 -2.2 1.1 -2.5 1 -2.7 0.6 -2.8 0.3 -2.8 -0.3 -2.5 -1 -2.1 -1.7 -1.6 -2.3 -1 -2.7 -0.5 -2.7 0 -2.8 0.3 -2.6 0.5 -2.4 0.7 -2.2 0.7 -2 0.8 -1.8 0.8 -1.7 0.8 -1.5 0.8 -1.5 0.9 -1.3 0.8 -1.3 0.9 -1.3 0.9 -1.2 0.9 -1.2 1 -1.2 1 -1.2 1.1 -1.2 1.2 -1.3 1.4 -1.3 1.5 -1.5 1.7 -1.5 2 -1.3 2.2 -1.1 2.5 -0.9 2.6 -0.7 2.8 -0.2 2.7 0.4 2.5 1 2.2 1.7 1.6 2.2 1 2.5 0.5 2.8 0.1 2.7 -0.3 2.6 -0.5 2.4 -0.7 2.2 -0.7 2z" fill="#00c9ff"/>
<path d="M269.2 1108.9l-0.8 1.6 -0.8 1.4 -0.7 1.4 -0.8 1.3 -0.8 1.3 -0.9 1.2 -0.8 1.2 -0.9 1.1 -0.9 1.2 -1 1.2 -1.1 1.2 -1.2 1.2 -1.4 1.2 -1.5 1.2 -1.6 1.2 -1.9 1.2 -2.1 1.1 -2.3 1 -2.6 0.7 -2.6 0.3 -2.7 -0.2 -2.5 -0.8 -2.1 -1.6 -1.6 -2.2 -1 -2.5 -0.4 -2.6 0 -2.7 0.3 -2.5 0.5 -2.3 0.6 -2.2 0.7 -1.9 0.8 -1.7 0.7 -1.6 0.8 -1.5 0.8 -1.4 0.8 -1.3 0.8 -1.2 0.8 -1.2 0.9 -1.2 0.9 -1.1 1 -1.2 1 -1.1 1.1 -1.2 1.1 -1.1 1.3 -1.3 1.5 -1.2 1.6 -1.3 1.9 -1.2 2.1 -1.1 2.3 -1 2.5 -0.7 2.7 -0.4 2.7 0.3 2.5 0.8 2.1 1.6 1.6 2.1 0.9 2.5 0.5 2.7 0 2.6 -0.3 2.5 -0.5 2.4 -0.6 2.1 -0.7 1.9z" fill="#00edff"/>
<path d="M268.4 1108.9l-0.8 1.5 -0.7 1.4 -0.8 1.3 -0.7 1.3 -0.8 1.1 -0.8 1.2 -0.8 1.1 -0.9 1.1 -0.9 1 -1 1.1 -1 1.1 -1.2 1.1 -1.2 1.1 -1.4 1.2 -1.6 1.1 -1.7 1.2 -2 1.1 -2.2 1 -2.4 0.7 -2.6 0.4 -2.6 -0.2 -2.4 -0.7 -2 -1.5 -1.5 -2 -0.9 -2.4 -0.5 -2.6 0 -2.6 0.3 -2.4 0.5 -2.2 0.6 -2 0.7 -1.9 0.7 -1.6 0.8 -1.6 0.7 -1.4 0.8 -1.3 0.7 -1.2 0.8 -1.2 0.8 -1.2 0.8 -1.1 0.9 -1 0.9 -1.1 1 -1.1 1 -1.1 1.2 -1.1 1.2 -1.1 1.4 -1.2 1.5 -1.1 1.8 -1.2 2 -1.1 2.2 -0.9 2.4 -0.8 2.6 -0.4 2.6 0.2 2.4 0.7 2 1.5 1.5 2 0.9 2.5 0.4 2.5 0 2.6 -0.3 2.4 -0.4 2.2 -0.6 2 -0.7 1.9z" fill="#00ffe6"/>
<path d="M267.5 1108.9l-0.7 1.4 -0.7 1.3 -0.7 1.3 -0.8 1.1 -0.7 1.2 -0.8 1 -0.7 1.1 -0.9 1 -0.8 1 -0.9 1 -1 1.1 -1.1 1 -1.2 1.1 -1.3 1.1 -1.4 1.1 -1.7 1.1 -1.9 1 -2.1 1 -2.3 0.7 -2.4 0.4 -2.5 -0.1 -2.3 -0.8 -1.9 -1.4 -1.4 -1.9 -0.9 -2.3 -0.4 -2.5 0 -2.4 0.3 -2.3 0.5 -2.1 0.6 -1.9 0.6 -1.8 0.7 -1.5 0.7 -1.5 0.7 -1.3 0.7 -1.3 0.8 -1.1 0.7 -1.2 0.8 -1 0.7 -1.1 0.8 -1 0.9 -1 0.9 -1 1 -1.1 1.1 -1 1.2 -1.1 1.3 -1.1 1.4 -1.1 1.7 -1.1 1.9 -1 2.1 -1 2.3 -0.7 2.4 -0.4 2.5 0.1 2.3 0.8 1.9 1.4 1.4 1.9 0.9 2.3 0.4 2.5 0 2.4 -0.3 2.3 -0.5 2.1 -0.6 1.9 -0.6 1.8z" fill="#00ffb3"/>
<path d="M266.6 1108.9l-0.7 1.3 -0.6 1.3 -0.7 1.1 -0.7 1.1 -0.7 1.1 -0.7 1 -0.7 1 -0.8 1 -0.8 0.9 -0.9 1 -0.9 1 -1 0.9 -1.1 1.1 -1.3 1 -1.3 1 -1.6 1.1 -1.8 1 -2 0.9 -2.1 0.7 -2.4 0.4 -2.3 -0.1 -2.2 -0.7 -1.8 -1.3 -1.4 -1.9 -0.8 -2.2 -0.3 -2.3 0 -2.3 0.3 -2.2 0.5 -2 0.5 -1.8 0.7 -1.7 0.6 -1.4 0.7 -1.4 0.6 -1.3 0.7 -1.1 0.7 -1.1 0.7 -1.1 0.7 -1 0.7 -1 0.8 -0.9 0.8 -1 0.9 -1 0.9 -0.9 1 -1 1.1 -1 1.2 -1.1 1.4 -1 1.6 -1.1 1.8 -1 2 -0.9 2.1 -0.7 2.4 -0.4 2.3 0.1 2.2 0.7 1.8 1.3 1.4 1.9 0.8 2.2 0.3 2.3 0 2.3 -0.3 2.2 -0.5 2 -0.6 1.8 -0.6 1.7z" fill="#00ff80"/>
<path d="M265.7 1108.9l-0.6 1.2 -0.7 1.2 -0.6 1.1 -0.6 1 -0.7 1 -0.6 1 -0.7 0.9 -0.8 0.9 -0.7 0.9 -0.8 0.9 -0.9 0.9 -0.9 1 -1.1 0.9 -1.1 1 -1.3 1 -1.5 1 -1.7 1 -1.8 0.9 -2.1 0.7 -2.2 0.4 -2.3 -0.1 -2 -0.7 -1.8 -1.3 -1.2 -1.7 -0.8 -2.1 -0.2 -2.3 0 -2.1 0.3 -2.1 0.5 -1.9 0.5 -1.7 0.6 -1.5 0.6 -1.4 0.6 -1.3 0.6 -1.2 0.7 -1.1 0.6 -1 0.7 -1 0.6 -1 0.7 -0.9 0.7 -0.9 0.8 -0.9 0.8 -0.9 0.9 -0.9 0.9 -1 1.1 -0.9 1.1 -1 1.3 -1 1.5 -1 1.7 -1 1.8 -0.9 2.1 -0.7 2.2 -0.3 2.3 0 2 0.7 1.8 1.3 1.2 1.7 0.8 2.1 0.2 2.3 0 2.2 -0.3 2 -0.5 1.9 -0.5 1.7 -0.6 1.6z" fill="#00ff47"/>
<path d="M264.8 1108.9l-0.6 1.1 -0.6 1.1 -0.6 1.1 -0.6 0.9 -0.6 1 -0.6 0.8 -0.6 0.9 -0.7 0.9 -0.7 0.8 -0.8 0.8 -0.8 0.9 -0.8 0.9 -1 0.9 -1.1 0.9 -1.2 1 -1.4 0.9 -1.6 1 -1.7 0.8 -2 0.7 -2.1 0.4 -2.1 -0.1 -2 -0.6 -1.6 -1.2 -1.2 -1.7 -0.6 -2 -0.3 -2.1 0.1 -2.1 0.3 -1.9 0.4 -1.8 0.6 -1.6 0.5 -1.4 0.6 -1.3 0.6 -1.2 0.6 -1.1 0.6 -1.1 0.6 -0.9 0.6 -0.9 0.6 -0.9 0.6 -0.9 0.7 -0.8 0.7 -0.9 0.8 -0.8 0.8 -0.9 0.8 -0.9 1 -0.9 1.1 -0.9 1.2 -1 1.4 -0.9 1.6 -0.9 1.7 -0.9 2 -0.7 2.1 -0.4 2.1 0.1 2 0.6 1.6 1.2 1.1 1.7 0.7 2 0.3 2.1 -0.1 2.1 -0.3 1.9 -0.4 1.8 -0.6 1.6 -0.5 1.4z" fill="#00ff0e"/>
<path d="M263.9 1108.9l-0.5 1.1 -0.6 1 -0.5 0.9 -0.6 0.9 -0.6 0.9 -0.5 0.8 -0.6 0.8 -0.7 0.8 -0.6 0.8 -0.7 0.8 -0.8 0.8 -0.8 0.8 -0.9 0.9 -1 0.8 -1.1 0.9 -1.3 0.9 -1.5 0.9 -1.6 0.8 -1.9 0.7 -1.9 0.4 -2 0 -1.9 -0.6 -1.5 -1.2 -1.1 -1.6 -0.6 -1.9 -0.2 -2 0.1 -1.9 0.3 -1.8 0.4 -1.7 0.5 -1.5 0.5 -1.3 0.6 -1.2 0.5 -1.2 0.6 -1 0.5 -0.9 0.6 -0.9 0.6 -0.9 0.5 -0.8 0.6 -0.8 0.6 -0.8 0.7 -0.8 0.7 -0.8 0.7 -0.8 0.9 -0.8 0.9 -0.9 1 -0.8 1.1 -0.9 1.3 -0.9 1.5 -0.9 1.6 -0.8 1.9 -0.7 1.9 -0.4 2 0.1 1.9 0.5 1.5 1.2 1.1 1.6 0.6 1.9 0.2 2 -0.1 1.9 -0.3 1.8 -0.4 1.7 -0.5 1.5 -0.5 1.3z" fill="#26ff00"/>
<path d="M263 1108.9l-0.5 1 -0.5 0.9 -0.5 0.9 -0.5 0.8 -0.5 0.8 -0.6 0.8 -0.5 0.7 -0.6 0.8 -0.6 0.7 -0.6 0.7 -0.7 0.8 -0.8 0.7 -0.8 0.8 -1 0.8 -1 0.9 -1.2 0.8 -1.4 0.9 -1.5 0.8 -1.7 0.6 -1.9 0.4 -1.9 0 -1.7 -0.5 -1.4 -1.1 -1 -1.5 -0.6 -1.8 -0.1 -1.9 0.1 -1.8 0.3 -1.7 0.4 -1.6 0.5 -1.4 0.5 -1.2 0.5 -1.1 0.5 -1.1 0.5 -0.9 0.5 -0.9 0.5 -0.8 0.5 -0.8 0.6 -0.8 0.5 -0.7 0.6 -0.7 0.6 -0.8 0.6 -0.7 0.7 -0.8 0.8 -0.7 0.8 -0.8 1 -0.8 1 -0.9 1.2 -0.8 1.4 -0.9 1.5 -0.8 1.7 -0.6 1.9 -0.4 1.9 0 1.7 0.5 1.4 1.1 1 1.5 0.6 1.8 0.1 1.9 -0.1 1.8 -0.3 1.7 -0.4 1.6 -0.5 1.4 -0.5 1.2z" fill="#59ff00"/>
<path d="M262.1 1108.9l-0.4 0.9 -0.5 0.9 -0.5 0.8 -0.5 0.7 -0.4 0.8 -0.5 0.6 -0.5 0.7 -0.6 0.7 -0.5 0.7 -0.6 0.7 -0.6 0.6 -0.7 0.8 -0.8 0.7 -0.8 0.8 -1 0.7 -1.1 0.9 -1.3 0.8 -1.4 0.7 -1.6 0.6 -1.7 0.4 -1.8 0 -1.6 -0.4 -1.3 -1.1 -1 -1.4 -0.4 -1.7 -0.2 -1.8 0.2 -1.7 0.3 -1.5 0.4 -1.5 0.4 -1.3 0.5 -1.1 0.5 -1 0.4 -1 0.5 -0.9 0.5 -0.8 0.5 -0.7 0.4 -0.7 0.5 -0.7 0.5 -0.7 0.5 -0.7 0.6 -0.7 0.6 -0.6 0.6 -0.7 0.7 -0.8 0.8 -0.7 0.8 -0.8 1 -0.7 1.1 -0.8 1.3 -0.9 1.4 -0.7 1.6 -0.6 1.7 -0.4 1.8 0 1.6 0.5 1.3 1 1 1.4 0.4 1.7 0.2 1.8 -0.2 1.7 -0.3 1.6 -0.4 1.4 -0.4 1.3 -0.5 1.1z" fill="#8cff00"/>
<path d="M261.3 1108.9l-0.5 0.8 -0.4 0.8 -0.5 0.7 -0.4 0.7 -0.4 0.7 -0.5 0.6 -0.4 0.6 -0.5 0.7 -0.5 0.6 -0.5 0.6 -0.6 0.6 -0.6 0.7 -0.7 0.7 -0.8 0.7 -0.9 0.7 -1 0.8 -1.2 0.7 -1.3 0.8 -1.5 0.6 -1.6 0.4 -1.6 0 -1.5 -0.5 -1.3 -0.9 -0.8 -1.4 -0.4 -1.5 -0.1 -1.7 0.2 -1.6 0.3 -1.5 0.3 -1.3 0.5 -1.1 0.4 -1.1 0.4 -0.9 0.5 -0.9 0.4 -0.8 0.5 -0.7 0.4 -0.7 0.4 -0.7 0.5 -0.6 0.4 -0.6 0.5 -0.6 0.5 -0.7 0.5 -0.6 0.6 -0.6 0.6 -0.7 0.7 -0.7 0.8 -0.7 0.9 -0.7 1 -0.8 1.2 -0.7 1.3 -0.7 1.5 -0.7 1.6 -0.3 1.6 -0.1 1.5 0.5 1.3 0.9 0.8 1.4 0.4 1.6 0.1 1.6 -0.2 1.6 -0.3 1.5 -0.3 1.3 -0.5 1.2 -0.4 1z" fill="#bfff00"/>
<path d="M260.4 1108.9l-0.4 0.7 -0.4 0.7 -0.4 0.7 -0.4 0.6 -0.4 0.6 -0.4 0.6 -0.4 0.5 -0.5 0.6 -0.4 0.6 -0.5 0.5 -0.5 0.6 -0.6 0.6 -0.6 0.6 -0.7 0.7 -0.8 0.7 -0.9 0.7 -1.1 0.7 -1.2 0.7 -1.4 0.6 -1.4 0.4 -1.6 0 -1.4 -0.4 -1.1 -0.9 -0.7 -1.2 -0.4 -1.5 0 -1.5 0.1 -1.5 0.3 -1.4 0.4 -1.2 0.4 -1 0.4 -1 0.4 -0.8 0.4 -0.8 0.4 -0.7 0.4 -0.7 0.4 -0.6 0.4 -0.6 0.4 -0.6 0.4 -0.5 0.4 -0.6 0.5 -0.6 0.5 -0.5 0.5 -0.6 0.6 -0.6 0.6 -0.6 0.7 -0.7 0.8 -0.7 0.9 -0.7 1.1 -0.7 1.2 -0.7 1.3 -0.6 1.5 -0.4 1.6 0 1.4 0.4 1.1 0.9 0.7 1.2 0.4 1.5 0 1.6 -0.2 1.4 -0.3 1.4 -0.3 1.2 -0.4 1 -0.4 1z" fill="#f2ff00"/>
<path d="M259.5 1108.9l-0.3 0.7 -0.4 0.6 -0.4 0.6 -0.3 0.5 -0.4 0.6 -0.3 0.5 -0.4 0.5 -0.4 0.5 -0.4 0.5 -0.4 0.5 -0.5 0.5 -0.5 0.6 -0.5 0.5 -0.7 0.6 -0.7 0.7 -0.8 0.6 -1 0.7 -1.1 0.6 -1.2 0.6 -1.4 0.3 -1.4 0.1 -1.2 -0.4 -1.1 -0.8 -0.6 -1.1 -0.3 -1.4 0 -1.4 0.1 -1.3 0.3 -1.3 0.4 -1.1 0.3 -0.9 0.4 -0.9 0.4 -0.7 0.3 -0.7 0.4 -0.7 0.3 -0.6 0.4 -0.5 0.4 -0.6 0.3 -0.5 0.4 -0.5 0.4 -0.5 0.4 -0.5 0.4 -0.5 0.5 -0.5 0.5 -0.6 0.5 -0.5 0.7 -0.6 0.7 -0.6 0.8 -0.7 1 -0.7 1.1 -0.6 1.2 -0.6 1.4 -0.3 1.4 -0.1 1.2 0.4 1.1 0.8 0.6 1.1 0.3 1.4 0 1.4 -0.1 1.4 -0.3 1.2 -0.4 1.1 -0.3 0.9 -0.4 0.9z" fill="#ffd600"/>
<path d="M258.4 1108.9l-0.4 0.5 -0.3 0.6 -0.3 0.5 -0.3 0.4 -0.2 0.5 -0.4 0.4 -0.3 0.5 -0.3 0.4 -0.3 0.4 -0.4 0.4 -0.4 0.5 -0.4 0.4 -0.5 0.5 -0.5 0.5 -0.6 0.5 -0.7 0.6 -0.8 0.5 -0.9 0.6 -1.1 0.4 -1.1 0.4 -1.2 0 -1.1 -0.3 -0.8 -0.7 -0.6 -1 -0.3 -1.1 0 -1.2 0.2 -1.1 0.2 -1 0.3 -1 0.3 -0.8 0.3 -0.7 0.3 -0.6 0.3 -0.6 0.4 -0.6 0.2 -0.5 0.3 -0.4 0.3 -0.5 0.3 -0.4 0.4 -0.4 0.3 -0.5 0.3 -0.4 0.4 -0.4 0.4 -0.5 0.4 -0.4 0.5 -0.5 0.5 -0.5 0.6 -0.5 0.7 -0.6 0.8 -0.5 0.9 -0.6 1.1 -0.4 1.1 -0.3 1.2 -0.1 1.1 0.3 0.8 0.7 0.6 1 0.3 1.1 0 1.2 -0.2 1.1 -0.2 1.1 -0.3 0.9 -0.3 0.8 -0.3 0.7z" fill="#ff9700"/>
<path d="M257.2 1108.9l-0.3 0.4 -0.2 0.5 -0.3 0.4 -0.2 0.4 -0.2 0.3 -0.3 0.4 -0.2 0.3 -0.3 0.4 -0.3 0.3 -0.3 0.4 -0.3 0.3 -0.3 0.4 -0.4 0.4 -0.4 0.4 -0.5 0.4 -0.6 0.5 -0.7 0.4 -0.7 0.4 -0.9 0.4 -0.9 0.3 -1 0 -0.8 -0.2 -0.7 -0.6 -0.5 -0.8 -0.2 -0.9 0 -1 0.1 -0.9 0.2 -0.8 0.3 -0.8 0.2 -0.6 0.3 -0.6 0.2 -0.5 0.3 -0.5 0.2 -0.5 0.3 -0.4 0.2 -0.3 0.2 -0.4 0.3 -0.4 0.2 -0.3 0.3 -0.3 0.3 -0.4 0.3 -0.3 0.3 -0.4 0.3 -0.4 0.4 -0.4 0.4 -0.4 0.5 -0.4 0.6 -0.4 0.7 -0.5 0.7 -0.4 0.9 -0.4 0.9 -0.3 0.9 0 0.9 0.2 0.7 0.6 0.5 0.8 0.2 0.9 0 1 -0.1 0.9 -0.2 0.8 -0.3 0.8 -0.2 0.6 -0.3 0.6z" fill="#ff5e00"/>
<path d="M256 1108.9l-0.2 0.3 -0.2 0.4 -0.2 0.3 -0.1 0.3 -0.2 0.2 -0.2 0.3 -0.2 0.3 -0.2 0.2 -0.2 0.3 -0.3 0.3 -0.2 0.3 -0.3 0.2 -0.3 0.3 -0.3 0.3 -0.4 0.4 -0.4 0.3 -0.5 0.4 -0.6 0.3 -0.6 0.3 -0.8 0.2 -0.7 0 -0.7 -0.2 -0.5 -0.4 -0.3 -0.6 -0.2 -0.7 0 -0.8 0.1 -0.7 0.1 -0.6 0.2 -0.6 0.2 -0.5 0.2 -0.4 0.2 -0.4 0.2 -0.4 0.2 -0.3 0.2 -0.4 0.1 -0.3 0.2 -0.2 0.2 -0.3 0.2 -0.3 0.2 -0.2 0.2 -0.3 0.2 -0.3 0.3 -0.2 0.3 -0.3 0.3 -0.3 0.3 -0.3 0.4 -0.4 0.4 -0.3 0.5 -0.4 0.6 -0.3 0.6 -0.3 0.8 -0.2 0.7 0 0.7 0.2 0.5 0.4 0.3 0.6 0.2 0.7 0 0.8 -0.1 0.7 -0.1 0.6 -0.2 0.6 -0.2 0.5 -0.2 0.5z" fill="#ff2f00"/>
<path d="M254.8 1108.9l-0.1 0.2 -0.1 0.2 -0.2 0.3 -0.1 0.2 -0.1 0.2 -0.2 0.2 -0.1 0.1 -0.1 0.2 -0.2 0.2 -0.1 0.2 -0.2 0.2 -0.2 0.2 -0.2 0.2 -0.2 0.2 -0.3 0.3 -0.3 0.2 -0.4 0.2 -0.4 0.3 -0.4 0.2 -0.5 0.1 -0.5 0 -0.5 -0.1 -0.4 -0.3 -0.2 -0.4 -0.1 -0.5 0 -0.5 0 -0.5 0.1 -0.5 0.2 -0.4 0.1 -0.3 0.1 -0.4 0.2 -0.2 0.1 -0.3 0.1 -0.2 0.2 -0.3 0.1 -0.2 0.1 -0.2 0.2 -0.1 0.1 -0.2 0.1 -0.2 0.2 -0.2 0.1 -0.2 0.2 -0.2 0.2 -0.2 0.2 -0.2 0.2 -0.2 0.3 -0.2 0.3 -0.3 0.4 -0.2 0.4 -0.3 0.4 -0.2 0.5 -0.1 0.5 0 0.5 0.1 0.4 0.3 0.2 0.4 0.1 0.5 0 0.6 0 0.4 -0.1 0.5 -0.2 0.4 -0.1 0.4 -0.1 0.3z" fill="#ff0000"/>
</g>
<g filter="url(#bl)">
<path d="M273.2 1165.1l-1.1 2.9 -1.2 2.6 -1.3 2.5 -1.5 2.3 -1.5 2.4 -1.5 2.8 -1.7 3.2 -2.3 3.6 -3.1 3.9 -4.1 4 -5.2 2.6 -5.3 -0.6 -4.2 -3.5 -2.9 -4.5 -2.1 -4.5 -1.4 -4.4 -0.6 -4.3 0 -4 0.5 -3.7 0.3 -3.3 -0.1 -3.4 -0.6 -3.6 -0.3 -4.2 1.4 -3.7 3.3 -2.3 4.1 -0.8 3.8 -0.3 3.3 -0.2 3 -0.2 3 -0.4 3.1 -0.6 3.5 -0.7 4 -0.6 4.1 0.6 3.2 2.5 1.8 3.5 0.9 3.8 0.1 3.8 -0.6 3.6z" fill="#000fff"/>
<path d="M272.2 1165.1l-1 2.7 -1.1 2.5 -1.3 2.4 -1.4 2.2 -1.4 2.3 -1.5 2.6 -1.6 3 -2.1 3.5 -3 3.7 -3.9 3.7 -5 2.6 -5 -0.6 -3.9 -3.4 -2.8 -4.2 -2 -4.3 -1.4 -4.2 -0.6 -4 0.1 -3.9 0.4 -3.4 0.3 -3.2 -0.1 -3.2 -0.5 -3.5 -0.3 -3.9 1.3 -3.6 3.2 -2.1 3.8 -0.8 3.6 -0.3 3.2 -0.1 2.8 -0.3 2.9 -0.4 2.9 -0.5 3.3 -0.7 3.9 -0.5 3.9 0.5 3 2.4 1.7 3.3 0.9 3.7 0 3.6 -0.5 3.3z" fill="#001dff"/>
<path d="M271.1 1165.1l-0.9 2.6 -1.1 2.3 -1.2 2.2 -1.3 2.1 -1.3 2.2 -1.4 2.4 -1.5 2.9 -2.1 3.2 -2.7 3.5 -3.7 3.5 -4.7 2.4 -4.7 -0.6 -3.7 -3.1 -2.6 -4 -1.9 -4.1 -1.3 -3.9 -0.5 -3.8 0.1 -3.6 0.3 -3.2 0.3 -3 -0.1 -3 -0.5 -3.3 -0.3 -3.7 1.3 -3.3 2.9 -2 3.7 -0.8 3.4 -0.2 2.9 -0.2 2.7 -0.2 2.7 -0.4 2.7 -0.5 3.2 -0.6 3.6 -0.5 3.7 0.5 2.7 2.2 1.7 3.2 0.8 3.4 0.1 3.4 -0.5 3.1z" fill="#002cff"/>
<path d="M269.9 1165.1l-0.9 2.4 -1 2.2 -1.1 2 -1.2 2 -1.2 2 -1.3 2.2 -1.4 2.7 -1.9 3.1 -2.6 3.2 -3.4 3.2 -4.4 2.2 -4.3 -0.5 -3.5 -2.9 -2.4 -3.7 -1.8 -3.8 -1.2 -3.6 -0.5 -3.5 0.1 -3.4 0.3 -3 0.3 -2.8 -0.1 -2.8 -0.4 -3 -0.3 -3.5 1.1 -3.1 2.8 -1.9 3.4 -0.7 3.1 -0.2 2.8 -0.1 2.5 -0.3 2.5 -0.3 2.5 -0.4 3 -0.6 3.3 -0.5 3.4 0.5 2.6 2 1.6 2.9 0.7 3.2 0.1 3.2 -0.5 2.9z" fill="#003bff"/>
<path d="M268.6 1165.1l-0.8 2.2 -0.9 2 -1 1.9 -1.2 1.8 -1.1 1.8 -1.1 2.1 -1.4 2.5 -1.7 2.8 -2.4 2.9 -3.1 3 -4 2.1 -4.1 -0.5 -3.1 -2.7 -2.3 -3.4 -1.6 -3.5 -1.1 -3.3 -0.4 -3.3 0 -3.1 0.3 -2.8 0.3 -2.5 -0.1 -2.6 -0.4 -2.8 -0.3 -3.1 1.1 -2.9 2.5 -1.7 3.2 -0.7 2.8 -0.2 2.6 -0.1 2.3 -0.2 2.3 -0.3 2.3 -0.4 2.7 -0.6 3.1 -0.5 3.2 0.5 2.3 1.9 1.5 2.7 0.7 2.9 0 2.9 -0.4 2.7z" fill="#004aff"/>
<path d="M267.3 1165.1l-0.7 2 -0.9 1.8 -0.9 1.7 -1 1.7 -1.1 1.7 -1 1.8 -1.2 2.3 -1.6 2.5 -2.2 2.7 -2.8 2.7 -3.7 1.9 -3.6 -0.4 -2.9 -2.5 -2.1 -3.1 -1.4 -3.1 -1 -3.1 -0.4 -2.9 0 -2.8 0.3 -2.6 0.2 -2.3 0 -2.3 -0.4 -2.6 -0.2 -2.9 0.9 -2.6 2.3 -1.5 2.9 -0.6 2.6 -0.2 2.3 -0.1 2.1 -0.2 2.1 -0.3 2.1 -0.4 2.5 -0.5 2.8 -0.4 2.8 0.4 2.2 1.7 1.3 2.5 0.6 2.7 0.1 2.6 -0.4 2.5z" fill="#0058ff"/>
<path d="M265.9 1165.1l-0.7 1.8 -0.7 1.6 -0.9 1.6 -0.9 1.4 -0.9 1.5 -0.9 1.7 -1.1 2 -1.4 2.3 -2 2.4 -2.5 2.5 -3.3 1.6 -3.3 -0.4 -2.6 -2.2 -1.8 -2.8 -1.3 -2.8 -0.9 -2.7 -0.3 -2.6 0 -2.6 0.3 -2.2 0.1 -2.1 0 -2.1 -0.3 -2.3 -0.2 -2.6 0.8 -2.3 2.1 -1.4 2.5 -0.5 2.4 -0.2 2 -0.1 1.9 -0.2 1.9 -0.2 1.9 -0.3 2.2 -0.5 2.5 -0.4 2.6 0.4 1.9 1.5 1.2 2.2 0.5 2.4 0.1 2.4 -0.4 2.2z" fill="#0067ff"/>
<path d="M264.4 1165.1l-0.5 1.6 -0.7 1.4 -0.7 1.4 -0.8 1.2 -0.9 1.4 -0.8 1.5 -0.9 1.7 -1.3 2 -1.7 2.1 -2.2 2.2 -2.9 1.4 -2.9 -0.3 -2.3 -1.9 -1.6 -2.5 -1.1 -2.5 -0.8 -2.3 -0.3 -2.4 0 -2.2 0.3 -2 0.1 -1.8 0 -1.8 -0.3 -2.1 -0.2 -2.2 0.7 -2.1 1.9 -1.2 2.2 -0.5 2.1 -0.1 1.8 -0.1 1.6 -0.2 1.7 -0.2 1.7 -0.3 1.9 -0.4 2.2 -0.3 2.3 0.3 1.7 1.4 1 1.9 0.5 2.1 0 2.1 -0.3 1.9z" fill="#0078ff"/>
<path d="M262.9 1165.1l-0.5 1.3 -0.5 1.3 -0.7 1.1 -0.7 1.1 -0.6 1.2 -0.8 1.3 -0.8 1.5 -1 1.7 -1.5 1.8 -1.9 1.8 -2.5 1.3 -2.5 -0.3 -1.9 -1.6 -1.4 -2.2 -1 -2.1 -0.6 -2 -0.3 -2 0 -1.9 0.2 -1.7 0.1 -1.6 0 -1.6 -0.3 -1.7 -0.1 -2 0.6 -1.7 1.6 -1.1 1.9 -0.4 1.8 -0.1 1.5 -0.1 1.5 -0.1 1.4 -0.2 1.4 -0.2 1.7 -0.4 1.9 -0.3 1.9 0.3 1.5 1.2 0.8 1.6 0.5 1.8 0 1.8 -0.3 1.7z" fill="#008cff"/>
<path d="M261.4 1165.1l-0.4 1.1 -0.5 1 -0.5 1 -0.6 0.9 -0.6 1 -0.6 1 -0.6 1.3 -0.9 1.4 -1.2 1.5 -1.6 1.5 -2.1 1.1 -2 -0.3 -1.6 -1.3 -1.2 -1.8 -0.8 -1.8 -0.6 -1.7 -0.2 -1.6 0 -1.6 0.2 -1.4 0.1 -1.3 0 -1.3 -0.2 -1.5 -0.2 -1.6 0.6 -1.4 1.3 -0.9 1.6 -0.3 1.4 -0.1 1.3 -0.1 1.2 -0.1 1.2 -0.2 1.2 -0.2 1.3 -0.3 1.6 -0.2 1.6 0.2 1.2 1 0.8 1.4 0.3 1.5 0 1.4 -0.2 1.4z" fill="#009fff"/>
<path d="M259.8 1165.1l-0.3 0.9 -0.4 0.8 -0.4 0.7 -0.5 0.8 -0.4 0.7 -0.5 0.8 -0.5 1 -0.7 1.2 -1 1.2 -1.2 1.2 -1.6 0.8 -1.7 -0.2 -1.3 -1.1 -0.9 -1.4 -0.6 -1.4 -0.4 -1.3 -0.2 -1.3 0 -1.3 0.1 -1.1 0.1 -1 0 -1.1 -0.2 -1.1 -0.1 -1.3 0.4 -1.1 1.1 -0.7 1.2 -0.3 1.2 0 1 -0.1 0.9 -0.1 1 -0.1 0.9 -0.2 1.1 -0.2 1.2 -0.2 1.3 0.2 1 0.8 0.5 1 0.3 1.2 0 1.2 -0.1 1.1z" fill="#00b3ff"/>
<path d="M258.2 1165.1l-0.2 0.6 -0.3 0.6 -0.3 0.6 -0.3 0.5 -0.4 0.5 -0.3 0.7 -0.4 0.7 -0.5 0.8 -0.7 0.9 -0.9 0.8 -1.2 0.6 -1.2 -0.1 -0.9 -0.8 -0.7 -1 -0.5 -1 -0.3 -1 -0.1 -0.9 0 -1 0.1 -0.8 0.1 -0.7 -0.1 -0.8 -0.1 -0.8 0 -0.9 0.3 -0.9 0.7 -0.5 0.9 -0.2 0.9 0 0.7 -0.1 0.7 0 0.7 -0.1 0.7 -0.1 0.7 -0.2 1 -0.1 0.9 0.1 0.7 0.6 0.4 0.8 0.2 0.8 0 0.9 -0.1 0.8z" fill="#00c6ff"/>
<path d="M256.5 1165.1l-0.1 0.4 -0.2 0.3 -0.2 0.4 -0.2 0.3 -0.2 0.3 -0.2 0.4 -0.2 0.5 -0.3 0.5 -0.5 0.5 -0.5 0.6 -0.8 0.3 -0.7 0 -0.6 -0.5 -0.4 -0.7 -0.3 -0.6 -0.2 -0.6 -0.1 -0.6 0.1 -0.6 0 -0.5 0.1 -0.4 -0.1 -0.5 0 -0.5 -0.1 -0.6 0.2 -0.5 0.5 -0.3 0.5 -0.1 0.6 -0.1 0.4 0 0.4 0 0.5 -0.1 0.4 -0.1 0.5 -0.1 0.5 0 0.6 0 0.4 0.4 0.3 0.5 0.1 0.5 0 0.5 0 0.5z" fill="#00d9ff"/>
<path d="M254.9 1165.1l-0.1 0.1 -0.1 0.2 0 0.1 -0.1 0.1 -0.1 0.1 -0.1 0.2 -0.1 0.1 -0.1 0.2 -0.1 0.2 -0.2 0.2 -0.3 0.2 -0.3 -0.1 -0.2 -0.1 -0.2 -0.3 -0.1 -0.2 0 -0.2 -0.1 -0.3 0 -0.2 0.1 -0.2 0 -0.1 0 -0.2 -0.1 -0.2 0 -0.2 0.1 -0.2 0.2 -0.1 0.2 -0.1 0.2 0 0.1 0 0.2 0 0.2 0 0.1 0 0.2 -0.1 0.2 0 0.2 0 0.2 0.1 0.1 0.2 0 0.2 0 0.2 0 0.2z" fill="#00edff"/>
</g>
<ellipse cx="246.83" cy="1294.55" rx="4.57" ry="2.46" fill="#0000ff"/>
<g filter="url(#bl)">
<ellipse cx="246.83" cy="1294.55" rx="3.73" ry="2.01" fill="#0000ff"/>
<ellipse cx="246.83" cy="1294.55" rx="2.89" ry="1.55" fill="#0000ff"/>
<ellipse cx="246.83" cy="1294.55" rx="2.05" ry="1.1" fill="#0000ff"/>
<ellipse cx="246.83" cy="1294.55" rx="1.21" ry="0.65" fill="#0000ff"/>
<ellipse cx="246.83" cy="1294.55" rx="0.37" ry="0.2" fill="#0000ff"/>
</g>
</g>
<line x1="202.4" y1="1057.6" x2="202.4" y2="1293.5" stroke="#000" stroke-width="2.7"/>
<line x1="80.3" y1="1171.3" x2="317" y2="1171.3" stroke="#000" stroke-width="2.4"/>
<rect x="80.3" y="1057.6" width="236.7" height="235.9" fill="none" stroke="#000" stroke-width="2.6"/>
<path d="M72.2 1293.5L79.1 1293.5M72.2 1240.2L79.1 1240.2M72.2 1186.9L79.1 1186.9M72.2 1133.6L79.1 1133.6M72.2 1080.3L79.1 1080.3" stroke="#000" stroke-width="2.4" fill="none"/>
<path d="M74.7 1256.24L79.1 1256.24M74.7 1202.94L79.1 1202.94M74.7 1149.64L79.1 1149.64M74.7 1096.34L79.1 1096.34" stroke="#000" stroke-width="1.5" fill="none"/>
<path d="M76.7 1277.46L79.1 1277.46M76.7 1268.07L79.1 1268.07M76.7 1261.41L79.1 1261.41M76.7 1252.02L79.1 1252.02M76.7 1248.46L79.1 1248.46M76.7 1245.37L79.1 1245.37M76.7 1242.64L79.1 1242.64M76.7 1224.16L79.1 1224.16M76.7 1214.77L79.1 1214.77M76.7 1208.11L79.1 1208.11M76.7 1198.72L79.1 1198.72M76.7 1195.16L79.1 1195.16M76.7 1192.07L79.1 1192.07M76.7 1189.34L79.1 1189.34M76.7 1170.86L79.1 1170.86M76.7 1161.47L79.1 1161.47M76.7 1154.81L79.1 1154.81M76.7 1145.42L79.1 1145.42M76.7 1141.86L79.1 1141.86M76.7 1138.77L79.1 1138.77M76.7 1136.04L79.1 1136.04M76.7 1117.56L79.1 1117.56M76.7 1108.17L79.1 1108.17M76.7 1101.51L79.1 1101.51M76.7 1092.12L79.1 1092.12M76.7 1088.56L79.1 1088.56M76.7 1085.47L79.1 1085.47M76.7 1082.74L79.1 1082.74M76.7 1064.26L79.1 1064.26" stroke="#000" stroke-width="1.5" fill="none"/>
<path d="M80.7 1294.7L80.7 1301.9M133.5 1294.7L133.5 1301.9M186.3 1294.7L186.3 1301.9M239.1 1294.7L239.1 1301.9M291.9 1294.7L291.9 1301.9" stroke="#000" stroke-width="2.4" fill="none"/>
<path d="M117.61 1294.7L117.61 1299.5M170.41 1294.7L170.41 1299.5M223.21 1294.7L223.21 1299.5M276.01 1294.7L276.01 1299.5" stroke="#000" stroke-width="1.5" fill="none"/>
<path d="M96.59 1294.7L96.59 1297.3M105.89 1294.7L105.89 1297.3M112.49 1294.7L112.49 1297.3M121.79 1294.7L121.79 1297.3M125.32 1294.7L125.32 1297.3M128.38 1294.7L128.38 1297.3M131.08 1294.7L131.08 1297.3M149.39 1294.7L149.39 1297.3M158.69 1294.7L158.69 1297.3M165.29 1294.7L165.29 1297.3M174.59 1294.7L174.59 1297.3M178.12 1294.7L178.12 1297.3M181.18 1294.7L181.18 1297.3M183.88 1294.7L183.88 1297.3M202.19 1294.7L202.19 1297.3M211.49 1294.7L211.49 1297.3M218.09 1294.7L218.09 1297.3M227.39 1294.7L227.39 1297.3M230.92 1294.7L230.92 1297.3M233.98 1294.7L233.98 1297.3M236.68 1294.7L236.68 1297.3M254.99 1294.7L254.99 1297.3M264.29 1294.7L264.29 1297.3M270.89 1294.7L270.89 1297.3M280.19 1294.7L280.19 1297.3M283.72 1294.7L283.72 1297.3M286.78 1294.7L286.78 1297.3M289.48 1294.7L289.48 1297.3M307.79 1294.7L307.79 1297.3" stroke="#000" stroke-width="1.5" fill="none"/>
<text x="70.03" y="1326.4" font-size="22.2" textLength="24.69" lengthAdjust="spacing">10</text>
<text x="94.72" y="1315.86" font-size="13">0</text>
<text x="119.03" y="1326.4" font-size="22.2" textLength="24.69" lengthAdjust="spacing">10</text>
<text x="143.27" y="1315.86" font-size="13">1</text>
<text x="170.14" y="1326.4" font-size="22.2" textLength="24.69" lengthAdjust="spacing">10</text>
<text x="194.69" y="1315.86" font-size="13">2</text>
<text x="222.64" y="1326.4" font-size="22.2" textLength="24.69" lengthAdjust="spacing">10</text>
<text x="247.36" y="1315.86" font-size="13">3</text>
<text x="278.13" y="1326.4" font-size="22.2" textLength="24.69" lengthAdjust="spacing">10</text>
<text x="303.05" y="1315.86" font-size="13">4</text>
<text x="36.94" y="1300.4" font-size="22.2" textLength="24.69" lengthAdjust="spacing">10</text>
<text x="61.62" y="1289.86" font-size="13">0</text>
<text x="36.94" y="1248.2" font-size="22.2" textLength="24.69" lengthAdjust="spacing">10</text>
<text x="61.17" y="1237.65" font-size="13">1</text>
<text x="36.94" y="1196.6" font-size="22.2" textLength="24.69" lengthAdjust="spacing">10</text>
<text x="61.49" y="1186.05" font-size="13">2</text>
<text x="36.94" y="1143.6" font-size="22.2" textLength="24.69" lengthAdjust="spacing">10</text>
<text x="61.66" y="1133.05" font-size="13">3</text>
<text x="36.94" y="1091.3" font-size="22.2" textLength="24.69" lengthAdjust="spacing">10</text>
<text x="61.85" y="1080.75" font-size="13">4</text>
<text x="84.22" y="1082.7" font-size="17" textLength="33.65" lengthAdjust="spacing">0.32</text>
<rect x="263.8" y="1061.6" width="33.2" height="30.4" fill="#fff" fill-opacity="0.74"/>
<text x="263.89" y="1082.7" font-size="17" textLength="33.55" lengthAdjust="spacing">95.6</text>
<text x="84.22" y="1279.3" font-size="17" textLength="41.99" lengthAdjust="spacing">0.051</text>
<text x="264.32" y="1279.3" font-size="17" textLength="33.04" lengthAdjust="spacing">4.00</text>
<!-- plot a3.2 -->
<clipPath id="cp21"><rect x="351.4" y="1057.6" width="235.4" height="235.9"/></clipPath>
<g clip-path="url(#cp21)">
<path d="M521.2 1057.9l10.6 0 7.6 0.3 4.9 0.5 2 0.9 -0.9 1.1 -1.2 1 -1.6 1.1 -1.8 1.1 -2.2 1.1 -2.9 0.9 -3.5 0.5 -4.2 0.3 -4.8 0 -4.1 -0.2 -3.3 -0.5 -2.5 -0.6 -1.7 -0.9 -1.6 -1 -1.3 -1.1 -1.1 -1.2 -0.9 -1.3 2 -1 4.8 -0.7z" fill="#0000ff"/>
<path d="M505.1 1142.2l5 -1.7 5.1 -1.6 5.2 -1.3 5.2 -1.1 5.3 -0.9 3.9 0.3 2.7 1.3 1.3 2.4 0 3.5 0.3 3.3 0.7 3.1 1 2.8 1.3 2.7 -0.7 2.3 -2.6 2 -4.6 1.6 -6.6 1.3 -5.7 0.9 -4.7 0.4 -3.8 0 -2.9 -0.4 -2.3 -0.8 -1.6 -1.1 -1 -1.4 -0.4 -1.8 -0.7 -1.9 -1.1 -2.2 -1.4 -2.4 -1.8 -2.7 -0.1 -2.4 1.6 -2.2z" fill="#0000ff"/>
<path d="M510.1 1147.6l2.9 -0.2 2.8 -0.3 2.6 -0.3 2.7 -0.5 2.5 -0.5 2.4 -0.5 2.4 -0.7 2.3 -0.7 2.2 -0.7 2 -0.6 1.9 -0.2 1.7 -0.1 1.5 0.3 1.4 0.4 1.2 0.7 1 1 0.9 1.2 0.8 1.2 0.8 1.3 0.7 1.2 0.6 1.3 0.5 1.3 0.5 1.2 0.5 1.4 0.4 1.3 0.2 1.3 0.2 1.4 0.1 1.4 0 1.4 -0.1 1.5 -0.2 1.5 -0.2 1.5 -0.4 1.5 -0.4 1.6 -0.5 1.6 -0.5 1.6 -0.5 1.6 -0.5 1.7 -0.6 1.7 -0.6 1.7 -0.7 1.8 -0.7 1.7 -0.6 1.7 -0.7 1.7 -0.6 1.6 -0.7 1.7 -0.6 1.6 -0.7 1.5 -0.7 1.6 -0.6 1.4 -0.8 1.5 -0.7 1.3 -0.8 1.4 -0.8 1.2 -0.8 1.2 -0.8 1.2 -0.9 1.1 -0.9 1 -1 1.1 -0.9 1 -1 1 -1 1 -1.1 0.9 -1 0.9 -1.1 0.9 -1.1 0.8 -1 0.8 -0.9 0.8 -0.9 0.8 -0.8 0.7 -0.8 0.6 -0.7 0.7 -0.6 0.6 -0.7 0.4 -0.7 0.3 -0.6 0.1 -0.7 -0.1 -0.6 -0.3 -0.7 -0.5 -0.7 -0.7 -0.6 -0.8 -0.7 -0.9 -0.6 -1 -0.7 -1.1 -0.7 -1.2 -0.6 -1.3 -0.7 -1.3 -0.6 -1.5 -0.7 -1.5 -0.6 -1.6 -0.7 -1.5 -0.6 -1.5 -0.6 -1.6 -0.6 -1.5 -0.6 -1.6 -0.5 -1.5 -0.6 -1.5 -0.5 -1.5 -0.4 -1.5 -0.5 -1.5 -0.3 -1.4 -0.4 -1.4 -0.3 -1.4 -0.3 -1.3 -0.2 -1.3 -0.1 -1.3 -0.1 -1.3 0 -1.2 0 -1.2 0.2 -1.2 0.2 -1.2 0.2 -1.1 0.3 -1.1 0.4 -1.1 0.4 -1.1 0.3 -1.1 0.5 -1.1 0.4 -1.1 0.4 -1.1 0.5 -1.1 0.5 -1.1 0.3 -1.1 0.2 -1.2 0 -1.3 -0.1 -1.3 -0.2 -1.4 -0.4 -1.4 -0.6 -1.5 -0.7 -1.5 -0.3 -1.4 0.2 -1.2 0.7 -1.1 1 -0.8 1.6 -0.8 1.9 -0.5z" fill="#0000ff"/>
<path d="M524.4 1065.8l2.4 0 2.3 0.1 2.1 0.2 1.9 0.2 1.7 0.3 1.6 0.4 1.5 0.5 1.2 0.6 1.1 0.7 1.1 0.7 1.1 0.8 1.1 0.9 1.1 1 1.1 1.1 1.1 1.2 1.1 1.2 1.1 1.3 1 1.3 1 1.3 0.8 1.4 0.8 1.3 0.7 1.3 0.7 1.3 0.5 1.3 0.5 1.4 0.4 1.3 0.3 1.5 0.2 1.4 0.1 1.6 0 1.6 0 1.6 -0.2 1.7 -0.3 1.8 -0.3 1.7 -0.4 1.8 -0.5 1.7 -0.6 1.8 -0.6 1.8 -0.8 1.7 -0.8 1.8 -0.9 1.7 -0.8 1.8 -0.8 1.7 -0.8 1.6 -0.8 1.7 -0.7 1.6 -0.7 1.6 -0.7 1.6 -0.7 1.5 -0.6 1.5 -0.5 1.4 -0.5 1.4 -0.5 1.3 -0.4 1.3 -0.3 1.2 -0.3 1.1 -0.2 1.1 -0.3 1.1 -0.3 1 -0.4 1 -0.4 1 -0.5 1 -0.6 0.9 -0.6 0.9 -0.6 0.9 -0.8 0.8 -0.9 0.8 -1 0.7 -1.1 0.7 -1.2 0.6 -1.3 0.5 -1.4 0.5 -1.5 0.5 -1.6 0.4 -1.5 0.4 -1.6 0.3 -1.5 0.3 -1.5 0.3 -1.6 0.3 -1.5 0.3 -1.5 0.2 -1.5 0.2 -1.4 0.1 -1.3 0.2 -1.2 0.1 -1.1 0.1 -1 0 -1 0.1 -0.9 0 -0.9 -0.2 -0.8 -0.2 -0.9 -0.3 -0.9 -0.4 -0.9 -0.6 -0.8 -0.7 -0.9 -0.7 -0.9 -0.9 -0.9 -0.9 -0.8 -0.9 -0.8 -1 -0.7 -1 -0.8 -1 -0.7 -1 -0.7 -1.1 -0.6 -1.1 -0.6 -1.2 -0.6 -1.2 -0.5 -1.2 -0.4 -1.4 -0.4 -1.3 -0.3 -1.5 -0.3 -1.4 -0.2 -1.6 -0.2 -1.5 0 -1.5 0 -1.6 0.1 -1.5 0.2 -1.6 0.3 -1.5 0.3 -1.5 0.5 -1.6 0.5 -1.5 0.5 -1.5 0.6 -1.6 0.7 -1.5 0.7 -1.6 0.8 -1.5 0.8 -1.5 0.9 -1.6 0.8 -1.5 0.9 -1.5 0.9 -1.4 0.9 -1.4 0.9 -1.4 0.8 -1.4 0.9 -1.4 0.9 -1.3 0.8 -1.3 0.8 -1.3 0.7 -1.3 0.7 -1.4 0.6 -1.3 0.5 -1.3 0.5 -1.3 0.4 -1.3 0.5 -1.3 0.3 -1.3 0.4 -1.2 0.3 -1.2 0.3 -1.2 0.3 -1.2 0.2 -1.1 0.3 -1.1 0.2 -1 0.3 -1 0.3 -0.9 0.3 -0.9 0.4 -0.8 0.4 -0.8 0.4 -0.7 0.4 -0.7 0.7 -0.6 0.9 -0.5 1.2 -0.4 1.4 -0.3 1.7 -0.2 1.9 -0.2z" fill="#0000ff"/>
<g filter="url(#bl)">
<path d="M546.6 1110.6l-1.2 2.3 -1.2 2.1 -1.1 2 -1.1 1.9 -1 1.8 -1 1.9 -1 1.9 -1 2 -1 2.3 -1.1 2.5 -1.4 2.6 -1.9 2.2 -2.3 1.7 -2.5 1.3 -2.8 1 -2.9 1 -3.1 0.8 -3.3 0.8 -3.5 0.5 -3.6 0 -3.4 -1.1 -3 -1.7 -2.6 -2.3 -2.2 -2.8 -1.5 -3.2 -0.9 -3.4 -0.2 -3.5 0.4 -3.4 0.7 -3.2 1 -3 1.1 -2.6 1.2 -2.4 1.2 -2.1 1.2 -2 1.2 -1.8 1.1 -1.6 1.1 -1.6 1.1 -1.6 1.1 -1.5 1.1 -1.5 1.2 -1.7 1.1 -1.8 1.1 -2.2 1.2 -2.8 1.4 -3.5 2 -3.5 2.7 -2.2 3.1 -0.9 3.2 -0.6 3.4 -0.2 3.4 0 3.5 0.6 3.2 1.2 3.1 1.7 2.8 2.1 2.4 2.6 1.8 2.9 1.1 3.4 0.4 3.5 -0.1 3.4 -0.7 3.4 -0.8 3 -1.1 2.8z" fill="#000eff"/>
<path d="M545.3 1110.6l-1.2 2.2 -1.1 2 -1.1 1.8 -1 1.8 -1.1 1.7 -1 1.7 -1 1.7 -0.9 1.9 -1 2 -1.1 2.3 -1.3 2.2 -1.8 2 -2.1 1.6 -2.3 1.2 -2.5 1.1 -2.7 0.9 -2.9 0.9 -3 0.8 -3.3 0.6 -3.4 0.1 -3.3 -0.8 -3 -1.5 -2.6 -2 -2.2 -2.5 -1.6 -3 -0.8 -3.3 -0.2 -3.4 0.4 -3.3 0.7 -3.1 1 -2.8 1.2 -2.5 1.1 -2.3 1.2 -2 1.1 -1.9 1.2 -1.7 1.1 -1.6 1.1 -1.5 1 -1.4 1.1 -1.5 1.1 -1.4 1.1 -1.5 1.1 -1.7 1.1 -2 1.2 -2.4 1.3 -3.1 1.9 -3 2.5 -2 2.8 -0.9 3 -0.6 3.1 -0.4 3.2 -0.1 3.3 0.3 3.2 0.9 3 1.4 2.8 1.8 2.3 2.4 1.8 2.8 1.1 3.2 0.3 3.4 -0.2 3.4 -0.6 3.1 -0.9 3 -1.1 2.6z" fill="#0029ff"/>
<path d="M544.2 1110.6l-1.2 2.1 -1.1 1.9 -1.1 1.7 -1 1.7 -1 1.5 -1 1.6 -1 1.6 -0.9 1.7 -1 1.8 -1 2 -1.3 2 -1.6 1.8 -2 1.5 -2.1 1.1 -2.3 1.1 -2.5 0.9 -2.7 0.9 -2.8 0.8 -3.1 0.7 -3.2 0.2 -3.2 -0.5 -3 -1.2 -2.6 -1.7 -2.2 -2.4 -1.6 -2.8 -0.8 -3.1 -0.2 -3.3 0.4 -3.2 0.8 -3 1 -2.8 1.1 -2.4 1.1 -2.2 1.1 -1.9 1.2 -1.8 1.1 -1.6 1 -1.5 1.1 -1.5 1 -1.3 1.1 -1.4 1.1 -1.3 1 -1.4 1.1 -1.6 1.1 -1.7 1.1 -2.2 1.4 -2.7 1.7 -2.6 2.3 -1.8 2.6 -0.9 2.7 -0.7 3 -0.5 3 -0.3 3.1 0.2 3.1 0.6 3 1.1 2.8 1.6 2.3 2.2 1.7 2.7 1.1 3.1 0.3 3.3 -0.3 3.2 -0.7 3.1 -0.9 2.8 -1 2.5z" fill="#0045ff"/>
<path d="M543.1 1110.6l-1.1 2 -1.1 1.8 -1 1.6 -1 1.6 -1 1.4 -1 1.5 -1 1.5 -0.9 1.5 -1 1.6 -1 1.8 -1.3 1.8 -1.5 1.6 -1.7 1.3 -2 1.1 -2.1 1 -2.3 1 -2.5 0.9 -2.6 0.9 -3 0.7 -3 0.3 -3.1 -0.3 -2.9 -0.9 -2.7 -1.5 -2.2 -2.2 -1.6 -2.6 -0.8 -3.1 -0.2 -3.2 0.4 -3.1 0.8 -2.9 1 -2.6 1.1 -2.4 1.1 -2.1 1.1 -1.9 1.1 -1.7 1.1 -1.5 1 -1.5 1.1 -1.3 1 -1.3 1 -1.3 1.1 -1.2 1 -1.3 1 -1.4 1.1 -1.6 1.2 -1.9 1.3 -2.3 1.6 -2.3 2.1 -1.6 2.4 -1 2.5 -0.7 2.8 -0.6 2.8 -0.4 3 -0.1 3 0.4 3 0.9 2.7 1.4 2.4 2.1 1.7 2.5 0.9 3 0.3 3.2 -0.3 3.1 -0.7 3 -0.9 2.7 -1.1 2.4z" fill="#0060ff"/>
<path d="M542.2 1110.6l-1.1 1.9 -1.1 1.7 -1 1.5 -1 1.5 -1 1.4 -0.9 1.3 -1 1.4 -1 1.3 -0.9 1.5 -1 1.6 -1.2 1.5 -1.4 1.4 -1.7 1.3 -1.8 1 -1.9 1 -2.1 1 -2.3 0.9 -2.5 0.9 -2.8 0.8 -2.9 0.4 -3 -0.1 -2.9 -0.7 -2.7 -1.3 -2.2 -1.9 -1.5 -2.5 -0.9 -3 -0.1 -3.1 0.4 -3 0.8 -2.8 1 -2.6 1 -2.3 1.1 -2 1.1 -1.8 1.1 -1.6 1.1 -1.5 1 -1.4 1 -1.3 1 -1.2 1 -1.2 1 -1.2 1 -1.2 1.1 -1.3 1 -1.4 1.2 -1.6 1.2 -2 1.6 -1.9 1.9 -1.5 2.2 -0.9 2.3 -0.8 2.6 -0.7 2.7 -0.6 2.9 -0.2 2.9 0.2 2.9 0.6 2.8 1.3 2.3 1.8 1.7 2.5 0.9 2.9 0.2 3.1 -0.3 3 -0.7 2.9 -1 2.6 -1 2.3z" fill="#0080ff"/>
<path d="M541.3 1110.6l-1.1 1.8 -1 1.6 -1.1 1.5 -0.9 1.4 -1 1.2 -1 1.3 -0.9 1.2 -0.9 1.3 -1 1.3 -1 1.3 -1.2 1.4 -1.3 1.2 -1.4 1.2 -1.7 1 -1.8 1 -1.9 0.9 -2.1 1 -2.4 0.9 -2.6 0.8 -2.8 0.5 -2.9 0.1 -2.9 -0.5 -2.6 -1 -2.3 -1.8 -1.6 -2.4 -0.8 -2.8 -0.1 -3.1 0.4 -2.9 0.8 -2.8 1 -2.4 1.1 -2.2 1 -2 1.1 -1.7 1.1 -1.6 1 -1.4 1 -1.3 1 -1.3 1 -1.1 1 -1.1 0.9 -1.1 1 -1.2 1.1 -1.1 1 -1.3 1.1 -1.4 1.3 -1.6 1.4 -1.7 1.8 -1.3 2 -0.9 2.2 -0.9 2.3 -0.8 2.6 -0.6 2.8 -0.4 2.8 0 2.9 0.4 2.8 1 2.2 1.8 1.7 2.3 0.9 2.8 0.2 3 -0.4 3 -0.7 2.8 -1 2.5 -1 2.2z" fill="#00a4ff"/>
<path d="M540.5 1110.6l-1.1 1.7 -1 1.5 -1 1.4 -1 1.3 -1 1.2 -0.9 1.2 -0.9 1.1 -1 1.1 -0.9 1.2 -1 1.1 -1.1 1.2 -1.3 1.1 -1.3 1 -1.5 1 -1.6 1 -1.8 0.9 -2 1 -2.2 1 -2.4 0.8 -2.7 0.7 -2.8 0.2 -2.9 -0.3 -2.7 -0.9 -2.2 -1.6 -1.6 -2.2 -0.8 -2.8 -0.1 -2.9 0.4 -2.9 0.8 -2.7 1 -2.4 1 -2.1 1.1 -1.9 1.1 -1.7 1 -1.5 1 -1.3 1 -1.3 1 -1.2 0.9 -1.1 1 -1 0.9 -1 1 -1.1 1 -1 1.1 -1.1 1.1 -1.2 1.2 -1.4 1.4 -1.3 1.6 -1.2 1.8 -0.9 2 -0.9 2.2 -0.9 2.4 -0.8 2.7 -0.5 2.8 -0.2 2.9 0.2 2.7 0.9 2.3 1.6 1.6 2.2 0.8 2.7 0.2 2.9 -0.4 2.9 -0.8 2.7 -0.9 2.4 -1.1 2.2z" fill="#00c9ff"/>
<path d="M539.6 1110.6l-1 1.6 -1 1.5 -1 1.3 -1 1.2 -0.9 1.1 -0.9 1.1 -1 1 -0.9 1 -1 1 -0.9 1 -1.1 1 -1.1 0.9 -1.3 1 -1.3 0.9 -1.5 1 -1.6 0.9 -1.8 1 -2.1 1 -2.3 0.9 -2.5 0.7 -2.8 0.4 -2.8 0 -2.7 -0.7 -2.3 -1.5 -1.6 -2.2 -0.8 -2.6 -0.1 -2.9 0.5 -2.8 0.8 -2.6 0.9 -2.3 1.1 -2.1 1 -1.8 1.1 -1.6 1 -1.5 1 -1.3 1 -1.2 0.9 -1.1 0.9 -1 1 -1 0.9 -1 1 -0.9 1 -1 1 -0.9 1.1 -1 1.2 -1.1 1.3 -1 1.5 -1 1.6 -1 1.8 -1 2.1 -0.9 2.3 -0.9 2.5 -0.7 2.8 -0.4 2.8 0.1 2.7 0.7 2.3 1.4 1.6 2.2 0.8 2.6 0.1 2.9 -0.4 2.8 -0.8 2.6 -1 2.3 -1 2.1z" fill="#00edff"/>
<path d="M538.8 1110.6l-1 1.6 -1 1.3 -0.9 1.3 -1 1.1 -0.9 1.1 -0.9 1 -0.9 0.9 -0.9 0.9 -0.9 0.9 -1 0.9 -1 0.8 -1 0.9 -1.2 0.9 -1.2 0.9 -1.4 0.9 -1.5 1 -1.7 1 -1.9 0.9 -2.2 0.9 -2.5 0.8 -2.6 0.5 -2.8 0 -2.6 -0.6 -2.2 -1.4 -1.6 -2 -0.7 -2.6 -0.1 -2.7 0.4 -2.7 0.8 -2.5 0.9 -2.3 1.1 -1.9 1 -1.8 1 -1.5 1 -1.4 0.9 -1.3 1 -1.1 0.9 -1.1 0.9 -1 0.9 -0.9 0.9 -0.9 0.9 -0.9 1 -0.9 1 -0.8 1 -0.9 1.2 -0.9 1.2 -0.9 1.4 -0.9 1.5 -1 1.7 -0.9 1.9 -1 2.2 -0.9 2.5 -0.8 2.6 -0.4 2.8 -0.1 2.6 0.6 2.2 1.4 1.6 2 0.7 2.6 0.1 2.7 -0.4 2.7 -0.8 2.5 -0.9 2.3 -1.1 2z" fill="#00ffe6"/>
<path d="M537.9 1110.6l-0.9 1.5 -1 1.3 -0.9 1.2 -0.8 1 -0.9 1 -0.9 1 -0.8 0.9 -0.9 0.8 -0.8 0.9 -1 0.8 -0.9 0.8 -1 0.9 -1.1 0.8 -1.2 0.9 -1.3 0.9 -1.4 0.9 -1.6 0.9 -1.9 0.9 -2 0.9 -2.4 0.7 -2.5 0.5 -2.6 0 -2.5 -0.6 -2.1 -1.3 -1.5 -1.9 -0.7 -2.5 0 -2.6 0.4 -2.6 0.7 -2.3 0.9 -2.2 1 -1.8 1 -1.7 0.9 -1.5 1 -1.3 0.9 -1.1 0.8 -1.1 0.9 -1 0.9 -1 0.8 -0.9 0.9 -0.8 0.8 -0.9 1 -0.8 0.9 -0.8 1 -0.8 1.1 -0.9 1.2 -0.8 1.3 -0.9 1.4 -0.9 1.6 -1 1.9 -0.9 2 -0.8 2.4 -0.8 2.5 -0.4 2.6 -0.1 2.5 0.6 2.1 1.3 1.5 2 0.7 2.4 0 2.6 -0.4 2.6 -0.7 2.4 -0.9 2.1 -1 1.9z" fill="#00ffb3"/>
<path d="M537 1110.6l-0.9 1.4 -0.8 1.2 -0.9 1.1 -0.8 1.1 -0.8 0.9 -0.8 0.9 -0.8 0.8 -0.9 0.9 -0.8 0.8 -0.8 0.7 -0.9 0.8 -1 0.8 -1 0.8 -1.1 0.8 -1.2 0.9 -1.4 0.8 -1.5 0.9 -1.8 0.9 -2 0.8 -2.2 0.7 -2.4 0.5 -2.5 0 -2.3 -0.5 -2 -1.3 -1.4 -1.9 -0.6 -2.3 -0.1 -2.5 0.5 -2.4 0.7 -2.2 0.8 -2.1 0.9 -1.7 1 -1.6 0.9 -1.4 0.8 -1.2 0.9 -1.1 0.8 -1 0.8 -1 0.8 -0.9 0.8 -0.8 0.9 -0.8 0.8 -0.8 0.8 -0.8 0.9 -0.8 1 -0.8 1 -0.8 1.1 -0.8 1.2 -0.8 1.4 -0.9 1.5 -0.9 1.8 -0.9 1.9 -0.8 2.3 -0.7 2.4 -0.4 2.5 -0.1 2.3 0.6 2 1.2 1.4 1.9 0.6 2.3 0.1 2.5 -0.5 2.4 -0.7 2.3 -0.8 2 -0.9 1.7z" fill="#00ff80"/>
<path d="M536.1 1110.6l-0.8 1.3 -0.8 1.2 -0.8 1 -0.8 1 -0.8 0.9 -0.7 0.8 -0.8 0.8 -0.7 0.8 -0.8 0.7 -0.8 0.8 -0.9 0.7 -0.9 0.7 -0.9 0.8 -1.1 0.8 -1.1 0.8 -1.3 0.8 -1.5 0.8 -1.6 0.9 -1.9 0.8 -2.1 0.6 -2.2 0.5 -2.4 0 -2.2 -0.5 -1.9 -1.2 -1.3 -1.8 -0.6 -2.2 0 -2.3 0.4 -2.3 0.7 -2.2 0.8 -1.8 0.9 -1.7 0.8 -1.5 0.9 -1.3 0.8 -1.2 0.8 -1 0.8 -1 0.8 -0.9 0.7 -0.8 0.8 -0.8 0.7 -0.7 0.8 -0.8 0.8 -0.7 0.9 -0.8 0.9 -0.7 0.9 -0.8 1.1 -0.8 1.1 -0.7 1.3 -0.9 1.4 -0.8 1.7 -0.8 1.9 -0.8 2 -0.7 2.3 -0.4 2.4 -0.1 2.2 0.5 1.9 1.2 1.3 1.8 0.6 2.2 0 2.4 -0.4 2.3 -0.7 2.1 -0.8 1.9 -0.9 1.6z" fill="#00ff47"/>
<path d="M535.3 1110.6l-0.8 1.2 -0.8 1.1 -0.8 1 -0.7 0.9 -0.7 0.8 -0.7 0.8 -0.7 0.8 -0.7 0.7 -0.8 0.7 -0.7 0.7 -0.8 0.7 -0.8 0.7 -0.9 0.7 -1 0.7 -1.1 0.8 -1.2 0.8 -1.4 0.8 -1.5 0.8 -1.8 0.7 -1.9 0.7 -2.2 0.4 -2.2 0 -2.1 -0.5 -1.8 -1.1 -1.2 -1.7 -0.5 -2.1 0 -2.2 0.4 -2.2 0.6 -2 0.8 -1.7 0.8 -1.6 0.8 -1.4 0.8 -1.2 0.8 -1.1 0.8 -1 0.7 -0.9 0.7 -0.8 0.7 -0.8 0.7 -0.7 0.7 -0.8 0.7 -0.7 0.8 -0.7 0.8 -0.7 0.8 -0.7 0.9 -0.7 1 -0.7 1.1 -0.8 1.2 -0.7 1.4 -0.8 1.5 -0.8 1.8 -0.8 1.9 -0.6 2.2 -0.4 2.2 -0.1 2.1 0.5 1.8 1.1 1.2 1.7 0.5 2.1 0 2.2 -0.4 2.2 -0.6 2 -0.8 1.8 -0.8 1.5z" fill="#00ff0e"/>
<path d="M534.4 1110.6l-0.8 1.1 -0.7 1.1 -0.7 0.9 -0.7 0.8 -0.6 0.8 -0.7 0.7 -0.6 0.7 -0.7 0.7 -0.7 0.7 -0.7 0.6 -0.7 0.7 -0.8 0.6 -0.8 0.7 -1 0.7 -1 0.7 -1.1 0.7 -1.3 0.8 -1.4 0.7 -1.7 0.8 -1.8 0.6 -2.1 0.4 -2.1 0 -1.9 -0.5 -1.7 -1 -1.1 -1.6 -0.4 -2 0 -2.1 0.4 -2 0.6 -1.9 0.7 -1.6 0.8 -1.5 0.7 -1.3 0.8 -1.1 0.7 -1 0.7 -1 0.7 -0.8 0.6 -0.8 0.7 -0.7 0.6 -0.7 0.7 -0.7 0.7 -0.6 0.7 -0.7 0.7 -0.6 0.8 -0.7 0.8 -0.7 1 -0.7 1 -0.7 1.1 -0.7 1.3 -0.8 1.4 -0.7 1.7 -0.7 1.8 -0.6 2.1 -0.4 2.1 -0.1 1.9 0.5 1.7 1.1 1 1.6 0.5 1.9 0 2.1 -0.4 2 -0.6 1.9 -0.7 1.7 -0.8 1.4z" fill="#26ff00"/>
<path d="M533.5 1110.6l-0.7 1.1 -0.7 0.9 -0.6 0.9 -0.7 0.7 -0.6 0.8 -0.6 0.6 -0.6 0.7 -0.6 0.6 -0.6 0.6 -0.7 0.6 -0.7 0.6 -0.7 0.7 -0.8 0.6 -0.8 0.6 -0.9 0.7 -1.1 0.7 -1.2 0.7 -1.3 0.7 -1.6 0.7 -1.7 0.6 -1.9 0.4 -2 0 -1.8 -0.4 -1.5 -1 -1 -1.6 -0.5 -1.8 0.1 -2 0.3 -1.9 0.6 -1.7 0.7 -1.5 0.7 -1.4 0.7 -1.2 0.7 -1 0.7 -1 0.6 -0.8 0.6 -0.8 0.7 -0.7 0.6 -0.7 0.6 -0.7 0.6 -0.6 0.6 -0.6 0.7 -0.6 0.7 -0.6 0.7 -0.6 0.8 -0.7 0.8 -0.6 0.9 -0.7 1.1 -0.7 1.2 -0.7 1.3 -0.7 1.6 -0.7 1.7 -0.6 1.9 -0.3 2 -0.1 1.8 0.5 1.5 1 1 1.5 0.5 1.8 -0.1 2 -0.3 1.9 -0.6 1.7 -0.7 1.6 -0.7 1.3z" fill="#59ff00"/>
<path d="M532.6 1110.6l-0.6 1 -0.7 0.8 -0.6 0.8 -0.5 0.8 -0.6 0.6 -0.6 0.7 -0.5 0.6 -0.6 0.5 -0.6 0.6 -0.6 0.6 -0.6 0.5 -0.7 0.6 -0.7 0.6 -0.8 0.6 -0.8 0.6 -1 0.7 -1.1 0.6 -1.3 0.7 -1.4 0.6 -1.6 0.6 -1.8 0.4 -1.8 0 -1.7 -0.4 -1.4 -1 -0.9 -1.4 -0.4 -1.7 0 -1.8 0.4 -1.8 0.6 -1.6 0.6 -1.4 0.6 -1.3 0.7 -1.1 0.6 -1 0.7 -0.8 0.6 -0.8 0.5 -0.7 0.6 -0.7 0.6 -0.6 0.5 -0.6 0.6 -0.6 0.6 -0.6 0.6 -0.5 0.6 -0.6 0.6 -0.6 0.8 -0.6 0.8 -0.6 0.8 -0.6 1 -0.6 1.1 -0.7 1.3 -0.7 1.4 -0.6 1.6 -0.6 1.8 -0.3 1.8 -0.1 1.7 0.4 1.4 1 0.9 1.4 0.4 1.7 0 1.9 -0.4 1.7 -0.6 1.6 -0.6 1.5 -0.6 1.2z" fill="#8cff00"/>
<path d="M531.7 1110.6l-0.6 0.9 -0.5 0.8 -0.6 0.7 -0.5 0.7 -0.5 0.6 -0.5 0.6 -0.6 0.5 -0.5 0.5 -0.5 0.6 -0.5 0.5 -0.6 0.5 -0.6 0.5 -0.7 0.6 -0.7 0.5 -0.8 0.6 -0.9 0.6 -1 0.7 -1.2 0.6 -1.3 0.6 -1.5 0.5 -1.7 0.4 -1.7 0 -1.5 -0.4 -1.3 -0.9 -0.8 -1.3 -0.4 -1.6 0.1 -1.7 0.4 -1.6 0.5 -1.5 0.6 -1.3 0.6 -1.2 0.6 -1 0.6 -0.9 0.5 -0.8 0.6 -0.7 0.5 -0.6 0.5 -0.7 0.5 -0.5 0.5 -0.6 0.6 -0.5 0.5 -0.5 0.5 -0.6 0.6 -0.5 0.6 -0.5 0.7 -0.6 0.7 -0.5 0.8 -0.6 0.9 -0.6 1 -0.6 1.2 -0.7 1.3 -0.6 1.5 -0.5 1.7 -0.3 1.7 -0.1 1.5 0.4 1.3 0.9 0.8 1.3 0.4 1.6 -0.1 1.7 -0.4 1.7 -0.5 1.4 -0.6 1.4 -0.6 1.1z" fill="#bfff00"/>
<path d="M530.8 1110.6l-0.5 0.8 -0.5 0.7 -0.5 0.7 -0.5 0.6 -0.5 0.5 -0.4 0.6 -0.5 0.5 -0.5 0.5 -0.4 0.4 -0.5 0.5 -0.5 0.5 -0.6 0.5 -0.6 0.5 -0.7 0.5 -0.7 0.5 -0.8 0.6 -0.9 0.6 -1.1 0.6 -1.2 0.5 -1.4 0.5 -1.5 0.4 -1.6 0 -1.4 -0.3 -1.2 -0.9 -0.7 -1.2 -0.3 -1.5 0.1 -1.6 0.3 -1.5 0.5 -1.3 0.6 -1.2 0.5 -1.1 0.6 -0.9 0.5 -0.8 0.5 -0.7 0.5 -0.7 0.5 -0.6 0.5 -0.5 0.4 -0.5 0.5 -0.6 0.4 -0.4 0.5 -0.5 0.5 -0.5 0.5 -0.5 0.6 -0.5 0.6 -0.5 0.6 -0.5 0.8 -0.5 0.8 -0.6 0.9 -0.6 1.1 -0.5 1.2 -0.6 1.4 -0.5 1.5 -0.3 1.6 -0.1 1.4 0.4 1.2 0.8 0.7 1.3 0.3 1.5 -0.1 1.5 -0.3 1.5 -0.5 1.4 -0.6 1.2 -0.5 1z" fill="#f2ff00"/>
<path d="M530 1110.6l-0.5 0.7 -0.5 0.7 -0.4 0.6 -0.5 0.5 -0.4 0.5 -0.4 0.5 -0.4 0.4 -0.4 0.5 -0.5 0.4 -0.4 0.4 -0.5 0.5 -0.5 0.4 -0.5 0.5 -0.6 0.4 -0.7 0.5 -0.7 0.6 -0.8 0.5 -1 0.5 -1.1 0.6 -1.3 0.4 -1.4 0.3 -1.4 0.1 -1.3 -0.4 -1.1 -0.7 -0.6 -1.2 -0.2 -1.3 0.1 -1.5 0.3 -1.3 0.4 -1.2 0.5 -1.1 0.5 -1 0.5 -0.8 0.5 -0.7 0.5 -0.7 0.4 -0.6 0.5 -0.5 0.4 -0.5 0.4 -0.5 0.4 -0.4 0.4 -0.5 0.5 -0.4 0.4 -0.4 0.5 -0.5 0.5 -0.4 0.5 -0.5 0.6 -0.4 0.7 -0.5 0.7 -0.5 0.8 -0.6 1 -0.5 1.1 -0.5 1.3 -0.5 1.4 -0.3 1.4 0 1.3 0.3 1.1 0.8 0.6 1.1 0.2 1.4 -0.1 1.4 -0.3 1.3 -0.4 1.3 -0.5 1 -0.5 1z" fill="#ffd600"/>
<path d="M528.7 1110.6l-0.4 0.6 -0.4 0.6 -0.3 0.5 -0.4 0.4 -0.4 0.4 -0.3 0.4 -0.4 0.4 -0.3 0.4 -0.4 0.4 -0.4 0.3 -0.3 0.4 -0.5 0.4 -0.4 0.3 -0.5 0.4 -0.6 0.5 -0.6 0.4 -0.7 0.4 -0.8 0.5 -1 0.4 -1 0.4 -1.2 0.3 -1.2 0 -1.1 -0.3 -0.9 -0.6 -0.5 -1 -0.2 -1.1 0.1 -1.2 0.2 -1.2 0.4 -1 0.4 -0.9 0.5 -0.8 0.4 -0.7 0.4 -0.6 0.4 -0.5 0.3 -0.5 0.4 -0.5 0.4 -0.4 0.3 -0.4 0.4 -0.4 0.3 -0.4 0.4 -0.3 0.4 -0.4 0.3 -0.4 0.5 -0.3 0.4 -0.4 0.5 -0.4 0.6 -0.4 0.6 -0.5 0.7 -0.4 0.8 -0.5 1 -0.4 1 -0.4 1.2 -0.3 1.2 0 1.1 0.3 0.9 0.6 0.5 1 0.2 1.1 -0.1 1.2 -0.2 1.2 -0.4 1 -0.4 0.9 -0.5 0.8z" fill="#ff9700"/>
<path d="M527.5 1110.6l-0.4 0.5 -0.3 0.5 -0.3 0.4 -0.3 0.3 -0.3 0.4 -0.2 0.3 -0.3 0.3 -0.3 0.3 -0.3 0.3 -0.3 0.3 -0.3 0.3 -0.4 0.3 -0.3 0.3 -0.4 0.3 -0.5 0.4 -0.5 0.3 -0.6 0.4 -0.6 0.3 -0.8 0.4 -0.9 0.3 -0.9 0.2 -1 0.1 -0.9 -0.3 -0.7 -0.5 -0.4 -0.8 -0.2 -0.9 0.1 -1 0.2 -0.9 0.3 -0.8 0.3 -0.8 0.4 -0.6 0.3 -0.6 0.3 -0.5 0.4 -0.4 0.3 -0.4 0.3 -0.4 0.2 -0.3 0.3 -0.4 0.3 -0.3 0.3 -0.3 0.3 -0.3 0.3 -0.3 0.3 -0.3 0.4 -0.3 0.3 -0.3 0.4 -0.3 0.5 -0.3 0.5 -0.4 0.6 -0.4 0.6 -0.3 0.8 -0.4 0.9 -0.3 0.9 -0.2 1 0 0.9 0.2 0.7 0.5 0.4 0.8 0.2 0.9 -0.1 1 -0.2 0.9 -0.3 0.9 -0.3 0.7 -0.4 0.6z" fill="#ff5e00"/>
<path d="M526.2 1110.6l-0.2 0.4 -0.3 0.3 -0.2 0.3 -0.2 0.3 -0.2 0.3 -0.3 0.2 -0.2 0.3 -0.2 0.2 -0.2 0.2 -0.3 0.3 -0.2 0.2 -0.3 0.2 -0.3 0.3 -0.3 0.2 -0.3 0.3 -0.4 0.2 -0.4 0.3 -0.6 0.3 -0.5 0.3 -0.7 0.2 -0.7 0.2 -0.8 0 -0.7 -0.2 -0.5 -0.4 -0.4 -0.6 -0.1 -0.7 0.1 -0.7 0.1 -0.7 0.3 -0.7 0.2 -0.6 0.3 -0.5 0.3 -0.4 0.2 -0.4 0.3 -0.3 0.2 -0.3 0.2 -0.3 0.2 -0.3 0.3 -0.2 0.2 -0.3 0.2 -0.2 0.2 -0.2 0.3 -0.2 0.2 -0.3 0.3 -0.2 0.2 -0.2 0.4 -0.3 0.3 -0.3 0.4 -0.2 0.4 -0.3 0.6 -0.3 0.5 -0.3 0.7 -0.2 0.7 -0.2 0.8 0 0.7 0.2 0.5 0.4 0.4 0.6 0.1 0.7 -0.1 0.8 -0.1 0.7 -0.3 0.6 -0.2 0.6 -0.3 0.5z" fill="#ff2f00"/>
<path d="M525 1110.6l-0.2 0.3 -0.2 0.2 -0.1 0.2 -0.2 0.2 -0.1 0.2 -0.2 0.2 -0.1 0.2 -0.2 0.1 -0.1 0.2 -0.2 0.1 -0.2 0.2 -0.2 0.2 -0.2 0.1 -0.2 0.2 -0.2 0.2 -0.3 0.2 -0.3 0.2 -0.4 0.2 -0.4 0.2 -0.4 0.1 -0.6 0.1 -0.5 0.1 -0.5 -0.2 -0.3 -0.2 -0.3 -0.5 -0.1 -0.5 0.1 -0.5 0.1 -0.5 0.1 -0.4 0.2 -0.4 0.2 -0.4 0.2 -0.3 0.2 -0.3 0.1 -0.2 0.2 -0.2 0.2 -0.2 0.1 -0.2 0.2 -0.2 0.1 -0.1 0.2 -0.2 0.1 -0.2 0.2 -0.1 0.2 -0.2 0.2 -0.1 0.2 -0.2 0.2 -0.2 0.2 -0.2 0.3 -0.2 0.3 -0.1 0.4 -0.2 0.4 -0.2 0.4 -0.2 0.5 -0.1 0.6 0 0.5 0.1 0.3 0.3 0.3 0.4 0.1 0.5 -0.1 0.5 -0.1 0.5 -0.2 0.5 -0.1 0.4 -0.2 0.3z" fill="#ff0000"/>
</g>
<g filter="url(#bl)">
<path d="M546.2 1169.5l-1 3.4 -1 3.2 -1.2 3.1 -1.2 3.3 -1.4 3.5 -1.6 4 -2.2 4.6 -3 4.8 -4.2 4.9 -5.5 5 -6.7 2.2 -5.7 -3.9 -3.6 -6.9 -2.3 -6.1 -1.7 -5.2 -1.2 -4.6 -0.6 -4.3 0.1 -4 0.7 -3.7 1.1 -3.3 1.1 -3 0.8 -2.9 -0.2 -3.4 -0.6 -4.3 1.3 -3.9 3.3 -2 3.9 -0.7 3.6 -0.4 3.3 -0.5 3.4 -0.6 3.5 -1 4.2 -1.1 4.6 -0.5 4.3 1.4 3.1 3.1 2 3.9 1.3 4.1 0.5 4.1 -0.4 4z" fill="#0011ff"/>
<path d="M545.1 1169.5l-0.9 3.2 -1.1 3 -1 3 -1.2 3.2 -1.3 3.3 -1.6 3.8 -2 4.3 -2.9 4.6 -4 4.7 -5.2 4.7 -6.4 2.1 -5.4 -3.7 -3.4 -6.5 -2.2 -5.9 -1.6 -4.9 -1.1 -4.4 -0.6 -4 0 -3.8 0.7 -3.6 1.1 -3.1 1 -2.9 0.8 -2.7 -0.2 -3.2 -0.5 -4.2 1.1 -3.6 3.2 -1.9 3.7 -0.7 3.4 -0.4 3.2 -0.4 3.2 -0.6 3.4 -0.9 3.9 -1.1 4.4 -0.5 4.1 1.3 2.9 3 2 3.7 1.2 3.9 0.4 3.9 -0.3 3.8z" fill="#0021ff"/>
<path d="M543.8 1169.5l-0.9 3 -0.9 2.9 -1 2.8 -1.1 2.9 -1.2 3.2 -1.5 3.5 -1.9 4.1 -2.8 4.3 -3.7 4.4 -4.9 4.4 -6 2 -5.1 -3.5 -3.2 -6.1 -2 -5.5 -1.5 -4.6 -1.1 -4.1 -0.6 -3.8 0.1 -3.6 0.6 -3.4 1 -2.9 1 -2.7 0.7 -2.5 -0.2 -3.1 -0.5 -3.9 1.1 -3.5 3 -1.7 3.5 -0.6 3.2 -0.4 3 -0.4 3 -0.6 3.2 -0.8 3.7 -1.1 4.1 -0.4 3.8 1.2 2.8 2.8 1.8 3.5 1.2 3.7 0.3 3.6 -0.3 3.6z" fill="#0032ff"/>
<path d="M542.4 1169.5l-0.8 2.8 -0.9 2.6 -0.9 2.7 -1 2.7 -1.2 2.9 -1.3 3.4 -1.8 3.7 -2.6 4 -3.5 4.1 -4.5 4.2 -5.6 1.8 -4.7 -3.3 -3 -5.7 -1.9 -5.1 -1.4 -4.3 -1 -3.8 -0.5 -3.5 0 -3.4 0.6 -3.1 0.9 -2.7 1 -2.5 0.6 -2.4 -0.1 -2.8 -0.5 -3.6 1 -3.3 2.8 -1.6 3.2 -0.6 3 -0.3 2.8 -0.4 2.8 -0.6 2.9 -0.7 3.5 -1 3.8 -0.4 3.6 1.1 2.6 2.7 1.7 3.2 1 3.4 0.4 3.4 -0.3 3.3z" fill="#0043ff"/>
<path d="M541 1169.5l-0.8 2.6 -0.8 2.4 -0.9 2.4 -0.9 2.5 -1.1 2.7 -1.2 3.1 -1.7 3.4 -2.3 3.8 -3.2 3.7 -4.2 3.8 -5.1 1.7 -4.4 -3 -2.7 -5.2 -1.8 -4.7 -1.3 -4 -0.9 -3.5 -0.5 -3.3 0.1 -3 0.5 -2.9 0.8 -2.5 0.9 -2.3 0.6 -2.2 -0.1 -2.6 -0.5 -3.3 1 -3 2.5 -1.5 3 -0.5 2.8 -0.3 2.5 -0.4 2.6 -0.5 2.7 -0.7 3.2 -0.9 3.5 -0.4 3.3 1.1 2.3 2.4 1.6 3 1 3.1 0.3 3.1 -0.2 3.1z" fill="#0053ff"/>
<path d="M539.4 1169.5l-0.7 2.3 -0.7 2.3 -0.8 2.2 -0.9 2.2 -0.9 2.5 -1.2 2.8 -1.5 3.1 -2.1 3.4 -2.9 3.4 -3.8 3.5 -4.7 1.5 -4 -2.7 -2.4 -4.8 -1.6 -4.3 -1.2 -3.6 -0.8 -3.2 -0.5 -2.9 0.1 -2.8 0.5 -2.6 0.7 -2.3 0.8 -2.1 0.6 -2 -0.2 -2.4 -0.4 -3 0.9 -2.7 2.3 -1.4 2.7 -0.4 2.5 -0.3 2.3 -0.3 2.4 -0.5 2.4 -0.7 2.9 -0.8 3.2 -0.3 3 0.9 2.2 2.2 1.4 2.8 0.9 2.8 0.3 2.9 -0.2 2.7z" fill="#0064ff"/>
<path d="M537.8 1169.5l-0.6 2.1 -0.7 2 -0.7 1.9 -0.8 2.1 -0.8 2.2 -1 2.5 -1.4 2.8 -1.9 3 -2.6 3.1 -3.4 3.1 -4.2 1.3 -3.6 -2.4 -2.2 -4.3 -1.4 -3.8 -1.1 -3.2 -0.7 -2.9 -0.4 -2.6 0 -2.5 0.5 -2.4 0.7 -2 0.7 -1.9 0.5 -1.8 -0.1 -2.1 -0.4 -2.7 0.8 -2.4 2 -1.3 2.5 -0.4 2.2 -0.2 2.1 -0.3 2.1 -0.4 2.2 -0.6 2.6 -0.7 2.9 -0.3 2.6 0.8 1.9 2 1.3 2.4 0.8 2.5 0.3 2.6 -0.2 2.5z" fill="#0077ff"/>
<path d="M536.1 1169.5l-0.6 1.8 -0.5 1.8 -0.7 1.7 -0.6 1.8 -0.8 1.9 -0.9 2.2 -1.2 2.5 -1.6 2.7 -2.3 2.7 -3 2.7 -3.7 1.1 -3.1 -2.1 -2 -3.7 -1.2 -3.4 -1 -2.8 -0.6 -2.5 -0.3 -2.4 0 -2.2 0.4 -2 0.6 -1.8 0.6 -1.7 0.4 -1.5 -0.1 -1.9 -0.3 -2.4 0.7 -2.1 1.8 -1.1 2.1 -0.4 2 -0.2 1.8 -0.2 1.9 -0.4 1.9 -0.5 2.3 -0.7 2.5 -0.2 2.4 0.7 1.7 1.8 1.1 2.1 0.7 2.2 0.2 2.3 -0.2 2.2z" fill="#008dff"/>
<path d="M534.4 1169.5l-0.5 1.6 -0.5 1.5 -0.5 1.5 -0.6 1.5 -0.7 1.7 -0.7 1.8 -1 2.1 -1.5 2.3 -2 2.3 -2.5 2.4 -3.2 1 -2.7 -1.8 -1.6 -3.2 -1.1 -2.9 -0.8 -2.5 -0.6 -2.1 -0.3 -2 0.1 -1.9 0.3 -1.8 0.5 -1.5 0.5 -1.4 0.4 -1.4 -0.1 -1.6 -0.2 -2 0.5 -1.8 1.6 -1 1.8 -0.3 1.7 -0.2 1.6 -0.2 1.6 -0.3 1.6 -0.5 2 -0.5 2.2 -0.2 2 0.6 1.4 1.5 1 1.8 0.6 1.9 0.2 2 -0.2 1.8z" fill="#00a3ff"/>
<path d="M532.6 1169.5l-0.4 1.3 -0.4 1.2 -0.5 1.3 -0.4 1.2 -0.6 1.4 -0.6 1.6 -0.9 1.7 -1.2 1.9 -1.6 2 -2.1 1.9 -2.6 0.8 -2.3 -1.5 -1.4 -2.6 -0.9 -2.4 -0.6 -2.1 -0.5 -1.8 -0.2 -1.6 0 -1.6 0.3 -1.4 0.4 -1.3 0.4 -1.2 0.4 -1.1 -0.1 -1.3 -0.2 -1.7 0.4 -1.6 1.3 -0.7 1.6 -0.3 1.4 -0.1 1.3 -0.2 1.3 -0.3 1.4 -0.4 1.6 -0.4 1.8 -0.2 1.6 0.5 1.3 1.3 0.8 1.5 0.4 1.6 0.2 1.6 -0.1 1.5z" fill="#00b9ff"/>
<path d="M530.7 1169.5l-0.3 1 -0.3 1 -0.3 1 -0.4 1 -0.4 1.1 -0.5 1.2 -0.7 1.4 -0.9 1.5 -1.3 1.5 -1.7 1.5 -2.1 0.7 -1.8 -1.2 -1.1 -2.1 -0.7 -1.9 -0.5 -1.6 -0.3 -1.4 -0.2 -1.3 0 -1.3 0.2 -1.1 0.3 -1 0.4 -0.9 0.2 -0.9 0 -1.1 -0.2 -1.3 0.4 -1.2 1 -0.6 1.2 -0.2 1.1 -0.2 1 -0.1 1.1 -0.2 1.1 -0.3 1.2 -0.4 1.5 -0.1 1.3 0.4 0.9 1 0.7 1.2 0.4 1.2 0.1 1.3 -0.1 1.2z" fill="#00cfff"/>
<path d="M528.9 1169.5l-0.3 0.7 -0.2 0.7 -0.2 0.8 -0.3 0.7 -0.3 0.8 -0.4 0.9 -0.5 1 -0.7 1.1 -0.9 1.1 -1.2 1.1 -1.5 0.5 -1.3 -0.9 -0.8 -1.5 -0.5 -1.4 -0.4 -1.2 -0.3 -1 -0.1 -0.9 0 -1 0.1 -0.8 0.3 -0.7 0.2 -0.7 0.2 -0.6 0 -0.8 -0.1 -1 0.2 -0.9 0.8 -0.4 0.9 -0.2 0.8 0 0.7 -0.2 0.8 -0.1 0.8 -0.2 0.9 -0.3 1 -0.1 1 0.3 0.7 0.7 0.4 0.9 0.3 0.9 0.1 1 0 0.8z" fill="#00e5ff"/>
<path d="M527 1169.5l-0.2 0.4 -0.1 0.5 -0.2 0.4 -0.2 0.5 -0.1 0.5 -0.3 0.5 -0.3 0.7 -0.4 0.6 -0.6 0.7 -0.7 0.7 -1 0.3 -0.8 -0.5 -0.5 -1 -0.3 -0.8 -0.2 -0.8 -0.2 -0.6 -0.1 -0.6 0 -0.6 0.1 -0.5 0.2 -0.4 0.1 -0.4 0.2 -0.4 -0.1 -0.5 0 -0.6 0.1 -0.6 0.5 -0.2 0.5 -0.1 0.5 -0.1 0.5 -0.1 0.5 0 0.5 -0.2 0.5 -0.1 0.7 -0.1 0.6 0.2 0.4 0.4 0.3 0.6 0.2 0.5 0 0.6 0 0.6z" fill="#00fbff"/>
<path d="M525 1169.5l0 0.1 -0.1 0.2 -0.1 0.2 0 0.1 -0.1 0.2 -0.1 0.2 -0.1 0.3 -0.1 0.2 -0.3 0.3 -0.2 0.2 -0.4 0.1 -0.3 -0.2 -0.2 -0.3 -0.1 -0.3 -0.1 -0.3 0 -0.2 -0.1 -0.3 0 -0.2 0.1 -0.2 0 -0.1 0.1 -0.2 0 -0.1 0 -0.2 0 -0.2 0 -0.2 0.2 -0.1 0.2 -0.1 0.2 0 0.2 0 0.2 -0.1 0.1 0 0.3 -0.1 0.2 0 0.2 0.1 0.2 0.1 0.1 0.2 0.1 0.3 0 0.2 0 0.2z" fill="#00ffe6"/>
</g>
<ellipse cx="518.58" cy="1293.85" rx="12.65" ry="5.62" fill="#0000ff"/>
<g filter="url(#bl)">
<ellipse cx="518.58" cy="1293.85" rx="10.32" ry="4.59" fill="#0000ff"/>
<ellipse cx="518.58" cy="1293.85" rx="7.99" ry="3.55" fill="#0000ff"/>
<ellipse cx="518.58" cy="1293.85" rx="5.67" ry="2.52" fill="#0000ff"/>
<ellipse cx="518.58" cy="1293.85" rx="3.34" ry="1.48" fill="#0000ff"/>
<ellipse cx="518.58" cy="1293.85" rx="1.01" ry="0.45" fill="#0000ff"/>
</g>
</g>
<line x1="472.5" y1="1057.6" x2="472.5" y2="1293.5" stroke="#000" stroke-width="2.7"/>
<line x1="351.4" y1="1171.3" x2="586.8" y2="1171.3" stroke="#000" stroke-width="2.4"/>
<rect x="351.4" y="1057.6" width="235.4" height="235.9" fill="none" stroke="#000" stroke-width="2.6"/>
<path d="M343.3 1293.5L350.2 1293.5M343.3 1240.2L350.2 1240.2M343.3 1186.9L350.2 1186.9M343.3 1133.6L350.2 1133.6M343.3 1080.3L350.2 1080.3" stroke="#000" stroke-width="2.4" fill="none"/>
<path d="M345.8 1256.24L350.2 1256.24M345.8 1202.94L350.2 1202.94M345.8 1149.64L350.2 1149.64M345.8 1096.34L350.2 1096.34" stroke="#000" stroke-width="1.5" fill="none"/>
<path d="M347.8 1277.46L350.2 1277.46M347.8 1268.07L350.2 1268.07M347.8 1261.41L350.2 1261.41M347.8 1252.02L350.2 1252.02M347.8 1248.46L350.2 1248.46M347.8 1245.37L350.2 1245.37M347.8 1242.64L350.2 1242.64M347.8 1224.16L350.2 1224.16M347.8 1214.77L350.2 1214.77M347.8 1208.11L350.2 1208.11M347.8 1198.72L350.2 1198.72M347.8 1195.16L350.2 1195.16M347.8 1192.07L350.2 1192.07M347.8 1189.34L350.2 1189.34M347.8 1170.86L350.2 1170.86M347.8 1161.47L350.2 1161.47M347.8 1154.81L350.2 1154.81M347.8 1145.42L350.2 1145.42M347.8 1141.86L350.2 1141.86M347.8 1138.77L350.2 1138.77M347.8 1136.04L350.2 1136.04M347.8 1117.56L350.2 1117.56M347.8 1108.17L350.2 1108.17M347.8 1101.51L350.2 1101.51M347.8 1092.12L350.2 1092.12M347.8 1088.56L350.2 1088.56M347.8 1085.47L350.2 1085.47M347.8 1082.74L350.2 1082.74M347.8 1064.26L350.2 1064.26" stroke="#000" stroke-width="1.5" fill="none"/>
<path d="M351.8 1294.7L351.8 1301.9M404.6 1294.7L404.6 1301.9M457.4 1294.7L457.4 1301.9M510.2 1294.7L510.2 1301.9M563 1294.7L563 1301.9" stroke="#000" stroke-width="2.4" fill="none"/>
<path d="M388.71 1294.7L388.71 1299.5M441.51 1294.7L441.51 1299.5M494.31 1294.7L494.31 1299.5M547.11 1294.7L547.11 1299.5" stroke="#000" stroke-width="1.5" fill="none"/>
<path d="M367.69 1294.7L367.69 1297.3M376.99 1294.7L376.99 1297.3M383.59 1294.7L383.59 1297.3M392.89 1294.7L392.89 1297.3M396.42 1294.7L396.42 1297.3M399.48 1294.7L399.48 1297.3M402.18 1294.7L402.18 1297.3M420.49 1294.7L420.49 1297.3M429.79 1294.7L429.79 1297.3M436.39 1294.7L436.39 1297.3M445.69 1294.7L445.69 1297.3M449.22 1294.7L449.22 1297.3M452.28 1294.7L452.28 1297.3M454.98 1294.7L454.98 1297.3M473.29 1294.7L473.29 1297.3M482.59 1294.7L482.59 1297.3M489.19 1294.7L489.19 1297.3M498.49 1294.7L498.49 1297.3M502.02 1294.7L502.02 1297.3M505.08 1294.7L505.08 1297.3M507.78 1294.7L507.78 1297.3M526.09 1294.7L526.09 1297.3M535.39 1294.7L535.39 1297.3M541.99 1294.7L541.99 1297.3M551.29 1294.7L551.29 1297.3M554.82 1294.7L554.82 1297.3M557.88 1294.7L557.88 1297.3M560.58 1294.7L560.58 1297.3M578.89 1294.7L578.89 1297.3" stroke="#000" stroke-width="1.5" fill="none"/>
<text x="341.13" y="1326.4" font-size="22.2" textLength="24.69" lengthAdjust="spacing">10</text>
<text x="365.82" y="1315.86" font-size="13">0</text>
<text x="390.13" y="1326.4" font-size="22.2" textLength="24.69" lengthAdjust="spacing">10</text>
<text x="414.37" y="1315.86" font-size="13">1</text>
<text x="441.23" y="1326.4" font-size="22.2" textLength="24.69" lengthAdjust="spacing">10</text>
<text x="465.79" y="1315.86" font-size="13">2</text>
<text x="493.73" y="1326.4" font-size="22.2" textLength="24.69" lengthAdjust="spacing">10</text>
<text x="518.46" y="1315.86" font-size="13">3</text>
<text x="549.24" y="1326.4" font-size="22.2" textLength="24.69" lengthAdjust="spacing">10</text>
<text x="574.15" y="1315.86" font-size="13">4</text>
<text x="355.72" y="1082.7" font-size="17" textLength="32.57" lengthAdjust="spacing">0.44</text>
<rect x="528.2" y="1061.6" width="33.2" height="30.4" fill="#fff" fill-opacity="0.74"/>
<text x="528.29" y="1082.7" font-size="17" textLength="33.68" lengthAdjust="spacing">92.7</text>
<text x="355.72" y="1279.3" font-size="17" textLength="42.03" lengthAdjust="spacing">0.077</text>
<text x="528.25" y="1279.3" font-size="17" textLength="33.72" lengthAdjust="spacing">6.77</text>
<!-- plot a3.3 -->
<clipPath id="cp22"><rect x="622.8" y="1057.6" width="235.4" height="235.9"/></clipPath>
<g clip-path="url(#cp22)">
<path d="M786.1 1057.9l11.2 0 8 0.3 5 0.7 1.8 1 -1.3 1.3 -1.7 1.3 -2 1.2 -2.3 1.1 -2.6 1.1 -2.6 0.8 -2.7 0.6 -2.6 0.3 -2.6 0 -2.7 -0.3 -2.6 -0.4 -2.6 -0.6 -2.7 -0.9 -2.5 -1.1 -2.3 -1.2 -2.1 -1.4 -2 -1.5 1.3 -1.1 4.7 -0.8z" fill="#0000ff"/>
<path d="M782.1 1167.1l2.4 -0.5 2.4 -0.4 2.4 -0.3 2.3 -0.3 2.3 -0.2 2.3 -0.2 2.2 -0.1 2.3 0 2.2 0 1.9 0.2 1.7 0.3 1.4 0.5 1.2 0.8 1 0.9 0.6 1 0.5 1.3 0.1 1.4 0.2 1.4 0.1 1.4 0.1 1.4 0 1.4 0.1 1.3 0 1.4 -0.1 1.3 0 1.3 -0.2 1.3 -0.2 1.4 -0.2 1.3 -0.3 1.3 -0.4 1.3 -0.4 1.3 -0.5 1.3 -0.5 1.4 -0.6 1.3 -0.5 1.3 -0.5 1.3 -0.5 1.3 -0.5 1.4 -0.5 1.3 -0.4 1.3 -0.4 1.3 -0.5 1.3 -0.4 1.3 -0.5 1.4 -0.4 1.3 -0.4 1.3 -0.5 1.3 -0.4 1.3 -0.5 1.3 -0.4 1.3 -0.4 1.3 -0.5 1.2 -0.4 1.2 -0.5 1.2 -0.4 1.2 -0.4 1.1 -0.5 1.1 -0.4 1.1 -0.5 1 -0.6 0.9 -0.5 1 -0.6 0.9 -0.6 0.8 -0.6 0.8 -0.7 0.8 -0.6 0.7 -0.7 0.6 -0.7 0.5 -0.6 0.5 -0.7 0.4 -0.6 0.3 -0.7 0.2 -0.6 0.2 -0.7 0.1 -0.7 0 -0.6 -0.1 -0.7 -0.2 -0.6 -0.2 -0.7 -0.4 -0.7 -0.4 -0.6 -0.5 -0.6 -0.5 -0.6 -0.7 -0.5 -0.7 -0.5 -0.8 -0.5 -0.8 -0.4 -1 -0.4 -1 -0.3 -1.1 -0.3 -1.1 -0.4 -1.2 -0.4 -1.1 -0.4 -1.3 -0.4 -1.2 -0.4 -1.3 -0.4 -1.2 -0.4 -1.4 -0.5 -1.3 -0.4 -1.3 -0.5 -1.3 -0.4 -1.3 -0.4 -1.3 -0.5 -1.4 -0.4 -1.3 -0.4 -1.3 -0.4 -1.3 -0.4 -1.4 -0.3 -1.4 -0.3 -1.4 -0.2 -1.5 -0.2 -1.5 -0.2 -1.5 -0.1 -1.5 -0.1 -1.5 0 -1.5 -0.1 -1.5 0 -1.4 0 -1.4 0 -1.4 0 -1.3 0 -1.3 0.1 -1.3 0.2 -1.3 0.1 -1.3 0.2 -1.3 0.3 -1.2 0.3 -1.3 0.4 -1.2 0.4 -1.2 0.6 -1.1 0.9 -1 1.2 -0.9 1.4 -0.9 1.6 -0.7 1.9 -0.6z" fill="#0000ff"/>
<path d="M792.9 1066.2l1 0.1 0.9 0.2 0.9 0.4 0.8 0.4 0.8 0.5 0.7 0.7 0.7 0.8 0.6 0.8 0.5 1 0.6 1 0.7 1.1 0.6 1 0.7 1 0.8 1.1 0.8 1.1 0.8 1 0.9 1.1 0.9 1.1 1 1.1 0.9 1 1 1 1 0.9 1.1 0.9 1 1 1.1 0.8 1 0.9 1 1 0.8 0.9 0.7 1 0.7 1 0.5 1.1 0.5 1.1 0.4 1 0.2 1.2 0.2 1.2 0.1 1.3 0 1.3 -0.1 1.4 -0.2 1.4 -0.2 1.5 -0.4 1.5 -0.4 1.5 -0.5 1.6 -0.5 1.5 -0.5 1.6 -0.5 1.5 -0.6 1.5 -0.6 1.6 -0.7 1.5 -0.7 1.6 -0.6 1.6 -0.7 1.6 -0.6 1.6 -0.7 1.7 -0.6 1.7 -0.7 1.7 -0.7 1.8 -0.6 1.7 -0.6 1.6 -0.7 1.6 -0.6 1.6 -0.6 1.5 -0.5 1.4 -0.6 1.4 -0.5 1.3 -0.5 1.3 -0.3 1.2 -0.2 1.3 -0.1 1.2 0 1.1 0.1 1.2 0.2 1.1 0.3 1.1 0.4 1.1 0.4 1.1 0.5 1.1 0.5 1.1 0.5 1.1 0.6 1.1 0.6 1.1 0.6 1.1 0.6 1.1 0.4 0.9 0.4 1 0.2 0.9 0.1 0.8 0 0.7 -0.1 0.8 -0.2 0.6 -0.5 0.6 -0.6 0.6 -0.9 0.5 -1.1 0.4 -1.3 0.4 -1.6 0.3 -1.7 0.3 -2 0.2 -2 0.2 -2.1 0.1 -2.2 0 -2.2 0 -2.2 0 -2.3 -0.1 -2.4 -0.2 -2.4 -0.2 -2.2 -0.3 -2 -0.5 -1.9 -0.5 -1.6 -0.7 -1.5 -0.8 -1.3 -0.8 -1 -1 -0.9 -1.1 -0.9 -1.1 -0.8 -1.1 -0.8 -1.1 -0.7 -1.1 -0.8 -1.1 -0.7 -1.1 -0.7 -1.1 -0.6 -1.1 -0.7 -1.2 -0.6 -1.2 -0.5 -1.2 -0.5 -1.3 -0.5 -1.4 -0.4 -1.4 -0.5 -1.5 -0.3 -1.6 -0.3 -1.5 -0.2 -1.5 -0.1 -1.4 0 -1.4 0.1 -1.4 0.2 -1.4 0.3 -1.4 0.3 -1.3 0.5 -1.3 0.5 -1.4 0.5 -1.4 0.7 -1.4 0.7 -1.5 0.7 -1.5 0.8 -1.5 0.9 -1.5 0.9 -1.5 0.8 -1.6 0.8 -1.5 0.7 -1.6 0.8 -1.5 0.7 -1.5 0.7 -1.6 0.6 -1.5 0.7 -1.5 0.7 -1.6 0.6 -1.5 0.7 -1.5 0.6 -1.6 0.7 -1.5 0.7 -1.6 0.6 -1.5 0.6 -1.5 0.6 -1.5 0.5 -1.4 0.4 -1.5 0.4 -1.4 0.3 -1.3 0.3 -1.4 0.2 -1.3 0.3 -1.3 0.2 -1.3 0.3 -1.4 0.4 -1.3 0.3 -1.3 0.4 -1.3 0.4 -1.3 0.5 -1.3 0.4 -1.3 0.5 -1.2 0.5 -1.2 0.6 -1.1 0.6 -1 0.6 -1 0.6 -0.9 0.7 -0.9 0.7 -0.8 0.7 -0.6 0.8 -0.5 0.8 -0.4 0.9 -0.3 0.9 -0.1z" fill="#0000ff"/>
<g filter="url(#bl)">
<path d="M809.2 1120.6l-0.9 1.9 -0.9 1.8 -0.8 1.6 -0.8 1.7 -0.7 1.6 -0.8 1.6 -0.8 1.6 -0.9 1.8 -0.9 1.8 -0.9 2.1 0.2 4.8 0.4 7.3 -2 4.3 -3.3 1 -3.5 0.7 -3.5 0.5 -3.6 0.3 -3.6 0.1 -3.7 -0.4 -3.5 -1.3 -3.1 -2 -2.7 -2.5 -2.3 -2.9 -1.6 -3.3 -0.8 -3.6 -0.2 -3.7 0.6 -3.7 1 -3.4 1.3 -2.9 1.3 -2.6 1.2 -2.2 1.1 -2 0.9 -1.7 0.9 -1.6 0.8 -1.5 0.8 -1.5 0.8 -1.4 0.7 -1.4 0.8 -1.5 0.8 -1.5 0.9 -1.6 0.9 -1.7 1 -2 1 -2.5 1.2 -3.5 1.6 -4.5 2.3 -4.8 3.2 -3.5 3.7 -1.1 3.5 1.2 3.1 2.1 3 2 3 1.6 2.9 1.7 2.7 2.1 2.1 2.7 1.2 3.3 0.3 3.6 -0.5 3.7 -0.9 3.3 -1 3 -1 2.6 -1.1 2.4z" fill="#000eff"/>
<path d="M808.2 1120.6l-0.9 1.8 -0.9 1.7 -0.8 1.5 -0.7 1.6 -0.8 1.4 -0.8 1.5 -0.7 1.6 -0.9 1.5 -0.9 1.7 -0.9 1.9 0 4.1 0.2 6.2 -1.8 3.7 -3 1.1 -3 0.7 -3.2 0.6 -3.2 0.5 -3.4 0.3 -3.5 -0.2 -3.3 -0.9 -3 -1.5 -2.8 -2 -2.3 -2.6 -1.6 -3.1 -0.8 -3.4 -0.1 -3.6 0.5 -3.5 1 -3.3 1.2 -2.8 1.2 -2.5 1.2 -2.1 1 -1.9 1 -1.6 0.8 -1.6 0.8 -1.4 0.8 -1.4 0.8 -1.3 0.7 -1.4 0.8 -1.3 0.8 -1.4 0.8 -1.5 0.9 -1.6 1 -1.8 1 -2.2 1.2 -3 1.4 -4 2.2 -4.1 2.9 -3.1 3.3 -1.1 3.3 0.7 3 1.6 2.9 1.4 2.9 1.3 2.9 1.4 2.7 1.9 2 2.6 1.1 3.2 0.3 3.5 -0.5 3.5 -0.9 3.2 -1 2.8 -1 2.5 -1 2.3z" fill="#0029ff"/>
<path d="M807.3 1120.6l-0.9 1.7 -0.8 1.6 -0.8 1.5 -0.8 1.4 -0.7 1.4 -0.8 1.4 -0.8 1.4 -0.8 1.4 -0.9 1.5 -0.9 1.7 -0.1 3.5 0 5.3 -1.7 3.2 -2.6 1 -2.8 0.8 -2.8 0.7 -3 0.6 -3.1 0.5 -3.2 0.1 -3.2 -0.5 -3 -1.2 -2.8 -1.6 -2.2 -2.3 -1.6 -2.9 -0.9 -3.3 -0.1 -3.4 0.6 -3.4 0.9 -3.1 1.1 -2.8 1.2 -2.3 1.1 -2.1 1 -1.8 0.9 -1.6 0.9 -1.4 0.8 -1.4 0.7 -1.3 0.8 -1.3 0.7 -1.3 0.8 -1.2 0.8 -1.3 0.8 -1.4 0.9 -1.4 0.9 -1.7 1.1 -2 1.1 -2.6 1.4 -3.4 2 -3.6 2.6 -2.7 3 -1.1 3.1 0.3 2.8 1.1 2.8 1 3 0.9 2.9 1.2 2.5 1.7 2 2.5 1 3 0.3 3.4 -0.5 3.4 -0.8 3.1 -1 2.7 -1 2.4 -1 2.1z" fill="#0045ff"/>
<path d="M806.4 1120.6l-0.8 1.6 -0.8 1.5 -0.8 1.4 -0.8 1.4 -0.7 1.3 -0.8 1.3 -0.7 1.3 -0.8 1.3 -0.9 1.4 -0.9 1.5 -0.2 2.9 -0.3 4.4 -1.5 2.7 -2.3 1 -2.4 0.9 -2.6 0.8 -2.7 0.7 -2.9 0.7 -3 0.3 -3.1 -0.2 -2.9 -0.8 -2.8 -1.3 -2.3 -2.1 -1.6 -2.6 -0.8 -3.2 -0.1 -3.3 0.5 -3.3 0.9 -3 1.1 -2.6 1.1 -2.3 1.1 -1.9 0.9 -1.8 0.9 -1.5 0.9 -1.4 0.7 -1.3 0.8 -1.3 0.7 -1.2 0.8 -1.2 0.7 -1.2 0.8 -1.2 0.8 -1.2 0.9 -1.4 0.9 -1.5 1 -1.7 1.1 -2.3 1.4 -2.9 1.8 -3 2.4 -2.4 2.8 -1.2 2.8 0 2.7 0.6 2.8 0.6 2.9 0.6 2.9 0.9 2.5 1.6 1.9 2.4 1 3 0.1 3.2 -0.4 3.3 -0.8 3 -1 2.6 -1 2.3 -0.9 2z" fill="#0060ff"/>
<path d="M805.7 1120.6l-0.9 1.6 -0.8 1.4 -0.7 1.3 -0.8 1.3 -0.7 1.2 -0.8 1.2 -0.7 1.2 -0.8 1.2 -0.9 1.2 -0.8 1.4 -0.4 2.5 -0.4 3.5 -1.4 2.3 -2.1 1 -2.1 0.9 -2.3 0.9 -2.4 0.9 -2.7 0.7 -2.9 0.6 -2.9 0.1 -2.9 -0.5 -2.8 -1 -2.3 -1.8 -1.6 -2.5 -0.9 -3 0 -3.2 0.5 -3.2 0.9 -2.9 1 -2.5 1 -2.2 1.1 -1.9 0.9 -1.7 0.9 -1.5 0.8 -1.3 0.8 -1.3 0.7 -1.2 0.8 -1.1 0.7 -1.1 0.7 -1.1 0.8 -1.2 0.8 -1.1 0.9 -1.3 0.9 -1.3 1 -1.5 1 -2 1.3 -2.4 1.7 -2.6 2.2 -2.1 2.5 -1.2 2.6 -0.3 2.6 0.2 2.8 0.1 2.9 0.4 2.8 0.7 2.5 1.5 1.8 2.2 1 2.9 0.1 3.2 -0.5 3.1 -0.8 2.9 -0.9 2.5 -1 2.3 -0.9 1.9z" fill="#0080ff"/>
<path d="M805 1120.6l-0.9 1.5 -0.8 1.4 -0.7 1.2 -0.8 1.2 -0.7 1.1 -0.8 1.1 -0.7 1.1 -0.8 1.1 -0.8 1.2 -0.8 1.2 -0.6 2 -0.5 2.7 -1.3 1.9 -1.8 1 -1.9 1 -2 0.9 -2.2 1 -2.5 0.9 -2.7 0.8 -2.8 0.4 -2.9 -0.1 -2.8 -0.8 -2.3 -1.6 -1.6 -2.3 -0.8 -2.9 -0.1 -3.1 0.5 -3.1 0.9 -2.8 0.9 -2.4 1 -2.1 1 -1.9 0.9 -1.6 0.9 -1.4 0.8 -1.3 0.8 -1.2 0.7 -1.2 0.8 -1 0.7 -1.1 0.7 -1 0.8 -1.1 0.8 -1.1 0.8 -1.1 0.9 -1.2 1 -1.4 1 -1.6 1.3 -2 1.6 -2.1 1.9 -1.8 2.3 -1.2 2.4 -0.6 2.5 -0.3 2.7 -0.2 2.9 0.1 2.8 0.5 2.4 1.3 1.8 2.2 0.9 2.8 0.1 3.1 -0.5 3.1 -0.7 2.7 -1 2.5 -0.9 2.1 -0.9 1.9z" fill="#00a4ff"/>
<path d="M804.3 1120.6l-0.8 1.4 -0.8 1.3 -0.8 1.2 -0.7 1.1 -0.8 1.1 -0.7 1 -0.7 1 -0.8 1 -0.8 1.1 -0.8 1 -0.7 1.6 -0.7 1.9 -1.2 1.5 -1.5 1.1 -1.6 1 -1.8 1 -2 1.1 -2.3 1.1 -2.5 0.9 -2.7 0.7 -2.9 0.1 -2.8 -0.5 -2.3 -1.3 -1.6 -2.2 -0.8 -2.8 -0.1 -3 0.5 -2.9 0.8 -2.7 0.9 -2.4 1 -2 1 -1.8 0.8 -1.6 0.9 -1.4 0.8 -1.2 0.8 -1.2 0.7 -1.1 0.7 -1 0.8 -1 0.7 -1 0.7 -0.9 0.8 -1 0.8 -1.1 0.9 -1 1 -1.2 1 -1.4 1.2 -1.6 1.5 -1.7 1.7 -1.5 2 -1.2 2.3 -0.9 2.4 -0.6 2.7 -0.6 2.8 -0.2 2.8 0.4 2.4 1.2 1.7 2.1 0.9 2.7 0.1 3 -0.5 3 -0.8 2.6 -0.9 2.4 -0.9 2 -0.9 1.8z" fill="#00c9ff"/>
<path d="M803.7 1120.6l-0.9 1.4 -0.7 1.2 -0.8 1.1 -0.7 1.1 -0.8 1 -0.7 0.9 -0.7 0.9 -0.8 0.9 -0.7 1 -0.9 0.9 -0.8 1.1 -0.8 1.3 -1.1 1.1 -1.2 1 -1.4 1.1 -1.6 1.1 -1.8 1.2 -2.1 1.2 -2.3 1.1 -2.7 0.9 -2.8 0.5 -2.8 -0.3 -2.4 -1.1 -1.6 -2.1 -0.8 -2.6 0 -3 0.5 -2.8 0.7 -2.6 0.9 -2.3 1 -1.9 0.9 -1.8 0.8 -1.5 0.9 -1.3 0.7 -1.2 0.8 -1.1 0.7 -1.1 0.8 -1 0.7 -0.9 0.7 -0.9 0.8 -0.9 0.7 -0.9 0.8 -0.9 0.9 -1 0.9 -1 1.1 -1.1 1.1 -1.2 1.4 -1.3 1.5 -1.3 1.8 -1.2 2.1 -1.1 2.3 -1 2.7 -0.9 2.8 -0.5 2.8 0.2 2.3 1.1 1.7 2 0.8 2.7 0.1 2.9 -0.5 2.8 -0.8 2.6 -0.9 2.3 -0.9 2 -0.9 1.7z" fill="#00edff"/>
<path d="M803 1120.6l-0.8 1.3 -0.8 1.2 -0.7 1 -0.7 1 -0.7 1 -0.7 0.8 -0.7 0.9 -0.8 0.9 -0.7 0.8 -0.8 0.9 -0.8 0.8 -0.9 0.9 -1 1 -1.1 1 -1.3 1 -1.4 1.2 -1.6 1.2 -2 1.2 -2.2 1.2 -2.6 1 -2.7 0.5 -2.7 -0.1 -2.3 -1 -1.6 -1.9 -0.8 -2.6 0 -2.8 0.5 -2.7 0.7 -2.5 0.9 -2.2 0.8 -1.9 0.9 -1.6 0.8 -1.5 0.8 -1.3 0.8 -1.1 0.7 -1.1 0.7 -1 0.7 -0.9 0.7 -0.9 0.8 -0.9 0.7 -0.8 0.7 -0.9 0.8 -0.8 0.8 -0.9 0.9 -0.9 1 -0.9 1.1 -1 1.3 -1.1 1.4 -1.1 1.7 -1.2 1.9 -1.2 2.2 -1.2 2.6 -1 2.7 -0.6 2.7 0.1 2.4 1.1 1.5 1.9 0.8 2.6 0 2.8 -0.4 2.7 -0.8 2.5 -0.8 2.1 -0.9 1.9 -0.9 1.7z" fill="#00ffe6"/>
<path d="M802.3 1120.6l-0.8 1.2 -0.7 1.1 -0.7 1.1 -0.7 0.9 -0.6 0.9 -0.7 0.8 -0.7 0.8 -0.7 0.8 -0.7 0.9 -0.7 0.8 -0.8 0.8 -0.9 0.9 -0.9 0.9 -1 0.9 -1.2 1 -1.4 1.1 -1.6 1.1 -1.8 1.2 -2.1 1.1 -2.5 1 -2.6 0.5 -2.5 -0.1 -2.2 -1 -1.5 -1.8 -0.7 -2.5 0 -2.7 0.4 -2.5 0.7 -2.4 0.8 -2 0.9 -1.8 0.8 -1.6 0.8 -1.4 0.7 -1.2 0.7 -1.1 0.7 -1 0.7 -0.9 0.7 -0.9 0.6 -0.9 0.7 -0.8 0.7 -0.8 0.7 -0.8 0.7 -0.8 0.8 -0.8 0.9 -0.9 0.9 -0.9 1.1 -1 1.2 -1 1.3 -1 1.6 -1.2 1.8 -1.1 2.2 -1.2 2.4 -0.9 2.6 -0.6 2.6 0.2 2.1 1 1.5 1.8 0.7 2.4 0.1 2.7 -0.5 2.6 -0.7 2.3 -0.8 2.1 -0.8 1.8 -0.8 1.6z" fill="#00ffb3"/>
<path d="M801.5 1120.6l-0.7 1.2 -0.6 1 -0.7 1 -0.6 0.9 -0.7 0.8 -0.6 0.8 -0.6 0.8 -0.7 0.7 -0.6 0.8 -0.7 0.8 -0.8 0.8 -0.8 0.8 -0.9 0.8 -1 0.9 -1.1 1 -1.3 1 -1.5 1.1 -1.7 1.1 -2.1 1.1 -2.2 0.9 -2.5 0.5 -2.4 -0.1 -2.1 -1 -1.4 -1.8 -0.7 -2.3 0 -2.5 0.5 -2.4 0.6 -2.3 0.8 -1.9 0.8 -1.7 0.7 -1.5 0.8 -1.3 0.7 -1.1 0.7 -1.1 0.6 -0.9 0.7 -0.9 0.6 -0.8 0.6 -0.8 0.7 -0.8 0.6 -0.8 0.7 -0.8 0.7 -0.7 0.7 -0.8 0.8 -0.8 0.9 -0.9 1 -0.9 1.1 -0.9 1.3 -1.1 1.5 -1 1.7 -1.1 2.1 -1.1 2.3 -0.9 2.4 -0.5 2.5 0.1 2 0.9 1.4 1.8 0.7 2.3 0 2.5 -0.4 2.5 -0.7 2.2 -0.8 2 -0.7 1.7 -0.8 1.4z" fill="#00ff80"/>
<path d="M800.8 1120.6l-0.7 1.1 -0.6 1 -0.6 0.9 -0.6 0.8 -0.6 0.8 -0.6 0.8 -0.6 0.7 -0.6 0.7 -0.6 0.7 -0.7 0.8 -0.7 0.7 -0.7 0.8 -0.9 0.8 -0.9 0.9 -1.1 0.9 -1.2 0.9 -1.4 1.1 -1.6 1 -2 1 -2.1 0.9 -2.4 0.5 -2.2 -0.2 -2 -0.9 -1.3 -1.7 -0.6 -2.2 0 -2.3 0.4 -2.3 0.6 -2.1 0.7 -1.9 0.8 -1.6 0.7 -1.4 0.7 -1.2 0.7 -1.1 0.6 -0.9 0.6 -0.9 0.6 -0.9 0.6 -0.8 0.6 -0.7 0.6 -0.8 0.6 -0.7 0.6 -0.7 0.7 -0.7 0.7 -0.8 0.8 -0.7 0.8 -0.9 0.9 -0.8 1.1 -0.9 1.2 -1 1.4 -1 1.7 -1.1 1.9 -1 2.2 -0.8 2.3 -0.5 2.3 0.1 1.9 0.9 1.3 1.7 0.6 2.2 0 2.4 -0.4 2.3 -0.6 2.1 -0.7 1.8 -0.8 1.6 -0.7 1.4z" fill="#00ff47"/>
<path d="M800.1 1120.6l-0.6 1 -0.6 1 -0.6 0.8 -0.6 0.8 -0.5 0.7 -0.6 0.7 -0.5 0.7 -0.6 0.7 -0.6 0.7 -0.6 0.7 -0.7 0.7 -0.7 0.7 -0.8 0.8 -0.8 0.8 -1 0.8 -1.2 1 -1.3 0.9 -1.6 1 -1.8 1 -2 0.8 -2.2 0.4 -2.2 -0.1 -1.8 -0.9 -1.2 -1.6 -0.5 -2.1 0 -2.2 0.4 -2.2 0.5 -1.9 0.7 -1.7 0.7 -1.5 0.7 -1.3 0.6 -1.2 0.7 -1 0.6 -0.9 0.5 -0.9 0.6 -0.7 0.5 -0.8 0.6 -0.7 0.6 -0.7 0.5 -0.7 0.6 -0.6 0.6 -0.7 0.7 -0.7 0.7 -0.8 0.8 -0.7 0.9 -0.8 1 -0.9 1.1 -0.9 1.3 -1 1.6 -1 1.8 -0.9 2 -0.8 2.2 -0.5 2.2 0.2 1.8 0.8 1.2 1.6 0.6 2.1 0 2.2 -0.4 2.2 -0.6 2 -0.7 1.7 -0.7 1.5 -0.7 1.3z" fill="#00ff0e"/>
<path d="M799.4 1120.6l-0.6 1 -0.6 0.8 -0.5 0.8 -0.5 0.8 -0.5 0.7 -0.6 0.6 -0.5 0.7 -0.5 0.6 -0.6 0.6 -0.5 0.7 -0.7 0.6 -0.6 0.7 -0.8 0.8 -0.8 0.7 -0.9 0.8 -1.1 0.9 -1.2 0.9 -1.5 0.9 -1.7 0.9 -1.9 0.8 -2.1 0.4 -2 -0.1 -1.6 -0.9 -1.2 -1.5 -0.5 -1.9 0 -2.1 0.4 -2.1 0.6 -1.8 0.6 -1.6 0.6 -1.4 0.7 -1.2 0.6 -1.1 0.5 -0.9 0.6 -0.9 0.5 -0.8 0.6 -0.7 0.5 -0.7 0.5 -0.7 0.5 -0.6 0.5 -0.7 0.6 -0.6 0.6 -0.6 0.6 -0.7 0.6 -0.7 0.8 -0.7 0.8 -0.8 0.9 -0.8 1.1 -0.8 1.3 -0.9 1.4 -1 1.7 -0.9 1.9 -0.7 2.1 -0.4 2 0.1 1.7 0.8 1.1 1.5 0.5 2 0 2.1 -0.4 2 -0.5 1.8 -0.7 1.6 -0.6 1.4 -0.6 1.3z" fill="#26ff00"/>
<path d="M798.6 1120.6l-0.5 0.9 -0.5 0.8 -0.5 0.7 -0.5 0.7 -0.5 0.7 -0.4 0.6 -0.5 0.6 -0.5 0.6 -0.5 0.6 -0.6 0.6 -0.5 0.6 -0.7 0.7 -0.7 0.6 -0.7 0.7 -0.9 0.8 -1 0.8 -1.2 0.9 -1.3 0.8 -1.6 0.9 -1.8 0.7 -1.9 0.4 -1.9 -0.2 -1.5 -0.8 -1.1 -1.4 -0.4 -1.8 0 -2 0.4 -1.9 0.5 -1.7 0.5 -1.5 0.6 -1.3 0.6 -1.1 0.6 -1 0.5 -0.9 0.5 -0.8 0.5 -0.7 0.5 -0.7 0.5 -0.6 0.5 -0.6 0.4 -0.7 0.5 -0.5 0.6 -0.6 0.5 -0.6 0.6 -0.7 0.6 -0.6 0.7 -0.7 0.7 -0.7 0.9 -0.7 1 -0.9 1.2 -0.8 1.3 -0.9 1.6 -0.8 1.8 -0.7 1.9 -0.4 1.9 0.1 1.5 0.8 1.1 1.5 0.4 1.8 0 1.9 -0.3 1.9 -0.5 1.7 -0.6 1.5 -0.6 1.3 -0.6 1.1z" fill="#59ff00"/>
<path d="M797.9 1120.6l-0.5 0.8 -0.5 0.8 -0.4 0.7 -0.5 0.6 -0.4 0.6 -0.4 0.6 -0.5 0.5 -0.4 0.6 -0.5 0.5 -0.5 0.6 -0.5 0.6 -0.6 0.6 -0.6 0.6 -0.8 0.7 -0.8 0.7 -0.9 0.7 -1.1 0.8 -1.2 0.8 -1.5 0.8 -1.7 0.7 -1.8 0.3 -1.7 -0.1 -1.4 -0.8 -0.9 -1.3 -0.5 -1.7 0.1 -1.8 0.3 -1.8 0.5 -1.5 0.5 -1.4 0.6 -1.2 0.5 -1.1 0.5 -0.9 0.5 -0.8 0.5 -0.7 0.4 -0.7 0.5 -0.6 0.4 -0.6 0.5 -0.6 0.4 -0.6 0.5 -0.5 0.4 -0.6 0.5 -0.5 0.6 -0.6 0.5 -0.6 0.7 -0.6 0.7 -0.7 0.8 -0.7 0.9 -0.8 1.1 -0.8 1.3 -0.8 1.4 -0.8 1.7 -0.6 1.8 -0.4 1.7 0.2 1.4 0.7 1 1.4 0.4 1.7 -0.1 1.8 -0.3 1.7 -0.5 1.6 -0.5 1.4 -0.5 1.2 -0.6 1z" fill="#8cff00"/>
<path d="M797.2 1120.6l-0.5 0.8 -0.4 0.7 -0.4 0.6 -0.4 0.6 -0.4 0.5 -0.4 0.5 -0.4 0.6 -0.4 0.5 -0.5 0.5 -0.4 0.5 -0.5 0.5 -0.5 0.6 -0.6 0.6 -0.7 0.6 -0.7 0.6 -0.9 0.8 -1 0.7 -1.2 0.8 -1.3 0.7 -1.6 0.6 -1.6 0.3 -1.6 -0.1 -1.3 -0.8 -0.8 -1.2 -0.4 -1.6 0 -1.7 0.4 -1.6 0.4 -1.4 0.5 -1.3 0.5 -1.1 0.5 -0.9 0.4 -0.9 0.5 -0.7 0.4 -0.7 0.4 -0.6 0.4 -0.6 0.4 -0.6 0.4 -0.5 0.4 -0.5 0.5 -0.5 0.4 -0.5 0.5 -0.6 0.4 -0.5 0.6 -0.5 0.6 -0.6 0.6 -0.6 0.8 -0.7 0.8 -0.7 1 -0.7 1.2 -0.8 1.3 -0.7 1.6 -0.6 1.6 -0.4 1.6 0.2 1.3 0.7 0.9 1.3 0.3 1.6 0 1.6 -0.3 1.6 -0.5 1.5 -0.5 1.2 -0.5 1.1 -0.4 1z" fill="#bfff00"/>
<path d="M796.5 1120.6l-0.4 0.7 -0.4 0.6 -0.4 0.6 -0.4 0.5 -0.3 0.5 -0.4 0.5 -0.4 0.5 -0.4 0.5 -0.3 0.4 -0.5 0.5 -0.4 0.5 -0.5 0.5 -0.5 0.5 -0.6 0.6 -0.7 0.6 -0.8 0.7 -0.9 0.7 -1.1 0.7 -1.2 0.6 -1.5 0.6 -1.5 0.3 -1.4 -0.2 -1.2 -0.7 -0.7 -1.1 -0.3 -1.5 0 -1.5 0.3 -1.5 0.4 -1.3 0.4 -1.1 0.5 -1 0.4 -0.9 0.5 -0.8 0.4 -0.7 0.4 -0.6 0.3 -0.5 0.4 -0.6 0.4 -0.5 0.3 -0.5 0.4 -0.4 0.4 -0.5 0.4 -0.5 0.4 -0.5 0.4 -0.4 0.5 -0.6 0.5 -0.5 0.6 -0.6 0.7 -0.6 0.8 -0.6 0.9 -0.7 1.1 -0.7 1.3 -0.7 1.4 -0.5 1.5 -0.3 1.4 0.1 1.2 0.7 0.8 1.2 0.3 1.4 -0.1 1.6 -0.3 1.4 -0.4 1.4 -0.4 1.1 -0.5 1 -0.4 0.9z" fill="#f2ff00"/>
<path d="M795.7 1120.6l-0.3 0.6 -0.4 0.6 -0.3 0.5 -0.3 0.5 -0.4 0.5 -0.3 0.4 -0.3 0.4 -0.4 0.5 -0.3 0.4 -0.4 0.4 -0.4 0.5 -0.4 0.4 -0.5 0.5 -0.6 0.5 -0.6 0.6 -0.7 0.6 -0.8 0.6 -1 0.6 -1.1 0.7 -1.3 0.5 -1.4 0.2 -1.3 -0.1 -1 -0.7 -0.7 -1 -0.3 -1.4 0.1 -1.4 0.2 -1.3 0.4 -1.2 0.4 -1 0.4 -0.9 0.4 -0.8 0.4 -0.7 0.3 -0.6 0.4 -0.6 0.3 -0.5 0.4 -0.5 0.3 -0.4 0.3 -0.4 0.3 -0.5 0.4 -0.4 0.3 -0.4 0.4 -0.5 0.4 -0.4 0.5 -0.5 0.4 -0.5 0.6 -0.5 0.6 -0.5 0.7 -0.6 0.8 -0.6 1 -0.7 1.2 -0.6 1.2 -0.5 1.4 -0.3 1.3 0.2 1.1 0.6 0.6 1.1 0.3 1.3 0 1.4 -0.3 1.3 -0.4 1.2 -0.4 1.1 -0.4 0.9 -0.4 0.7z" fill="#ffd600"/>
<path d="M794.7 1120.6l-0.3 0.5 -0.3 0.5 -0.3 0.5 -0.3 0.4 -0.2 0.3 -0.3 0.4 -0.3 0.4 -0.3 0.3 -0.3 0.4 -0.3 0.4 -0.3 0.3 -0.4 0.4 -0.4 0.4 -0.5 0.5 -0.5 0.4 -0.6 0.5 -0.7 0.6 -0.8 0.5 -1 0.5 -1.1 0.4 -1.1 0.3 -1.1 -0.2 -0.9 -0.5 -0.6 -0.9 -0.2 -1.1 0.1 -1.2 0.2 -1.1 0.3 -1 0.3 -0.9 0.4 -0.7 0.3 -0.7 0.3 -0.6 0.3 -0.5 0.3 -0.5 0.3 -0.4 0.3 -0.4 0.3 -0.4 0.2 -0.4 0.3 -0.3 0.3 -0.4 0.3 -0.3 0.3 -0.4 0.4 -0.4 0.3 -0.4 0.4 -0.4 0.5 -0.4 0.5 -0.5 0.6 -0.5 0.7 -0.5 0.8 -0.6 1 -0.5 1.1 -0.4 1.1 -0.2 1.1 0.1 0.9 0.6 0.6 0.9 0.2 1.1 0 1.1 -0.3 1.2 -0.3 1 -0.3 0.8 -0.3 0.8 -0.4 0.6z" fill="#ff9700"/>
<path d="M793.7 1120.6l-0.3 0.4 -0.2 0.4 -0.3 0.4 -0.2 0.3 -0.2 0.3 -0.2 0.3 -0.3 0.3 -0.2 0.3 -0.2 0.3 -0.3 0.3 -0.3 0.3 -0.3 0.3 -0.3 0.4 -0.4 0.3 -0.4 0.4 -0.5 0.4 -0.6 0.4 -0.6 0.5 -0.8 0.4 -0.9 0.3 -0.9 0.2 -0.9 -0.1 -0.7 -0.4 -0.5 -0.8 -0.2 -0.9 0.1 -0.9 0.1 -0.9 0.3 -0.8 0.3 -0.8 0.2 -0.6 0.3 -0.5 0.3 -0.5 0.2 -0.4 0.3 -0.4 0.2 -0.3 0.2 -0.4 0.2 -0.3 0.3 -0.3 0.2 -0.3 0.2 -0.3 0.3 -0.3 0.2 -0.2 0.3 -0.4 0.3 -0.3 0.3 -0.3 0.4 -0.4 0.4 -0.3 0.5 -0.4 0.6 -0.5 0.7 -0.4 0.7 -0.4 0.9 -0.4 0.9 -0.1 0.9 0.1 0.8 0.4 0.4 0.7 0.2 0.9 0 1 -0.2 0.9 -0.3 0.8 -0.2 0.7 -0.3 0.6 -0.3 0.6z" fill="#ff5e00"/>
<path d="M792.6 1120.6l-0.2 0.4 -0.2 0.2 -0.1 0.3 -0.2 0.3 -0.2 0.2 -0.2 0.2 -0.1 0.3 -0.2 0.2 -0.2 0.2 -0.2 0.2 -0.2 0.3 -0.2 0.2 -0.3 0.3 -0.3 0.3 -0.3 0.2 -0.4 0.4 -0.4 0.3 -0.5 0.3 -0.6 0.3 -0.7 0.3 -0.7 0.1 -0.7 0 -0.6 -0.4 -0.3 -0.5 -0.2 -0.7 0.1 -0.8 0.1 -0.7 0.2 -0.6 0.2 -0.5 0.2 -0.5 0.2 -0.4 0.2 -0.4 0.2 -0.3 0.2 -0.3 0.2 -0.3 0.1 -0.2 0.2 -0.3 0.2 -0.2 0.2 -0.2 0.1 -0.2 0.2 -0.3 0.2 -0.2 0.2 -0.2 0.3 -0.3 0.2 -0.2 0.3 -0.3 0.3 -0.3 0.4 -0.3 0.5 -0.3 0.5 -0.4 0.6 -0.3 0.6 -0.3 0.8 -0.1 0.6 0.1 0.6 0.3 0.4 0.6 0.1 0.7 0 0.7 -0.2 0.7 -0.2 0.6 -0.2 0.6 -0.2 0.4 -0.2 0.5z" fill="#ff2f00"/>
<path d="M791.6 1120.6l-0.2 0.3 -0.1 0.2 -0.1 0.1 -0.2 0.2 -0.1 0.2 -0.1 0.2 -0.1 0.1 -0.1 0.2 -0.2 0.1 -0.1 0.2 -0.2 0.2 -0.1 0.1 -0.2 0.2 -0.2 0.2 -0.2 0.2 -0.3 0.2 -0.3 0.2 -0.4 0.3 -0.4 0.2 -0.5 0.2 -0.5 0.1 -0.4 -0.1 -0.4 -0.2 -0.3 -0.4 -0.1 -0.5 0.1 -0.5 0 -0.5 0.2 -0.4 0.1 -0.4 0.2 -0.3 0.1 -0.3 0.2 -0.3 0.1 -0.2 0.1 -0.2 0.2 -0.2 0.1 -0.2 0.1 -0.1 0.1 -0.2 0.1 -0.2 0.2 -0.1 0.1 -0.2 0.1 -0.1 0.2 -0.2 0.1 -0.2 0.2 -0.2 0.2 -0.1 0.2 -0.2 0.3 -0.3 0.3 -0.2 0.4 -0.2 0.4 -0.3 0.5 -0.1 0.5 -0.1 0.5 0 0.3 0.3 0.3 0.3 0.1 0.5 0 0.5 -0.1 0.5 -0.2 0.5 -0.1 0.4 -0.2 0.3 -0.1 0.3z" fill="#ff0000"/>
</g>
<g filter="url(#bl)">
<path d="M809.7 1183.5l-0.5 2.9 -0.7 2.7 -1 2.7 -1 2.8 -1.2 3 -1.2 3.7 -1.4 4.7 -2.1 6.4 -3.5 8.1 -5.9 6.2 -6.8 -0.3 -5 -6.6 -2.7 -7.7 -1.9 -6 -1.3 -4.9 -0.8 -4.2 -0.4 -3.9 -0.1 -3.4 -0.1 -3.2 0.1 -3 0.2 -3 0.5 -2.9 0.9 -2.9 1.7 -2.6 2.5 -1.8 2.8 -1.2 2.7 -0.7 2.7 -0.5 2.5 -0.3 2.5 -0.4 2.6 -0.2 2.9 -0.2 3.1 -0.1 3.4 0.3 3.3 1.2 2.3 2.6 0.9 3.3 0.2 3.3 0 3.2z" fill="#000cff"/>
<path d="M808.8 1183.5l-0.5 2.7 -0.7 2.6 -0.9 2.6 -1 2.6 -1.1 2.9 -1.1 3.5 -1.4 4.5 -2 6.1 -3.3 7.6 -5.6 5.9 -6.4 -0.3 -4.8 -6.2 -2.6 -7.3 -1.7 -5.8 -1.3 -4.6 -0.8 -4 -0.3 -3.6 -0.2 -3.3 0 -3 0 -2.9 0.3 -2.8 0.4 -2.8 0.9 -2.8 1.6 -2.4 2.3 -1.8 2.7 -1.1 2.6 -0.6 2.5 -0.5 2.4 -0.3 2.4 -0.3 2.5 -0.3 2.7 -0.2 3 -0.1 3.2 0.3 3.1 1.2 2.2 2.4 0.9 3.2 0.2 3.2 0 2.9z" fill="#0019ff"/>
<path d="M807.7 1183.5l-0.4 2.6 -0.7 2.4 -0.8 2.4 -1 2.5 -1 2.7 -1 3.3 -1.4 4.2 -1.8 5.7 -3.2 7.2 -5.2 5.5 -6 -0.2 -4.5 -5.9 -2.5 -6.9 -1.6 -5.3 -1.2 -4.4 -0.7 -3.8 -0.4 -3.4 -0.1 -3 0 -2.9 0 -2.7 0.2 -2.6 0.5 -2.7 0.8 -2.6 1.5 -2.3 2.2 -1.6 2.5 -1 2.4 -0.7 2.4 -0.4 2.3 -0.3 2.2 -0.3 2.4 -0.2 2.5 -0.2 2.8 -0.1 3 0.3 3 1.1 2 2.2 0.8 3 0.2 3 0 2.8z" fill="#0025ff"/>
<path d="M806.6 1183.5l-0.4 2.4 -0.6 2.3 -0.8 2.2 -0.9 2.3 -0.9 2.6 -1.1 3 -1.2 3.9 -1.7 5.3 -2.9 6.7 -4.9 5.2 -5.6 -0.3 -4.2 -5.5 -2.3 -6.3 -1.5 -5 -1.1 -4.1 -0.7 -3.5 -0.3 -3.2 -0.1 -2.8 -0.1 -2.7 0.1 -2.5 0.2 -2.5 0.4 -2.4 0.8 -2.4 1.4 -2.2 2 -1.5 2.3 -0.9 2.3 -0.6 2.2 -0.4 2.1 -0.3 2.1 -0.3 2.2 -0.2 2.3 -0.2 2.6 -0.1 2.9 0.3 2.7 1 1.9 2.1 0.8 2.8 0.1 2.8 0 2.6z" fill="#0031ff"/>
<path d="M805.3 1183.5l-0.3 2.2 -0.6 2.1 -0.7 2.1 -0.8 2.1 -0.9 2.3 -0.9 2.8 -1.1 3.6 -1.6 4.9 -2.7 6.2 -4.5 4.7 -5.2 -0.2 -3.8 -5 -2.1 -5.9 -1.4 -4.6 -1 -3.7 -0.6 -3.3 -0.3 -2.9 -0.2 -2.6 0 -2.5 0.1 -2.3 0.2 -2.3 0.3 -2.2 0.7 -2.2 1.3 -2 1.9 -1.4 2.1 -0.9 2.1 -0.5 2 -0.4 2 -0.3 1.9 -0.2 2 -0.2 2.2 -0.2 2.4 0 2.6 0.2 2.5 0.9 1.7 2 0.7 2.5 0.2 2.6 0 2.4z" fill="#003dff"/>
<path d="M804.1 1183.5l-0.4 2 -0.5 1.9 -0.7 1.9 -0.7 1.9 -0.8 2.1 -0.8 2.6 -1 3.2 -1.4 4.5 -2.5 5.6 -4.1 4.3 -4.7 -0.2 -3.5 -4.6 -1.9 -5.3 -1.3 -4.2 -0.9 -3.4 -0.5 -2.9 -0.3 -2.7 -0.1 -2.4 -0.1 -2.2 0.1 -2.1 0.2 -2 0.3 -2.1 0.6 -2 1.2 -1.8 1.7 -1.3 1.9 -0.8 2 -0.5 1.8 -0.3 1.8 -0.3 1.7 -0.2 1.8 -0.2 2 -0.1 2.2 -0.1 2.4 0.2 2.2 0.9 1.6 1.8 0.7 2.3 0.1 2.3 0 2.2z" fill="#004aff"/>
<path d="M802.7 1183.5l-0.3 1.8 -0.4 1.7 -0.6 1.7 -0.7 1.7 -0.7 1.9 -0.7 2.3 -1 2.9 -1.2 4 -2.2 5 -3.7 3.9 -4.2 -0.2 -3.1 -4.1 -1.7 -4.8 -1.2 -3.7 -0.8 -3.1 -0.5 -2.6 -0.2 -2.4 -0.1 -2.1 -0.1 -2 0.1 -1.9 0.1 -1.8 0.3 -1.9 0.6 -1.8 1 -1.6 1.6 -1.1 1.7 -0.7 1.7 -0.5 1.7 -0.3 1.5 -0.2 1.6 -0.2 1.6 -0.2 1.8 -0.1 2 -0.1 2.1 0.2 2 0.8 1.4 1.6 0.6 2.1 0.2 2 0 2z" fill="#0056ff"/>
<path d="M801.3 1183.5l-0.2 1.6 -0.4 1.5 -0.6 1.5 -0.5 1.5 -0.6 1.7 -0.7 1.9 -0.8 2.6 -1.1 3.5 -2 4.4 -3.2 3.4 -3.7 -0.1 -2.7 -3.6 -1.6 -4.2 -0.9 -3.3 -0.8 -2.7 -0.4 -2.3 -0.2 -2.1 -0.1 -1.9 0 -1.7 0 -1.7 0.1 -1.6 0.3 -1.6 0.5 -1.6 0.9 -1.4 1.4 -1 1.5 -0.7 1.5 -0.4 1.4 -0.2 1.4 -0.2 1.4 -0.2 1.5 -0.1 1.5 -0.1 1.7 -0.1 1.9 0.2 1.8 0.7 1.2 1.3 0.5 1.9 0.1 1.8 0 1.7z" fill="#0062ff"/>
<path d="M799.9 1183.5l-0.2 1.4 -0.4 1.3 -0.4 1.2 -0.5 1.3 -0.5 1.5 -0.6 1.7 -0.7 2.2 -1 3 -1.6 3.8 -2.8 2.9 -3.2 -0.2 -2.3 -3 -1.3 -3.7 -0.9 -2.8 -0.6 -2.3 -0.4 -2 -0.2 -1.8 0 -1.6 -0.1 -1.5 0.1 -1.4 0.1 -1.4 0.2 -1.4 0.5 -1.3 0.7 -1.2 1.2 -0.9 1.3 -0.5 1.3 -0.4 1.2 -0.2 1.2 -0.2 1.2 -0.1 1.2 -0.1 1.4 -0.1 1.4 -0.1 1.7 0.2 1.5 0.5 1.1 1.2 0.4 1.6 0.1 1.6 0 1.4z" fill="#006fff"/>
<path d="M798.4 1183.5l-0.2 1.1 -0.3 1.1 -0.3 1.1 -0.4 1 -0.5 1.2 -0.4 1.5 -0.6 1.8 -0.8 2.5 -1.4 3.1 -2.3 2.4 -2.6 -0.1 -2 -2.5 -1.1 -3 -0.7 -2.4 -0.5 -1.9 -0.3 -1.6 -0.1 -1.5 -0.1 -1.4 0 -1.2 0 -1.2 0.1 -1.1 0.2 -1.2 0.3 -1.1 0.7 -1 1 -0.7 1 -0.5 1.1 -0.3 1 -0.2 1 -0.1 1 -0.1 1 -0.1 1.1 -0.1 1.3 0 1.3 0.1 1.3 0.5 0.9 1 0.3 1.3 0.1 1.3 0 1.2z" fill="#007fff"/>
<path d="M796.9 1183.5l-0.1 0.9 -0.3 0.8 -0.3 0.9 -0.3 0.8 -0.3 1 -0.4 1.1 -0.5 1.4 -0.6 2 -1.1 2.5 -1.8 1.9 -2.1 -0.1 -1.5 -2 -0.9 -2.4 -0.5 -1.8 -0.4 -1.5 -0.3 -1.3 -0.1 -1.2 -0.1 -1.1 0 -0.9 0.1 -1 0 -0.9 0.2 -0.9 0.3 -0.9 0.5 -0.8 0.7 -0.6 0.9 -0.3 0.8 -0.2 0.9 -0.2 0.7 -0.1 0.8 -0.1 0.8 -0.1 0.9 0 1 -0.1 1 0.1 1 0.4 0.7 0.8 0.3 1 0.1 1 0 1z" fill="#008fff"/>
<path d="M795.4 1183.5l-0.1 0.7 -0.2 0.6 -0.2 0.6 -0.3 0.6 -0.2 0.7 -0.3 0.8 -0.3 1.1 -0.5 1.4 -0.8 1.8 -1.3 1.4 -1.5 -0.1 -1.1 -1.4 -0.6 -1.8 -0.5 -1.3 -0.3 -1.1 -0.1 -1 -0.1 -0.8 -0.1 -0.8 0 -0.7 0 -0.7 0.1 -0.6 0.1 -0.7 0.2 -0.7 0.4 -0.5 0.5 -0.5 0.7 -0.2 0.6 -0.2 0.6 -0.1 0.6 -0.1 0.5 0 0.6 -0.1 0.6 0 0.7 -0.1 0.8 0.1 0.7 0.3 0.6 0.6 0.2 0.7 0 0.8 0 0.7z" fill="#009fff"/>
<path d="M793.8 1183.5l-0.1 0.4 -0.1 0.4 -0.1 0.4 -0.2 0.4 -0.1 0.4 -0.2 0.5 -0.2 0.6 -0.3 0.9 -0.5 1.2 -0.8 0.8 -0.9 0 -0.7 -0.9 -0.4 -1.1 -0.3 -0.8 -0.1 -0.7 -0.2 -0.6 0 -0.5 0 -0.5 0 -0.5 0 -0.4 0 -0.4 0.1 -0.4 0.1 -0.4 0.2 -0.4 0.4 -0.2 0.4 -0.2 0.3 -0.1 0.4 0 0.4 -0.1 0.3 0 0.4 -0.1 0.4 0 0.4 0 0.5 0 0.4 0.2 0.4 0.4 0.1 0.4 0 0.5 0 0.4z" fill="#00afff"/>
<path d="M792.2 1183.5l0 0.2 -0.1 0.1 0 0.2 -0.1 0.1 0 0.2 -0.1 0.1 -0.1 0.3 -0.1 0.3 -0.2 0.4 -0.3 0.4 -0.3 -0.1 -0.3 -0.3 -0.1 -0.4 -0.1 -0.3 -0.1 -0.3 0 -0.2 -0.1 -0.2 0 -0.2 0 -0.1 0 -0.2 0 -0.1 0.1 -0.2 0 -0.1 0.1 -0.2 0.1 -0.1 0.2 0 0.1 -0.1 0.2 0 0.1 0 0.1 0 0.2 0 0.1 0 0.2 -0.1 0.1 0.1 0.2 0 0.1 0.2 0.1 0.1 0 0.2 0 0.2z" fill="#00c0ff"/>
</g>
<ellipse cx="785.95" cy="1293.85" rx="19.68" ry="7.03" fill="#0000ff"/>
<g filter="url(#bl)">
<ellipse cx="785.95" cy="1293.85" rx="16.06" ry="5.73" fill="#0000ff"/>
<ellipse cx="785.95" cy="1293.85" rx="12.44" ry="4.44" fill="#0000ff"/>
<ellipse cx="785.95" cy="1293.85" rx="8.82" ry="3.15" fill="#0007ff"/>
<ellipse cx="785.95" cy="1293.85" rx="5.19" ry="1.86" fill="#001cff"/>
<ellipse cx="785.95" cy="1293.85" rx="1.57" ry="0.56" fill="#0030ff"/>
</g>
</g>
<line x1="744.2" y1="1057.6" x2="744.2" y2="1293.5" stroke="#000" stroke-width="2.7"/>
<line x1="622.8" y1="1171.3" x2="858.2" y2="1171.3" stroke="#000" stroke-width="2.4"/>
<rect x="622.8" y="1057.6" width="235.4" height="235.9" fill="none" stroke="#000" stroke-width="2.6"/>
<path d="M614.7 1293.5L621.6 1293.5M614.7 1240.2L621.6 1240.2M614.7 1186.9L621.6 1186.9M614.7 1133.6L621.6 1133.6M614.7 1080.3L621.6 1080.3" stroke="#000" stroke-width="2.4" fill="none"/>
<path d="M617.2 1256.24L621.6 1256.24M617.2 1202.94L621.6 1202.94M617.2 1149.64L621.6 1149.64M617.2 1096.34L621.6 1096.34" stroke="#000" stroke-width="1.5" fill="none"/>
<path d="M619.2 1277.46L621.6 1277.46M619.2 1268.07L621.6 1268.07M619.2 1261.41L621.6 1261.41M619.2 1252.02L621.6 1252.02M619.2 1248.46L621.6 1248.46M619.2 1245.37L621.6 1245.37M619.2 1242.64L621.6 1242.64M619.2 1224.16L621.6 1224.16M619.2 1214.77L621.6 1214.77M619.2 1208.11L621.6 1208.11M619.2 1198.72L621.6 1198.72M619.2 1195.16L621.6 1195.16M619.2 1192.07L621.6 1192.07M619.2 1189.34L621.6 1189.34M619.2 1170.86L621.6 1170.86M619.2 1161.47L621.6 1161.47M619.2 1154.81L621.6 1154.81M619.2 1145.42L621.6 1145.42M619.2 1141.86L621.6 1141.86M619.2 1138.77L621.6 1138.77M619.2 1136.04L621.6 1136.04M619.2 1117.56L621.6 1117.56M619.2 1108.17L621.6 1108.17M619.2 1101.51L621.6 1101.51M619.2 1092.12L621.6 1092.12M619.2 1088.56L621.6 1088.56M619.2 1085.47L621.6 1085.47M619.2 1082.74L621.6 1082.74M619.2 1064.26L621.6 1064.26" stroke="#000" stroke-width="1.5" fill="none"/>
<path d="M623.2 1294.7L623.2 1301.9M676 1294.7L676 1301.9M728.8 1294.7L728.8 1301.9M781.6 1294.7L781.6 1301.9M834.4 1294.7L834.4 1301.9" stroke="#000" stroke-width="2.4" fill="none"/>
<path d="M660.11 1294.7L660.11 1299.5M712.91 1294.7L712.91 1299.5M765.71 1294.7L765.71 1299.5M818.51 1294.7L818.51 1299.5" stroke="#000" stroke-width="1.5" fill="none"/>
<path d="M639.09 1294.7L639.09 1297.3M648.39 1294.7L648.39 1297.3M654.99 1294.7L654.99 1297.3M664.29 1294.7L664.29 1297.3M667.82 1294.7L667.82 1297.3M670.88 1294.7L670.88 1297.3M673.58 1294.7L673.58 1297.3M691.89 1294.7L691.89 1297.3M701.19 1294.7L701.19 1297.3M707.79 1294.7L707.79 1297.3M717.09 1294.7L717.09 1297.3M720.62 1294.7L720.62 1297.3M723.68 1294.7L723.68 1297.3M726.38 1294.7L726.38 1297.3M744.69 1294.7L744.69 1297.3M753.99 1294.7L753.99 1297.3M760.59 1294.7L760.59 1297.3M769.89 1294.7L769.89 1297.3M773.42 1294.7L773.42 1297.3M776.48 1294.7L776.48 1297.3M779.18 1294.7L779.18 1297.3M797.49 1294.7L797.49 1297.3M806.79 1294.7L806.79 1297.3M813.39 1294.7L813.39 1297.3M822.69 1294.7L822.69 1297.3M826.22 1294.7L826.22 1297.3M829.28 1294.7L829.28 1297.3M831.98 1294.7L831.98 1297.3M850.29 1294.7L850.29 1297.3" stroke="#000" stroke-width="1.5" fill="none"/>
<text x="612.53" y="1326.4" font-size="22.2" textLength="24.69" lengthAdjust="spacing">10</text>
<text x="637.22" y="1315.86" font-size="13">0</text>
<text x="661.53" y="1326.4" font-size="22.2" textLength="24.69" lengthAdjust="spacing">10</text>
<text x="685.77" y="1315.86" font-size="13">1</text>
<text x="712.63" y="1326.4" font-size="22.2" textLength="24.69" lengthAdjust="spacing">10</text>
<text x="737.19" y="1315.86" font-size="13">2</text>
<text x="765.13" y="1326.4" font-size="22.2" textLength="24.69" lengthAdjust="spacing">10</text>
<text x="789.86" y="1315.86" font-size="13">3</text>
<text x="820.63" y="1326.4" font-size="22.2" textLength="24.69" lengthAdjust="spacing">10</text>
<text x="845.55" y="1315.86" font-size="13">4</text>
<text x="627.12" y="1082.7" font-size="17" textLength="32.83" lengthAdjust="spacing">0.33</text>
<rect x="804.7" y="1061.6" width="33.2" height="30.4" fill="#fff" fill-opacity="0.74"/>
<text x="804.79" y="1082.7" font-size="17" textLength="33.68" lengthAdjust="spacing">91.7</text>
<text x="627.12" y="1279.3" font-size="17" textLength="32.83" lengthAdjust="spacing">0.13</text>
<text x="804.75" y="1279.3" font-size="17" textLength="33.72" lengthAdjust="spacing">7.82</text>
<!-- plot a3.4 -->
<clipPath id="cp23"><rect x="895.3" y="1057.6" width="235.5" height="235.9"/></clipPath>
<g clip-path="url(#cp23)">
<path d="M1071.2 1141.1l0.6 0.5 0.6 0.5 0.6 0.7 0.5 0.8 0.5 0.8 0.5 1 0.4 1.1 0.4 1.2 0.3 1.3 0.4 1.2 0.5 1.1 0.5 0.9 0.6 0.7 0.7 0.7 0.7 0.5 0.8 0.3 0.9 0.2 0.9 0.3 0.7 0.3 0.8 0.4 0.7 0.5 0.7 0.5 0.6 0.5 0.6 0.6 0.6 0.7 0.5 0.7 0.4 0.8 0.5 0.9 0.3 1 0.4 1.1 0.3 1.2 0.2 1.2 0.3 1.3 0.2 1.4 0.2 1.5 0.1 1.6 0.2 1.6 0.2 1.7 0.1 1.8 0.1 1.9 0.1 2 0.1 2 0.1 1.9 0 1.9 0 1.8 0 1.9 -0.1 1.8 -0.1 1.8 -0.1 1.7 -0.1 1.8 -0.2 1.8 -0.2 1.9 -0.2 1.8 -0.2 1.9 -0.3 2 -0.3 1.9 -0.3 2 -0.4 1.9 -0.3 2 -0.3 1.8 -0.2 1.9 -0.3 1.9 -0.2 1.8 -0.3 1.7 -0.2 1.8 -0.2 1.7 -0.2 1.7 -0.2 1.7 -0.3 1.7 -0.2 1.6 -0.2 1.6 -0.2 1.5 -0.2 1.6 -0.3 1.5 -0.3 1.5 -0.3 1.4 -0.3 1.4 -0.4 1.4 -0.3 1.4 -0.4 1.4 -0.5 1.3 -0.4 1.3 -0.5 1.4 -0.4 1.4 -0.4 1.4 -0.5 1.5 -0.4 1.5 -0.5 1.5 -0.4 1.5 -0.5 1.5 -0.5 1.6 -0.5 1.5 -0.5 1.6 -0.6 1.5 -0.6 1.5 -0.6 1.6 -0.7 1.5 -0.6 1.5 -0.6 1.5 -0.5 1.5 -0.4 1.4 -0.4 1.4 -0.3 1.4 -0.3 1.3 -0.2 1.3 -0.5 1.2 -0.7 1 -0.9 0.8 -1.2 0.6 -1.5 0.5 -1.7 0.4 -2 0.1 -2.1 0 -2 -0.1 -1.7 -0.4 -1.5 -0.5 -1.2 -0.6 -0.9 -0.8 -0.7 -1 -0.5 -1.2 -0.2 -1.3 -0.3 -1.3 -0.3 -1.3 -0.3 -1.2 -0.4 -1.2 -0.4 -1.2 -0.5 -1.1 -0.5 -1.2 -0.6 -1.1 -0.5 -1 -0.4 -1.1 -0.4 -1.1 -0.3 -1.1 -0.3 -1.1 -0.2 -1.1 -0.2 -1.1 -0.1 -1.1 -0.1 -1.2 -0.2 -1.1 -0.2 -1.2 -0.2 -1.2 -0.2 -1.2 -0.3 -1.3 -0.3 -1.3 -0.3 -1.3 -0.4 -1.4 -0.3 -1.4 -0.3 -1.5 -0.4 -1.5 -0.3 -1.6 -0.3 -1.7 -0.4 -1.7 -0.3 -1.7 -0.3 -1.8 -0.3 -1.7 -0.3 -1.8 -0.3 -1.8 -0.2 -1.7 -0.3 -1.8 -0.2 -1.7 -0.2 -1.8 -0.2 -1.7 -0.2 -1.8 -0.2 -1.8 -0.2 -1.7 -0.1 -1.8 -0.2 -1.7 -0.1 -1.8 -0.1 -1.7 -0.1 -1.8 -0.1 -1.7 -0.2 -1.8 -0.2 -1.8 -0.1 -1.7 -0.2 -1.8 -0.2 -1.7 -0.3 -1.8 -0.1 -1.7 -0.2 -1.6 -0.2 -1.6 -0.1 -1.6 0 -1.4 -0.1 -1.5 0 -1.3 0 -1.4 0 -1.3 0.2 -1.3 0.2 -1.3 0.3 -1.3 0.3 -1.4 0.4 -1.3 0.5 -1.3 0.5 -1.3 0.6 -1.3 0.6 -1.2 0.6 -1.1 0.6 -1.1 0.6 -1.1 0.6 -1 0.7 -0.9 0.6 -0.9 0.7 -0.9 0.6 -0.8 0.5 -0.9 0.6 -0.9 0.5 -0.9 0.5 -0.8 0.5 -0.9 0.4 -0.9 0.5 -0.9 0.6 -0.8 0.7 -0.8 0.8 -0.7 0.8 -0.8 1 -0.7 1 -0.7 1.1 -0.6 1 -0.7 0.9 -0.7 0.9 -0.8 0.8 -0.7 0.6 -0.8 0.7 -0.9 0.5 -0.8 0.4 -0.9 0.5 -0.8 0.4 -0.9 0.4 -0.8 0.5 -0.7 0.4 -0.8 0.4 -0.7 0.5 -0.7 0.4 -0.6 0.5 -0.6 0.4 -0.6 0.5 -0.5 0.5 -0.4 0.5 -0.4 0.5 -0.3 0.6 -0.3 0.5 -0.2 0.6 -0.2 0.6 0 0.6 0 0.6 0.1 0.6 0.2 0.6 0.3z" fill="#0000ff"/>
<g filter="url(#bl)">
<path d="M1087.3 1191.4l-0.1 2.3 -0.1 2.2 -0.2 2.3 -0.3 2.4 -0.3 2.5 -0.4 2.6 -0.5 2.9 -0.5 3.3 -0.6 3.7 -0.6 4.6 -0.8 5.7 -1.3 7 -2 8.3 -3.2 10 -5 11.1 -6.9 8.1 -7.8 -0.5 -6.1 -9 -3.7 -11.6 -2.3 -9.9 -1.6 -7.9 -1 -6.5 -0.7 -5.4 -0.4 -4.6 -0.4 -3.9 -0.2 -3.5 -0.3 -3.1 -0.3 -2.8 -0.3 -2.7 -0.2 -2.5 -0.2 -2.6 0 -2.5 0 -2.5 0.2 -2.5 0.5 -2.5 0.7 -2.5 0.9 -2.4 1.1 -2.3 1.2 -2.4 1.5 -2.2 1.6 -2.4 1.6 -2.5 1.9 -2.5 2.2 -2.3 2.6 -2 2.8 -2.5 3 -3.7 3.7 -3.6 4.1 -1 3.6 2.7 2.9 4.2 2.6 2.9 2.9 1.9 2.4 2.3 1.7 3.1 1 3.5 0.6 3.3 0.4 3.1 0.3 2.8 0.2 2.6 0.1 2.5 0.1 2.4 0 2.3z" fill="#000eff"/>
<path d="M1086 1191.4l-0.1 2.1 -0.1 2.2 -0.2 2.1 -0.3 2.3 -0.3 2.3 -0.4 2.5 -0.4 2.7 -0.5 3.1 -0.5 3.5 -0.7 4.3 -0.8 5.2 -1.2 6.5 -1.9 7.7 -3.1 9.1 -4.6 10.1 -6.4 7.3 -7.2 -0.4 -5.7 -8.1 -3.5 -10.4 -2.3 -9.1 -1.5 -7.3 -1 -6 -0.7 -5 -0.5 -4.3 -0.3 -3.8 -0.3 -3.2 -0.3 -3 -0.2 -2.6 -0.3 -2.6 -0.2 -2.4 -0.1 -2.4 -0.1 -2.4 0.1 -2.3 0.2 -2.4 0.5 -2.4 0.6 -2.3 0.9 -2.3 1 -2.2 1.2 -2.2 1.4 -2.2 1.4 -2.2 1.6 -2.3 1.8 -2.4 2.1 -2.1 2.5 -1.8 2.6 -2.3 2.9 -3.2 3.4 -3.2 3.8 -0.8 3.4 2.4 2.6 3.7 2.5 2.7 2.7 1.8 2.3 2.1 1.6 2.9 0.9 3.2 0.6 3 0.5 2.9 0.2 2.6 0.3 2.5 0.1 2.3 0.1 2.2 0 2.2z" fill="#0029ff"/>
<path d="M1084.8 1191.4l-0.1 2 -0.2 2 -0.2 2.1 -0.2 2.1 -0.3 2.2 -0.4 2.3 -0.4 2.5 -0.5 2.9 -0.5 3.3 -0.6 3.9 -0.8 4.9 -1.2 5.9 -1.9 7.1 -2.8 8.3 -4.3 9 -5.9 6.5 -6.6 -0.3 -5.3 -7.1 -3.4 -9.4 -2.1 -8.2 -1.5 -6.6 -1 -5.6 -0.7 -4.7 -0.5 -4 -0.4 -3.5 -0.2 -3.1 -0.3 -2.7 -0.3 -2.6 -0.2 -2.4 -0.1 -2.3 -0.1 -2.2 -0.1 -2.3 0.1 -2.2 0.2 -2.2 0.5 -2.2 0.6 -2.2 0.8 -2.2 0.9 -2.1 1.1 -2.1 1.3 -2 1.4 -2.1 1.5 -2.1 1.7 -2.2 2.1 -2 2.3 -1.7 2.4 -1.9 2.7 -2.8 3.2 -2.7 3.4 -0.7 3.2 2.1 2.5 3.3 2.3 2.4 2.5 1.6 2.1 2.1 1.5 2.6 0.9 2.8 0.7 2.9 0.4 2.6 0.3 2.4 0.2 2.3 0.2 2.2 0.1 2.1 0 2z" fill="#0045ff"/>
<path d="M1083.5 1191.4l-0.1 1.9 -0.1 1.9 -0.2 1.9 -0.2 1.9 -0.3 2.1 -0.4 2.2 -0.4 2.4 -0.5 2.6 -0.5 3.1 -0.6 3.6 -0.8 4.4 -1.1 5.5 -1.8 6.3 -2.6 7.5 -4 8 -5.4 5.7 -6 -0.3 -4.9 -6.1 -3.2 -8.2 -2.1 -7.3 -1.5 -6.1 -1 -5.1 -0.7 -4.3 -0.5 -3.8 -0.3 -3.2 -0.3 -2.9 -0.3 -2.6 -0.2 -2.4 -0.2 -2.3 -0.1 -2.1 -0.1 -2.2 0 -2.1 0.1 -2.1 0.2 -2.1 0.5 -2 0.5 -2.1 0.8 -2 0.9 -2 1 -1.9 1.2 -2 1.3 -1.9 1.4 -2 1.6 -2 2 -1.7 2.2 -1.6 2.3 -1.7 2.5 -2.4 2.9 -2.2 3.1 -0.5 2.9 1.9 2.3 2.8 2.2 2.1 2.3 1.5 1.9 1.9 1.4 2.3 0.9 2.6 0.7 2.6 0.4 2.4 0.3 2.2 0.3 2.2 0.2 2 0.1 1.9 0 2z" fill="#0060ff"/>
<path d="M1082.2 1191.4l-0.1 1.8 -0.1 1.7 -0.2 1.8 -0.2 1.8 -0.3 1.9 -0.3 2.1 -0.4 2.2 -0.4 2.4 -0.5 2.8 -0.6 3.4 -0.8 4 -1.1 4.9 -1.7 5.7 -2.5 6.6 -3.6 7 -4.9 4.9 -5.4 -0.2 -4.5 -5.2 -3 -7 -2.1 -6.5 -1.4 -5.4 -1 -4.7 -0.7 -4 -0.5 -3.4 -0.4 -3 -0.3 -2.7 -0.2 -2.5 -0.2 -2.2 -0.2 -2.2 -0.1 -2 0 -2 0 -2 0.1 -1.9 0.3 -2 0.3 -1.9 0.6 -1.9 0.7 -1.9 0.8 -1.9 0.9 -1.8 1.1 -1.8 1.3 -1.8 1.3 -1.8 1.6 -1.8 1.8 -1.6 2 -1.4 2.2 -1.5 2.3 -1.9 2.7 -1.7 2.8 -0.3 2.6 1.5 2.2 2.3 2 1.9 2 1.4 1.8 1.7 1.3 2.1 1 2.3 0.6 2.3 0.5 2.2 0.3 2.1 0.3 1.9 0.1 1.9 0.1 1.8 0.1 1.8z" fill="#0080ff"/>
<path d="M1080.9 1191.4l-0.1 1.6 -0.1 1.7 -0.1 1.6 -0.2 1.7 -0.3 1.8 -0.3 1.9 -0.4 2 -0.4 2.2 -0.5 2.6 -0.6 3 -0.8 3.6 -1 4.4 -1.6 5.1 -2.3 5.8 -3.3 5.9 -4.4 4.1 -4.8 -0.2 -4.1 -4.2 -2.9 -5.9 -2 -5.5 -1.4 -4.9 -0.9 -4.2 -0.7 -3.6 -0.5 -3.2 -0.4 -2.8 -0.3 -2.5 -0.2 -2.2 -0.2 -2.2 -0.1 -2 -0.1 -1.9 0 -1.8 0 -1.9 0.1 -1.8 0.3 -1.8 0.3 -1.8 0.5 -1.7 0.7 -1.8 0.7 -1.7 0.9 -1.8 1 -1.6 1.2 -1.7 1.2 -1.7 1.5 -1.6 1.7 -1.4 1.9 -1.2 2 -1.3 2.2 -1.4 2.4 -1.3 2.5 -0.1 2.3 1.2 2 1.9 1.9 1.6 1.8 1.2 1.6 1.6 1.3 1.9 0.9 2 0.6 2.1 0.5 1.9 0.4 1.9 0.2 1.8 0.2 1.7 0.1 1.7 0.1 1.6z" fill="#00a4ff"/>
<path d="M1079.6 1191.4l-0.1 1.5 0 1.5 -0.2 1.5 -0.2 1.6 -0.2 1.6 -0.3 1.7 -0.4 1.9 -0.4 2.1 -0.5 2.3 -0.6 2.7 -0.7 3.2 -1 3.8 -1.5 4.5 -2.1 4.9 -3 4.9 -3.9 3.2 -4.3 0 -3.6 -3.3 -2.7 -4.7 -1.9 -4.7 -1.4 -4.2 -1 -3.8 -0.7 -3.2 -0.5 -2.9 -0.4 -2.6 -0.3 -2.3 -0.2 -2.1 -0.1 -2 -0.1 -1.9 -0.1 -1.7 0 -1.8 0.1 -1.7 0.2 -1.6 0.2 -1.7 0.3 -1.7 0.5 -1.6 0.6 -1.6 0.6 -1.6 0.8 -1.6 1 -1.6 1 -1.5 1.3 -1.5 1.3 -1.4 1.6 -1.3 1.8 -1 1.8 -1.1 2 -1 2.2 -0.7 2.2 0 2.1 0.9 1.8 1.5 1.7 1.2 1.6 1.2 1.5 1.4 1.1 1.7 0.9 1.7 0.6 1.8 0.5 1.7 0.4 1.7 0.3 1.6 0.2 1.6 0.1 1.5 0.1 1.5z" fill="#00c9ff"/>
<path d="M1078.3 1191.4l0 1.4 -0.1 1.4 -0.2 1.3 -0.1 1.5 -0.3 1.5 -0.3 1.5 -0.3 1.7 -0.4 1.9 -0.4 2.1 -0.6 2.4 -0.8 2.7 -0.9 3.3 -1.4 3.8 -1.9 4.2 -2.7 3.8 -3.4 2.4 -3.7 0.1 -3.2 -2.3 -2.6 -3.6 -1.8 -3.9 -1.3 -3.6 -1 -3.3 -0.7 -2.9 -0.5 -2.6 -0.4 -2.3 -0.3 -2.1 -0.2 -2 -0.2 -1.8 0 -1.8 -0.1 -1.6 0.1 -1.6 0.1 -1.6 0.2 -1.5 0.2 -1.5 0.3 -1.5 0.5 -1.5 0.5 -1.5 0.6 -1.5 0.7 -1.5 0.8 -1.4 1 -1.4 1.2 -1.3 1.3 -1.3 1.4 -1 1.6 -1 1.8 -0.7 1.8 -0.6 1.9 -0.3 1.9 0.2 1.8 0.7 1.6 0.9 1.6 1 1.4 1.1 1.3 1.2 1 1.4 0.9 1.5 0.6 1.5 0.6 1.5 0.4 1.5 0.3 1.5 0.2 1.4 0.1 1.4 0.1 1.4z" fill="#00edff"/>
<path d="M1077 1191.4l-0.1 1.3 0 1.2 -0.2 1.3 -0.1 1.2 -0.2 1.4 -0.3 1.4 -0.3 1.5 -0.4 1.7 -0.4 1.9 -0.5 2.1 -0.7 2.4 -0.9 2.9 -1.3 3.3 -1.7 3.5 -2.5 3.2 -2.9 1.9 -3.2 0.1 -2.9 -1.7 -2.3 -2.9 -1.8 -3.2 -1.2 -3.2 -0.9 -2.9 -0.7 -2.6 -0.4 -2.4 -0.4 -2.1 -0.3 -1.9 -0.2 -1.8 -0.1 -1.6 0 -1.6 0 -1.5 0 -1.5 0.1 -1.4 0.2 -1.4 0.2 -1.3 0.3 -1.4 0.4 -1.3 0.4 -1.4 0.6 -1.3 0.6 -1.4 0.7 -1.3 0.9 -1.3 1.1 -1.2 1.2 -1.1 1.3 -0.9 1.4 -0.9 1.6 -0.6 1.7 -0.4 1.7 0 1.6 0.3 1.6 0.5 1.5 0.7 1.4 0.9 1.3 0.9 1.1 1.2 0.9 1.2 0.8 1.3 0.6 1.3 0.5 1.3 0.4 1.3 0.3 1.3 0.2 1.3 0.2 1.3 0 1.2z" fill="#00ffe6"/>
<path d="M1075.5 1191.4l0 1.1 0 1.1 -0.1 1.1 -0.2 1.2 -0.1 1.2 -0.2 1.3 -0.3 1.3 -0.3 1.5 -0.4 1.7 -0.5 1.9 -0.6 2.2 -0.8 2.5 -1.2 3 -1.5 3.1 -2.2 2.9 -2.6 1.8 -2.9 0.1 -2.6 -1.5 -2.1 -2.7 -1.5 -2.9 -1.1 -2.9 -0.7 -2.7 -0.6 -2.3 -0.4 -2.1 -0.3 -1.9 -0.2 -1.7 -0.2 -1.6 -0.1 -1.4 0 -1.4 0 -1.4 0 -1.2 0.1 -1.3 0.2 -1.2 0.2 -1.2 0.2 -1.2 0.3 -1.2 0.4 -1.2 0.4 -1.2 0.6 -1.2 0.6 -1.2 0.8 -1.2 0.9 -1.1 1 -1 1.2 -1 1.3 -0.8 1.4 -0.6 1.5 -0.3 1.6 -0.1 1.5 0.3 1.4 0.5 1.4 0.7 1.2 0.9 1.1 0.9 1 1 0.8 1.2 0.7 1.1 0.5 1.2 0.4 1.2 0.4 1.2 0.2 1.1 0.2 1.1 0.2 1.1 0 1.1z" fill="#00ffb3"/>
<path d="M1074.1 1191.4l0 1 0 0.9 -0.1 1 -0.1 1 -0.1 1.1 -0.2 1.1 -0.2 1.2 -0.3 1.4 -0.3 1.4 -0.5 1.7 -0.5 1.9 -0.7 2.3 -1 2.5 -1.4 2.8 -1.9 2.6 -2.3 1.6 -2.6 0.2 -2.3 -1.4 -1.8 -2.3 -1.3 -2.7 -0.9 -2.6 -0.7 -2.4 -0.4 -2.1 -0.4 -1.8 -0.2 -1.7 -0.2 -1.5 -0.1 -1.4 -0.1 -1.2 0 -1.2 0 -1.2 0 -1.1 0.1 -1.1 0.1 -1 0.2 -1.1 0.2 -1 0.2 -1.1 0.4 -1 0.3 -1.1 0.5 -1 0.5 -1.1 0.7 -1.1 0.7 -1 0.9 -1 1 -0.9 1.2 -0.7 1.2 -0.7 1.4 -0.3 1.4 -0.1 1.3 0.3 1.3 0.5 1.2 0.7 1.1 0.9 0.9 0.9 0.9 0.9 0.6 1 0.6 1.1 0.5 1 0.4 1.1 0.2 1 0.3 1 0.1 1 0.1 0.9 0.1 1z" fill="#00ff80"/>
<path d="M1072.7 1191.4l0 0.8 0 0.9 0 0.8 -0.1 0.9 -0.1 0.9 -0.2 1 -0.1 1 -0.3 1.2 -0.3 1.3 -0.3 1.4 -0.5 1.7 -0.6 1.9 -0.9 2.2 -1.2 2.4 -1.6 2.2 -2 1.6 -2.2 0.2 -2 -1.2 -1.6 -2.1 -1.1 -2.4 -0.8 -2.3 -0.5 -2.1 -0.4 -1.8 -0.3 -1.7 -0.1 -1.4 -0.2 -1.3 0 -1.2 -0.1 -1 0 -1.1 0 -0.9 0 -1 0.1 -0.9 0.1 -0.9 0.1 -0.9 0.2 -0.8 0.2 -0.9 0.2 -0.9 0.3 -1 0.4 -0.9 0.4 -0.9 0.5 -1 0.6 -0.9 0.8 -0.9 0.8 -0.9 1 -0.7 1.1 -0.6 1.2 -0.4 1.3 0 1.2 0.2 1.1 0.6 1 0.7 1 0.8 0.8 0.8 0.6 0.9 0.6 0.9 0.5 0.9 0.4 0.9 0.3 0.9 0.2 0.9 0.2 0.8 0.1 0.9 0.1 0.8 0.1 0.8z" fill="#00ff47"/>
<path d="M1071.3 1191.4l0 0.7 0 0.7 0 0.7 -0.1 0.7 0 0.8 -0.1 0.8 -0.2 0.9 -0.1 1 -0.3 1.1 -0.3 1.2 -0.4 1.4 -0.5 1.6 -0.8 1.9 -1 2 -1.3 1.9 -1.7 1.4 -1.9 0.3 -1.7 -1 -1.3 -1.9 -1 -2.1 -0.6 -2 -0.4 -1.8 -0.2 -1.6 -0.2 -1.4 -0.1 -1.2 -0.1 -1.1 -0.1 -0.9 0 -0.9 0 -0.9 0 -0.8 0 -0.7 0.1 -0.8 0.1 -0.7 0 -0.7 0.2 -0.8 0.1 -0.7 0.2 -0.8 0.2 -0.7 0.3 -0.8 0.3 -0.9 0.4 -0.8 0.5 -0.9 0.6 -0.8 0.7 -0.8 0.8 -0.7 0.9 -0.6 1.1 -0.4 1.1 0 1 0.2 1 0.6 0.9 0.7 0.7 0.8 0.7 0.8 0.5 0.8 0.5 0.8 0.3 0.8 0.3 0.7 0.3 0.8 0.2 0.7 0.1 0.7 0.1 0.7 0.1 0.7 0.1 0.7z" fill="#00ff0e"/>
<path d="M1070.3 1191.4l0 0.6 0 0.6 0 0.6 0 0.6 -0.1 0.7 -0.1 0.7 -0.1 0.8 -0.1 0.9 -0.2 0.9 -0.3 1.1 -0.3 1.2 -0.5 1.3 -0.6 1.6 -0.9 1.7 -1.2 1.7 -1.4 1.3 -1.7 0.3 -1.4 -0.9 -1.2 -1.7 -0.8 -1.8 -0.5 -1.8 -0.3 -1.6 -0.2 -1.4 -0.1 -1.2 -0.1 -1 -0.1 -0.9 0 -0.9 0 -0.7 0 -0.7 0 -0.7 0 -0.6 0.1 -0.7 0 -0.6 0.1 -0.6 0.1 -0.6 0.1 -0.7 0.1 -0.6 0.2 -0.7 0.2 -0.7 0.2 -0.7 0.4 -0.7 0.4 -0.8 0.4 -0.8 0.6 -0.7 0.8 -0.7 0.8 -0.5 0.9 -0.4 1 0 0.9 0.2 0.9 0.5 0.7 0.7 0.7 0.7 0.5 0.7 0.4 0.8 0.4 0.7 0.3 0.7 0.3 0.6 0.2 0.7 0.1 0.6 0.1 0.6 0.1 0.6 0.1 0.6 0.1 0.6z" fill="#26ff00"/>
<path d="M1069.7 1191.4l0 0.5 0 0.6 0 0.5 0 0.6 -0.1 0.6 -0.1 0.6 -0.1 0.7 -0.1 0.8 -0.2 0.8 -0.2 1 -0.3 1 -0.4 1.3 -0.6 1.4 -0.8 1.5 -1 1.5 -1.3 1.2 -1.5 0.2 -1.3 -0.8 -1 -1.4 -0.7 -1.7 -0.5 -1.6 -0.3 -1.4 -0.2 -1.3 -0.1 -1 -0.1 -1 0 -0.8 0 -0.7 0 -0.7 0 -0.6 0 -0.6 0 -0.6 0 -0.6 0.1 -0.5 0 -0.6 0.1 -0.5 0.1 -0.6 0.1 -0.6 0.2 -0.6 0.2 -0.6 0.2 -0.6 0.3 -0.7 0.3 -0.7 0.5 -0.7 0.5 -0.7 0.6 -0.6 0.8 -0.4 0.8 -0.3 0.9 -0.1 0.8 0.2 0.8 0.5 0.7 0.6 0.5 0.6 0.5 0.7 0.4 0.6 0.3 0.7 0.3 0.6 0.2 0.6 0.2 0.6 0.1 0.5 0.2 0.6 0 0.5 0.1 0.5 0.1 0.5z" fill="#59ff00"/>
<path d="M1069.1 1191.4l0 0.5 0 0.4 0 0.5 -0.1 0.5 0 0.6 -0.1 0.5 0 0.6 -0.2 0.7 -0.1 0.8 -0.2 0.8 -0.3 0.9 -0.4 1.1 -0.5 1.2 -0.7 1.4 -0.9 1.4 -1.1 1 -1.3 0.2 -1.2 -0.7 -0.9 -1.3 -0.6 -1.5 -0.4 -1.4 -0.3 -1.3 -0.1 -1 -0.1 -1 -0.1 -0.8 0 -0.7 -0.1 -0.7 0 -0.6 0 -0.5 0 -0.6 0.1 -0.5 0 -0.5 0 -0.5 0.1 -0.4 0.1 -0.5 0 -0.5 0.1 -0.5 0.2 -0.6 0.1 -0.5 0.2 -0.6 0.3 -0.6 0.3 -0.6 0.4 -0.6 0.5 -0.6 0.5 -0.5 0.7 -0.4 0.7 -0.3 0.8 -0.1 0.7 0.2 0.7 0.4 0.6 0.6 0.5 0.5 0.4 0.6 0.4 0.6 0.3 0.6 0.2 0.5 0.2 0.5 0.1 0.5 0.2 0.5 0.1 0.5 0 0.5 0.1 0.4 0 0.5z" fill="#8cff00"/>
</g>
<ellipse cx="1057.79" cy="1294.2" rx="31.62" ry="8.08" fill="#0000ff"/>
<g filter="url(#bl)">
<ellipse cx="1057.79" cy="1294.2" rx="29.55" ry="7.55" fill="#0000ff"/>
<ellipse cx="1057.79" cy="1294.2" rx="27.47" ry="7.02" fill="#002bff"/>
<ellipse cx="1057.79" cy="1294.2" rx="25.39" ry="6.49" fill="#005cff"/>
<ellipse cx="1057.79" cy="1294.2" rx="23.31" ry="5.96" fill="#0097ff"/>
<ellipse cx="1057.79" cy="1294.2" rx="21.23" ry="5.43" fill="#00d8ff"/>
<ellipse cx="1057.79" cy="1294.2" rx="19.15" ry="4.9" fill="#00ffdb"/>
<ellipse cx="1057.79" cy="1294.2" rx="17.08" ry="4.36" fill="#00ff80"/>
<ellipse cx="1057.79" cy="1294.2" rx="15" ry="3.83" fill="#00ff1a"/>
<ellipse cx="1057.79" cy="1294.2" rx="12.92" ry="3.3" fill="#43ff00"/>
<ellipse cx="1057.79" cy="1294.2" rx="10.84" ry="2.77" fill="#9eff00"/>
<ellipse cx="1057.79" cy="1294.2" rx="8.76" ry="2.24" fill="#faff00"/>
<ellipse cx="1057.79" cy="1294.2" rx="6.69" ry="1.71" fill="#ff7400"/>
<ellipse cx="1057.79" cy="1294.2" rx="4.61" ry="1.18" fill="#ff0200"/>
<ellipse cx="1057.79" cy="1294.2" rx="2.53" ry="0.65" fill="#ff0000"/>
</g>
</g>
<line x1="1018.1" y1="1057.6" x2="1018.1" y2="1293.5" stroke="#000" stroke-width="2.7"/>
<line x1="895.3" y1="1170.3" x2="1130.8" y2="1170.3" stroke="#000" stroke-width="2.4"/>
<rect x="895.3" y="1057.6" width="235.5" height="235.9" fill="none" stroke="#000" stroke-width="2.6"/>
<path d="M887.2 1293.5L894.1 1293.5M887.2 1240.2L894.1 1240.2M887.2 1186.9L894.1 1186.9M887.2 1133.6L894.1 1133.6M887.2 1080.3L894.1 1080.3" stroke="#000" stroke-width="2.4" fill="none"/>
<path d="M889.7 1256.24L894.1 1256.24M889.7 1202.94L894.1 1202.94M889.7 1149.64L894.1 1149.64M889.7 1096.34L894.1 1096.34" stroke="#000" stroke-width="1.5" fill="none"/>
<path d="M891.7 1277.46L894.1 1277.46M891.7 1268.07L894.1 1268.07M891.7 1261.41L894.1 1261.41M891.7 1252.02L894.1 1252.02M891.7 1248.46L894.1 1248.46M891.7 1245.37L894.1 1245.37M891.7 1242.64L894.1 1242.64M891.7 1224.16L894.1 1224.16M891.7 1214.77L894.1 1214.77M891.7 1208.11L894.1 1208.11M891.7 1198.72L894.1 1198.72M891.7 1195.16L894.1 1195.16M891.7 1192.07L894.1 1192.07M891.7 1189.34L894.1 1189.34M891.7 1170.86L894.1 1170.86M891.7 1161.47L894.1 1161.47M891.7 1154.81L894.1 1154.81M891.7 1145.42L894.1 1145.42M891.7 1141.86L894.1 1141.86M891.7 1138.77L894.1 1138.77M891.7 1136.04L894.1 1136.04M891.7 1117.56L894.1 1117.56M891.7 1108.17L894.1 1108.17M891.7 1101.51L894.1 1101.51M891.7 1092.12L894.1 1092.12M891.7 1088.56L894.1 1088.56M891.7 1085.47L894.1 1085.47M891.7 1082.74L894.1 1082.74M891.7 1064.26L894.1 1064.26" stroke="#000" stroke-width="1.5" fill="none"/>
<path d="M895.7 1294.7L895.7 1301.9M948.5 1294.7L948.5 1301.9M1001.3 1294.7L1001.3 1301.9M1054.1 1294.7L1054.1 1301.9M1106.9 1294.7L1106.9 1301.9" stroke="#000" stroke-width="2.4" fill="none"/>
<path d="M932.61 1294.7L932.61 1299.5M985.41 1294.7L985.41 1299.5M1038.21 1294.7L1038.21 1299.5M1091.01 1294.7L1091.01 1299.5" stroke="#000" stroke-width="1.5" fill="none"/>
<path d="M911.59 1294.7L911.59 1297.3M920.89 1294.7L920.89 1297.3M927.49 1294.7L927.49 1297.3M936.79 1294.7L936.79 1297.3M940.32 1294.7L940.32 1297.3M943.38 1294.7L943.38 1297.3M946.08 1294.7L946.08 1297.3M964.39 1294.7L964.39 1297.3M973.69 1294.7L973.69 1297.3M980.29 1294.7L980.29 1297.3M989.59 1294.7L989.59 1297.3M993.12 1294.7L993.12 1297.3M996.18 1294.7L996.18 1297.3M998.88 1294.7L998.88 1297.3M1017.19 1294.7L1017.19 1297.3M1026.49 1294.7L1026.49 1297.3M1033.09 1294.7L1033.09 1297.3M1042.39 1294.7L1042.39 1297.3M1045.92 1294.7L1045.92 1297.3M1048.98 1294.7L1048.98 1297.3M1051.68 1294.7L1051.68 1297.3M1069.99 1294.7L1069.99 1297.3M1079.29 1294.7L1079.29 1297.3M1085.89 1294.7L1085.89 1297.3M1095.19 1294.7L1095.19 1297.3M1098.72 1294.7L1098.72 1297.3M1101.78 1294.7L1101.78 1297.3M1104.48 1294.7L1104.48 1297.3M1122.79 1294.7L1122.79 1297.3" stroke="#000" stroke-width="1.5" fill="none"/>
<text x="885.03" y="1326.4" font-size="22.2" textLength="24.69" lengthAdjust="spacing">10</text>
<text x="909.72" y="1315.86" font-size="13">0</text>
<text x="934.03" y="1326.4" font-size="22.2" textLength="24.69" lengthAdjust="spacing">10</text>
<text x="958.27" y="1315.86" font-size="13">1</text>
<text x="985.13" y="1326.4" font-size="22.2" textLength="24.69" lengthAdjust="spacing">10</text>
<text x="1009.69" y="1315.86" font-size="13">2</text>
<text x="1037.63" y="1326.4" font-size="22.2" textLength="24.69" lengthAdjust="spacing">10</text>
<text x="1062.36" y="1315.86" font-size="13">3</text>
<text x="1093.13" y="1326.4" font-size="22.2" textLength="24.69" lengthAdjust="spacing">10</text>
<text x="1118.05" y="1315.86" font-size="13">4</text>
<text x="899.62" y="1082.7" font-size="17">0</text>
<text x="1077.46" y="1082.7" font-size="17" textLength="33.34" lengthAdjust="spacing">3.05</text>
<text x="899.62" y="1279.3" font-size="17" textLength="33.04" lengthAdjust="spacing">0.30</text>
<rect x="1077.2" y="1258.2" width="33.2" height="30.4" fill="#fff" fill-opacity="0.74"/>
<text x="1077.29" y="1279.3" font-size="17" textLength="33.55" lengthAdjust="spacing">96.6</text>
<text x="113.11" y="1006.8" font-size="29.78" textLength="161.9" lengthAdjust="spacing">Conventional</text>
<text x="141.66" y="1041.3" font-size="29.78" textLength="105.64" lengthAdjust="spacing">refolded</text>
<text x="400.74" y="1006.8" font-size="29.78" textLength="141.06" lengthAdjust="spacing">Exchanged</text>
<text x="382.18" y="1041.3" font-size="29.78" textLength="177.65" lengthAdjust="spacing">stoichiometric</text>
<text x="668.94" y="1006.8" font-size="29.78" textLength="140.96" lengthAdjust="spacing">Exchanged</text>
<text x="686.03" y="1041.3" font-size="29.78" textLength="105.78" lengthAdjust="spacing">catalytic</text>
<text x="938.54" y="1006.8" font-size="29.78" textLength="151.54" lengthAdjust="spacing">Mismatched</text>
<text x="969.06" y="1041.3" font-size="29.78" textLength="90.93" lengthAdjust="spacing">peptide</text>
<text x="36.25" y="30.6" font-size="41.8" font-weight="bold">a</text>
<text x="490.7" y="31.2" font-size="32.71" textLength="73.6" lengthAdjust="spacing">H2-D</text>
<text x="565.39" y="14.8" font-size="19.12">d</text>
<text x="581.6" y="31.2" font-size="31.3">/</text>
<text x="599.2" y="31.2" font-size="32.71" textLength="221.13" lengthAdjust="spacing">P18-I10 peptide</text>
<text x="437.7" y="492.3" font-size="32.71" textLength="181.92" lengthAdjust="spacing">HLA-A*02:01</text>
<text x="628" y="492.3" font-size="31.3">/</text>
<text x="643.8" y="492.3" font-size="32.71" textLength="229.3" lengthAdjust="spacing">MART-1 peptide</text>
<text x="422.7" y="955.4" font-size="32.71" textLength="182.92" lengthAdjust="spacing">HLA-A*02:01</text>
<text x="613" y="955.4" font-size="31.3">/</text>
<text x="629.1" y="955.4" font-size="32.71" textLength="259.19" lengthAdjust="spacing">NY-ESO-1 peptide</text>
<line x1="88.5" y1="428.7" x2="570" y2="428.7" stroke="#000" stroke-width="4" stroke-linecap="round"/>
<text x="584.91" y="439.3" font-size="31.35" textLength="60.26" lengthAdjust="spacing">FSC</text>
<line x1="660.2" y1="428.7" x2="1117" y2="428.7" stroke="#000" stroke-width="4" stroke-linecap="round"/>
<polygon points="1135.5,428.7 1116,417.4 1116,440" fill="#000" stroke="none"/>
<line x1="73.7" y1="892.7" x2="557" y2="892.7" stroke="#000" stroke-width="4" stroke-linecap="round"/>
<text x="562.43" y="903.2" font-size="31.35" textLength="132.45" lengthAdjust="spacing">CD8 FITC</text>
<line x1="696.4" y1="892.7" x2="1117" y2="892.7" stroke="#000" stroke-width="4"/>
<polygon points="1135.5,892.7 1116,881.4 1116,904" fill="#000" stroke="none"/>
<line x1="73.7" y1="1353.4" x2="557" y2="1353.4" stroke="#000" stroke-width="4" stroke-linecap="round"/>
<text x="562.73" y="1364" font-size="31.35" textLength="132.95" lengthAdjust="spacing">CD8 FITC</text>
<line x1="698" y1="1353.4" x2="1118.5" y2="1353.4" stroke="#000" stroke-width="4"/>
<polygon points="1137,1353.4 1117.5,1342.1 1117.5,1364.7" fill="#000" stroke="none"/>
<line x1="11.4" y1="628" x2="11.4" y2="153.6" stroke="#000" stroke-width="3.8"/>
<polygon points="11.4,134.8 0,154.6 22.8,154.6" fill="#000" stroke="none"/>
<line x1="11.4" y1="814" x2="11.4" y2="1297.5" stroke="#000" stroke-width="3.8" stroke-linecap="round"/>
<text x="0" y="0" font-size="31.8725" textLength="174.06" lengthAdjust="spacing" fill="#1a1a1a" transform="translate(22.9 806.72) rotate(-90)">Tetramer PE</text>
<text x="1179.78" y="30.6" font-size="41.8" font-weight="bold">b</text>
<!-- panel b1 -->
<clipPath id="cb0"><rect x="1262.2" y="136.3" width="235.4" height="236.4"/></clipPath>
<g clip-path="url(#cb0)">
<path d="M1260.97 370.25 L1350.54 369.73 L1357.56 367.09 L1362.83 361.82 L1368.1 351.29 L1372.49 344.26 L1376.88 343.38 L1380.39 333.72 L1383.91 323.19 L1387.42 320.55 L1390.05 316.16 L1391.81 302.11 L1393.57 286.3 L1397.08 281.04 L1399.71 268.74 L1402.35 242.4 L1404.98 221.32 L1407.62 217.81 L1409.37 200.25 L1411.13 182.69 L1412.88 172.15 L1415.52 170.39 L1417.27 180.93 L1419.91 177.42 L1421.66 172.15 L1424.3 189.71 L1426.93 217.81 L1429.57 249.42 L1432.2 279.28 L1434.84 307.38 L1437.47 331.97 L1440.11 349.53 L1443.62 361.82 L1447.13 367.97 L1452.4 369.73 L1491.04 370.25 L1494.55 363.58 L1497.18 358.31" fill="none" stroke="#14f5f5" stroke-width="4.2" stroke-linejoin="round" stroke-linecap="round"/>
<path d="M1260.97 370.25 L1362.83 369.73 L1375.12 367.97 L1382.15 361.82 L1389.17 351.29 L1394.44 342.5 L1397.96 340.75 L1401.47 331.97 L1405.86 319.67 L1409.37 296.84 L1412.01 274.01 L1414.64 247.67 L1417.27 217.81 L1420.79 191.47 L1423.42 165.12 L1425.18 152.83 L1426.93 149.32 L1428.69 156.34 L1430.45 177.42 L1433.08 203.76 L1435.71 231.86 L1438.35 263.47 L1440.98 295.09 L1443.62 323.19 L1446.25 342.5 L1448.89 356.55 L1452.4 366.21 L1455.91 369.73 L1496.3 370.25" fill="none" stroke="#f73238" stroke-width="4.2" stroke-linejoin="round" stroke-linecap="round"/>
<path d="M1260.97 370.25 L1380.39 369.73 L1383.03 365.34 L1384.78 354.8 L1386.54 344.26 L1390.05 333.72 L1392.69 319.67 L1394.44 303.87 L1397.96 298.6 L1399.71 284.55 L1401.47 266.99 L1404.1 245.91 L1406.74 228.35 L1409.37 214.3 L1411.13 191.47 L1412.01 168.64 L1413.76 165.12 L1415.87 154.59 L1418.15 165.12 L1420.79 166 L1422.54 182.69 L1424.3 203.76 L1426.93 228.35 L1428.69 256.45 L1430.45 284.55 L1432.2 310.89 L1434.84 335.48 L1437.47 353.04 L1440.11 363.58 L1443.62 368.85 L1448.89 370.25 L1496.3 370.25" fill="none" stroke="#ffa005" stroke-width="4.2" stroke-linejoin="round" stroke-linecap="round"/>
</g>
<rect x="1262.2" y="136.3" width="235.4" height="235.4" fill="none" stroke="#000" stroke-width="2.6"/>
<path d="M1253.7 371.4L1261.2 371.4M1253.7 326.56L1261.2 326.56M1253.7 281.72L1261.2 281.72M1253.7 236.88L1261.2 236.88M1253.7 192.04L1261.2 192.04M1253.7 147.2L1261.2 147.2" stroke="#000" stroke-width="2.2" fill="none"/>
<path d="M1258.4 360.19L1261.2 360.19M1258.4 348.98L1261.2 348.98M1258.4 337.77L1261.2 337.77M1258.4 315.35L1261.2 315.35M1258.4 304.14L1261.2 304.14M1258.4 292.93L1261.2 292.93M1258.4 270.51L1261.2 270.51M1258.4 259.3L1261.2 259.3M1258.4 248.09L1261.2 248.09M1258.4 225.67L1261.2 225.67M1258.4 214.46L1261.2 214.46M1258.4 203.25L1261.2 203.25M1258.4 180.83L1261.2 180.83M1258.4 169.62L1261.2 169.62M1258.4 158.41L1261.2 158.41" stroke="#000" stroke-width="1.3" fill="none"/>
<text x="1234.67" y="378.6" font-size="21.5">0</text>
<text x="1222.74" y="333.76" font-size="21.5" textLength="23.92" lengthAdjust="spacing">20</text>
<text x="1222.74" y="288.92" font-size="21.5" textLength="23.92" lengthAdjust="spacing">40</text>
<text x="1222.74" y="244.08" font-size="21.5" textLength="23.92" lengthAdjust="spacing">60</text>
<text x="1222.74" y="199.24" font-size="21.5" textLength="23.92" lengthAdjust="spacing">80</text>
<text x="1210.76" y="154.4" font-size="21.5" textLength="35.87" lengthAdjust="spacing">100</text>
<path d="M1263.5 372.7L1263.5 379.9M1316.1 372.7L1316.1 379.9M1368.7 372.7L1368.7 379.9M1421.3 372.7L1421.3 379.9M1473.9 372.7L1473.9 379.9" stroke="#000" stroke-width="2.2" fill="none"/>
<path d="M1300.27 372.7L1300.27 377.3M1352.87 372.7L1352.87 377.3M1405.47 372.7L1405.47 377.3M1458.07 372.7L1458.07 377.3" stroke="#000" stroke-width="1.5" fill="none"/>
<path d="M1279.33 372.7L1279.33 375.3M1288.6 372.7L1288.6 375.3M1295.17 372.7L1295.17 375.3M1304.43 372.7L1304.43 375.3M1307.95 372.7L1307.95 375.3M1311 372.7L1311 375.3M1313.69 372.7L1313.69 375.3M1331.93 372.7L1331.93 375.3M1341.2 372.7L1341.2 375.3M1347.77 372.7L1347.77 375.3M1357.03 372.7L1357.03 375.3M1360.55 372.7L1360.55 375.3M1363.6 372.7L1363.6 375.3M1366.29 372.7L1366.29 375.3M1384.53 372.7L1384.53 375.3M1393.8 372.7L1393.8 375.3M1400.37 372.7L1400.37 375.3M1409.63 372.7L1409.63 375.3M1413.15 372.7L1413.15 375.3M1416.2 372.7L1416.2 375.3M1418.89 372.7L1418.89 375.3M1437.13 372.7L1437.13 375.3M1446.4 372.7L1446.4 375.3M1452.97 372.7L1452.97 375.3M1462.23 372.7L1462.23 375.3M1465.75 372.7L1465.75 375.3M1468.8 372.7L1468.8 375.3M1471.49 372.7L1471.49 375.3M1489.73 372.7L1489.73 375.3" stroke="#000" stroke-width="1.5" fill="none"/>
<text x="1248.03" y="403.4" font-size="22.3" textLength="24.81" lengthAdjust="spacing">10</text>
<text x="1272.82" y="392.81" font-size="13.2">0</text>
<text x="1298.73" y="403.4" font-size="22.3" textLength="24.81" lengthAdjust="spacing">10</text>
<text x="1323.05" y="392.81" font-size="13.2">1</text>
<text x="1349.53" y="403.4" font-size="22.3" textLength="24.81" lengthAdjust="spacing">10</text>
<text x="1374.18" y="392.81" font-size="13.2">2</text>
<text x="1402.83" y="403.4" font-size="22.3" textLength="24.81" lengthAdjust="spacing">10</text>
<text x="1427.65" y="392.81" font-size="13.2">3</text>
<text x="1457.93" y="403.4" font-size="22.3" textLength="24.81" lengthAdjust="spacing">10</text>
<text x="1482.95" y="392.81" font-size="13.2">4</text>
<text x="1297.08" y="120.7" font-size="31.77" textLength="165.73" lengthAdjust="spacing">B.4.2.3 cells</text>
<rect x="1270.2" y="145.7" width="12.3" height="17.5" fill="#f73238"/>
<text x="1290.04" y="163.1" font-size="22.57" textLength="87.79" lengthAdjust="spacing">Refolded</text>
<rect x="1270.2" y="171.7" width="12.3" height="17" fill="#0af8f8"/>
<text x="1290.04" y="189.1" font-size="22.57" textLength="109.81" lengthAdjust="spacing">Exchanged</text>
<rect x="1270.2" y="198.5" width="12.3" height="17.3" fill="#ffa005"/>
<text x="1290.77" y="215.6" font-size="22.57" textLength="83.24" lengthAdjust="spacing">Catalytic</text>
<text x="0" y="0" font-size="29.78" textLength="74.64" lengthAdjust="spacing" transform="translate(1205.2 372.39) rotate(-90)">Count</text>
<line x1="1196.4" y1="282.5" x2="1196.4" y2="151.6" stroke="#000" stroke-width="2.6"/>
<polygon points="1196.4,137.6 1187.8,152.4 1205,152.4" fill="#000" stroke="none"/>
<text x="1243.79" y="439.8" font-size="31.35" fill="#222" textLength="163.33" lengthAdjust="spacing">Tetramer PE</text>
<line x1="1419.6" y1="431.5" x2="1488.7" y2="431.5" stroke="#000" stroke-width="3.6"/>
<polygon points="1507.2,431.5 1487.7,420.5 1487.7,442.5" fill="#000" stroke="none"/>
<!-- panel b2 -->
<clipPath id="cb1"><rect x="1262.8" y="595.3" width="235" height="236"/></clipPath>
<g clip-path="url(#cb1)">
<path d="M1260.53 829.46 L1406.35 828.58 L1423.92 827.17 L1432.71 821.9 L1439.73 809.61 L1445 783.25 L1448.52 748.12 L1451.15 712.98 L1453.79 674.33 L1456.42 642.71 L1458.18 625.14 L1459.41 622.5 L1460.82 635.68 L1463.45 669.06 L1466.09 705.95 L1468.72 742.85 L1471.36 776.23 L1474.87 804.34 L1478.38 820.15 L1482.78 828.05 L1487.17 829.46 L1495.95 829.46" fill="none" stroke="#f73238" stroke-width="3.8" stroke-linejoin="round" stroke-linecap="round"/>
<path d="M1260.53 829.46 L1425.68 828.93 L1434.46 826.3 L1441.49 816.63 L1446.76 793.79 L1450.27 762.17 L1453.79 723.52 L1456.42 688.38 L1458.71 653.25 L1460.46 630.41 L1462.22 627.77 L1463.98 633.92 L1465.73 656.76 L1467.84 688.38 L1470.48 727.03 L1473.11 762.17 L1475.75 790.28 L1479.26 813.12 L1483.65 825.42 L1488.92 828.58 L1492.44 825.42 L1495.07 809.61 L1496.3 806.97" fill="none" stroke="#14f5f5" stroke-width="5.2" stroke-linejoin="round" stroke-linecap="round"/>
<path d="M1260.53 829.46 L1418.65 828.93 L1425.68 825.42 L1430.95 814.88 L1434.46 797.31 L1437.1 772.71 L1439.73 737.58 L1442.37 698.92 L1445 663.79 L1447.64 633.92 L1449.4 618.99 L1451.15 633.92 L1453.79 667.3 L1456.42 702.44 L1459.06 739.33 L1461.69 772.71 L1464.33 799.07 L1467.84 818.39 L1471.36 827.17 L1476.63 829.46 L1495.95 829.46" fill="none" stroke="#ffa005" stroke-width="4.4" stroke-linejoin="round" stroke-linecap="round"/>
</g>
<rect x="1262.8" y="595.3" width="235" height="235" fill="none" stroke="#000" stroke-width="2.6"/>
<path d="M1254.3 830L1261.8 830M1254.3 785.08L1261.8 785.08M1254.3 740.16L1261.8 740.16M1254.3 695.24L1261.8 695.24M1254.3 650.32L1261.8 650.32M1254.3 605.4L1261.8 605.4" stroke="#000" stroke-width="2.2" fill="none"/>
<path d="M1259 818.77L1261.8 818.77M1259 807.54L1261.8 807.54M1259 796.31L1261.8 796.31M1259 773.85L1261.8 773.85M1259 762.62L1261.8 762.62M1259 751.39L1261.8 751.39M1259 728.93L1261.8 728.93M1259 717.7L1261.8 717.7M1259 706.47L1261.8 706.47M1259 684.01L1261.8 684.01M1259 672.78L1261.8 672.78M1259 661.55L1261.8 661.55M1259 639.09L1261.8 639.09M1259 627.86L1261.8 627.86M1259 616.63L1261.8 616.63" stroke="#000" stroke-width="1.3" fill="none"/>
<text x="1235.67" y="837.2" font-size="21.5">0</text>
<text x="1223.74" y="792.28" font-size="21.5" textLength="23.92" lengthAdjust="spacing">20</text>
<text x="1223.74" y="747.36" font-size="21.5" textLength="23.92" lengthAdjust="spacing">40</text>
<text x="1223.74" y="702.44" font-size="21.5" textLength="23.92" lengthAdjust="spacing">60</text>
<text x="1223.74" y="657.52" font-size="21.5" textLength="23.92" lengthAdjust="spacing">80</text>
<text x="1211.76" y="612.6" font-size="21.5" textLength="35.87" lengthAdjust="spacing">100</text>
<path d="M1263.6 831.3L1263.6 838.5M1316.35 831.3L1316.35 838.5M1369.1 831.3L1369.1 838.5M1421.85 831.3L1421.85 838.5M1474.6 831.3L1474.6 838.5" stroke="#000" stroke-width="2.2" fill="none"/>
<path d="M1300.47 831.3L1300.47 835.9M1353.22 831.3L1353.22 835.9M1405.97 831.3L1405.97 835.9M1458.72 831.3L1458.72 835.9" stroke="#000" stroke-width="1.5" fill="none"/>
<path d="M1279.48 831.3L1279.48 833.9M1288.77 831.3L1288.77 833.9M1295.36 831.3L1295.36 833.9M1304.65 831.3L1304.65 833.9M1308.18 831.3L1308.18 833.9M1311.24 831.3L1311.24 833.9M1313.94 831.3L1313.94 833.9M1332.23 831.3L1332.23 833.9M1341.52 831.3L1341.52 833.9M1348.11 831.3L1348.11 833.9M1357.4 831.3L1357.4 833.9M1360.93 831.3L1360.93 833.9M1363.99 831.3L1363.99 833.9M1366.69 831.3L1366.69 833.9M1384.98 831.3L1384.98 833.9M1394.27 831.3L1394.27 833.9M1400.86 831.3L1400.86 833.9M1410.15 831.3L1410.15 833.9M1413.68 831.3L1413.68 833.9M1416.74 831.3L1416.74 833.9M1419.44 831.3L1419.44 833.9M1437.73 831.3L1437.73 833.9M1447.02 831.3L1447.02 833.9M1453.61 831.3L1453.61 833.9M1462.9 831.3L1462.9 833.9M1466.43 831.3L1466.43 833.9M1469.49 831.3L1469.49 833.9M1472.19 831.3L1472.19 833.9M1490.48 831.3L1490.48 833.9" stroke="#000" stroke-width="1.5" fill="none"/>
<text x="1249.13" y="863.6" font-size="22.3" textLength="24.81" lengthAdjust="spacing">10</text>
<text x="1273.92" y="853.01" font-size="13.2">0</text>
<text x="1298.53" y="863.6" font-size="22.3" textLength="24.81" lengthAdjust="spacing">10</text>
<text x="1322.85" y="853.01" font-size="13.2">1</text>
<text x="1349.23" y="863.6" font-size="22.3" textLength="24.81" lengthAdjust="spacing">10</text>
<text x="1373.88" y="853.01" font-size="13.2">2</text>
<text x="1401.33" y="863.6" font-size="22.3" textLength="24.81" lengthAdjust="spacing">10</text>
<text x="1426.15" y="853.01" font-size="13.2">3</text>
<text x="1457.43" y="863.6" font-size="22.3" textLength="24.81" lengthAdjust="spacing">10</text>
<text x="1482.45" y="853.01" font-size="13.2">4</text>
<text x="1307.68" y="584.1" font-size="31.77" textLength="151.95" lengthAdjust="spacing">DMF5 cells</text>
<rect x="1273.7" y="606.6" width="12.1" height="17.4" fill="#f73238"/>
<text x="1293.54" y="623.6" font-size="22.57" textLength="87.99" lengthAdjust="spacing">Refolded</text>
<rect x="1273.7" y="631.9" width="12.1" height="17.4" fill="#0af8f8"/>
<text x="1293.54" y="649.5" font-size="22.57" textLength="109.61" lengthAdjust="spacing">Exchanged</text>
<rect x="1273.7" y="659.2" width="12.1" height="17.4" fill="#ffa005"/>
<text x="1294.27" y="676.2" font-size="22.57" textLength="81.94" lengthAdjust="spacing">Catalytic</text>
<text x="0" y="0" font-size="29.78" textLength="73.84" lengthAdjust="spacing" transform="translate(1204.7 829.89) rotate(-90)">Count</text>
<line x1="1196" y1="739.7" x2="1196" y2="610.1" stroke="#000" stroke-width="2.6"/>
<polygon points="1196,596.1 1187.4,610.9 1204.6,610.9" fill="#000" stroke="none"/>
<text x="1244.19" y="901" font-size="31.35" fill="#222" textLength="163.33" lengthAdjust="spacing">Tetramer PE</text>
<line x1="1409.7" y1="892.5" x2="1482.5" y2="892.5" stroke="#000" stroke-width="3.6"/>
<polygon points="1501,892.5 1481.5,881.5 1481.5,903.5" fill="#000" stroke="none"/>
<!-- panel b3 -->
<clipPath id="cb2"><rect x="1260.9" y="1060.7" width="235.5" height="233.7"/></clipPath>
<g clip-path="url(#cb2)">
<path d="M1255 1292.17 L1353.38 1292.17 L1363.92 1289.54 L1374.47 1281.63 L1381.49 1272.85 L1386.76 1269.34 L1392.03 1271.97 L1397.3 1279 L1404.33 1281.63 L1411.36 1276.36 L1416.63 1262.31 L1421.02 1241.23 L1424.54 1213.12 L1428.05 1181.49 L1431.56 1149.87 L1435.08 1120 L1437.71 1097.16 L1440.35 1077.84 L1443.86 1078.72 L1446.5 1077.84 L1449.13 1095.41 L1451.77 1118.25 L1455.28 1151.63 L1458.79 1188.52 L1462.31 1221.9 L1465.82 1250.01 L1470.21 1271.09 L1475.48 1283.39 L1481.63 1289.54 L1490.42 1290.42 L1493.05 1267.58 L1496.57 1266.7" fill="none" stroke="#f73238" stroke-width="4.6" stroke-linejoin="round" stroke-linecap="round"/>
<path d="M1255 1292.17 L1321.76 1292.53 L1339.33 1291.3 L1353.38 1287.78 L1367.44 1280.76 L1376.22 1274.61 L1383.25 1272.85 L1388.52 1276.36 L1395.55 1284.27 L1402.58 1288.66 L1409.6 1286.9 L1416.63 1278.12 L1421.9 1258.79 L1425.41 1234.2 L1428.93 1202.58 L1431.56 1170.95 L1434.2 1137.57 L1436.83 1107.71 L1438.59 1086.62 L1440.35 1076.96 L1442.1 1083.11 L1443.86 1081.35 L1446.5 1104.19 L1449.13 1132.3 L1451.77 1163.92 L1455.28 1200.82 L1458.79 1234.2 L1462.31 1260.55 L1465.82 1278.12 L1471.09 1287.78 L1478.12 1291.3 L1490.42 1291.3 L1493.05 1269.34 L1496.57 1268.46" fill="none" stroke="#14f5f5" stroke-width="4.6" stroke-linejoin="round" stroke-linecap="round"/>
<path d="M1260.27 1265.82 L1262.03 1283.39 L1264.66 1292.17 L1307.71 1292.17 L1325.27 1290.42 L1342.84 1287.78 L1356.9 1283.39 L1367.44 1279.88 L1372.71 1280.76 L1377.98 1285.15 L1383.25 1289.54 L1390.28 1289.54 L1399.06 1285.15 L1406.09 1276.36 L1409.6 1258.79 L1413.12 1230.69 L1416.63 1199.06 L1420.14 1163.92 L1423.66 1130.54 L1427.17 1104.19 L1430.69 1084.87 L1432.44 1090.14 L1434.2 1077.84 L1436.83 1100.68 L1439.47 1130.54 L1442.98 1167.44 L1446.5 1204.33 L1450.01 1235.96 L1453.52 1260.55 L1457.92 1279.88 L1463.19 1288.66 L1471.09 1291.82 L1490.42 1291.82 L1492.17 1281.63 L1493.93 1272.85 L1496.57 1272.85" fill="none" stroke="#ff9a2e" stroke-width="4.6" stroke-linejoin="round" stroke-linecap="round"/>
</g>
<rect x="1260.9" y="1060.7" width="235.5" height="232.7" fill="none" stroke="#000" stroke-width="2.6"/>
<path d="M1252.4 1293.1L1259.9 1293.1M1252.4 1248.86L1259.9 1248.86M1252.4 1204.62L1259.9 1204.62M1252.4 1160.38L1259.9 1160.38M1252.4 1116.14L1259.9 1116.14M1252.4 1071.9L1259.9 1071.9" stroke="#000" stroke-width="2.2" fill="none"/>
<path d="M1257.1 1282.04L1259.9 1282.04M1257.1 1270.98L1259.9 1270.98M1257.1 1259.92L1259.9 1259.92M1257.1 1237.8L1259.9 1237.8M1257.1 1226.74L1259.9 1226.74M1257.1 1215.68L1259.9 1215.68M1257.1 1193.56L1259.9 1193.56M1257.1 1182.5L1259.9 1182.5M1257.1 1171.44L1259.9 1171.44M1257.1 1149.32L1259.9 1149.32M1257.1 1138.26L1259.9 1138.26M1257.1 1127.2L1259.9 1127.2M1257.1 1105.08L1259.9 1105.08M1257.1 1094.02L1259.9 1094.02M1257.1 1082.96L1259.9 1082.96" stroke="#000" stroke-width="1.3" fill="none"/>
<text x="1235.67" y="1300.3" font-size="21.5">0</text>
<text x="1223.74" y="1256.06" font-size="21.5" textLength="23.92" lengthAdjust="spacing">20</text>
<text x="1223.74" y="1211.82" font-size="21.5" textLength="23.92" lengthAdjust="spacing">40</text>
<text x="1223.74" y="1167.58" font-size="21.5" textLength="23.92" lengthAdjust="spacing">60</text>
<text x="1223.74" y="1123.34" font-size="21.5" textLength="23.92" lengthAdjust="spacing">80</text>
<text x="1211.76" y="1079.1" font-size="21.5" textLength="35.87" lengthAdjust="spacing">100</text>
<path d="M1262 1294.4L1262 1301.6M1314.7 1294.4L1314.7 1301.6M1367.4 1294.4L1367.4 1301.6M1420.1 1294.4L1420.1 1301.6M1472.8 1294.4L1472.8 1301.6" stroke="#000" stroke-width="2.2" fill="none"/>
<path d="M1298.84 1294.4L1298.84 1299M1351.54 1294.4L1351.54 1299M1404.24 1294.4L1404.24 1299M1456.94 1294.4L1456.94 1299" stroke="#000" stroke-width="1.5" fill="none"/>
<path d="M1277.86 1294.4L1277.86 1297M1287.14 1294.4L1287.14 1297M1293.73 1294.4L1293.73 1297M1303.01 1294.4L1303.01 1297M1306.54 1294.4L1306.54 1297M1309.59 1294.4L1309.59 1297M1312.29 1294.4L1312.29 1297M1330.56 1294.4L1330.56 1297M1339.84 1294.4L1339.84 1297M1346.43 1294.4L1346.43 1297M1355.71 1294.4L1355.71 1297M1359.24 1294.4L1359.24 1297M1362.29 1294.4L1362.29 1297M1364.99 1294.4L1364.99 1297M1383.26 1294.4L1383.26 1297M1392.54 1294.4L1392.54 1297M1399.13 1294.4L1399.13 1297M1408.41 1294.4L1408.41 1297M1411.94 1294.4L1411.94 1297M1414.99 1294.4L1414.99 1297M1417.69 1294.4L1417.69 1297M1435.96 1294.4L1435.96 1297M1445.24 1294.4L1445.24 1297M1451.83 1294.4L1451.83 1297M1461.11 1294.4L1461.11 1297M1464.64 1294.4L1464.64 1297M1467.69 1294.4L1467.69 1297M1470.39 1294.4L1470.39 1297M1488.66 1294.4L1488.66 1297" stroke="#000" stroke-width="1.5" fill="none"/>
<text x="1249.13" y="1325.1" font-size="22.3" textLength="24.81" lengthAdjust="spacing">10</text>
<text x="1273.92" y="1314.51" font-size="13.2">0</text>
<text x="1298.53" y="1325.1" font-size="22.3" textLength="24.81" lengthAdjust="spacing">10</text>
<text x="1322.85" y="1314.51" font-size="13.2">1</text>
<text x="1349.23" y="1325.1" font-size="22.3" textLength="24.81" lengthAdjust="spacing">10</text>
<text x="1373.88" y="1314.51" font-size="13.2">2</text>
<text x="1402.63" y="1325.1" font-size="22.3" textLength="24.81" lengthAdjust="spacing">10</text>
<text x="1427.45" y="1314.51" font-size="13.2">3</text>
<text x="1457.43" y="1325.1" font-size="22.3" textLength="24.81" lengthAdjust="spacing">10</text>
<text x="1482.45" y="1314.51" font-size="13.2">4</text>
<text x="1276.78" y="1048.2" font-size="31.77" textLength="203.93" lengthAdjust="spacing">NY-ESO-1 cells</text>
<rect x="1273.2" y="1073.4" width="12.6" height="17.6" fill="#f73238"/>
<text x="1293.54" y="1090.9" font-size="22.57" textLength="87.99" lengthAdjust="spacing">Refolded</text>
<rect x="1273.2" y="1098.7" width="12.6" height="17.7" fill="#0af8f8"/>
<text x="1293.54" y="1116.3" font-size="22.57" textLength="109.61" lengthAdjust="spacing">Exchanged</text>
<rect x="1273.2" y="1125.4" width="12.6" height="17.7" fill="#ffa005"/>
<text x="1294.27" y="1143" font-size="22.57" textLength="81.94" lengthAdjust="spacing">Catalytic</text>
<text x="0" y="0" font-size="29.78" textLength="74.34" lengthAdjust="spacing" transform="translate(1204.2 1298.49) rotate(-90)">Count</text>
<line x1="1196" y1="1208.9" x2="1196" y2="1079.3" stroke="#000" stroke-width="2.6"/>
<polygon points="1196,1065.3 1187.4,1080.1 1204.6,1080.1" fill="#000" stroke="none"/>
<text x="1244.19" y="1361.9" font-size="31.35" fill="#222" textLength="163.33" lengthAdjust="spacing">Tetramer PE</text>
<line x1="1414.5" y1="1353.1" x2="1483.3" y2="1353.1" stroke="#000" stroke-width="3.6"/>
<polygon points="1501.8,1353.1 1482.3,1342.1 1482.3,1364.1" fill="#000" stroke="none"/>
<text x="1547.33" y="30.6" font-size="41.8" font-weight="bold">c</text>
<!-- panel c1 -->
<line x1="1663.7" y1="135.1" x2="1663.7" y2="394.3" stroke="#000" stroke-width="2.8"/>
<line x1="1640.4" y1="371.5" x2="1986.9" y2="371.5" stroke="#000" stroke-width="2.8"/>
<line x1="1640.4" y1="136.5" x2="1663.7" y2="136.5" stroke="#000" stroke-width="2.8"/>
<line x1="1640.4" y1="254" x2="1663.7" y2="254" stroke="#000" stroke-width="2.8"/>
<line x1="1716.9" y1="371.5" x2="1716.9" y2="394.3" stroke="#000" stroke-width="2.8"/>
<line x1="1770.5" y1="371.5" x2="1770.5" y2="394.3" stroke="#000" stroke-width="2.8"/>
<line x1="1824.5" y1="371.5" x2="1824.5" y2="394.3" stroke="#000" stroke-width="2.8"/>
<line x1="1877.9" y1="371.5" x2="1877.9" y2="394.3" stroke="#000" stroke-width="2.8"/>
<line x1="1931.9" y1="371.5" x2="1931.9" y2="394.3" stroke="#000" stroke-width="2.8"/>
<line x1="1985.5" y1="371.5" x2="1985.5" y2="394.3" stroke="#000" stroke-width="2.8"/>
<text x="1588.79" y="146.2" font-size="27" textLength="45.05" lengthAdjust="spacing">100</text>
<text x="1603.84" y="263.7" font-size="27" textLength="30.03" lengthAdjust="spacing">50</text>
<text x="1618.83" y="381.2" font-size="27">0</text>
<text x="0" y="0" font-size="27.3" text-anchor="end" transform="translate(1670.9 414) rotate(-45)">0.0001</text>
<text x="0" y="0" font-size="27.3" text-anchor="end" transform="translate(1726.8 414) rotate(-45)">0.001</text>
<text x="0" y="0" font-size="27.3" text-anchor="end" transform="translate(1783.1 414) rotate(-45)">0.01</text>
<text x="0" y="0" font-size="27.3" text-anchor="end" transform="translate(1838.2 414) rotate(-45)">0.1</text>
<text x="0" y="0" font-size="27.3" text-anchor="end" transform="translate(1892.4 414) rotate(-45)">1</text>
<text x="0" y="0" font-size="27.3" text-anchor="end" transform="translate(1945.9 414) rotate(-45)">10</text>
<text x="0" y="0" font-size="27.3" text-anchor="end" transform="translate(1998.9 414) rotate(-45)">100</text>
<text x="0" y="0" font-size="32.39" textLength="184.01" lengthAdjust="spacing" transform="translate(1576.4 348.43) rotate(-90)">% Tetramer +</text>
<text x="1728.81" y="493.5" font-size="31.35" textLength="191.46" lengthAdjust="spacing">[pMHC] µg/mL</text>
<path d="M1850.45 272.72V317.31M1844.15 272.72H1856.75M1844.15 317.31H1856.75M1866.57 207.27V243.7M1860.27 207.27H1872.87M1860.27 243.7H1872.87M1882.7 179.76V210.68M1876.4 179.76H1889M1876.4 210.68H1889M1898.82 167.43V193.42M1892.52 167.43H1905.12M1892.52 193.42H1905.12M1914.76 160.79V170.84M1908.46 160.79H1921.06M1908.46 170.84H1921.06" fill="none" stroke="#22ffff" stroke-width="3.1" stroke-linecap="round"/>
<path d="M1716.7 371.38 L1802.45 371.38 L1818 366.63 L1834.13 339.12 L1850.45 294.92 L1866.57 225.48 L1882.7 194.94 L1898.82 180.71 L1914.76 165.53 L1931.08 155.1 L1947.2 145.61 L1957.45 142.39" fill="none" stroke="#22ffff" stroke-width="3.8" stroke-linejoin="round" stroke-linecap="round"/>
<circle cx="1716.7" cy="371.38" r="5.7" fill="#22ffff"/>
<circle cx="1802.45" cy="371.38" r="5.7" fill="#22ffff"/>
<circle cx="1818" cy="366.63" r="5.7" fill="#22ffff"/>
<circle cx="1834.13" cy="339.12" r="5.7" fill="#22ffff"/>
<circle cx="1850.45" cy="294.92" r="5.7" fill="#22ffff"/>
<circle cx="1866.57" cy="225.48" r="5.7" fill="#22ffff"/>
<circle cx="1882.7" cy="194.94" r="5.7" fill="#22ffff"/>
<circle cx="1898.82" cy="180.71" r="5.7" fill="#22ffff"/>
<circle cx="1914.76" cy="165.53" r="5.7" fill="#22ffff"/>
<circle cx="1931.08" cy="155.1" r="5.7" fill="#22ffff"/>
<circle cx="1947.2" cy="145.61" r="5.7" fill="#22ffff"/>
<circle cx="1957.45" cy="142.39" r="5.7" fill="#22ffff"/>
<path d="M1818 296.06V334M1811.7 296.06H1824.3M1811.7 334H1824.3M1834.32 252.8V297.39M1828.02 252.8H1840.62M1828.02 297.39H1840.62M1850.45 174.64V213.34M1844.15 174.64H1856.75M1844.15 213.34H1856.75M1866.57 170.28V201.2M1860.27 170.28H1872.87M1860.27 201.2H1872.87M1883.08 146.18V181.66M1876.78 146.18H1889.38M1876.78 181.66H1889.38M1898.82 143.15V171.22M1892.52 143.15H1905.12M1892.52 171.22H1905.12" fill="none" stroke="#ff0000" stroke-width="3.1" stroke-linecap="round"/>
<path d="M1716.7 370.81 L1802.45 361.32 L1818 315.03 L1834.32 275.19 L1850.45 193.99 L1866.57 186.02 L1883.08 164.01 L1898.82 156.99 L1914.76 154.15 L1931.08 144.28 L1947.2 140.49 L1957.45 142.39" fill="none" stroke="#ff0000" stroke-width="3.8" stroke-linejoin="round" stroke-linecap="round"/>
<circle cx="1716.7" cy="370.81" r="7.4" fill="#ee343a"/>
<circle cx="1802.45" cy="361.32" r="7.4" fill="#ee343a"/>
<circle cx="1818" cy="315.03" r="7.4" fill="#ee343a"/>
<circle cx="1834.32" cy="275.19" r="7.4" fill="#ee343a"/>
<circle cx="1850.45" cy="193.99" r="7.4" fill="#ee343a"/>
<circle cx="1866.57" cy="186.02" r="7.4" fill="#ee343a"/>
<circle cx="1883.08" cy="164.01" r="7.4" fill="#ee343a"/>
<circle cx="1898.82" cy="156.99" r="7.4" fill="#ee343a"/>
<circle cx="1914.76" cy="154.15" r="7.4" fill="#ee343a"/>
<circle cx="1931.08" cy="144.28" r="7.4" fill="#ee343a"/>
<circle cx="1947.2" cy="140.49" r="7.4" fill="#ee343a"/>
<circle cx="1957.45" cy="142.39" r="7.4" fill="#ee343a"/>
<text x="1671.86" y="171.7" font-size="27.17" textLength="36.94" lengthAdjust="spacing">EC</text>
<text x="1707.72" y="178.1" font-size="19.5" textLength="22.56" lengthAdjust="spacing">50</text>
<circle cx="1686.8" cy="197" r="10.1" fill="#ee343a"/>
<text x="1700.76" y="205.4" font-size="23.62" textLength="108.54" lengthAdjust="spacing">0.16 µg/mL</text>
<circle cx="1686.8" cy="222.8" r="10.1" fill="#22ffff"/>
<text x="1700.76" y="231.5" font-size="23.62" textLength="109.24" lengthAdjust="spacing">0.44 µg/mL</text>
<line x1="1868.7" y1="309.4" x2="1899" y2="309.4" stroke="#ff0000" stroke-width="3.7" stroke-linecap="round"/>
<circle cx="1883.5" cy="309.4" r="7.6" fill="#ee343a"/>
<text x="1908.69" y="317.8" font-size="25.6" textLength="100.73" lengthAdjust="spacing">Refolded</text>
<line x1="1870" y1="346.8" x2="1899.8" y2="346.8" stroke="#22ffff" stroke-width="3.7" stroke-linecap="round"/>
<circle cx="1885" cy="346.8" r="5.6" fill="#22ffff"/>
<text x="1908.69" y="355.2" font-size="25.6" textLength="122.25" lengthAdjust="spacing">Exchanged</text>
<!-- panel c2 -->
<line x1="1662.9" y1="596" x2="1662.9" y2="855.4" stroke="#000" stroke-width="2.8"/>
<line x1="1639.6" y1="832.6" x2="1985.6" y2="832.6" stroke="#000" stroke-width="2.8"/>
<line x1="1639.6" y1="597.4" x2="1662.9" y2="597.4" stroke="#000" stroke-width="2.8"/>
<line x1="1639.6" y1="715" x2="1662.9" y2="715" stroke="#000" stroke-width="2.8"/>
<line x1="1715.8" y1="832.6" x2="1715.8" y2="855.4" stroke="#000" stroke-width="2.8"/>
<line x1="1769.7" y1="832.6" x2="1769.7" y2="855.4" stroke="#000" stroke-width="2.8"/>
<line x1="1823.1" y1="832.6" x2="1823.1" y2="855.4" stroke="#000" stroke-width="2.8"/>
<line x1="1877.4" y1="832.6" x2="1877.4" y2="855.4" stroke="#000" stroke-width="2.8"/>
<line x1="1930.8" y1="832.6" x2="1930.8" y2="855.4" stroke="#000" stroke-width="2.8"/>
<line x1="1984.2" y1="832.6" x2="1984.2" y2="855.4" stroke="#000" stroke-width="2.8"/>
<text x="1588.79" y="607.1" font-size="27" textLength="45.05" lengthAdjust="spacing">100</text>
<text x="1603.84" y="724.7" font-size="27" textLength="30.03" lengthAdjust="spacing">50</text>
<text x="1618.83" y="842.3" font-size="27">0</text>
<text x="0" y="0" font-size="27.3" text-anchor="end" transform="translate(1670.6 877.4) rotate(-45)">0.0001</text>
<text x="0" y="0" font-size="27.3" text-anchor="end" transform="translate(1726.2 877.4) rotate(-45)">0.001</text>
<text x="0" y="0" font-size="27.3" text-anchor="end" transform="translate(1782.8 877.4) rotate(-45)">0.01</text>
<text x="0" y="0" font-size="27.3" text-anchor="end" transform="translate(1837.3 877.4) rotate(-45)">0.1</text>
<text x="0" y="0" font-size="27.3" text-anchor="end" transform="translate(1892.4 877.4) rotate(-45)">1</text>
<text x="0" y="0" font-size="27.3" text-anchor="end" transform="translate(1945.3 877.4) rotate(-45)">10</text>
<text x="0" y="0" font-size="27.3" text-anchor="end" transform="translate(1998.1 877.4) rotate(-45)">100</text>
<text x="0" y="0" font-size="32.39" textLength="184.01" lengthAdjust="spacing" transform="translate(1576.4 809.13) rotate(-90)">% Tetramer +</text>
<text x="1728.81" y="961" font-size="31.35" textLength="191.46" lengthAdjust="spacing">[pMHC] µg/mL</text>
<path d="M1785.37 805.76V828.53M1779.07 805.76H1791.67M1779.07 828.53H1791.67M1801.5 735.95V762.13M1795.2 735.95H1807.8M1795.2 762.13H1807.8M1817.62 628.38V657.21M1811.32 628.38H1823.92M1811.32 657.21H1823.92" fill="none" stroke="#22ffff" stroke-width="3.1" stroke-linecap="round"/>
<path d="M1715.75 826.63 L1785.37 814.3 L1801.5 748.85 L1817.62 642.61 L1833.37 608.46 L1849.88 606.56 L1866 605.61 L1882.13 604.66 L1898.25 604.66 L1914 604.66 L1930.51 599.92 L1946.63 601.25" fill="none" stroke="#22ffff" stroke-width="3.8" stroke-linejoin="round" stroke-linecap="round"/>
<circle cx="1715.75" cy="826.63" r="5.7" fill="#22ffff"/>
<circle cx="1785.37" cy="814.3" r="5.7" fill="#22ffff"/>
<circle cx="1801.5" cy="748.85" r="5.7" fill="#22ffff"/>
<circle cx="1817.62" cy="642.61" r="5.7" fill="#22ffff"/>
<circle cx="1833.37" cy="608.46" r="5.7" fill="#22ffff"/>
<circle cx="1849.88" cy="606.56" r="5.7" fill="#22ffff"/>
<circle cx="1866" cy="605.61" r="5.7" fill="#22ffff"/>
<circle cx="1882.13" cy="604.66" r="5.7" fill="#22ffff"/>
<circle cx="1898.25" cy="604.66" r="5.7" fill="#22ffff"/>
<circle cx="1914" cy="604.66" r="5.7" fill="#22ffff"/>
<circle cx="1930.51" cy="599.92" r="5.7" fill="#22ffff"/>
<circle cx="1946.63" cy="601.25" r="5.7" fill="#22ffff"/>
<path d="M1785.37 800.07V830.05M1779.07 800.07H1791.67M1779.07 830.05H1791.67M1801.5 742.21V789.64M1795.2 742.21H1807.8M1795.2 789.64H1807.8M1817.62 604.66V637.86M1811.32 604.66H1823.92M1811.32 637.86H1823.92M1833.37 598.59V626.48M1827.07 598.59H1839.67M1827.07 626.48H1839.67M1849.88 598.4V639.76M1843.58 598.4H1856.18M1843.58 639.76H1856.18M1930.51 598.97V615.67M1924.21 598.97H1936.81M1924.21 615.67H1936.81" fill="none" stroke="#ff0000" stroke-width="3.1" stroke-linecap="round"/>
<path d="M1715.75 831.38 L1785.37 815.25 L1801.5 765.92 L1817.62 621.36 L1833.37 612.63 L1849.88 617.94 L1866 603.71 L1882.13 603.15 L1898.25 602.77 L1914 603.71 L1930.51 607.51 L1946.63 601.25" fill="none" stroke="#ff0000" stroke-width="3.8" stroke-linejoin="round" stroke-linecap="round"/>
<circle cx="1715.75" cy="831.38" r="7.4" fill="#ee343a"/>
<circle cx="1785.37" cy="815.25" r="7.4" fill="#ee343a"/>
<circle cx="1801.5" cy="765.92" r="7.4" fill="#ee343a"/>
<circle cx="1817.62" cy="621.36" r="7.4" fill="#ee343a"/>
<circle cx="1833.37" cy="612.63" r="7.4" fill="#ee343a"/>
<circle cx="1849.88" cy="617.94" r="7.4" fill="#ee343a"/>
<circle cx="1866" cy="603.71" r="7.4" fill="#ee343a"/>
<circle cx="1882.13" cy="603.15" r="7.4" fill="#ee343a"/>
<circle cx="1898.25" cy="602.77" r="7.4" fill="#ee343a"/>
<circle cx="1914" cy="603.71" r="7.4" fill="#ee343a"/>
<circle cx="1930.51" cy="607.51" r="7.4" fill="#ee343a"/>
<circle cx="1946.63" cy="601.25" r="7.4" fill="#ee343a"/>
<text x="1671.86" y="624.5" font-size="27.17" textLength="36.94" lengthAdjust="spacing">EC</text>
<text x="1707.72" y="630.9" font-size="19.5" textLength="22.56" lengthAdjust="spacing">50</text>
<circle cx="1680" cy="652.5" r="8.6" fill="#ee343a"/>
<text x="1690.56" y="660.5" font-size="23.62" textLength="108.54" lengthAdjust="spacing">0.05 µg/mL</text>
<circle cx="1680" cy="677" r="8.6" fill="#22ffff"/>
<text x="1690.56" y="685" font-size="23.62" textLength="109.24" lengthAdjust="spacing">0.05 µg/mL</text>
<line x1="1862.3" y1="770" x2="1892.3" y2="770" stroke="#ff0000" stroke-width="3.7" stroke-linecap="round"/>
<circle cx="1877.2" cy="770" r="7.6" fill="#ee343a"/>
<text x="1902.39" y="779" font-size="25.6" textLength="100.73" lengthAdjust="spacing">Refolded</text>
<line x1="1863" y1="807.5" x2="1892.8" y2="807.5" stroke="#22ffff" stroke-width="3.7" stroke-linecap="round"/>
<circle cx="1878.5" cy="807.5" r="5.6" fill="#22ffff"/>
<text x="1902.39" y="816" font-size="25.6" textLength="122.25" lengthAdjust="spacing">Exchanged</text>
<!-- panel c3 -->
<line x1="1664.3" y1="1059" x2="1664.3" y2="1318.8" stroke="#000" stroke-width="2.8"/>
<line x1="1641" y1="1296" x2="1987" y2="1296" stroke="#000" stroke-width="2.8"/>
<line x1="1641" y1="1060.4" x2="1664.3" y2="1060.4" stroke="#000" stroke-width="2.8"/>
<line x1="1641" y1="1178.2" x2="1664.3" y2="1178.2" stroke="#000" stroke-width="2.8"/>
<line x1="1717.7" y1="1296" x2="1717.7" y2="1318.8" stroke="#000" stroke-width="2.8"/>
<line x1="1771.1" y1="1296" x2="1771.1" y2="1318.8" stroke="#000" stroke-width="2.8"/>
<line x1="1824.5" y1="1296" x2="1824.5" y2="1318.8" stroke="#000" stroke-width="2.8"/>
<line x1="1878.5" y1="1296" x2="1878.5" y2="1318.8" stroke="#000" stroke-width="2.8"/>
<line x1="1931.9" y1="1296" x2="1931.9" y2="1318.8" stroke="#000" stroke-width="2.8"/>
<line x1="1985.6" y1="1296" x2="1985.6" y2="1318.8" stroke="#000" stroke-width="2.8"/>
<text x="1588.79" y="1070.1" font-size="27" textLength="45.05" lengthAdjust="spacing">100</text>
<text x="1603.84" y="1187.9" font-size="27" textLength="30.03" lengthAdjust="spacing">50</text>
<text x="1618.83" y="1305.7" font-size="27">0</text>
<text x="0" y="0" font-size="27.3" text-anchor="end" transform="translate(1679 1341.3) rotate(-45)">0.0001</text>
<text x="0" y="0" font-size="27.3" text-anchor="end" transform="translate(1735.1 1341.3) rotate(-45)">0.001</text>
<text x="0" y="0" font-size="27.3" text-anchor="end" transform="translate(1791.2 1341.3) rotate(-45)">0.01</text>
<text x="0" y="0" font-size="27.3" text-anchor="end" transform="translate(1845.7 1341.3) rotate(-45)">0.1</text>
<text x="0" y="0" font-size="27.3" text-anchor="end" transform="translate(1900.5 1341.3) rotate(-45)">1</text>
<text x="0" y="0" font-size="27.3" text-anchor="end" transform="translate(1953.4 1341.3) rotate(-45)">10</text>
<text x="0" y="0" font-size="27.3" text-anchor="end" transform="translate(2006.5 1341.3) rotate(-45)">100</text>
<text x="0" y="0" font-size="32.39" textLength="184.01" lengthAdjust="spacing" transform="translate(1576.4 1272.13) rotate(-90)">% Tetramer +</text>
<text x="1728.81" y="1417.1" font-size="31.35" textLength="191.46" lengthAdjust="spacing">[pMHC] µg/mL</text>
<path d="M1802.45 1264.97V1284.32M1796.15 1264.97H1808.75M1796.15 1284.32H1808.75M1818.57 1208.05V1222.47M1812.27 1208.05H1824.87M1812.27 1222.47H1824.87M1834.7 1153.42V1203.31M1828.4 1153.42H1841M1828.4 1203.31H1841M1851.2 1108.45V1122.3M1844.9 1108.45H1857.5M1844.9 1122.3H1857.5M1883.08 1081.89V1114.14M1876.78 1081.89H1889.38M1876.78 1114.14H1889.38M1931.46 1078.1V1093.28M1925.16 1078.1H1937.76M1925.16 1093.28H1937.76" fill="none" stroke="#22ffff" stroke-width="3.1" stroke-linecap="round"/>
<path d="M1717.07 1294.38 L1786.32 1291.91 L1802.45 1274.46 L1818.57 1215.07 L1834.7 1178.65 L1851.2 1113.2 L1866.95 1098.97 L1883.08 1098.02 L1899.2 1083.79 L1915.33 1076.2 L1931.46 1083.79 L1947.58 1067.09" fill="none" stroke="#22ffff" stroke-width="3.8" stroke-linejoin="round" stroke-linecap="round"/>
<circle cx="1717.07" cy="1294.38" r="5.7" fill="#22ffff"/>
<circle cx="1786.32" cy="1291.91" r="5.7" fill="#22ffff"/>
<circle cx="1802.45" cy="1274.46" r="5.7" fill="#22ffff"/>
<circle cx="1818.57" cy="1215.07" r="5.7" fill="#22ffff"/>
<circle cx="1834.7" cy="1178.65" r="5.7" fill="#22ffff"/>
<circle cx="1851.2" cy="1113.2" r="5.7" fill="#22ffff"/>
<circle cx="1866.95" cy="1098.97" r="5.7" fill="#22ffff"/>
<circle cx="1883.08" cy="1098.02" r="5.7" fill="#22ffff"/>
<circle cx="1899.2" cy="1083.79" r="5.7" fill="#22ffff"/>
<circle cx="1915.33" cy="1076.2" r="5.7" fill="#22ffff"/>
<circle cx="1931.46" cy="1083.79" r="5.7" fill="#22ffff"/>
<circle cx="1947.58" cy="1067.09" r="5.7" fill="#22ffff"/>
<path d="M1717.07 1270.28V1293.05M1710.77 1270.28H1723.37M1710.77 1293.05H1723.37M1786.32 1251.31V1284.89M1780.02 1251.31H1792.62M1780.02 1284.89H1792.62M1802.45 1217.16V1251.69M1796.15 1217.16H1808.75M1796.15 1251.69H1808.75M1818.57 1153.42V1209M1812.27 1153.42H1824.87M1812.27 1209H1824.87M1851.2 1096.12V1117.37M1844.9 1096.12H1857.5M1844.9 1117.37H1857.5M1899.2 1066.15V1092.33M1892.9 1066.15H1905.5M1892.9 1092.33H1905.5" fill="none" stroke="#ff0000" stroke-width="3.1" stroke-linecap="round"/>
<path d="M1717.07 1281.66 L1786.32 1267.82 L1802.45 1234.61 L1818.57 1181.11 L1834.7 1134.63 L1851.2 1106.56 L1866.95 1088.53 L1883.08 1088.53 L1899.2 1079.05 L1915.33 1070.13 L1931.46 1067.28 L1947.58 1067.09" fill="none" stroke="#ff0000" stroke-width="3.8" stroke-linejoin="round" stroke-linecap="round"/>
<circle cx="1717.07" cy="1281.66" r="7.4" fill="#ee343a"/>
<circle cx="1786.32" cy="1267.82" r="7.4" fill="#ee343a"/>
<circle cx="1802.45" cy="1234.61" r="7.4" fill="#ee343a"/>
<circle cx="1818.57" cy="1181.11" r="7.4" fill="#ee343a"/>
<circle cx="1834.7" cy="1134.63" r="7.4" fill="#ee343a"/>
<circle cx="1851.2" cy="1106.56" r="7.4" fill="#ee343a"/>
<circle cx="1866.95" cy="1088.53" r="7.4" fill="#ee343a"/>
<circle cx="1883.08" cy="1088.53" r="7.4" fill="#ee343a"/>
<circle cx="1899.2" cy="1079.05" r="7.4" fill="#ee343a"/>
<circle cx="1915.33" cy="1070.13" r="7.4" fill="#ee343a"/>
<circle cx="1931.46" cy="1067.28" r="7.4" fill="#ee343a"/>
<circle cx="1947.58" cy="1067.09" r="7.4" fill="#ee343a"/>
<text x="1671.86" y="1094.7" font-size="27.17" textLength="36.94" lengthAdjust="spacing">EC</text>
<text x="1707.72" y="1101.1" font-size="19.5" textLength="22.56" lengthAdjust="spacing">50</text>
<circle cx="1681" cy="1119" r="8.4" fill="#ee343a"/>
<text x="1694.06" y="1128" font-size="23.62" textLength="108.54" lengthAdjust="spacing">0.09 µg/mL</text>
<circle cx="1681" cy="1143.5" r="8.4" fill="#22ffff"/>
<text x="1694.06" y="1152.5" font-size="23.62" textLength="109.24" lengthAdjust="spacing">0.12 µg/mL</text>
<line x1="1855" y1="1231" x2="1884.8" y2="1231" stroke="#ff0000" stroke-width="3.7" stroke-linecap="round"/>
<circle cx="1869.5" cy="1231" r="7.6" fill="#ee343a"/>
<text x="1894.39" y="1239.5" font-size="25.6" textLength="100.73" lengthAdjust="spacing">Refolded</text>
<line x1="1856" y1="1268" x2="1885.8" y2="1268" stroke="#22ffff" stroke-width="3.7" stroke-linecap="round"/>
<circle cx="1871" cy="1268" r="5.6" fill="#22ffff"/>
<text x="1894.39" y="1277" font-size="25.6" textLength="122.25" lengthAdjust="spacing">Exchanged</text>
</g></svg>
</body></html>
